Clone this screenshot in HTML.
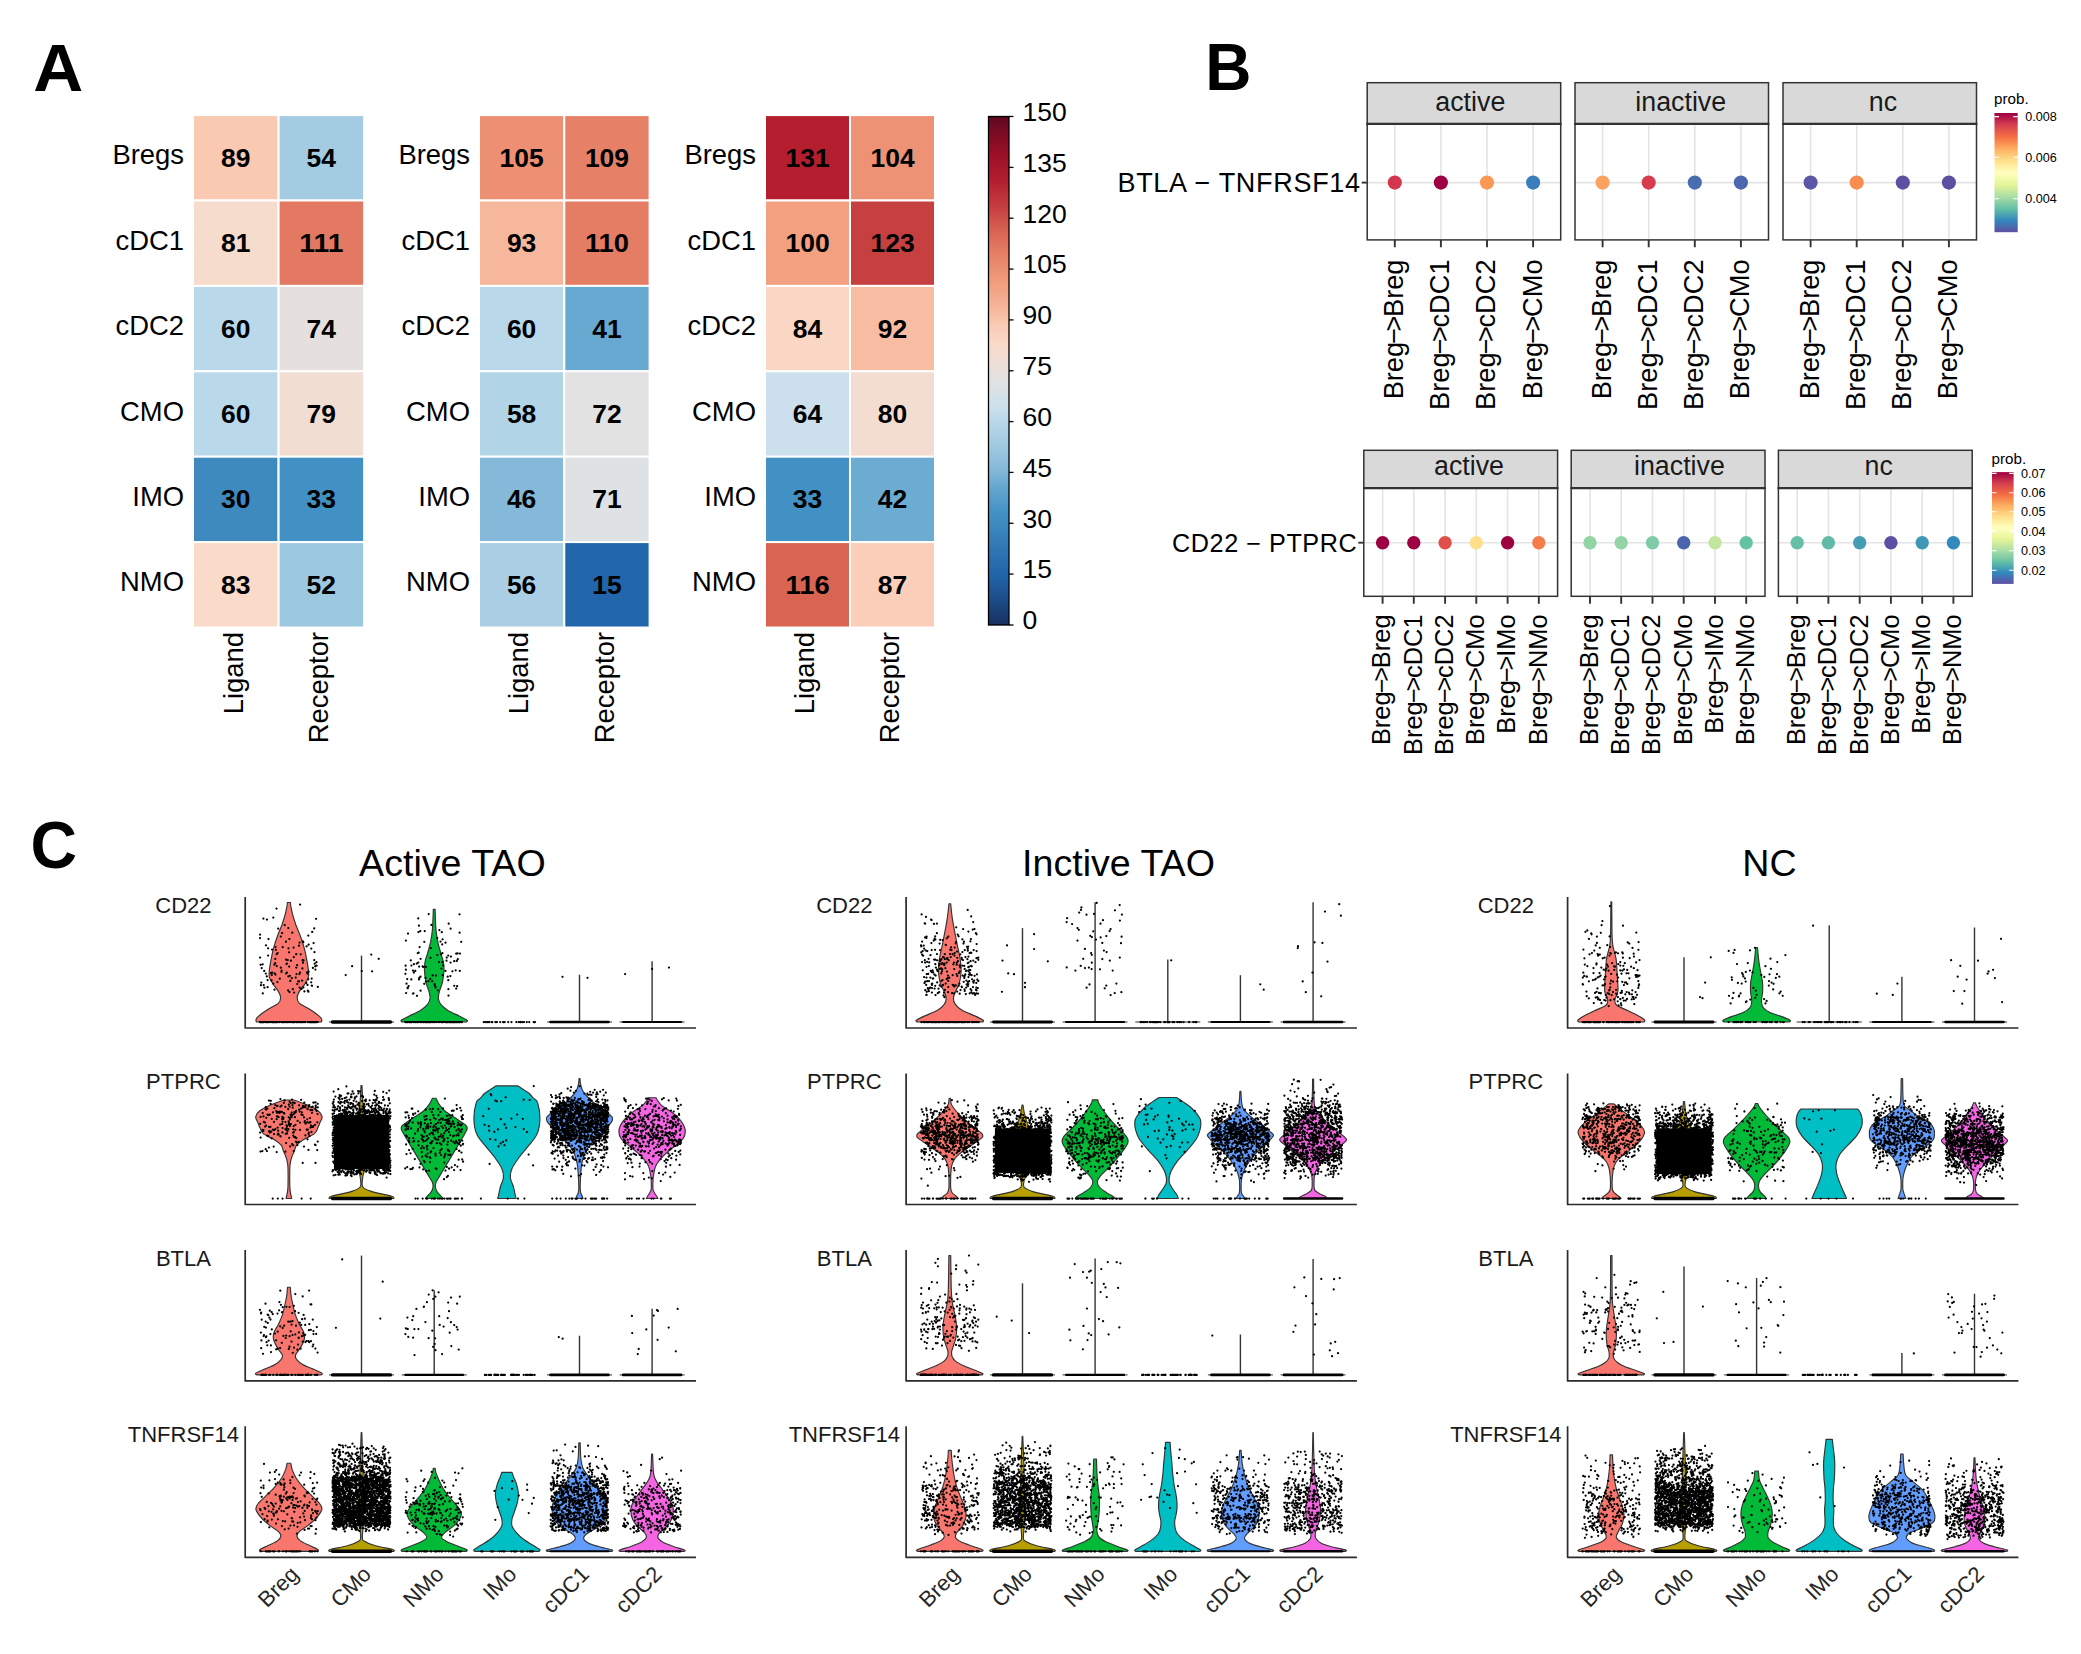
<!DOCTYPE html>
<html><head><meta charset="utf-8"><title>Figure</title>
<style>
html,body{margin:0;padding:0;background:#fff;}
body{width:2081px;height:1654px;overflow:hidden;}
svg{display:block;font-family:"Liberation Sans", sans-serif;}
</style></head><body>
<svg width="2081" height="1654" viewBox="0 0 2081 1654">
<rect width="2081" height="1654" fill="#fff"/>
<text x="33.3" y="90.8" font-size="67.5" font-weight="bold" fill="#000" textLength="50.0" lengthAdjust="spacingAndGlyphs">A</text>
<rect x="193.0" y="115.1" width="85.55" height="85.4" fill="#f9c9b1" stroke="#fff" stroke-width="2"/>
<text x="221.1" y="166.8" font-size="25.3" font-weight="bold" textLength="29.4" lengthAdjust="spacingAndGlyphs" fill="#000">89</text>
<rect x="278.6" y="115.1" width="85.55" height="85.4" fill="#a3cce2" stroke="#fff" stroke-width="2"/>
<text x="306.6" y="166.8" font-size="25.3" font-weight="bold" textLength="29.4" lengthAdjust="spacingAndGlyphs" fill="#000">54</text>
<text x="184.0" y="164.4" font-size="27.4" text-anchor="end" fill="#000">Bregs</text>
<rect x="193.0" y="200.5" width="85.55" height="85.4" fill="#f6dccd" stroke="#fff" stroke-width="2"/>
<text x="221.1" y="252.2" font-size="25.3" font-weight="bold" textLength="29.4" lengthAdjust="spacingAndGlyphs" fill="#000">81</text>
<rect x="278.6" y="200.5" width="85.55" height="85.4" fill="#e37962" stroke="#fff" stroke-width="2"/>
<text x="299.3" y="252.2" font-size="25.3" font-weight="bold" textLength="44.1" lengthAdjust="spacingAndGlyphs" fill="#000">111</text>
<text x="184.0" y="249.8" font-size="27.4" text-anchor="end" fill="#000">cDC1</text>
<rect x="193.0" y="285.9" width="85.55" height="85.4" fill="#b9d8ea" stroke="#fff" stroke-width="2"/>
<text x="221.1" y="337.6" font-size="25.3" font-weight="bold" textLength="29.4" lengthAdjust="spacingAndGlyphs" fill="#000">60</text>
<rect x="278.6" y="285.9" width="85.55" height="85.4" fill="#e5e0dd" stroke="#fff" stroke-width="2"/>
<text x="306.6" y="337.6" font-size="25.3" font-weight="bold" textLength="29.4" lengthAdjust="spacingAndGlyphs" fill="#000">74</text>
<text x="184.0" y="335.2" font-size="27.4" text-anchor="end" fill="#000">cDC2</text>
<rect x="193.0" y="371.3" width="85.55" height="85.4" fill="#b9d8ea" stroke="#fff" stroke-width="2"/>
<text x="221.1" y="423.0" font-size="25.3" font-weight="bold" textLength="29.4" lengthAdjust="spacingAndGlyphs" fill="#000">60</text>
<rect x="278.6" y="371.3" width="85.55" height="85.4" fill="#f1ddd2" stroke="#fff" stroke-width="2"/>
<text x="306.6" y="423.0" font-size="25.3" font-weight="bold" textLength="29.4" lengthAdjust="spacingAndGlyphs" fill="#000">79</text>
<text x="184.0" y="420.6" font-size="27.4" text-anchor="end" fill="#000">CMO</text>
<rect x="193.0" y="456.7" width="85.55" height="85.4" fill="#3e8abf" stroke="#fff" stroke-width="2"/>
<text x="221.1" y="508.4" font-size="25.3" font-weight="bold" textLength="29.4" lengthAdjust="spacingAndGlyphs" fill="#000">30</text>
<rect x="278.6" y="456.7" width="85.55" height="85.4" fill="#4291c4" stroke="#fff" stroke-width="2"/>
<text x="306.6" y="508.4" font-size="25.3" font-weight="bold" textLength="29.4" lengthAdjust="spacingAndGlyphs" fill="#000">33</text>
<text x="184.0" y="506.0" font-size="27.4" text-anchor="end" fill="#000">IMO</text>
<rect x="193.0" y="542.1" width="85.55" height="85.4" fill="#fadac8" stroke="#fff" stroke-width="2"/>
<text x="221.1" y="593.8" font-size="25.3" font-weight="bold" textLength="29.4" lengthAdjust="spacingAndGlyphs" fill="#000">83</text>
<rect x="278.6" y="542.1" width="85.55" height="85.4" fill="#9cc8e0" stroke="#fff" stroke-width="2"/>
<text x="306.6" y="593.8" font-size="25.3" font-weight="bold" textLength="29.4" lengthAdjust="spacingAndGlyphs" fill="#000">52</text>
<text x="184.0" y="591.4" font-size="27.4" text-anchor="end" fill="#000">NMO</text>
<text transform="translate(242.6,632.0) rotate(-90)" font-size="27.4" text-anchor="end" fill="#000">Ligand</text>
<text transform="translate(328.1,632.0) rotate(-90)" font-size="27.4" text-anchor="end" fill="#000">Receptor</text>
<rect x="479.0" y="115.1" width="85.3" height="85.4" fill="#ec8f72" stroke="#fff" stroke-width="2"/>
<text x="499.6" y="166.8" font-size="25.3" font-weight="bold" textLength="44.1" lengthAdjust="spacingAndGlyphs" fill="#000">105</text>
<rect x="564.3" y="115.1" width="85.3" height="85.4" fill="#e68168" stroke="#fff" stroke-width="2"/>
<text x="584.9" y="166.8" font-size="25.3" font-weight="bold" textLength="44.1" lengthAdjust="spacingAndGlyphs" fill="#000">109</text>
<text x="470.0" y="164.4" font-size="27.4" text-anchor="end" fill="#000">Bregs</text>
<rect x="479.0" y="200.5" width="85.3" height="85.4" fill="#f6b79c" stroke="#fff" stroke-width="2"/>
<text x="506.9" y="252.2" font-size="25.3" font-weight="bold" textLength="29.4" lengthAdjust="spacingAndGlyphs" fill="#000">93</text>
<rect x="564.3" y="200.5" width="85.3" height="85.4" fill="#e57d65" stroke="#fff" stroke-width="2"/>
<text x="584.9" y="252.2" font-size="25.3" font-weight="bold" textLength="44.1" lengthAdjust="spacingAndGlyphs" fill="#000">110</text>
<text x="470.0" y="249.8" font-size="27.4" text-anchor="end" fill="#000">cDC1</text>
<rect x="479.0" y="285.9" width="85.3" height="85.4" fill="#b9d8ea" stroke="#fff" stroke-width="2"/>
<text x="506.9" y="337.6" font-size="25.3" font-weight="bold" textLength="29.4" lengthAdjust="spacingAndGlyphs" fill="#000">60</text>
<rect x="564.3" y="285.9" width="85.3" height="85.4" fill="#67a9d0" stroke="#fff" stroke-width="2"/>
<text x="592.2" y="337.6" font-size="25.3" font-weight="bold" textLength="29.4" lengthAdjust="spacingAndGlyphs" fill="#000">41</text>
<text x="470.0" y="335.2" font-size="27.4" text-anchor="end" fill="#000">cDC2</text>
<rect x="479.0" y="371.3" width="85.3" height="85.4" fill="#b2d4e7" stroke="#fff" stroke-width="2"/>
<text x="506.9" y="423.0" font-size="25.3" font-weight="bold" textLength="29.4" lengthAdjust="spacingAndGlyphs" fill="#000">58</text>
<rect x="564.3" y="371.3" width="85.3" height="85.4" fill="#e2e2e2" stroke="#fff" stroke-width="2"/>
<text x="592.2" y="423.0" font-size="25.3" font-weight="bold" textLength="29.4" lengthAdjust="spacingAndGlyphs" fill="#000">72</text>
<text x="470.0" y="420.6" font-size="27.4" text-anchor="end" fill="#000">CMO</text>
<rect x="479.0" y="456.7" width="85.3" height="85.4" fill="#85b9d9" stroke="#fff" stroke-width="2"/>
<text x="506.9" y="508.4" font-size="25.3" font-weight="bold" textLength="29.4" lengthAdjust="spacingAndGlyphs" fill="#000">46</text>
<rect x="564.3" y="456.7" width="85.3" height="85.4" fill="#dee2e5" stroke="#fff" stroke-width="2"/>
<text x="592.2" y="508.4" font-size="25.3" font-weight="bold" textLength="29.4" lengthAdjust="spacingAndGlyphs" fill="#000">71</text>
<text x="470.0" y="506.0" font-size="27.4" text-anchor="end" fill="#000">IMO</text>
<rect x="479.0" y="542.1" width="85.3" height="85.4" fill="#aacfe4" stroke="#fff" stroke-width="2"/>
<text x="506.9" y="593.8" font-size="25.3" font-weight="bold" textLength="29.4" lengthAdjust="spacingAndGlyphs" fill="#000">56</text>
<rect x="564.3" y="542.1" width="85.3" height="85.4" fill="#2165aa" stroke="#fff" stroke-width="2"/>
<text x="592.2" y="593.8" font-size="25.3" font-weight="bold" textLength="29.4" lengthAdjust="spacingAndGlyphs" fill="#000">15</text>
<text x="470.0" y="591.4" font-size="27.4" text-anchor="end" fill="#000">NMO</text>
<text transform="translate(528.4,632.0) rotate(-90)" font-size="27.4" text-anchor="end" fill="#000">Ligand</text>
<text transform="translate(613.7,632.0) rotate(-90)" font-size="27.4" text-anchor="end" fill="#000">Receptor</text>
<rect x="765.0" y="115.1" width="85.0" height="85.4" fill="#b41e2f" stroke="#fff" stroke-width="2"/>
<text x="785.5" y="166.8" font-size="25.3" font-weight="bold" textLength="44.1" lengthAdjust="spacingAndGlyphs" fill="#000">131</text>
<rect x="850.0" y="115.1" width="85.0" height="85.4" fill="#ed9275" stroke="#fff" stroke-width="2"/>
<text x="870.5" y="166.8" font-size="25.3" font-weight="bold" textLength="44.1" lengthAdjust="spacingAndGlyphs" fill="#000">104</text>
<text x="756.0" y="164.4" font-size="27.4" text-anchor="end" fill="#000">Bregs</text>
<rect x="765.0" y="200.5" width="85.0" height="85.4" fill="#f2a080" stroke="#fff" stroke-width="2"/>
<text x="785.5" y="252.2" font-size="25.3" font-weight="bold" textLength="44.1" lengthAdjust="spacingAndGlyphs" fill="#000">100</text>
<rect x="850.0" y="200.5" width="85.0" height="85.4" fill="#c64040" stroke="#fff" stroke-width="2"/>
<text x="870.5" y="252.2" font-size="25.3" font-weight="bold" textLength="44.1" lengthAdjust="spacingAndGlyphs" fill="#000">123</text>
<text x="756.0" y="249.8" font-size="27.4" text-anchor="end" fill="#000">cDC1</text>
<rect x="765.0" y="285.9" width="85.0" height="85.4" fill="#fad7c4" stroke="#fff" stroke-width="2"/>
<text x="792.8" y="337.6" font-size="25.3" font-weight="bold" textLength="29.4" lengthAdjust="spacingAndGlyphs" fill="#000">84</text>
<rect x="850.0" y="285.9" width="85.0" height="85.4" fill="#f7bca1" stroke="#fff" stroke-width="2"/>
<text x="877.8" y="337.6" font-size="25.3" font-weight="bold" textLength="29.4" lengthAdjust="spacingAndGlyphs" fill="#000">92</text>
<text x="756.0" y="335.2" font-size="27.4" text-anchor="end" fill="#000">cDC2</text>
<rect x="765.0" y="371.3" width="85.0" height="85.4" fill="#cbe0ec" stroke="#fff" stroke-width="2"/>
<text x="792.8" y="423.0" font-size="25.3" font-weight="bold" textLength="29.4" lengthAdjust="spacingAndGlyphs" fill="#000">64</text>
<rect x="850.0" y="371.3" width="85.0" height="85.4" fill="#f3dcd0" stroke="#fff" stroke-width="2"/>
<text x="877.8" y="423.0" font-size="25.3" font-weight="bold" textLength="29.4" lengthAdjust="spacingAndGlyphs" fill="#000">80</text>
<text x="756.0" y="420.6" font-size="27.4" text-anchor="end" fill="#000">CMO</text>
<rect x="765.0" y="456.7" width="85.0" height="85.4" fill="#4291c4" stroke="#fff" stroke-width="2"/>
<text x="792.8" y="508.4" font-size="25.3" font-weight="bold" textLength="29.4" lengthAdjust="spacingAndGlyphs" fill="#000">33</text>
<rect x="850.0" y="456.7" width="85.0" height="85.4" fill="#6dacd2" stroke="#fff" stroke-width="2"/>
<text x="877.8" y="508.4" font-size="25.3" font-weight="bold" textLength="29.4" lengthAdjust="spacingAndGlyphs" fill="#000">42</text>
<text x="756.0" y="506.0" font-size="27.4" text-anchor="end" fill="#000">IMO</text>
<rect x="765.0" y="542.1" width="85.0" height="85.4" fill="#d96452" stroke="#fff" stroke-width="2"/>
<text x="785.5" y="593.8" font-size="25.3" font-weight="bold" textLength="44.1" lengthAdjust="spacingAndGlyphs" fill="#000">116</text>
<rect x="850.0" y="542.1" width="85.0" height="85.4" fill="#faceb9" stroke="#fff" stroke-width="2"/>
<text x="877.8" y="593.8" font-size="25.3" font-weight="bold" textLength="29.4" lengthAdjust="spacingAndGlyphs" fill="#000">87</text>
<text x="756.0" y="591.4" font-size="27.4" text-anchor="end" fill="#000">NMO</text>
<text transform="translate(814.3,632.0) rotate(-90)" font-size="27.4" text-anchor="end" fill="#000">Ligand</text>
<text transform="translate(899.3,632.0) rotate(-90)" font-size="27.4" text-anchor="end" fill="#000">Receptor</text>
<defs><linearGradient id="gA" x1="0" y1="0" x2="0" y2="1"><stop offset="0.0000" stop-color="#600820"/><stop offset="0.0667" stop-color="#960e26"/><stop offset="0.1267" stop-color="#b41e2f"/><stop offset="0.1800" stop-color="#c64040"/><stop offset="0.2267" stop-color="#d96452"/><stop offset="0.2667" stop-color="#e57d65"/><stop offset="0.3000" stop-color="#ec8f72"/><stop offset="0.3333" stop-color="#f2a080"/><stop offset="0.3800" stop-color="#f6b79c"/><stop offset="0.4067" stop-color="#f9c9b1"/><stop offset="0.4200" stop-color="#faceb9"/><stop offset="0.4467" stop-color="#fadac8"/><stop offset="0.4733" stop-color="#f1ddd2"/><stop offset="0.5067" stop-color="#e5e0dd"/><stop offset="0.5200" stop-color="#e2e2e2"/><stop offset="0.5267" stop-color="#dee2e5"/><stop offset="0.5733" stop-color="#cbe0ec"/><stop offset="0.6000" stop-color="#b9d8ea"/><stop offset="0.6267" stop-color="#aacfe4"/><stop offset="0.6533" stop-color="#9cc8e0"/><stop offset="0.6933" stop-color="#85b9d9"/><stop offset="0.7267" stop-color="#67a9d0"/><stop offset="0.7800" stop-color="#4291c4"/><stop offset="0.8000" stop-color="#3e8abf"/><stop offset="0.9000" stop-color="#2165aa"/><stop offset="0.9467" stop-color="#1c4e8c"/><stop offset="1.0000" stop-color="#183062"/></linearGradient></defs>
<rect x="988.5" y="116.5" width="20.5" height="508.5" fill="url(#gA)" stroke="#000" stroke-width="1.3"/>
<path d="M1009.0 625.0h4.5" stroke="#000" stroke-width="1.3"/>
<text x="1022.5" y="629.3" font-size="26.5" fill="#000">0</text>
<path d="M1009.0 574.1h4.5" stroke="#000" stroke-width="1.3"/>
<text x="1022.5" y="578.4" font-size="26.5" fill="#000">15</text>
<path d="M1009.0 523.3h4.5" stroke="#000" stroke-width="1.3"/>
<text x="1022.5" y="527.6" font-size="26.5" fill="#000">30</text>
<path d="M1009.0 472.4h4.5" stroke="#000" stroke-width="1.3"/>
<text x="1022.5" y="476.8" font-size="26.5" fill="#000">45</text>
<path d="M1009.0 421.6h4.5" stroke="#000" stroke-width="1.3"/>
<text x="1022.5" y="425.9" font-size="26.5" fill="#000">60</text>
<path d="M1009.0 370.8h4.5" stroke="#000" stroke-width="1.3"/>
<text x="1022.5" y="375.1" font-size="26.5" fill="#000">75</text>
<path d="M1009.0 319.9h4.5" stroke="#000" stroke-width="1.3"/>
<text x="1022.5" y="324.2" font-size="26.5" fill="#000">90</text>
<path d="M1009.0 269.1h4.5" stroke="#000" stroke-width="1.3"/>
<text x="1022.5" y="273.4" font-size="26.5" fill="#000">105</text>
<path d="M1009.0 218.2h4.5" stroke="#000" stroke-width="1.3"/>
<text x="1022.5" y="222.5" font-size="26.5" fill="#000">120</text>
<path d="M1009.0 167.4h4.5" stroke="#000" stroke-width="1.3"/>
<text x="1022.5" y="171.7" font-size="26.5" fill="#000">135</text>
<path d="M1009.0 116.5h4.5" stroke="#000" stroke-width="1.3"/>
<text x="1022.5" y="120.8" font-size="26.5" fill="#000">150</text>
<text x="1205.2" y="89.6" font-size="67.5" font-weight="bold" fill="#000" textLength="46.2" lengthAdjust="spacingAndGlyphs">B</text>
<defs><linearGradient id="gS" x1="0" y1="0" x2="0" y2="1"><stop offset="0.0" stop-color="#9e0142"/><stop offset="0.1" stop-color="#d53e4f"/><stop offset="0.2" stop-color="#f46d43"/><stop offset="0.3" stop-color="#fdae61"/><stop offset="0.4" stop-color="#fee08b"/><stop offset="0.5" stop-color="#ffffbf"/><stop offset="0.6" stop-color="#e6f598"/><stop offset="0.7" stop-color="#abdda4"/><stop offset="0.8" stop-color="#66c2a5"/><stop offset="0.9" stop-color="#3288bd"/><stop offset="1.0" stop-color="#5e4fa2"/></linearGradient></defs>
<text x="1360.8" y="191.8" font-size="27.0" letter-spacing="0.7" text-anchor="end" fill="#000">BTLA − TNFRSF14</text>
<path d="M1361.7 182.6h5.5" stroke="#333" stroke-width="1.9"/>
<rect x="1367.2" y="123.8" width="193.5" height="116.1" fill="#fff"/>
<path d="M1367.2 182.6h193.5M1394.8 123.8V239.9M1440.9 123.8V239.9M1487.0 123.8V239.9M1533.1 123.8V239.9" stroke="#e4e4e4" stroke-width="1.6" fill="none"/>
<circle cx="1394.8" cy="182.6" r="7.1" fill="#d4364e"/>
<circle cx="1440.9" cy="182.6" r="7.1" fill="#9e0142"/>
<circle cx="1487.0" cy="182.6" r="7.1" fill="#fa9856"/>
<circle cx="1533.1" cy="182.6" r="7.1" fill="#3a7fb9"/>
<rect x="1367.2" y="123.8" width="193.5" height="116.1" fill="none" stroke="#333" stroke-width="1.5"/>
<rect x="1367.2" y="82.7" width="193.5" height="41.1" fill="#d9d9d9" stroke="#333" stroke-width="1.5"/>
<path d="M1366.45 123.8h195.00" stroke="#333" stroke-width="2.3"/>
<text x="1435.3" y="110.5" font-size="26.8" fill="#1a1a1a">active</text>
<path d="M1394.8 239.9v7.4M1440.9 239.9v7.4M1487.0 239.9v7.4M1533.1 239.9v7.4" stroke="#333" stroke-width="1.9"/>
<text transform="translate(1403.3,259.5) rotate(-90)" font-size="27.2" text-anchor="end" fill="#000">Breg<tspan dx="-1.90">−</tspan><tspan dx="-3.54">&gt;</tspan><tspan dx="-1.36">Breg</tspan></text>
<text transform="translate(1449.4,259.5) rotate(-90)" font-size="27.2" text-anchor="end" fill="#000">Breg<tspan dx="-1.90">−</tspan><tspan dx="-3.54">&gt;</tspan><tspan dx="-1.36">cDC1</tspan></text>
<text transform="translate(1495.4,259.5) rotate(-90)" font-size="27.2" text-anchor="end" fill="#000">Breg<tspan dx="-1.90">−</tspan><tspan dx="-3.54">&gt;</tspan><tspan dx="-1.36">cDC2</tspan></text>
<text transform="translate(1541.5,259.5) rotate(-90)" font-size="27.2" text-anchor="end" fill="#000">Breg<tspan dx="-1.90">−</tspan><tspan dx="-3.54">&gt;</tspan><tspan dx="-1.36">CMo</tspan></text>
<rect x="1575.0" y="123.8" width="193.5" height="116.1" fill="#fff"/>
<path d="M1575.0 182.6h193.5M1602.6 123.8V239.9M1648.7 123.8V239.9M1694.8 123.8V239.9M1740.9 123.8V239.9" stroke="#e4e4e4" stroke-width="1.6" fill="none"/>
<circle cx="1602.6" cy="182.6" r="7.1" fill="#fba35e"/>
<circle cx="1648.7" cy="182.6" r="7.1" fill="#d63c4e"/>
<circle cx="1694.8" cy="182.6" r="7.1" fill="#4a6cb0"/>
<circle cx="1740.9" cy="182.6" r="7.1" fill="#4c67ad"/>
<rect x="1575.0" y="123.8" width="193.5" height="116.1" fill="none" stroke="#333" stroke-width="1.5"/>
<rect x="1575.0" y="82.7" width="193.5" height="41.1" fill="#d9d9d9" stroke="#333" stroke-width="1.5"/>
<path d="M1574.25 123.8h195.00" stroke="#333" stroke-width="2.3"/>
<text x="1635.3" y="110.5" font-size="26.8" fill="#1a1a1a">inactive</text>
<path d="M1602.6 239.9v7.4M1648.7 239.9v7.4M1694.8 239.9v7.4M1740.9 239.9v7.4" stroke="#333" stroke-width="1.9"/>
<text transform="translate(1611.1,259.5) rotate(-90)" font-size="27.2" text-anchor="end" fill="#000">Breg<tspan dx="-1.90">−</tspan><tspan dx="-3.54">&gt;</tspan><tspan dx="-1.36">Breg</tspan></text>
<text transform="translate(1657.2,259.5) rotate(-90)" font-size="27.2" text-anchor="end" fill="#000">Breg<tspan dx="-1.90">−</tspan><tspan dx="-3.54">&gt;</tspan><tspan dx="-1.36">cDC1</tspan></text>
<text transform="translate(1703.2,259.5) rotate(-90)" font-size="27.2" text-anchor="end" fill="#000">Breg<tspan dx="-1.90">−</tspan><tspan dx="-3.54">&gt;</tspan><tspan dx="-1.36">cDC2</tspan></text>
<text transform="translate(1749.3,259.5) rotate(-90)" font-size="27.2" text-anchor="end" fill="#000">Breg<tspan dx="-1.90">−</tspan><tspan dx="-3.54">&gt;</tspan><tspan dx="-1.36">CMo</tspan></text>
<rect x="1783.0" y="123.8" width="193.5" height="116.1" fill="#fff"/>
<path d="M1783.0 182.6h193.5M1810.6 123.8V239.9M1856.7 123.8V239.9M1902.8 123.8V239.9M1948.9 123.8V239.9" stroke="#e4e4e4" stroke-width="1.6" fill="none"/>
<circle cx="1810.6" cy="182.6" r="7.1" fill="#5c56a6"/>
<circle cx="1856.7" cy="182.6" r="7.1" fill="#f88c51"/>
<circle cx="1902.8" cy="182.6" r="7.1" fill="#5e4fa2"/>
<circle cx="1948.9" cy="182.6" r="7.1" fill="#5e4fa2"/>
<rect x="1783.0" y="123.8" width="193.5" height="116.1" fill="none" stroke="#333" stroke-width="1.5"/>
<rect x="1783.0" y="82.7" width="193.5" height="41.1" fill="#d9d9d9" stroke="#333" stroke-width="1.5"/>
<path d="M1782.25 123.8h195.00" stroke="#333" stroke-width="2.3"/>
<text x="1868.8" y="110.5" font-size="26.8" fill="#1a1a1a">nc</text>
<path d="M1810.6 239.9v7.4M1856.7 239.9v7.4M1902.8 239.9v7.4M1948.9 239.9v7.4" stroke="#333" stroke-width="1.9"/>
<text transform="translate(1819.1,259.5) rotate(-90)" font-size="27.2" text-anchor="end" fill="#000">Breg<tspan dx="-1.90">−</tspan><tspan dx="-3.54">&gt;</tspan><tspan dx="-1.36">Breg</tspan></text>
<text transform="translate(1865.2,259.5) rotate(-90)" font-size="27.2" text-anchor="end" fill="#000">Breg<tspan dx="-1.90">−</tspan><tspan dx="-3.54">&gt;</tspan><tspan dx="-1.36">cDC1</tspan></text>
<text transform="translate(1911.2,259.5) rotate(-90)" font-size="27.2" text-anchor="end" fill="#000">Breg<tspan dx="-1.90">−</tspan><tspan dx="-3.54">&gt;</tspan><tspan dx="-1.36">cDC2</tspan></text>
<text transform="translate(1957.3,259.5) rotate(-90)" font-size="27.2" text-anchor="end" fill="#000">Breg<tspan dx="-1.90">−</tspan><tspan dx="-3.54">&gt;</tspan><tspan dx="-1.36">CMo</tspan></text>
<text x="1994.0" y="104.0" font-size="15.2" fill="#000">prob.</text>
<rect x="1994.5" y="113.0" width="23.2" height="119.2" fill="url(#gS)"/>
<path d="M1994.5 116.6h4.5M2017.7 116.6h-4.5" stroke="#fff" stroke-width="1.1"/>
<text x="2025.2" y="121.0" font-size="12.6" fill="#000">0.008</text>
<path d="M1994.5 157.2h4.5M2017.7 157.2h-4.5" stroke="#fff" stroke-width="1.1"/>
<text x="2025.2" y="161.6" font-size="12.6" fill="#000">0.006</text>
<path d="M1994.5 198.8h4.5M2017.7 198.8h-4.5" stroke="#fff" stroke-width="1.1"/>
<text x="2025.2" y="203.2" font-size="12.6" fill="#000">0.004</text>
<text x="1357.2" y="551.9" font-size="25.2" letter-spacing="0.55" text-anchor="end" fill="#000">CD22 − PTPRC</text>
<path d="M1358.3 542.7h5.5" stroke="#333" stroke-width="1.9"/>
<rect x="1363.8" y="488.1" width="193.8" height="108.2" fill="#fff"/>
<path d="M1363.8 542.7h193.8M1382.6 488.1V596.3M1413.8 488.1V596.3M1445.1 488.1V596.3M1476.3 488.1V596.3M1507.6 488.1V596.3M1538.8 488.1V596.3" stroke="#e4e4e4" stroke-width="1.6" fill="none"/>
<circle cx="1382.6" cy="542.7" r="6.7" fill="#9e0142"/>
<circle cx="1413.8" cy="542.7" r="6.7" fill="#9e0142"/>
<circle cx="1445.1" cy="542.7" r="6.7" fill="#e0504b"/>
<circle cx="1476.3" cy="542.7" r="6.7" fill="#fddf8b"/>
<circle cx="1507.6" cy="542.7" r="6.7" fill="#9e0142"/>
<circle cx="1538.8" cy="542.7" r="6.7" fill="#f57d49"/>
<rect x="1363.8" y="488.1" width="193.8" height="108.2" fill="none" stroke="#333" stroke-width="1.5"/>
<rect x="1363.8" y="450.3" width="193.8" height="37.8" fill="#d9d9d9" stroke="#333" stroke-width="1.5"/>
<path d="M1363.05 488.1h195.30" stroke="#333" stroke-width="2.3"/>
<text x="1434.0" y="475.3" font-size="26.8" fill="#1a1a1a">active</text>
<path d="M1382.6 596.3v7.4M1413.8 596.3v7.4M1445.1 596.3v7.4M1476.3 596.3v7.4M1507.6 596.3v7.4M1538.8 596.3v7.4" stroke="#333" stroke-width="1.9"/>
<text transform="translate(1390.3,614.5) rotate(-90)" font-size="25.4" text-anchor="end" fill="#000">Breg<tspan dx="-1.78">−</tspan><tspan dx="-3.30">&gt;</tspan><tspan dx="-1.27">Breg</tspan></text>
<text transform="translate(1421.6,614.5) rotate(-90)" font-size="25.4" text-anchor="end" fill="#000">Breg<tspan dx="-1.78">−</tspan><tspan dx="-3.30">&gt;</tspan><tspan dx="-1.27">cDC1</tspan></text>
<text transform="translate(1452.9,614.5) rotate(-90)" font-size="25.4" text-anchor="end" fill="#000">Breg<tspan dx="-1.78">−</tspan><tspan dx="-3.30">&gt;</tspan><tspan dx="-1.27">cDC2</tspan></text>
<text transform="translate(1484.1,614.5) rotate(-90)" font-size="25.4" text-anchor="end" fill="#000">Breg<tspan dx="-1.78">−</tspan><tspan dx="-3.30">&gt;</tspan><tspan dx="-1.27">CMo</tspan></text>
<text transform="translate(1515.4,614.5) rotate(-90)" font-size="25.4" text-anchor="end" fill="#000">Breg<tspan dx="-1.78">−</tspan><tspan dx="-3.30">&gt;</tspan><tspan dx="-1.27">IMo</tspan></text>
<text transform="translate(1546.6,614.5) rotate(-90)" font-size="25.4" text-anchor="end" fill="#000">Breg<tspan dx="-1.78">−</tspan><tspan dx="-3.30">&gt;</tspan><tspan dx="-1.27">NMo</tspan></text>
<rect x="1571.2" y="488.1" width="193.8" height="108.2" fill="#fff"/>
<path d="M1571.2 542.7h193.8M1590.0 488.1V596.3M1621.2 488.1V596.3M1652.5 488.1V596.3M1683.7 488.1V596.3M1715.0 488.1V596.3M1746.2 488.1V596.3" stroke="#e4e4e4" stroke-width="1.6" fill="none"/>
<circle cx="1590.0" cy="542.7" r="6.7" fill="#93d4a4"/>
<circle cx="1621.2" cy="542.7" r="6.7" fill="#93d4a4"/>
<circle cx="1652.5" cy="542.7" r="6.7" fill="#7fcba5"/>
<circle cx="1683.7" cy="542.7" r="6.7" fill="#4a65ad"/>
<circle cx="1715.0" cy="542.7" r="6.7" fill="#c2e69f"/>
<circle cx="1746.2" cy="542.7" r="6.7" fill="#66c2a5"/>
<rect x="1571.2" y="488.1" width="193.8" height="108.2" fill="none" stroke="#333" stroke-width="1.5"/>
<rect x="1571.2" y="450.3" width="193.8" height="37.8" fill="#d9d9d9" stroke="#333" stroke-width="1.5"/>
<path d="M1570.45 488.1h195.30" stroke="#333" stroke-width="2.3"/>
<text x="1634.0" y="475.3" font-size="26.8" fill="#1a1a1a">inactive</text>
<path d="M1590.0 596.3v7.4M1621.2 596.3v7.4M1652.5 596.3v7.4M1683.7 596.3v7.4M1715.0 596.3v7.4M1746.2 596.3v7.4" stroke="#333" stroke-width="1.9"/>
<text transform="translate(1597.7,614.5) rotate(-90)" font-size="25.4" text-anchor="end" fill="#000">Breg<tspan dx="-1.78">−</tspan><tspan dx="-3.30">&gt;</tspan><tspan dx="-1.27">Breg</tspan></text>
<text transform="translate(1629.0,614.5) rotate(-90)" font-size="25.4" text-anchor="end" fill="#000">Breg<tspan dx="-1.78">−</tspan><tspan dx="-3.30">&gt;</tspan><tspan dx="-1.27">cDC1</tspan></text>
<text transform="translate(1660.3,614.5) rotate(-90)" font-size="25.4" text-anchor="end" fill="#000">Breg<tspan dx="-1.78">−</tspan><tspan dx="-3.30">&gt;</tspan><tspan dx="-1.27">cDC2</tspan></text>
<text transform="translate(1691.5,614.5) rotate(-90)" font-size="25.4" text-anchor="end" fill="#000">Breg<tspan dx="-1.78">−</tspan><tspan dx="-3.30">&gt;</tspan><tspan dx="-1.27">CMo</tspan></text>
<text transform="translate(1722.8,614.5) rotate(-90)" font-size="25.4" text-anchor="end" fill="#000">Breg<tspan dx="-1.78">−</tspan><tspan dx="-3.30">&gt;</tspan><tspan dx="-1.27">IMo</tspan></text>
<text transform="translate(1754.0,614.5) rotate(-90)" font-size="25.4" text-anchor="end" fill="#000">Breg<tspan dx="-1.78">−</tspan><tspan dx="-3.30">&gt;</tspan><tspan dx="-1.27">NMo</tspan></text>
<rect x="1778.4" y="488.1" width="193.8" height="108.2" fill="#fff"/>
<path d="M1778.4 542.7h193.8M1797.2 488.1V596.3M1828.4 488.1V596.3M1859.7 488.1V596.3M1890.9 488.1V596.3M1922.2 488.1V596.3M1953.4 488.1V596.3" stroke="#e4e4e4" stroke-width="1.6" fill="none"/>
<circle cx="1797.2" cy="542.7" r="6.7" fill="#66bfa6"/>
<circle cx="1828.4" cy="542.7" r="6.7" fill="#62bba8"/>
<circle cx="1859.7" cy="542.7" r="6.7" fill="#449db3"/>
<circle cx="1890.9" cy="542.7" r="6.7" fill="#5e4fa2"/>
<circle cx="1922.2" cy="542.7" r="6.7" fill="#3f96b7"/>
<circle cx="1953.4" cy="542.7" r="6.7" fill="#3389bc"/>
<rect x="1778.4" y="488.1" width="193.8" height="108.2" fill="none" stroke="#333" stroke-width="1.5"/>
<rect x="1778.4" y="450.3" width="193.8" height="37.8" fill="#d9d9d9" stroke="#333" stroke-width="1.5"/>
<path d="M1777.65 488.1h195.30" stroke="#333" stroke-width="2.3"/>
<text x="1864.5" y="475.3" font-size="26.8" fill="#1a1a1a">nc</text>
<path d="M1797.2 596.3v7.4M1828.4 596.3v7.4M1859.7 596.3v7.4M1890.9 596.3v7.4M1922.2 596.3v7.4M1953.4 596.3v7.4" stroke="#333" stroke-width="1.9"/>
<text transform="translate(1804.9,614.5) rotate(-90)" font-size="25.4" text-anchor="end" fill="#000">Breg<tspan dx="-1.78">−</tspan><tspan dx="-3.30">&gt;</tspan><tspan dx="-1.27">Breg</tspan></text>
<text transform="translate(1836.2,614.5) rotate(-90)" font-size="25.4" text-anchor="end" fill="#000">Breg<tspan dx="-1.78">−</tspan><tspan dx="-3.30">&gt;</tspan><tspan dx="-1.27">cDC1</tspan></text>
<text transform="translate(1867.5,614.5) rotate(-90)" font-size="25.4" text-anchor="end" fill="#000">Breg<tspan dx="-1.78">−</tspan><tspan dx="-3.30">&gt;</tspan><tspan dx="-1.27">cDC2</tspan></text>
<text transform="translate(1898.7,614.5) rotate(-90)" font-size="25.4" text-anchor="end" fill="#000">Breg<tspan dx="-1.78">−</tspan><tspan dx="-3.30">&gt;</tspan><tspan dx="-1.27">CMo</tspan></text>
<text transform="translate(1930.0,614.5) rotate(-90)" font-size="25.4" text-anchor="end" fill="#000">Breg<tspan dx="-1.78">−</tspan><tspan dx="-3.30">&gt;</tspan><tspan dx="-1.27">IMo</tspan></text>
<text transform="translate(1961.2,614.5) rotate(-90)" font-size="25.4" text-anchor="end" fill="#000">Breg<tspan dx="-1.78">−</tspan><tspan dx="-3.30">&gt;</tspan><tspan dx="-1.27">NMo</tspan></text>
<text x="1991.5" y="463.5" font-size="15.2" fill="#000">prob.</text>
<rect x="1992.0" y="472.1" width="21.6" height="111.8" fill="url(#gS)"/>
<path d="M1992.0 473.4h4.5M2013.6 473.4h-4.5" stroke="#fff" stroke-width="1.1"/>
<text x="2021.1" y="477.8" font-size="12.6" fill="#000">0.07</text>
<path d="M1992.0 492.8h4.5M2013.6 492.8h-4.5" stroke="#fff" stroke-width="1.1"/>
<text x="2021.1" y="497.2" font-size="12.6" fill="#000">0.06</text>
<path d="M1992.0 511.8h4.5M2013.6 511.8h-4.5" stroke="#fff" stroke-width="1.1"/>
<text x="2021.1" y="516.2" font-size="12.6" fill="#000">0.05</text>
<path d="M1992.0 531.1h4.5M2013.6 531.1h-4.5" stroke="#fff" stroke-width="1.1"/>
<text x="2021.1" y="535.5" font-size="12.6" fill="#000">0.04</text>
<path d="M1992.0 550.8h4.5M2013.6 550.8h-4.5" stroke="#fff" stroke-width="1.1"/>
<text x="2021.1" y="555.2" font-size="12.6" fill="#000">0.03</text>
<path d="M1992.0 570.3h4.5M2013.6 570.3h-4.5" stroke="#fff" stroke-width="1.1"/>
<text x="2021.1" y="574.7" font-size="12.6" fill="#000">0.02</text>
<text x="30.6" y="868" font-size="67.5" font-weight="bold" fill="#000" textLength="46.5" lengthAdjust="spacingAndGlyphs">C</text>
<text x="452.4" y="876.3" font-size="37.6" text-anchor="middle" fill="#000">Active TAO</text>
<text x="1118.5" y="876.3" font-size="37.6" text-anchor="middle" fill="#000">Inctive TAO</text>
<text x="1769.5" y="876.3" font-size="37.6" text-anchor="middle" fill="#000">NC</text>
<text x="183.4" y="912.9" font-size="22" text-anchor="middle" fill="#1a1a1a">CD22</text>
<g transform="translate(288.9,1022.0)"><path d="M32.3 -0.0C32.4 -0.3 33.2 -1.0 33.0 -1.8C32.8 -2.7 33.0 -3.4 31.1 -5.1C29.3 -6.8 25.4 -9.7 21.9 -12.0C18.5 -14.3 12.6 -16.8 10.4 -18.9C8.1 -21.0 8.3 -22.8 8.3 -24.7C8.3 -26.6 9.2 -28.3 10.4 -30.4C11.6 -32.6 14.0 -35.1 15.5 -37.4C17.0 -39.7 18.7 -42.0 19.4 -44.3C20.1 -46.6 19.9 -48.1 19.6 -51.2C19.3 -54.3 18.5 -58.9 17.8 -62.7C17.0 -66.6 16.3 -70.4 15.2 -74.3C14.2 -78.1 12.9 -82.0 11.5 -85.8C10.1 -89.7 8.3 -93.6 6.9 -97.3C5.6 -101.1 4.3 -105.2 3.5 -108.4C2.6 -111.6 2.2 -114.6 1.8 -116.5C1.5 -118.3 1.7 -119.0 1.6 -119.5L-1.6 -119.5C-1.7 -119.0 -1.5 -118.3 -1.8 -116.5C-2.2 -114.6 -2.6 -111.6 -3.5 -108.4C-4.3 -105.2 -5.6 -101.1 -6.9 -97.3C-8.3 -93.6 -10.1 -89.7 -11.5 -85.8C-12.9 -82.0 -14.2 -78.1 -15.2 -74.3C-16.3 -70.4 -17.0 -66.6 -17.8 -62.7C-18.5 -58.9 -19.3 -54.3 -19.6 -51.2C-19.9 -48.1 -20.1 -46.6 -19.4 -44.3C-18.7 -42.0 -17.0 -39.7 -15.5 -37.4C-14.0 -35.1 -11.6 -32.6 -10.4 -30.4C-9.2 -28.3 -8.3 -26.6 -8.3 -24.7C-8.3 -22.8 -8.1 -21.0 -10.4 -18.9C-12.6 -16.8 -18.5 -14.3 -21.9 -12.0C-25.4 -9.7 -29.3 -6.8 -31.1 -5.1C-33.0 -3.4 -32.8 -2.7 -33.0 -1.8C-33.2 -1.0 -32.4 -0.3 -32.3 -0.0Z" fill="#F8766D" stroke="#333" stroke-width="1.15" stroke-linejoin="round"/><path transform="scale(.1)" d="m112-1175h0m-236 40h0m-32 90h0m-99 10h0m35 10h0m492-7h0m-314 63h0m36 29h0m259 4h0m-360 3h0m340 32h0m-301 12h0m102-4h0m-322 19h0m482 9h0m-275 11h0m-208 14h0m85 10h0m209 1h0m134 22h0m-168 4h0m135 8h0m38-3h0m103 9h0m-476 22h0m426-6h0m-97 10h0m77 7h0m-311 7h0m72 1h0m-146 11h0m204 0h0m51-7h0m177 10h0m-392 10h0m38 2h0m132 25h0m254-1h0m-369 8h0m-9 12h0m195 0h0m45 1h0m-326 12h0m257 15h0m-337 6h0m152 13h0m107 6h0m17 5h0m149 2h0m10 1h0m106-3h0m-233 7h0m256 15h0m-412 10h0m277-5h0m-403 16h0m238-3h0m4-5h0m278 2h0m-541 11h0m138-1h0m228 3h0m-204 10h0m384 3h0m14-6h0m-274 8h0m71 10h0m-346 5h0m191-3h0m216 7h0m105-5h0m25 16h0m-512 14h0m174-4h0m-1 14h0m255 4h0m16-7h0m-377 14h0m12-3h0m25 6h0m114 1h0m9-7h0m131-2h0m-342 10h0m97 10h0m210-4h0m29 0h0m81-4h0m-357 14h0m-50 13h0m216 0h0m15-6h0m58 17h0m-39 7h0m-120 5h0m285 6h0m34-7h0m-441 15h0m39 3h0m188 5h0m78 4h0m10 1h0m31-8h0m-248 14h0m338 3h0m-499 3h0m449 3h0m-330 7h0m241 5h0m-364 11h0m28-2h0m438-1h0m42 7h0m3 2h0m-444 14h0m320 3h0m38-1h0m144-5h0m-534 8h0m284 15h0m85-4h0m3 0h0m-271 9h0m136 7h0m163 10h0m34-7h0m-183 14h0m189-4h0m-456 17h0m313-9h0m-342 295h0m6 0h0m7 0h0m0 0h0m6 0h0m4 0h0m5 0h0m8 0h0m5 0h0m12 0h0m0 0h0m10 0h0m2 0h0m8 0h0m1 0h0m0 0h0m7 0h0m9 0h0m4 0h0m3 0h0m15 0h0m9 0h0m4 0h0m3 0h0m2 0h0m5 0h0m1 0h0m3 0h0m4 0h0m1 0h0m0 0h0m2 0h0m3 0h0m1 0h0m1 0h0m6 0h0m4 0h0m5 0h0m7 0h0m1 0h0m1 0h0m1 0h0m2 0h0m18 0h0m2 0h0m1 0h0m20 0h0m6 0h0m2 0h0m2 0h0m3 0h0m7 0h0m1 0h0m4 0h0m15 0h0m2 0h0m4 0h0m2 0h0m7 0h0m0 0h0m2 0h0m12 0h0m1 0h0m3 0h0m11 0h0m1 0h0m0 0h0m16 0h0m3 0h0m7 0h0m8 0h0m3 0h0m8 0h0m16 0h0m4 0h0m5 0h0m0 0h0m1 0h0m5 0h0m11 0h0m5 0h0m9 0h0m4 0h0m3 0h0m7 0h0m10 0h0m6 0h0m9 0h0m10 0h0m25 0h0m13 0h0m4 0h0m4 0h0m6 0h0m7 0h0m2 0h0m5 0h0m5 0h0m1 0h0m8 0h0m4 0h0m0 0h0m8 0h0m7 0h0m3 0h0m1 0h0m4 0h0m3 0h0m2 0h0m12 0h0" stroke="#000" stroke-width="22.5" stroke-linecap="round" fill="none"/></g>
<g transform="translate(361.5,1022.0)"><path d="M0 0V-66.4" stroke="#333" stroke-width="1.4"/><path d="M-32.5 0H32.5" stroke="#333" stroke-width="1"/><path d="M-29.0 0H29.0" stroke="#000" stroke-width="3.36" stroke-linecap="round"/><path transform="scale(.1)" d="m97-675h0m75 43h0m-266 74h0m97 49h0m103 2h0m-264 38h0" stroke="#000" stroke-width="22.5" stroke-linecap="round" fill="none"/></g>
<g transform="translate(434.2,1022.0)"><path d="M32.3 -0.0C32.4 -0.3 33.9 -0.9 32.8 -1.8C31.6 -2.8 28.5 -4.2 25.4 -5.8C22.2 -7.4 16.9 -9.6 13.8 -11.5C10.8 -13.5 8.5 -15.4 6.9 -17.3C5.3 -19.2 4.5 -21.0 4.2 -23.1C3.8 -25.2 4.4 -27.3 5.1 -30.0C5.7 -32.7 7.3 -35.8 8.1 -39.2C8.8 -42.7 9.5 -47.3 9.7 -50.7C9.9 -54.2 9.8 -56.9 9.2 -60.0C8.7 -63.1 7.4 -65.7 6.5 -69.2C5.5 -72.7 4.2 -76.9 3.5 -80.7C2.7 -84.6 2.2 -88.4 1.8 -92.3C1.5 -96.1 1.3 -100.4 1.2 -103.8C1.0 -107.2 1.0 -111.1 0.9 -112.6L-0.9 -112.6C-1.0 -111.1 -1.0 -107.2 -1.2 -103.8C-1.3 -100.4 -1.5 -96.1 -1.8 -92.3C-2.2 -88.4 -2.7 -84.6 -3.5 -80.7C-4.2 -76.9 -5.5 -72.7 -6.5 -69.2C-7.4 -65.7 -8.7 -63.1 -9.2 -60.0C-9.8 -56.9 -9.9 -54.2 -9.7 -50.7C-9.5 -47.3 -8.8 -42.7 -8.1 -39.2C-7.3 -35.8 -5.7 -32.7 -5.1 -30.0C-4.4 -27.3 -3.8 -25.2 -4.2 -23.1C-4.5 -21.0 -5.3 -19.2 -6.9 -17.3C-8.5 -15.4 -10.8 -13.5 -13.8 -11.5C-16.9 -9.6 -22.2 -7.4 -25.4 -5.8C-28.5 -4.2 -31.6 -2.8 -32.8 -1.8C-33.9 -0.9 -32.4 -0.3 -32.3 -0.0Z" fill="#00BA38" stroke="#333" stroke-width="1.15" stroke-linejoin="round"/><path transform="scale(.1)" d="m-55-1079h0m308 2h0m-413 41h0m305 53h0m-173 12h0m-125 8h0m317 30h0m-112 14h0m-191 10h0m44-1h0m-63 10h0m234 2h0m178 5h0m-516 9h0m292 45h0m54 12h0m-367 12h0m184 13h0m162-2h0m207 2h0m-157 9h0m-33 17h0m-226 26h0m113 11h0m-122 44h0m-9 5h0m246 2h0m152 2h0m-167 10h0m153-7h0m38-2h0m-227 15h0m109 6h0m27 9h0m-204 13h0m162-2h0m-261 12h0m372 4h0m-470 12h0m357 3h0m77 5h0m26-3h0m-178 12h0m34 1h0m82 3h0m-338 10h0m15-9h0m-44 16h0m-25 13h0m317-1h0m-375 3h0m170 6h0m-35 3h0m40 3h0m27 0h0m156 16h0m-355 12h0m498 6h0m-427 2h0m23 4h0m301 0h0m70 4h0m74-4h0m-459 16h0m-85 13h0m273 16h0m99-2h0m-66 4h0m144 5h0m-299 6h0m272 0h0m-284 12h0m62 0h0m-183 12h0m41 3h0m77 0h0m113-5h0m180 13h0m-198 10h0m37 0h0m-63 4h0m-194 21h0m177 1h0m104 4h0m-260 20h0m263-4h0m193 0h0m29 4h0m-216 12h0m-280 5h0m3 3h0m406 10h0m78-6h0m-184 17h0m-172 4h0m-145 24h0m74 2h0m-6 2h0m41 23h0m315-2h0m-432 264h0m2 0h0m9 0h0m3 0h0m1 0h0m1 0h0m1 0h0m2 0h0m4 0h0m14 0h0m0 0h0m7 0h0m2 0h0m3 0h0m3 0h0m4 0h0m1 0h0m4 0h0m0 0h0m2 0h0m1 0h0m17 0h0m2 0h0m15 0h0m8 0h0m10 0h0m2 0h0m0 0h0m1 0h0m3 0h0m2 0h0m1 0h0m9 0h0m14 0h0m2 0h0m2 0h0m11 0h0m1 0h0m2 0h0m11 0h0m7 0h0m1 0h0m3 0h0m11 0h0m1 0h0m0 0h0m1 0h0m4 0h0m5 0h0m2 0h0m7 0h0m9 0h0m4 0h0m6 0h0m7 0h0m7 0h0m1 0h0m13 0h0m5 0h0m13 0h0m0 0h0m2 0h0m2 0h0m2 0h0m1 0h0m16 0h0m4 0h0m19 0h0m11 0h0m17 0h0m2 0h0m3 0h0m2 0h0m2 0h0m0 0h0m1 0h0m6 0h0m11 0h0m16 0h0m2 0h0m0 0h0m1 0h0m1 0h0m3 0h0m6 0h0m5 0h0m7 0h0m10 0h0m1 0h0m1 0h0m3 0h0m6 0h0m8 0h0m1 0h0m5 0h0m9 0h0m3 0h0m1 0h0m0 0h0m4 0h0m3 0h0m5 0h0m5 0h0m2 0h0m3 0h0m3 0h0m3 0h0m10 0h0m2 0h0m1 0h0m1 0h0m6 0h0m5 0h0m2 0h0m9 0h0m8 0h0m1 0h0m11 0h0m8 0h0m1 0h0" stroke="#000" stroke-width="22.5" stroke-linecap="round" fill="none"/></g>
<g transform="translate(506.9,1022.0)"><path transform="scale(.1)" d="m-231 0h0m0 0h0m14 0h0m17 0h0m0 0h0m0 0h0m3 0h0m5 0h0m12 0h0m1 0h0m3 0h0m24 0h0m6 0h0m31 0h0m14 0h0m1 0h0m33 0h0m29 0h0m3 0h0m13 0h0m35 0h0m33 0h0m48 0h0m24 0h0m15 0h0m2 0h0m5 0h0m19 0h0m12 0h0m28 0h0m0 0h0m24 0h0m45 0h0m8 0h0m5 0h0" stroke="#000" stroke-width="22.5" stroke-linecap="round" fill="none"/></g>
<g transform="translate(579.5,1022.0)"><path d="M0 0V-47.3" stroke="#333" stroke-width="1.4"/><path d="M-32.5 0H32.5" stroke="#333" stroke-width="1"/><path d="M-29.0 0H29.0" stroke="#000" stroke-width="2.56" stroke-linecap="round"/><path transform="scale(.1)" d="m-170-452h0m250 10h0" stroke="#000" stroke-width="22.5" stroke-linecap="round" fill="none"/></g>
<g transform="translate(652.1,1022.0)"><path d="M0 0V-60.7" stroke="#333" stroke-width="1.4"/><path d="M-32.5 0H32.5" stroke="#333" stroke-width="1"/><path d="M-29.0 0H29.0" stroke="#000" stroke-width="2.08" stroke-linecap="round"/><path transform="scale(.1)" d="m169-544h0m-169 13h0m-270 51h0" stroke="#000" stroke-width="22.5" stroke-linecap="round" fill="none"/></g>
<path d="M245.2 897.1V1028.0H696.0" stroke="#2b2b2b" stroke-width="1.7" stroke-linejoin="round" fill="none"/>
<text x="183.4" y="1089.3" font-size="22" text-anchor="middle" fill="#1a1a1a">PTPRC</text>
<g transform="translate(288.9,1198.5)"><path d="M2.8 -0.0C2.5 -1.2 1.7 -4.8 1.4 -6.9C1.1 -9.0 1.0 -8.8 0.9 -12.7C0.8 -16.5 0.8 -26.1 0.9 -30.0C1.0 -33.8 1.2 -33.8 1.5 -35.8C1.8 -37.7 2.2 -39.6 2.9 -41.5C3.5 -43.4 4.7 -45.4 5.4 -47.3C6.2 -49.2 6.0 -51.1 7.5 -53.1C9.0 -55.0 11.4 -56.9 14.4 -58.8C17.4 -60.7 23.0 -62.7 25.4 -64.6C27.8 -66.5 27.9 -68.4 28.8 -70.4C29.8 -72.3 30.4 -74.2 31.1 -76.1C31.9 -78.0 33.6 -80.0 33.2 -81.9C32.9 -83.8 31.5 -85.7 29.1 -87.7C26.6 -89.6 22.5 -91.6 18.5 -93.4C14.5 -95.2 7.3 -97.7 5.1 -98.5L-5.1 -98.5C-7.3 -97.7 -14.5 -95.2 -18.5 -93.4C-22.5 -91.6 -26.6 -89.6 -29.1 -87.7C-31.5 -85.7 -32.9 -83.8 -33.2 -81.9C-33.6 -80.0 -31.9 -78.0 -31.1 -76.1C-30.4 -74.2 -29.8 -72.3 -28.8 -70.4C-27.9 -68.4 -27.8 -66.5 -25.4 -64.6C-23.0 -62.7 -17.4 -60.7 -14.4 -58.8C-11.4 -56.9 -9.0 -55.0 -7.5 -53.1C-6.0 -51.1 -6.2 -49.2 -5.4 -47.3C-4.7 -45.4 -3.5 -43.4 -2.9 -41.5C-2.2 -39.6 -1.8 -37.7 -1.5 -35.8C-1.2 -33.8 -1.0 -33.8 -0.9 -30.0C-0.8 -26.1 -0.8 -16.5 -0.9 -12.7C-1.0 -8.8 -1.1 -9.0 -1.4 -6.9C-1.7 -4.8 -2.5 -1.2 -2.8 -0.0Z" fill="#F8766D" stroke="#333" stroke-width="1.15" stroke-linejoin="round"/><path transform="scale(.1)" d="m-85-994h0m116 5h0m91 2h0m-321 8h0m18 2h0m138-4h0m50 12h0m-58 13h0m92-2h0m6-2h0m107 2h0m90-1h0m6-1h0m17-2h0m-450 15h0m201-7h0m41 0h0m229 7h0m-289 7h0m37 5h0m-172 1h0m22 7h0m41-3h0m175-2h0m39 6h0m26-4h0m36-4h0m66 5h0m-389 4h0m35 5h0m50 4h0m42-2h0m150 3h0m41-3h0m40 0h0m-470 4h0m270 6h0m99 0h0m28-5h0m62 1h0m41-1h0m21 1h0m-505 13h0m71-4h0m266 4h0m65 2h0m-419 4h0m6 3h0m219-4h0m110 4h0m85-3h0m79 0h0m-194 16h0m143-6h0m19 0h0m43 7h0m-402 3h0m34 3h0m5 4h0m16-1h0m177-3h0m-266 9h0m40 4h0m5-6h0m11-2h0m8 9h0m9-6h0m114 2h0m27-3h0m12 3h0m62-2h0m102 5h0m-493 2h0m210 2h0m4 0h0m2 3h0m96 3h0m-264 8h0m23-1h0m208 1h0m108-1h0m161-4h0m-490 11h0m226 7h0m11-7h0m105-1h0m-421 18h0m29-5h0m134 0h0m10 3h0m44 1h0m-160 10h0m123-7h0m49 8h0m52-6h0m29-3h0m33 2h0m91 2h0m59 6h0m-382 9h0m104 0h0m11 0h0m67-5h0m-133 8h0m133 2h0m173-1h0m-96 16h0m-338 10h0m102 0h0m85-4h0m29 5h0m32-7h0m162-2h0m-398 15h0m238 2h0m112-2h0m47-4h0m25 1h0m20 4h0m12-6h0m69 2h0m-571 15h0m220 1h0m234-2h0m-255 8h0m88 2h0m15-6h0m5 1h0m46 6h0m195 0h0m-489 8h0m204-3h0m31-1h0m213 1h0m-459 13h0m41 3h0m14-1h0m166-7h0m28 0h0m38 1h0m181 6h0m12 1h0m3-8h0m-357 14h0m329 0h0m-279 5h0m40 2h0m-241 17h0m10 1h0m93-4h0m26-6h0m100 3h0m6 2h0m24-3h0m48 1h0m22 5h0m45 1h0m68-2h0m11-1h0m-447 14h0m109-9h0m42 6h0m-92 6h0m7 1h0m16 2h0m162-5h0m239 8h0m-513 6h0m97 1h0m126-2h0m107 3h0m8-7h0m149 6h0m-305 11h0m74 1h0m13-4h0m216 6h0m-346 1h0m37 4h0m10 0h0m-116 11h0m262 0h0m121-3h0m-371 9h0m121 2h0m2 0h0m133 4h0m14 2h0m142-9h0m-489 15h0m286 2h0m59-4h0m-235 9h0m248-2h0m111 12h0m-116 23h0m28 3h0m190-4h0m-209 11h0m-107 5h0m60 10h0m228 6h0m7 3h0m-224 3h0m42-2h0m-237 14h0m165-1h0m138 1h0m-351 10h0m-32 17h0m428 7h0m87 1h0m-503 10h0m-64 6h0m19-5h0m230 6h0m83-6h0m-170 9h0m260 109h0m128 0h0m-428 356h0m51 0h0m47 0h0m191 0h0m91 0h0" stroke="#000" stroke-width="22.5" stroke-linecap="round" fill="none"/></g>
<g transform="translate(361.5,1198.5)"><path d="M32.3 -0.0C31.9 -0.4 33.6 -1.2 30.0 -2.3C26.3 -3.5 15.1 -5.4 10.4 -6.9C5.6 -8.5 2.9 -9.2 1.4 -11.5C-0.2 -13.8 0.9 -18.1 1.2 -20.8C1.4 -23.5 2.0 -24.2 2.8 -27.7C3.5 -31.1 5.1 -36.1 5.8 -41.5C6.5 -46.9 6.9 -54.2 6.9 -60.0C6.9 -65.7 6.5 -71.5 5.8 -76.1C5.1 -80.7 3.5 -84.2 2.8 -87.7C2.0 -91.1 1.8 -92.7 1.4 -96.9C1.0 -101.1 0.6 -110.3 0.5 -113.0L-0.5 -113.0C-0.6 -110.3 -1.0 -101.1 -1.4 -96.9C-1.8 -92.7 -2.0 -91.1 -2.8 -87.7C-3.5 -84.2 -5.1 -80.7 -5.8 -76.1C-6.5 -71.5 -6.9 -65.7 -6.9 -60.0C-6.9 -54.2 -6.5 -46.9 -5.8 -41.5C-5.1 -36.1 -3.5 -31.1 -2.8 -27.7C-2.0 -24.2 -1.4 -23.5 -1.2 -20.8C-0.9 -18.1 0.2 -13.8 -1.4 -11.5C-2.9 -9.2 -5.6 -8.5 -10.4 -6.9C-15.1 -5.4 -26.3 -3.5 -30.0 -2.3C-33.6 -1.2 -31.9 -0.4 -32.3 -0.0Z" fill="#B79F00" stroke="#333" stroke-width="1.15" stroke-linejoin="round"/><rect x="-27.6" y="-83.5" width="55.2" height="54.0" fill="#000"/><path d="M-29.0 0H29.0" stroke="#000" stroke-width="3.36" stroke-linecap="round"/><path transform="scale(.1)" d="m-151-1121h0m-81 28h0m365 17h0m144-3h0m-556 10h0m189-2h0m56-3h0m18 3h0m233 4h0m34 12h0m-391 5h0m9-2h0m52 3h0m48-2h0m-71 10h0m230 3h0m-347 3h0m14 8h0m214 1h0m140-1h0m-410 8h0m45-2h0m6-2h0m0 4h0m104 2h0m56-4h0m50-4h0m15 7h0m-244 12h0m78-6h0m46 0h0m6-1h0m33 2h0m82-3h0m141 7h0m59-7h0m-409 18h0m25-7h0m101 5h0m339-6h0m1 8h0m-549 6h0m58-2h0m0 2h0m97 1h0m165-1h0m101 0h0m72 4h0m9-3h0m49 4h0m-439 8h0m19-5h0m67 5h0m83 2h0m27-5h0m50-2h0m39-2h0m3-1h0m9 5h0m18-3h0m-432 16h0m50 2h0m57 0h0m30-1h0m92-4h0m95-2h0m132 5h0m-456 4h0m51 0h0m2 2h0m22-3h0m8 1h0m65 5h0m104 1h0m167-4h0m34 4h0m5 0h0m-465 8h0m75 0h0m44-5h0m58 1h0m4 5h0m7-7h0m75 1h0m50 7h0m44 0h0m44-7h0m86 1h0m84 1h0m-394 8h0m27 0h0m44 5h0m5-1h0m60 0h0m26-2h0m101 1h0m7 2h0m-438 14h0m3-7h0m84 5h0m59-4h0m50-4h0m23 9h0m39 0h0m94-4h0m33 1h0m31 0h0m8-1h0m89-1h0m31 3h0m0-1h0m-499 7h0m111 5h0m32 0h0m14-5h0m87 1h0m13 1h0m7 3h0m3-2h0m141-4h0m-456 11h0m17 0h0m50 0h0m49 0h0m16 5h0m13-5h0m22 6h0m12-2h0m3 3h0m39-3h0m86-1h0m64-6h0m7 6h0m85-5h0m2 3h0m3-2h0m-428 13h0m28 2h0m109-3h0m61 3h0m26-3h0m27 5h0m9-4h0m8 4h0m79 0h0m19-1h0m15-8h0m30 6h0m30-6h0m28 6h0m27 2h0m-519 8h0m20-1h0m57 5h0m18-4h0m28-5h0m60 4h0m34 3h0m49-3h0m143 2h0m109-2h0m29-1h0m-570 8h0m66 4h0m6 1h0m27-3h0m31 3h0m75-1h0m66-3h0m1-1h0m5 3h0m45-5h0m19 5h0m16-3h0m34 8h0m22-4h0m6 0h0m51-5h0m20-1h0m8 0h0m10 0h0m60 9h0m-551 2h0m46 0h0m51 4h0m0 4h0m19 1h0m5-1h0m24-3h0m115-5h0m31 0h0m15 7h0m0-3h0m7-1h0m6 1h0m0 1h0m5 1h0m12-2h0m4-4h0m12 4h0m32 3h0m19-3h0m22-4h0m12 6h0m56 2h0m21-8h0m-407 14h0m18 2h0m5 1h0m4 2h0m21-8h0m38 4h0m39-3h0m8 1h0m16 2h0m25-5h0m38 8h0m50-6h0m36 6h0m20-7h0m8-1h0m3 0h0m78 8h0m26-9h0m1 8h0m20-2h0m-579 13h0m14-6h0m69 4h0m2 1h0m15-2h0m37 1h0m12-2h0m41-1h0m5-2h0m3 7h0m2-5h0m3 4h0m0 0h0m30-1h0m19-1h0m68-2h0m24-2h0m24-2h0m1 7h0m96-5h0m43 1h0m26-1h0m36 2h0m-505 7h0m6 7h0m28-1h0m25-7h0m10 0h0m11 2h0m29 4h0m26 3h0m1-2h0m52-2h0m4 1h0m12 1h0m12 1h0m29-3h0m8 5h0m52-8h0m20 8h0m14-3h0m23-5h0m1 4h0m24 1h0m20-2h0m8 1h0m54 3h0m2-6h0m8 7h0m1-2h0m2-6h0m-504 11h0m14 2h0m21 0h0m41 2h0m21-2h0m32-2h0m36 3h0m1-1h0m69 0h0m7 4h0m1-3h0m11-3h0m14 2h0m20-1h0m44-2h0m3-2h0m58 9h0m49-4h0m63 2h0m-545 7h0m44-3h0m103 2h0m107 3h0m15 2h0m37-1h0m19-6h0m4 9h0m14-9h0m29 1h0m14-1h0m75 3h0m14-2h0m5 0h0m14 7h0m15-4h0m4-1h0m8-3h0m28 3h0m14 4h0m12-6h0m-578 13h0m48-3h0m7 3h0m6 0h0m4 3h0m11-7h0m19 3h0m51 2h0m2 2h0m51-1h0m18-5h0m13 6h0m21 0h0m21 1h0m74-3h0m68-4h0m39-1h0m15-1h0m10 1h0m7 0h0m30 6h0m18-1h0m28-2h0m5 5h0m-507 3h0m42 2h0m10 2h0m18 3h0m6-2h0m13 3h0m5-6h0m11 4h0m30 1h0m1 0h0m29-1h0m80 1h0m41-7h0m7 3h0m17-3h0m21 6h0m91 1h0m3-2h0m22 0h0m42 0h0m26-2h0m-569 5h0m45 8h0m17-4h0m11 2h0m16-3h0m10-2h0m23 4h0m1 2h0m15 1h0m6-4h0m28 1h0m98-2h0m10 6h0m16-5h0m7 5h0m43-4h0m53-1h0m57-2h0m11 7h0m6 0h0m59-7h0m21-1h0m-491 17h0m60-1h0m11-3h0m10-1h0m41 3h0m68 0h0m51 3h0m10-5h0m16 0h0m55 3h0m24-5h0m55 1h0m51-2h0m40 7h0m-549 2h0m24 7h0m22-7h0m16 4h0m54-3h0m24 7h0m51 0h0m0 0h0m32-3h0m67 0h0m9 4h0m18 1h0m13-8h0m48 7h0m17-5h0m18 3h0m89 3h0m-511 4h0m43 2h0m55-3h0m44 6h0m55 0h0m61-3h0m7-1h0m0 5h0m55-6h0m101-4h0m29 6h0m9 1h0m10-4h0m7 0h0m14 0h0m27-1h0m13 2h0m5 0h0m-528 9h0m16 4h0m14-5h0m0 2h0m5 1h0m12-4h0m18 0h0m76 5h0m0 4h0m3-2h0m3-6h0m19 0h0m3-1h0m8 9h0m5-2h0m34-7h0m15 8h0m67-4h0m19 2h0m5-2h0m83-3h0m62 6h0m13 0h0m22-5h0m-508 14h0m17 3h0m158-5h0m24 3h0m0-1h0m13 2h0m14-7h0m9 1h0m36 4h0m76 3h0m109-9h0m41 6h0m2-1h0m1 1h0m19-5h0m11 2h0m-512 7h0m4 4h0m25 1h0m34-1h0m98 4h0m6 0h0m14-1h0m105-5h0m20 3h0m2-5h0m3 2h0m6 0h0m9-1h0m9 1h0m73-1h0m49 6h0m14 1h0m70-9h0m10 9h0m-511 9h0m2-5h0m24 5h0m28-4h0m15 4h0m27-4h0m22 2h0m9-1h0m5-5h0m39 7h0m20-2h0m108 3h0m16-1h0m56 2h0m0-9h0m15 8h0m12-4h0m1 5h0m8 1h0m50-3h0m53-2h0m-559 11h0m8-2h0m70-1h0m165-2h0m33 0h0m11 8h0m7-5h0m5 5h0m56 0h0m116-6h0m4-3h0m24 10h0m18-6h0m38 1h0m8-5h0m-531 16h0m147-1h0m29 4h0m1-2h0m13 1h0m14-2h0m37-1h0m128-5h0m49 7h0m26-6h0m22 3h0m3 2h0m3-6h0m28 9h0m-534 10h0m16-4h0m75 3h0m37-4h0m22-2h0m65 2h0m91 2h0m1-5h0m4 3h0m4 0h0m13-1h0m10 2h0m6 4h0m64-4h0m97 3h0m24-8h0m2 7h0m14-4h0m1 0h0m23 3h0m-567 10h0m12-1h0m3-4h0m6 5h0m6 4h0m2-9h0m59 5h0m22 1h0m23-5h0m34 5h0m15 0h0m19-2h0m10-1h0m21 6h0m51-5h0m11 0h0m24 1h0m65 3h0m11-3h0m10-5h0m17-1h0m8 9h0m51 0h0m42-8h0m9 2h0m14 2h0m-537 7h0m8 7h0m106-5h0m93 0h0m6 0h0m14 1h0m58-1h0m6-2h0m21 8h0m66-6h0m59-3h0m3 2h0m42-1h0m70 4h0m-568 7h0m7 4h0m68 1h0m78-4h0m49-4h0m8 4h0m34 3h0m11-6h0m35 3h0m15 3h0m8-4h0m16 3h0m33 3h0m54 1h0m77-7h0m1 0h0m35 3h0m-531 5h0m13 1h0m15 3h0m11 3h0m54-7h0m25-1h0m44 8h0m10-5h0m45-1h0m10 4h0m45 1h0m7-5h0m59 5h0m115-3h0m18-3h0m12 4h0m14-2h0m0 3h0m5 3h0m35-4h0m12 4h0m-550 11h0m53-8h0m29 7h0m57-5h0m119-2h0m4 4h0m23-5h0m109 2h0m9-1h0m5 5h0m15 3h0m4-7h0m7-2h0m101 0h0m37 3h0m-556 7h0m43 1h0m10 5h0m1 2h0m5 0h0m0-7h0m2 4h0m26 1h0m99-3h0m46 6h0m4-10h0m43 4h0m49-1h0m43 3h0m14-2h0m17 0h0m5-3h0m11 0h0m47 0h0m19 5h0m41 2h0m-446 5h0m33 5h0m78-1h0m24-7h0m6 10h0m6 0h0m12-1h0m10 0h0m19-9h0m119 0h0m11 1h0m22 4h0m28 2h0m44 1h0m20-7h0m13 0h0m11 4h0m-546 12h0m5 3h0m33-1h0m6-3h0m2 2h0m12-5h0m4-2h0m17 2h0m44 0h0m24 5h0m4-5h0m6 0h0m37 7h0m22-2h0m39-1h0m29-7h0m4 2h0m12 3h0m6-3h0m14 3h0m28 1h0m16-3h0m10 0h0m17 1h0m11-4h0m60 4h0m1 4h0m76-5h0m24 3h0m5-3h0m-548 15h0m29-2h0m45 3h0m5 0h0m2-1h0m46-1h0m80-4h0m7-1h0m10 1h0m49 1h0m11 1h0m133-1h0m12 4h0m2-6h0m2 3h0m1-2h0m24-1h0m61 5h0m-542 8h0m37 1h0m5 0h0m11-4h0m5 3h0m15-1h0m6 3h0m56 2h0m21-6h0m138 4h0m12-2h0m19 3h0m36-7h0m3 8h0m133 0h0m27-7h0m7 7h0m1 0h0m2 1h0m-529 9h0m6-4h0m80 3h0m9-1h0m20 2h0m36-6h0m25 1h0m3-2h0m1 8h0m25-9h0m14 6h0m10-6h0m8 1h0m76 1h0m30 0h0m86 5h0m30 1h0m15-7h0m17-1h0m2 3h0m44 0h0m26 1h0m3 4h0m3 0h0m-557 9h0m99-7h0m76 2h0m28 2h0m20 4h0m1-3h0m10 0h0m90 2h0m18 0h0m20-5h0m38 5h0m11-1h0m30-6h0m37 5h0m73-1h0m-551 15h0m1-7h0m23-1h0m28 7h0m52-9h0m40 5h0m9-3h0m2 0h0m100 4h0m9 2h0m25 1h0m52-6h0m30 6h0m6-1h0m9-2h0m46-2h0m82 2h0m2-2h0m-530 10h0m9 4h0m1 1h0m24 1h0m0-5h0m8 2h0m39 1h0m9 2h0m12-9h0m59 0h0m30 1h0m1 0h0m5-2h0m6 7h0m45 0h0m1 0h0m32-3h0m12 1h0m13 2h0m13 2h0m7-6h0m34 0h0m22-2h0m36 4h0m20-3h0m14 6h0m56-1h0m3 0h0m16-5h0m30 8h0m-540 5h0m39 5h0m0-10h0m6 6h0m3-4h0m61 7h0m29-2h0m31-2h0m25 3h0m4 1h0m0-1h0m4-3h0m13 1h0m2 2h0m36-1h0m0 1h0m22-1h0m7-1h0m3-5h0m12 0h0m27 5h0m7 2h0m16-1h0m18-2h0m31-1h0m22 2h0m4 0h0m3-1h0m4 2h0m9-5h0m11 5h0m37-1h0m26-6h0m-534 18h0m17-3h0m3-4h0m12 2h0m7 1h0m17 5h0m17-3h0m41-3h0m3 1h0m99 1h0m87 2h0m61-3h0m21-3h0m51 6h0m1 2h0m11-5h0m4-3h0m9 8h0m21-9h0m4 9h0m30 1h0m17-5h0m36 0h0m-484 9h0m19 2h0m2 2h0m8-2h0m22-2h0m46 5h0m5-6h0m6 2h0m27 1h0m20-2h0m25 4h0m0 0h0m10-1h0m33-1h0m57-4h0m54 7h0m47-6h0m48 5h0m40-8h0m14 6h0m-506 11h0m6-3h0m0-3h0m38-1h0m10 5h0m12 3h0m19-3h0m3-3h0m48 8h0m41-7h0m6-2h0m3 9h0m63-2h0m23-5h0m6 2h0m4 2h0m9 1h0m3-6h0m10 8h0m14-6h0m1-2h0m14 5h0m14 1h0m6-8h0m3 3h0m5-1h0m12 6h0m77-2h0m5 0h0m14-6h0m17 3h0m23-2h0m1 0h0m-565 12h0m7 1h0m16-1h0m23-2h0m28 1h0m8 3h0m18 1h0m11-2h0m2-1h0m23-2h0m9 7h0m11-3h0m17 3h0m22 2h0m44-8h0m25 0h0m63 1h0m17-2h0m141 4h0m-475 7h0m29 2h0m29-3h0m72 5h0m72-1h0m23-2h0m31 0h0m3 2h0m27-3h0m19-2h0m17 4h0m69-2h0m16-1h0m43 3h0m87-4h0m-538 11h0m61 6h0m30-3h0m19 0h0m33 3h0m37-6h0m54 1h0m28 6h0m21-5h0m35 4h0m27-4h0m9 3h0m29-2h0m2-2h0m18 5h0m12-2h0m22 3h0m47-3h0m67 4h0m1-9h0m-559 11h0m35 4h0m156-1h0m37 5h0m93-9h0m59 5h0m12 2h0m38-3h0m25-1h0m52 5h0m-515 11h0m1-4h0m37 4h0m59-3h0m96 4h0m30-1h0m22-8h0m24 6h0m20 0h0m92-4h0m29-3h0m24 3h0m13-1h0m24 5h0m13 0h0m39-2h0m20-3h0m4 3h0m10-2h0m2 5h0m-538 10h0m1 1h0m4-3h0m7 0h0m84-3h0m4-2h0m13 0h0m25 3h0m9-1h0m127-3h0m29 7h0m86-6h0m28 0h0m9 7h0m1-6h0m23-2h0m39 0h0m4 9h0m8-1h0m25-4h0m20 3h0m-528 6h0m18 1h0m4 5h0m41-8h0m22 7h0m22 2h0m7-9h0m5 8h0m97-4h0m15-3h0m11-2h0m30 6h0m14 2h0m73 1h0m14-4h0m32-2h0m15 5h0m46 2h0m20-6h0m37 6h0m8-9h0m2 4h0m-574 13h0m29-1h0m26-6h0m34 3h0m4 5h0m2-5h0m13 3h0m14-2h0m11-3h0m2-1h0m31 6h0m47-1h0m23-3h0m5 3h0m66-5h0m0 8h0m6-5h0m6 5h0m5-1h0m19-5h0m22 2h0m43 3h0m38-5h0m51 0h0m6 3h0m33-5h0m-492 16h0m17-2h0m12 4h0m8-5h0m2-2h0m8 0h0m60 6h0m2 1h0m9-4h0m14 3h0m34-6h0m51 2h0m11-1h0m4-1h0m25 1h0m6 5h0m35-6h0m30 5h0m15-2h0m19 2h0m57 2h0m22-5h0m11 0h0m64 3h0m6-2h0m-560 6h0m18 2h0m34 4h0m0 3h0m11-3h0m6 0h0m38 1h0m32-8h0m32 10h0m26-10h0m19 8h0m50 0h0m12-3h0m29-2h0m149 7h0m1-6h0m13 1h0m1 0h0m0 2h0m3 0h0m9-3h0m3 4h0m31-3h0m11 3h0m30-6h0m5 7h0m2 0h0m-462 6h0m20 1h0m74 0h0m11-3h0m25 3h0m19 1h0m1-3h0m80 0h0m10-3h0m21 7h0m9-5h0m38 1h0m58 4h0m36-4h0m-465 15h0m16-1h0m4-7h0m28 2h0m40-2h0m6 1h0m75 6h0m52-3h0m11 0h0m47 1h0m1-6h0m16 5h0m1 5h0m22-6h0m4-4h0m113 1h0m45 5h0m26 2h0m2 0h0m16-7h0m-537 10h0m18 5h0m1 2h0m15-8h0m51 1h0m1 3h0m4-2h0m24-1h0m1 2h0m49 2h0m7 3h0m23-2h0m23-4h0m10 6h0m12-7h0m61 2h0m19 5h0m7-5h0m66 0h0m6-1h0m22 7h0m116-7h0m9 4h0m-572 11h0m14 1h0m41 2h0m16-7h0m34 7h0m59-8h0m9-1h0m1 8h0m10-4h0m36 4h0m13-3h0m15-4h0m77 7h0m3-1h0m2-5h0m21 2h0m8 1h0m81-2h0m7-2h0m41 3h0m6-4h0m15 2h0m41 6h0m8-5h0m-551 9h0m1 6h0m120-1h0m31-3h0m23-4h0m16 0h0m2 4h0m9-3h0m43 1h0m119 2h0m2 3h0m20 1h0m24-6h0m23 6h0m7-3h0m45-6h0m38 5h0m11 5h0m29-2h0m-491 10h0m5-2h0m17-6h0m23 7h0m6-3h0m35 0h0m24 2h0m2-6h0m1 6h0m30 3h0m18-5h0m22 2h0m125-1h0m31-2h0m37 5h0m32-3h0m1 0h0m2 2h0m23-1h0m1 0h0m13 3h0m36 1h0m-533 0h0m15 4h0m13-3h0m21 0h0m39 2h0m18-2h0m34 0h0m8 1h0m12 6h0m43 2h0m10-2h0m36 0h0m67-2h0m10 3h0m10-6h0m3 5h0m2-3h0m17 1h0m40-3h0m19 1h0m66-1h0m-482 8h0m26 1h0m1 6h0m97 0h0m15-5h0m11 0h0m28 6h0m66-7h0m116 3h0m24 0h0m5-1h0m43 4h0m36-3h0m16 2h0m57-1h0m-538 5h0m52 1h0m55 2h0m10 4h0m4 1h0m99-5h0m35 6h0m1-5h0m25-4h0m4 3h0m29-2h0m31-2h0m19 3h0m7 2h0m50 3h0m47-1h0m26 3h0m21-2h0m3-2h0m-516 6h0m17 8h0m5-9h0m10 7h0m47-1h0m15 0h0m2 2h0m1-3h0m46-5h0m25 0h0m5 5h0m47-3h0m9 1h0m17 1h0m35 4h0m23 0h0m2-6h0m58-1h0m49 2h0m78-2h0m7 3h0m4 5h0m32-5h0m-539 6h0m8 4h0m13 5h0m13-6h0m39 0h0m34 0h0m7 2h0m23-4h0m95-1h0m14 0h0m6 2h0m36-1h0m11 6h0m9-6h0m11 2h0m30-1h0m13 6h0m16-9h0m8 6h0m8-4h0m25 2h0m7 4h0m11-7h0m26 5h0m13-3h0m8 4h0m-518 13h0m21-8h0m32 5h0m8 0h0m2-3h0m3-4h0m2 3h0m58 1h0m22 1h0m11 1h0m19-4h0m6 2h0m11-1h0m61-3h0m23 2h0m5 1h0m9 1h0m2 3h0m74 3h0m8-9h0m20 7h0m46-6h0m61 7h0m13-6h0m27 7h0m11-4h0m9-4h0m-561 11h0m27-2h0m34 1h0m2 5h0m30-3h0m114-2h0m28 6h0m14 0h0m18-1h0m7-7h0m33 4h0m25 1h0m6 0h0m25-5h0m15 1h0m1 5h0m19-4h0m11 1h0m26 1h0m22 6h0m76-10h0m16 0h0m8 8h0m7-3h0m6 4h0m-577 4h0m51 5h0m34-2h0m74-1h0m20 2h0m9 0h0m49-1h0m99-2h0m1 3h0m33-6h0m51 8h0m33-2h0m68-7h0m-468 12h0m35-1h0m25 0h0m33 2h0m11 4h0m28-1h0m23-4h0m38 1h0m20 4h0m2-4h0m8 4h0m92-2h0m10 5h0m52-4h0m45-2h0m39 4h0m25-6h0m-472 10h0m61 2h0m54-2h0m3 0h0m15 1h0m43 1h0m0-1h0m1 4h0m178-2h0m58-3h0m17 2h0m12 3h0m15-4h0m32 1h0m-527 14h0m28-1h0m15-1h0m75-6h0m70 4h0m19-2h0m49-1h0m142-1h0m13 6h0m138-5h0m-568 12h0m118 2h0m16-2h0m39 0h0m262-2h0m-255 11h0m350 13h0" stroke="#000" stroke-width="22.5" stroke-linecap="round" fill="none"/></g>
<g transform="translate(434.2,1198.5)"><path d="M8.8 -0.0C8.5 -0.4 7.9 -1.2 6.9 -2.3C5.9 -3.5 3.7 -5.4 2.8 -6.9C1.8 -8.5 1.3 -10.0 1.2 -11.5C1.0 -13.1 1.1 -14.2 1.8 -16.1C2.6 -18.1 4.0 -20.0 5.8 -23.1C7.6 -26.1 10.4 -30.8 12.7 -34.6C15.0 -38.4 17.3 -42.3 19.6 -46.1C21.9 -50.0 24.5 -54.2 26.5 -57.7C28.6 -61.1 30.8 -64.8 31.8 -66.9C32.9 -69.0 33.1 -69.2 33.0 -70.4C32.9 -71.5 33.2 -72.1 31.1 -73.8C29.1 -75.5 24.2 -78.4 20.8 -80.7C17.3 -83.0 13.1 -85.4 10.4 -87.7C7.7 -90.0 6.0 -92.5 4.6 -94.6C3.2 -96.7 2.3 -99.4 1.8 -100.3L-1.8 -100.3C-2.3 -99.4 -3.2 -96.7 -4.6 -94.6C-6.0 -92.5 -7.7 -90.0 -10.4 -87.7C-13.1 -85.4 -17.3 -83.0 -20.8 -80.7C-24.2 -78.4 -29.1 -75.5 -31.1 -73.8C-33.2 -72.1 -32.9 -71.5 -33.0 -70.4C-33.1 -69.2 -32.9 -69.0 -31.8 -66.9C-30.8 -64.8 -28.6 -61.1 -26.5 -57.7C-24.5 -54.2 -21.9 -50.0 -19.6 -46.1C-17.3 -42.3 -15.0 -38.4 -12.7 -34.6C-10.4 -30.8 -7.6 -26.1 -5.8 -23.1C-4.0 -20.0 -2.6 -18.1 -1.8 -16.1C-1.1 -14.2 -1.0 -13.1 -1.2 -11.5C-1.3 -10.0 -1.8 -8.5 -2.8 -6.9C-3.7 -5.4 -5.9 -3.5 -6.9 -2.3C-7.9 -1.2 -8.5 -0.4 -8.8 -0.0Z" fill="#00BA38" stroke="#333" stroke-width="1.15" stroke-linejoin="round"/><path transform="scale(.1)" d="m107-1000h0m117 66h0m36 27h0m-485 9h0m7-1h0m178 4h0m27-1h0m100-5h0m140 5h0m-311 8h0m124-5h0m136 16h0m8-1h0m12-2h0m74 1h0m-430 7h0m136 6h0m85 0h0m-348 5h0m18-1h0m57 16h0m23-6h0m-20 15h0m495 2h0m-542 5h0m178 4h0m69-8h0m51 1h0m85 6h0m25-4h0m29-2h0m-280 15h0m371 0h0m-557 7h0m32 4h0m250 0h0m168-1h0m112-1h0m-499 4h0m236 10h0m55-3h0m18-1h0m201 4h0m-380 8h0m16-6h0m36 6h0m91 2h0m32-3h0m44 1h0m17-7h0m134 0h0m-522 18h0m3-6h0m350-3h0m25 7h0m-5 8h0m22-3h0m36 3h0m1 0h0m-443 15h0m40-4h0m53 0h0m29-3h0m100 7h0m71-3h0m26 2h0m175-2h0m-396 9h0m24 1h0m39-4h0m110 6h0m107-8h0m20 6h0m2-4h0m15 3h0m16 2h0m22 1h0m-486 11h0m14-7h0m141 7h0m71-9h0m80 1h0m125 0h0m103 1h0m15 3h0m14-3h0m-563 15h0m217-7h0m70 6h0m106-2h0m66 4h0m63-6h0m26-3h0m11 4h0m-546 9h0m17 3h0m195-4h0m25 5h0m112-4h0m90 2h0m-302 8h0m59-2h0m14 5h0m56-5h0m26 2h0m102 6h0m84-7h0m-482 13h0m18 4h0m31-5h0m69 6h0m78-4h0m23-6h0m83 7h0m23-2h0m42-5h0m60 8h0m96 0h0m-530 11h0m176-9h0m102 5h0m138 5h0m148-7h0m-443 17h0m66-2h0m90-1h0m19 0h0m22-6h0m82 8h0m109-5h0m31 4h0m1-5h0m-107 17h0m120-2h0m-362 5h0m66 5h0m14 2h0m50-8h0m-227 15h0m145 3h0m146-8h0m141 1h0m-287 11h0m37 1h0m79-2h0m-350 12h0m154-3h0m52 7h0m164-1h0m71-7h0m36 6h0m26-3h0m20-1h0m-516 14h0m156 3h0m12-3h0m150 1h0m17-4h0m128-2h0m-185 14h0m77-2h0m-332 8h0m41-1h0m151 1h0m60-1h0m98 8h0m35-8h0m-260 10h0m54 4h0m87-1h0m18 0h0m7 3h0m-294 10h0m53 2h0m88-7h0m26 6h0m180-3h0m7-4h0m68 4h0m81-5h0m30 7h0m-489 9h0m51-3h0m51 3h0m81 1h0m8-7h0m109 5h0m46 3h0m55 1h0m26-7h0m4 5h0m34 3h0m-505 2h0m210 10h0m11 1h0m54-1h0m29 0h0m151 1h0m27-1h0m56 7h0m-570 5h0m352 1h0m61 0h0m119-5h0m36 4h0m-444 9h0m88 5h0m335-1h0m-385 6h0m45 6h0m-141 19h0m84-4h0m27-2h0m97-1h0m83 7h0m-327 12h0m182-6h0m206 3h0m87-6h0m-162 13h0m75 0h0m111 4h0m3 1h0m-283 7h0m1-3h0m182-2h0m-275 10h0m87 2h0m93 5h0m217-3h0m-510 8h0m171 3h0m79 1h0m98 2h0m-388 2h0m346 9h0m72-2h0m21-2h0m-248 10h0m101-1h0m145-5h0m-280 17h0m48 1h0m177-7h0m-150 10h0m6 8h0m137-5h0m-292 16h0m438 7h0m36-3h0m-383 14h0m392 9h0m-385 4h0m54 0h0m143 4h0m-237 14h0m343 12h0m-477 19h0m396-1h0m106-3h0m-445 13h0m66-5h0m322-1h0m-465 11h0m305-1h0m7 6h0m125-3h0m3 0h0m-388 5h0m16 0h0m112 3h0m29 15h0m3 1h0m27-3h0m164-1h0m86-6h0m64 1h0m-126 58h0m-11 11h0m-28 22h0m-285 193h0m23 0h0m48 0h0m37 0h0m3 0h0m7 0h0m44 0h0m19 0h0m2 0h0m4 0h0m8 0h0m29 0h0m19 0h0m18 0h0m9 0h0m20 0h0m25 0h0m11 0h0m18 0h0m7 0h0m42 0h0m13 0h0m18 0h0m39 0h0m3 0h0" stroke="#000" stroke-width="22.5" stroke-linecap="round" fill="none"/></g>
<g transform="translate(506.9,1198.5)"><path d="M9.2 -0.0C9.0 -1.0 8.3 -3.7 7.8 -5.8C7.3 -7.9 7.0 -10.2 6.2 -12.7C5.5 -15.2 3.7 -17.9 3.5 -20.8C3.3 -23.6 3.6 -26.5 5.1 -30.0C6.6 -33.4 9.7 -37.7 12.5 -41.5C15.3 -45.4 19.0 -49.2 21.9 -53.1C24.9 -56.9 28.4 -60.2 30.2 -64.6C32.1 -69.0 32.9 -74.4 33.0 -79.6C33.1 -84.8 31.8 -92.3 30.7 -95.7C29.6 -99.2 27.9 -98.8 26.5 -100.3C25.1 -101.9 24.0 -103.5 22.4 -105.0C20.7 -106.4 18.5 -107.6 16.6 -108.9C14.7 -110.1 12.0 -112.0 11.1 -112.6L-11.1 -112.6C-12.0 -112.0 -14.7 -110.1 -16.6 -108.9C-18.5 -107.6 -20.7 -106.4 -22.4 -105.0C-24.0 -103.5 -25.1 -101.9 -26.5 -100.3C-27.9 -98.8 -29.6 -99.2 -30.7 -95.7C-31.8 -92.3 -33.1 -84.8 -33.0 -79.6C-32.9 -74.4 -32.1 -69.0 -30.2 -64.6C-28.4 -60.2 -24.9 -56.9 -21.9 -53.1C-19.0 -49.2 -15.3 -45.4 -12.5 -41.5C-9.7 -37.7 -6.6 -33.4 -5.1 -30.0C-3.6 -26.5 -3.3 -23.6 -3.5 -20.8C-3.7 -17.9 -5.5 -15.2 -6.2 -12.7C-7.0 -10.2 -7.3 -7.9 -7.8 -5.8C-8.3 -3.7 -9.0 -1.0 -9.2 -0.0Z" fill="#00BFC4" stroke="#333" stroke-width="1.15" stroke-linejoin="round"/><path transform="scale(.1)" d="m269-1125h0m-431 82h0m6 11h0m143 20h0m181 24h0m-283 10h0m343-7h0m-328 13h0m43-1h0m-124 76h0m284 58h0m-340 16h0m282 24h0m114 2h0m-220 3h0m-162 57h0m200-4h0m-158 18h0m266 8h0m-93 9h0m-82 15h0m259-3h0m-346 16h0m52 11h0m325 2h0m-368 71h0m54 7h0m107 6h0m-32 14h0m-23 16h0m37 18h0m-59 11h0m301 83h0m-390 93h0m435 15h0m-522 331h0m268 0h0m103 0h0m64 0h0" stroke="#000" stroke-width="22.5" stroke-linecap="round" fill="none"/></g>
<g transform="translate(579.5,1198.5)"><path d="M3.5 -0.0C3.3 -0.4 3.2 -1.3 2.8 -2.3C2.4 -3.3 1.5 -4.2 1.2 -5.8C0.8 -7.3 0.7 -8.7 0.7 -11.5C0.7 -14.4 0.9 -19.2 1.2 -23.1C1.4 -26.9 1.5 -30.8 2.3 -34.6C3.1 -38.4 3.8 -42.3 5.8 -46.1C7.7 -50.0 10.6 -53.8 13.8 -57.7C17.1 -61.5 22.4 -66.1 25.4 -69.2C28.4 -72.3 30.6 -74.4 31.8 -76.1C33.1 -77.9 33.1 -78.4 33.0 -79.6C32.9 -80.7 33.6 -80.9 31.1 -83.0C28.7 -85.2 22.3 -89.2 18.5 -92.3C14.6 -95.3 10.7 -98.8 8.1 -101.5C5.5 -104.2 4.0 -106.1 2.8 -108.4C1.6 -110.7 1.3 -113.4 0.9 -115.3C0.5 -117.3 0.5 -119.2 0.5 -120.0L-0.5 -120.0C-0.5 -119.2 -0.5 -117.3 -0.9 -115.3C-1.3 -113.4 -1.6 -110.7 -2.8 -108.4C-4.0 -106.1 -5.5 -104.2 -8.1 -101.5C-10.7 -98.8 -14.6 -95.3 -18.5 -92.3C-22.3 -89.2 -28.7 -85.2 -31.1 -83.0C-33.6 -80.9 -32.9 -80.7 -33.0 -79.6C-33.1 -78.4 -33.1 -77.9 -31.8 -76.1C-30.6 -74.4 -28.4 -72.3 -25.4 -69.2C-22.4 -66.1 -17.1 -61.5 -13.8 -57.7C-10.6 -53.8 -7.7 -50.0 -5.8 -46.1C-3.8 -42.3 -3.1 -38.4 -2.3 -34.6C-1.5 -30.8 -1.4 -26.9 -1.2 -23.1C-0.9 -19.2 -0.7 -14.4 -0.7 -11.5C-0.7 -8.7 -0.8 -7.3 -1.2 -5.8C-1.5 -4.2 -2.4 -3.3 -2.8 -2.3C-3.2 -1.3 -3.3 -0.4 -3.5 -0.0Z" fill="#619CFF" stroke="#333" stroke-width="1.15" stroke-linejoin="round"/><path transform="scale(.1)" d="m2-1123h0m-86 9h0m-34 16h0m270 11h0m84 0h0m-327 9h0m55 1h0m143 10h0m100-1h0m-264 8h0m193 0h0m38-2h0m89 4h0m-445 4h0m231 4h0m29 2h0m-363 13h0m86-6h0m285 4h0m19-3h0m15 4h0m47-5h0m14-2h0m-418 13h0m480-2h0m-445 15h0m369 1h0m-442 2h0m51 2h0m65 5h0m2 2h0m26-7h0m16 4h0m68 1h0m-190 2h0m42 2h0m76 2h0m15 0h0m114 2h0m91 1h0m-181 10h0m30 3h0m37-5h0m4-3h0m13 1h0m87 6h0m12-3h0m79-3h0m47 3h0m27 3h0m-420 8h0m2 1h0m42-7h0m47 1h0m191 5h0m3-4h0m159 0h0m-564 12h0m86-1h0m84 1h0m2-3h0m20 6h0m4 1h0m22-7h0m43 1h0m48-3h0m6 7h0m136-4h0m9-3h0m84 5h0m-456 5h0m12 9h0m15-1h0m1-3h0m13-5h0m1 1h0m4 7h0m111-3h0m11-1h0m11 3h0m12 1h0m47 2h0m1-8h0m61 4h0m86-5h0m47 9h0m-500 9h0m4-3h0m27 1h0m34 0h0m18-4h0m8-1h0m9 2h0m7-3h0m24 3h0m45-1h0m23-3h0m18 7h0m59 0h0m16-7h0m6 7h0m59 0h0m13 0h0m23 1h0m112-1h0m8 0h0m-465 9h0m49-4h0m0 6h0m12-1h0m5 1h0m7 2h0m7-7h0m3-2h0m8 8h0m18-3h0m2 4h0m13-4h0m14-5h0m6 8h0m28-3h0m55 4h0m22-6h0m8-3h0m14 9h0m12-5h0m13 3h0m16-6h0m47 4h0m12-2h0m3-2h0m17 4h0m8 1h0m69-5h0m5 6h0m18 0h0m-507 5h0m25-2h0m13 3h0m17 3h0m35 1h0m32 1h0m21-4h0m12-3h0m35-2h0m19 0h0m70 3h0m18 0h0m42 4h0m25-4h0m17 1h0m10-4h0m10 1h0m9 8h0m9-5h0m26 1h0m33 4h0m10-9h0m5 9h0m-489 5h0m7-3h0m4 4h0m16-2h0m45 3h0m20 2h0m17-5h0m14-2h0m41 5h0m26 4h0m1-9h0m25 3h0m11 6h0m5-4h0m12 0h0m2 2h0m11 0h0m52-2h0m4 3h0m8-6h0m8 7h0m22-5h0m0-2h0m5 5h0m4-7h0m34 5h0m3 2h0m14-3h0m5-4h0m10 0h0m9-1h0m8 3h0m35 2h0m15 5h0m18-4h0m-556 13h0m31-1h0m35-7h0m18 7h0m11 0h0m31-6h0m56-2h0m18 7h0m5-6h0m46 0h0m14 8h0m7 0h0m90-4h0m15-5h0m4 8h0m11 2h0m18-7h0m0 4h0m7-6h0m10 2h0m0 2h0m0 3h0m49 1h0m11-2h0m14-5h0m3 2h0m19-2h0m3 5h0m-530 5h0m13 5h0m9 0h0m26 2h0m19-8h0m20 7h0m12-6h0m1 5h0m1 0h0m12 2h0m34-4h0m36-2h0m7 2h0m9-5h0m28 5h0m26 2h0m4-2h0m8-1h0m1 4h0m20-6h0m60 4h0m26-4h0m26 1h0m21 0h0m3-2h0m44 5h0m15 0h0m7-4h0m11 6h0m34-6h0m7 1h0m14 0h0m8 5h0m3-8h0m-558 15h0m9 3h0m5 1h0m6-4h0m9-4h0m28 4h0m29-1h0m10-2h0m7 6h0m15-8h0m15 4h0m5 3h0m14 2h0m1-9h0m25 3h0m4 7h0m5-6h0m54 1h0m57-3h0m14 8h0m0-1h0m41-3h0m27 0h0m41-2h0m11-2h0m7 7h0m0-4h0m7 2h0m11-5h0m4-1h0m20 6h0m5-2h0m18 1h0m17 2h0m35-1h0m-533 9h0m10 0h0m51-1h0m7-1h0m25 0h0m13 2h0m5 1h0m69-5h0m28-2h0m6 3h0m1 7h0m5-7h0m16 4h0m5-6h0m22-1h0m8 9h0m29-3h0m0-3h0m8 0h0m12-2h0m58 7h0m30-3h0m4 5h0m30-8h0m47 2h0m11 3h0m8 1h0m5 1h0m4 0h0m5-2h0m-563 11h0m0 1h0m12 0h0m4-2h0m9-4h0m1-2h0m29 7h0m7 0h0m16-6h0m14 1h0m4 1h0m13-1h0m5 3h0m16-2h0m4 3h0m3 2h0m7-7h0m36 1h0m11 5h0m102-5h0m7 6h0m36-1h0m12-6h0m43 5h0m58-1h0m1 3h0m54-1h0m9-2h0m39-3h0m2 5h0m6 1h0m-550 6h0m21 2h0m2 3h0m2-9h0m6 4h0m14-1h0m6-2h0m34 3h0m2 2h0m30 2h0m17-3h0m2 1h0m3-4h0m10-2h0m40 3h0m4 0h0m3 4h0m34-6h0m16-1h0m3 8h0m5-2h0m4-1h0m6-4h0m2 2h0m9 1h0m3 1h0m3 3h0m47-6h0m14 6h0m29-8h0m14 5h0m23-6h0m2 4h0m25 3h0m28-4h0m3-1h0m0-2h0m16 8h0m25-2h0m11-5h0m31 4h0m14 0h0m-546 10h0m11-2h0m32 1h0m21 3h0m4-2h0m21 3h0m6-5h0m1 5h0m2-8h0m10 8h0m41-2h0m16 2h0m6 0h0m1-2h0m4-1h0m1 2h0m11-1h0m48-3h0m12 1h0m5-2h0m124 1h0m7 3h0m95-3h0m1 6h0m9-3h0m18-4h0m11-2h0m10 6h0m12-3h0m2 1h0m4 3h0m-563 6h0m39 0h0m82 3h0m1 1h0m2 0h0m44 0h0m1 2h0m21-7h0m27 3h0m4-3h0m8 3h0m8-3h0m37 3h0m16-4h0m31 5h0m45-5h0m6 5h0m6 3h0m7-6h0m3 2h0m11 2h0m5-2h0m3 0h0m6 5h0m2-6h0m1 6h0m12-3h0m11 1h0m4-3h0m8 5h0m3-10h0m8 3h0m1-2h0m0-1h0m4 6h0m1-6h0m7 7h0m18 2h0m11-2h0m9-2h0m14 2h0m19 1h0m2-2h0m6 1h0m1-5h0m-554 17h0m6-4h0m5 3h0m1-8h0m5 9h0m13-7h0m41-1h0m3 3h0m2 1h0m4-1h0m6 2h0m3 2h0m23-2h0m0-5h0m5 9h0m0-6h0m3 5h0m49-5h0m2 3h0m13-5h0m2 1h0m17 4h0m21-4h0m0-1h0m48 2h0m1-4h0m12 9h0m6 0h0m22-5h0m11 4h0m6-3h0m11-3h0m1-1h0m35 4h0m52 4h0m14-3h0m5 1h0m9-5h0m53 5h0m3-2h0m26-4h0m2 7h0m-543 12h0m15-3h0m3 2h0m4-3h0m25 2h0m22-8h0m41 6h0m18-5h0m20 2h0m13 0h0m9 5h0m21-4h0m6-1h0m26 1h0m1 5h0m6-1h0m37 2h0m43-8h0m4 0h0m9 2h0m14 2h0m30 0h0m9-3h0m30 6h0m4-2h0m39 2h0m8-1h0m0-6h0m6 4h0m2 1h0m12-5h0m4 0h0m31 6h0m15 1h0m21-6h0m18 1h0m-535 13h0m7-6h0m82 8h0m33-8h0m37 1h0m35 1h0m1-3h0m24 7h0m24-1h0m25-6h0m3 7h0m7 2h0m39-5h0m6-3h0m23 8h0m9-6h0m39-1h0m40-1h0m20 2h0m20 3h0m21-4h0m-533 17h0m0-6h0m21 3h0m20 0h0m6 3h0m19 1h0m29-9h0m3 1h0m13 0h0m21-1h0m15 7h0m13-1h0m4 2h0m5-9h0m20 6h0m4-3h0m18 7h0m6-3h0m1-5h0m3 1h0m6 2h0m4-3h0m24 2h0m4 0h0m2-1h0m44 3h0m12 3h0m1 1h0m1-9h0m31 7h0m32-3h0m13-4h0m13 7h0m31-1h0m23 0h0m29-5h0m23 7h0m10-2h0m23-4h0m12-1h0m-555 10h0m29 0h0m11 7h0m30-6h0m39 4h0m37 1h0m9 1h0m31 1h0m8-8h0m6 8h0m48-3h0m9 2h0m36-4h0m34-1h0m24-2h0m17 5h0m44 3h0m23-3h0m5 1h0m18-1h0m32-3h0m1 2h0m10-5h0m13 6h0m40 2h0m2-1h0m-549 3h0m2 0h0m3 0h0m0 3h0m1 0h0m39 2h0m19-6h0m10 2h0m8 8h0m4-7h0m10 5h0m53 1h0m10-9h0m18 8h0m19 1h0m40-4h0m11-1h0m45-2h0m2 6h0m1-2h0m2-1h0m15-5h0m23 3h0m24 3h0m34 3h0m64-5h0m1 6h0m10-6h0m31 1h0m29-2h0m2-2h0m1 8h0m10-2h0m-552 12h0m14-1h0m9-4h0m15 4h0m14-4h0m46-3h0m50 8h0m77-8h0m30 4h0m5-4h0m39 1h0m13 4h0m5 0h0m4-3h0m7 5h0m46-4h0m21 4h0m4-6h0m10 2h0m12-4h0m36 7h0m2 3h0m1-2h0m14-2h0m25 0h0m1 2h0m26-5h0m10-1h0m24 3h0m5 1h0m-510 10h0m36 2h0m22-4h0m54 0h0m18 1h0m1 0h0m3 3h0m9-3h0m4 4h0m8-3h0m29-3h0m30 3h0m13 2h0m1-6h0m8 6h0m78 0h0m1-4h0m11 5h0m18-7h0m42-1h0m14 0h0m12 8h0m30 0h0m42-2h0m-530 9h0m4 2h0m17-3h0m4-3h0m4 5h0m1 1h0m1-4h0m1-4h0m2 10h0m22-10h0m26 3h0m7 1h0m24-2h0m8 1h0m17 7h0m8-2h0m44-6h0m45 0h0m4 4h0m5 2h0m4 2h0m8-9h0m1 8h0m1-4h0m9-1h0m8-3h0m69 5h0m1 2h0m40 1h0m14-4h0m8-5h0m17 2h0m2 5h0m19 0h0m-452 6h0m59 6h0m32 0h0m32-8h0m3 3h0m30 0h0m4 2h0m7-4h0m100 3h0m13-3h0m12 4h0m3 2h0m3-5h0m11 3h0m14 2h0m4-4h0m4 3h0m6 0h0m23-1h0m12 3h0m21 0h0m9 0h0m10-6h0m4 5h0m31-6h0m14 7h0m7-6h0m12 4h0m4-2h0m27-2h0m0-1h0m9-1h0m31 7h0m1-5h0m-535 15h0m16-6h0m21 1h0m53-2h0m9 7h0m3-3h0m6-5h0m9 8h0m22-7h0m9 4h0m14 5h0m2-3h0m14 2h0m23-8h0m1 2h0m2 2h0m60-2h0m32 3h0m3-3h0m31 4h0m23 1h0m9-3h0m7 2h0m10 3h0m0-9h0m2 6h0m1 3h0m10-3h0m43 1h0m2-8h0m6 5h0m33-2h0m3 7h0m2-2h0m45 0h0m28-4h0m2-3h0m-574 17h0m63-5h0m11 5h0m33-6h0m2 7h0m13-7h0m46 5h0m12-2h0m5-4h0m21 0h0m4 7h0m12-8h0m10 4h0m2 0h0m31-4h0m2 4h0m97-4h0m14 2h0m32 2h0m4 4h0m29 1h0m52-2h0m3-4h0m4 0h0m2 4h0m24-2h0m6 1h0m11-5h0m-544 13h0m19 0h0m0 4h0m10 0h0m18-5h0m19 6h0m12 1h0m75-10h0m1 7h0m12-7h0m0 5h0m12 4h0m3-5h0m21 3h0m36-3h0m7-3h0m25 5h0m1 2h0m17-4h0m14 3h0m24-6h0m38 9h0m6-8h0m1 5h0m20 0h0m28-5h0m8 5h0m38-2h0m24-4h0m6 2h0m10 0h0m1 5h0m40-6h0m6 1h0m5-1h0m1 6h0m11-8h0m-539 14h0m32 4h0m45-2h0m9-2h0m29 3h0m15-4h0m10 4h0m14-6h0m2 2h0m32 2h0m59 2h0m1-3h0m4-4h0m2 9h0m11-2h0m23-6h0m3 7h0m4 2h0m14-3h0m28-2h0m1 1h0m22-2h0m37-3h0m14 6h0m1 1h0m3-4h0m9-3h0m50 0h0m0 4h0m2-5h0m27 6h0m1-5h0m-514 9h0m8 8h0m10-5h0m9 7h0m5-6h0m15-2h0m7-1h0m26 7h0m10 0h0m19-4h0m5-3h0m83 1h0m4 2h0m22-4h0m42 7h0m102 1h0m10-6h0m0 0h0m38 3h0m40 3h0m12 0h0m9-3h0m4 5h0m7-4h0m9-6h0m5 3h0m5 5h0m17 1h0m16-4h0m11-2h0m-566 13h0m77 2h0m4-8h0m10 6h0m7-3h0m25 3h0m7 2h0m7-2h0m17-3h0m7-2h0m4 5h0m0 4h0m6-4h0m0 1h0m8 1h0m15-6h0m3 1h0m1 5h0m4-6h0m6 6h0m7-3h0m9 1h0m25 1h0m3 1h0m52-7h0m37-1h0m20 5h0m4 5h0m17-4h0m4-4h0m9 6h0m6-7h0m48 5h0m1-3h0m16-3h0m26 4h0m2 1h0m8 3h0m0-5h0m13 5h0m22-1h0m-543 9h0m18-5h0m28 4h0m73-1h0m8 3h0m4 0h0m28 1h0m15-7h0m4 5h0m41-3h0m8 2h0m31 2h0m21-6h0m2-1h0m0 8h0m29 0h0m2 2h0m18-7h0m11-1h0m12 7h0m8-4h0m4 0h0m13 0h0m12 2h0m8-7h0m50 8h0m3-7h0m11 3h0m70-1h0m17 2h0m7 4h0m13 1h0m5-5h0m-546 6h0m30 5h0m16-4h0m48 2h0m10 4h0m13 1h0m0-1h0m5 1h0m16-8h0m8 5h0m1 1h0m21 3h0m18-10h0m8 2h0m5 2h0m5 6h0m20-10h0m4 6h0m35-5h0m8 5h0m35 3h0m29-4h0m50 3h0m9-6h0m15-2h0m2 5h0m12-1h0m16-1h0m47 0h0m11 1h0m7 1h0m9 5h0m8-7h0m9 1h0m-557 14h0m10-7h0m9 6h0m30-6h0m21 7h0m0-1h0m19 0h0m11-4h0m35-2h0m2 8h0m3-6h0m0 0h0m30 2h0m0 3h0m7-4h0m3 3h0m0-3h0m77 5h0m27-5h0m155 5h0m38-8h0m3 5h0m36-3h0m30-3h0m19 3h0m-554 9h0m6 7h0m3-6h0m22 3h0m7-6h0m95 2h0m12 6h0m4-6h0m0-2h0m13 5h0m1 2h0m4-3h0m0-3h0m18-1h0m5 6h0m4-1h0m10 0h0m28 0h0m1 3h0m7-4h0m48-2h0m73 4h0m70-1h0m3-4h0m8 4h0m40 2h0m3 0h0m18-2h0m39-3h0m5-1h0m-557 16h0m7-2h0m9-3h0m14 4h0m54-1h0m0-1h0m4 2h0m11-1h0m2-1h0m20 1h0m7 3h0m4-4h0m5-2h0m25-1h0m20 8h0m4-6h0m1 1h0m17 2h0m20-4h0m14 4h0m5 0h0m15-5h0m0 3h0m24 4h0m4-8h0m13 9h0m2-5h0m7 1h0m14 5h0m11-2h0m2-6h0m8 6h0m29-7h0m31 0h0m55 8h0m6-8h0m9 0h0m11 5h0m9 2h0m45-3h0m-532 8h0m25 2h0m12 2h0m2-7h0m62 6h0m31-3h0m33 7h0m19-4h0m7-6h0m25 1h0m6 6h0m0 1h0m14-6h0m0 0h0m5 0h0m8 2h0m38 6h0m0-9h0m5 5h0m1-3h0m41 6h0m8-7h0m20 1h0m26-1h0m22 3h0m54 2h0m5-6h0m8 4h0m18-2h0m22 3h0m0 0h0m9 2h0m13-2h0m1 1h0m17-2h0m-564 6h0m9-1h0m10 7h0m16 3h0m23-10h0m33 7h0m4-3h0m30 3h0m12 3h0m11-10h0m20 4h0m16 5h0m8-6h0m11-1h0m48 5h0m29-2h0m12 3h0m23 1h0m42-8h0m8 4h0m2-4h0m30 2h0m29 1h0m11-2h0m18 7h0m4-4h0m6 3h0m10 0h0m55-5h0m9 5h0m2 1h0m21-5h0m2 0h0m1-3h0m-565 12h0m1 1h0m13-2h0m25 2h0m3 0h0m42 4h0m16 0h0m9-2h0m7-3h0m3 0h0m9 6h0m31-9h0m1 3h0m1 3h0m2 3h0m36-6h0m10 2h0m27 4h0m41 0h0m5-6h0m26-2h0m0 3h0m29 3h0m54 0h0m7-6h0m73-1h0m12 2h0m13 1h0m32 4h0m-523 4h0m13 7h0m8-5h0m12 1h0m29 2h0m27 2h0m11-3h0m42-3h0m14 5h0m10-7h0m4 4h0m3-2h0m21 4h0m21-5h0m4 3h0m5-3h0m50 0h0m4 5h0m5-5h0m47 1h0m17 4h0m4-2h0m4 1h0m43 2h0m3-1h0m7-2h0m10-3h0m3 7h0m10-1h0m1-2h0m88-1h0m10 3h0m5-7h0m-539 18h0m72 1h0m24-8h0m21 4h0m22-1h0m55 5h0m1-1h0m0-7h0m8 3h0m58 3h0m15-3h0m5 5h0m19 0h0m46-6h0m1 4h0m29-1h0m28-6h0m6 6h0m38 3h0m9-2h0m21 0h0m4-5h0m26 3h0m39-2h0m-514 14h0m0 1h0m37-6h0m369 6h0m12-5h0m28-1h0m1 5h0m72 2h0m-555 5h0m108 4h0m44-3h0m20 4h0m88-8h0m25 0h0m19 6h0m26-7h0m94 3h0m113 4h0m18-7h0m3 1h0m-497 17h0m5-6h0m26 0h0m21 6h0m66-4h0m4 4h0m65-3h0m90-3h0m14 7h0m25-2h0m59-3h0m16 4h0m-434 11h0m311-6h0m8 6h0m28-7h0m26 2h0m13 0h0m15-1h0m79-3h0m-470 16h0m68-4h0m23 1h0m23 3h0m26-2h0m16 5h0m26-2h0m238-5h0m8 6h0m55-7h0m-437 18h0m205-8h0m81 0h0m25 7h0m102-8h0m46 5h0m25 3h0m-489 5h0m14 0h0m65-3h0m1 5h0m7 0h0m139-3h0m46 4h0m214 3h0m9-4h0m-336 15h0m6-2h0m3-5h0m59 6h0m43-1h0m66 1h0m19-1h0m21-1h0m83-6h0m-357 18h0m42-6h0m47 3h0m52-4h0m55 4h0m85 1h0m29 1h0m8 1h0m47 0h0m18-3h0m11-5h0m-518 12h0m16 4h0m94-6h0m35 6h0m158 0h0m4 0h0m102-7h0m52 2h0m-490 12h0m21 2h0m55-4h0m32-2h0m0 6h0m35-1h0m74-5h0m53 1h0m61 6h0m38 1h0m-288 3h0m20 0h0m0 4h0m78-4h0m12 8h0m19-6h0m67 5h0m24 2h0m2-2h0m154-5h0m-469 7h0m12 7h0m85-1h0m261-2h0m39 3h0m153-6h0m-255 14h0m13-5h0m0 7h0m23 2h0m197-4h0m-463 10h0m53 0h0m146 4h0m58-4h0m-156 15h0m45-5h0m82-3h0m220 8h0m-301 8h0m199-1h0m84 0h0m13 3h0m21-6h0m-498 12h0m89-6h0m98 4h0m106 5h0m10-7h0m30 6h0m11-7h0m-233 17h0m86-5h0m7 4h0m8 2h0m40 0h0m121 1h0m11 0h0m22-9h0m-360 26h0m99-3h0m105 3h0m69-7h0m166 1h0m-359 13h0m201-1h0m-212 15h0m7 12h0m298-6h0m46 6h0m-332 4h0m140-1h0m24 3h0m-322 9h0m46 2h0m3 1h0m52-1h0m333 2h0m78-3h0m46 7h0m-326 13h0m-229 8h0m13-2h0m80 7h0m318-1h0m-383 5h0m66-1h0m390-1h0m-13 17h0m-364 20h0m179 3h0m150 8h0m-172 6h0m-79 8h0m-188 222h0m43 0h0m0 0h0m3 0h0m38 0h0m52 0h0m36 0h0m24 0h0m2 0h0m5 0h0m29 0h0m16 0h0m47 0h0m38 0h0m54 0h0m8 0h0m11 0h0m20 0h0m13 0h0m59 0h0m10 0h0m1 0h0m7 0h0m5 0h0m29 0h0" stroke="#000" stroke-width="22.5" stroke-linecap="round" fill="none"/></g>
<g transform="translate(652.1,1198.5)"><path d="M5.8 -0.0C5.5 -0.5 4.7 -1.8 4.2 -2.8C3.6 -3.7 2.8 -4.7 2.3 -5.8C1.8 -6.8 1.2 -7.1 0.9 -9.2C0.7 -11.3 0.8 -16.0 0.9 -18.5C1.0 -21.0 1.2 -21.9 1.6 -24.2C2.0 -26.5 2.4 -29.8 3.5 -32.3C4.5 -34.8 6.2 -36.9 8.1 -39.2C10.0 -41.5 12.4 -43.8 15.0 -46.1C17.6 -48.4 20.8 -50.7 23.5 -53.1C26.2 -55.4 29.5 -57.7 31.1 -60.0C32.8 -62.3 33.1 -64.8 33.2 -66.9C33.3 -69.0 32.8 -70.5 31.8 -72.7C30.8 -74.8 29.1 -77.5 27.2 -79.6C25.4 -81.7 23.8 -83.0 20.8 -85.4C17.8 -87.7 11.8 -91.3 9.2 -93.4C6.7 -95.5 6.4 -96.8 5.5 -98.0C4.7 -99.3 4.2 -100.3 3.9 -100.8L-3.9 -100.8C-4.2 -100.3 -4.7 -99.3 -5.5 -98.0C-6.4 -96.8 -6.7 -95.5 -9.2 -93.4C-11.8 -91.3 -17.8 -87.7 -20.8 -85.4C-23.8 -83.0 -25.4 -81.7 -27.2 -79.6C-29.1 -77.5 -30.8 -74.8 -31.8 -72.7C-32.8 -70.5 -33.3 -69.0 -33.2 -66.9C-33.1 -64.8 -32.8 -62.3 -31.1 -60.0C-29.5 -57.7 -26.2 -55.4 -23.5 -53.1C-20.8 -50.7 -17.6 -48.4 -15.0 -46.1C-12.4 -43.8 -10.0 -41.5 -8.1 -39.2C-6.2 -36.9 -4.5 -34.8 -3.5 -32.3C-2.4 -29.8 -2.0 -26.5 -1.6 -24.2C-1.2 -21.9 -1.0 -21.0 -0.9 -18.5C-0.8 -16.0 -0.7 -11.3 -0.9 -9.2C-1.2 -7.1 -1.8 -6.8 -2.3 -5.8C-2.8 -4.7 -3.6 -3.7 -4.2 -2.8C-4.7 -1.8 -5.5 -0.5 -5.8 -0.0Z" fill="#F564E3" stroke="#333" stroke-width="1.15" stroke-linejoin="round"/><path transform="scale(.1)" d="m-280-1002h0m220 3h0m16 0h0m161-5h0m124 4h0m-507 14h0m241-4h0m124-2h0m-374 8h0m7 6h0m264 2h0m170-5h0m83 2h0m-512 8h0m221 4h0m-8 21h0m4-7h0m-113 13h0m145-3h0m301 6h0m-502 3h0m115 2h0m135-1h0m228 7h0m-498 3h0m252 3h0m13-1h0m-271 17h0m49 0h0m67 8h0m192-7h0m55 6h0m18-5h0m118 5h0m-402 4h0m77-1h0m72 7h0m107-2h0m-75 14h0m69-5h0m83 0h0m-458 11h0m147-5h0m124 8h0m214-4h0m-430 8h0m-11 16h0m91-7h0m114 7h0m157-7h0m132 7h0m-459 2h0m62 4h0m99 1h0m66-3h0m30 3h0m203 3h0m-532 10h0m87-8h0m104 6h0m25 0h0m78 2h0m11-7h0m16 5h0m96 0h0m73-3h0m-468 15h0m123 1h0m66-1h0m66-5h0m33-3h0m18 8h0m33-4h0m118-2h0m13 6h0m13 1h0m2-8h0m2 6h0m-469 11h0m54-7h0m51 3h0m29 1h0m45-3h0m117 7h0m126-7h0m-412 17h0m27-8h0m92 3h0m210-2h0m90 3h0m-464 6h0m4 0h0m34 2h0m17 1h0m117-3h0m49 0h0m61 6h0m37 1h0m92-5h0m68-4h0m39 7h0m-394 6h0m26 1h0m1-2h0m111 4h0m68-3h0m110 7h0m79-5h0m-537 11h0m109 1h0m35-5h0m37 1h0m21 6h0m191-6h0m74 1h0m-401 15h0m25-5h0m112 0h0m63-2h0m163 2h0m22 2h0m8 3h0m23-2h0m29-6h0m-475 9h0m7 9h0m1-5h0m30 1h0m137 2h0m70-1h0m203 2h0m48 1h0m8-1h0m-527 3h0m6 0h0m20 0h0m40 7h0m16-2h0m24 3h0m50-8h0m41 3h0m85 2h0m38 3h0m153-7h0m7 6h0m9-1h0m28 1h0m6-3h0m-511 11h0m39-6h0m3 9h0m2-6h0m16 0h0m47-2h0m25 5h0m33 4h0m39 0h0m113-9h0m71 0h0m97 5h0m-511 8h0m10 4h0m1 0h0m25 0h0m89 1h0m9-5h0m46 1h0m19 2h0m41 3h0m6-8h0m38 2h0m3 6h0m40-1h0m10-4h0m18 0h0m15 3h0m110 0h0m1-6h0m3 4h0m80-2h0m-536 16h0m200-6h0m54 1h0m9-1h0m31 4h0m99 1h0m28-8h0m2 7h0m64-7h0m-416 12h0m123 1h0m149-2h0m38 7h0m63-6h0m91 5h0m-554 11h0m35-1h0m165-1h0m1-3h0m50-1h0m16 5h0m39-5h0m3 4h0m-271 7h0m45-1h0m15 2h0m5-3h0m17 7h0m4-8h0m51 6h0m93 1h0m48-5h0m7 3h0m180 2h0m40-4h0m2-1h0m-390 8h0m98 1h0m101 3h0m19-3h0m-390 8h0m39 2h0m11 4h0m33 2h0m94-1h0m131 1h0m38-2h0m0 0h0m42-2h0m30 0h0m27 6h0m17-9h0m64 1h0m-483 14h0m32-4h0m21 7h0m128-5h0m23-2h0m35 1h0m148-2h0m30 8h0m24-9h0m19 3h0m-477 14h0m6-1h0m11-4h0m70 3h0m18 1h0m115 0h0m11 2h0m39-8h0m28 8h0m17 1h0m43 1h0m35-2h0m2 1h0m96-6h0m47 6h0m-562 1h0m20 3h0m141 4h0m17-4h0m115 0h0m112 1h0m25 1h0m2 2h0m40 0h0m19-4h0m-498 15h0m4-1h0m7-5h0m18 2h0m93 2h0m23 2h0m14-1h0m56-6h0m4 6h0m50 2h0m2-7h0m43 1h0m11 7h0m11-4h0m1-3h0m112 3h0m-423 7h0m158 0h0m23 5h0m75-6h0m25 4h0m66-2h0m136-3h0m-438 18h0m114-4h0m2 3h0m2-6h0m33-1h0m75 4h0m32 2h0m19-3h0m7-4h0m9 3h0m9 7h0m21-8h0m63 2h0m3-3h0m-454 13h0m38 4h0m84-3h0m5 1h0m136 2h0m25-3h0m192 0h0m33 1h0m43-3h0m4 2h0m2 0h0m-551 13h0m99-8h0m27 5h0m134-3h0m86 1h0m39 4h0m52-3h0m16-3h0m20 1h0m0 6h0m12-2h0m12-4h0m20 5h0m24-6h0m17 0h0m-443 12h0m68 3h0m45 1h0m14 0h0m96-2h0m137 1h0m41-3h0m10 5h0m31-3h0m-569 5h0m18 9h0m27-3h0m103 0h0m50-4h0m100 5h0m91-2h0m70 0h0m81-4h0m11 2h0m22 5h0m-558 5h0m149 2h0m87 1h0m124-3h0m45 1h0m28 5h0m38-5h0m15 3h0m43-4h0m-450 17h0m194-9h0m51 6h0m37-7h0m13 2h0m47 3h0m63-2h0m4-1h0m39 0h0m21 0h0m-548 12h0m63 2h0m2 3h0m4 1h0m37-5h0m43 2h0m1 1h0m20 1h0m183-7h0m71 3h0m100-2h0m-464 17h0m82-6h0m1 4h0m19 0h0m44-6h0m6 2h0m23 0h0m74 6h0m28-1h0m154-9h0m13 1h0m-472 19h0m-52 6h0m104-5h0m204 5h0m168-1h0m-396 7h0m67 3h0m3 3h0m272-1h0m41 2h0m-413 10h0m137-5h0m81 4h0m252 1h0m52-3h0m-397 11h0m36-4h0m0 3h0m8-3h0m131 6h0m37 0h0m168 0h0m-217 6h0m33-3h0m-351 9h0m0 3h0m84 1h0m149-3h0m72 0h0m55 5h0m72-3h0m39 4h0m-421 7h0m10 1h0m36-6h0m50 9h0m405-6h0m-442 8h0m54 5h0m121 2h0m53-6h0m109 2h0m66 3h0m-486 6h0m252 0h0m83 0h0m73 3h0m-265 12h0m-159 8h0m2-5h0m25 7h0m6-3h0m121-3h0m297 0h0m-405 15h0m182 3h0m116-8h0m55 2h0m100 3h0m-84 4h0m-32 10h0m-368 19h0m38-3h0m140-5h0m45 0h0m162 6h0m-264 7h0m123 2h0m275 12h0m-93 2h0m-308 14h0m264 2h0m-335 5h0m199 39h0m-273 19h0m183 0h0m157 0h0m63-4h0m94-1h0m-116 20h0m-330 16h0m24 5h0m378 3h0m-215 6h0m30 8h0m-268 10h0m191-2h0m166 20h0m-334 174h0m21 0h0m23 0h0m52 0h0m21 0h0m45 0h0m80 0h0m20 0h0m73 0h0m6 0h0m85 0h0m10 0h0" stroke="#000" stroke-width="22.5" stroke-linecap="round" fill="none"/></g>
<path d="M245.2 1073.5V1204.5H696.0" stroke="#2b2b2b" stroke-width="1.7" stroke-linejoin="round" fill="none"/>
<text x="183.4" y="1265.7" font-size="22" text-anchor="middle" fill="#1a1a1a">BTLA</text>
<g transform="translate(288.9,1374.9)"><path d="M32.3 -0.0C32.4 -0.3 34.3 -0.9 33.0 -1.8C31.6 -2.8 27.4 -4.3 24.2 -5.8C21.0 -7.2 16.5 -8.8 13.8 -10.4C11.1 -11.9 9.3 -13.5 8.1 -15.0C6.8 -16.5 6.1 -17.9 6.5 -19.6C6.8 -21.3 9.1 -23.3 10.4 -25.4C11.7 -27.5 13.4 -30.2 14.3 -32.3C15.2 -34.4 15.7 -36.1 15.7 -38.1C15.7 -40.0 15.2 -41.7 14.3 -43.8C13.4 -45.9 11.7 -48.1 10.4 -50.7C9.1 -53.4 7.5 -56.9 6.5 -60.0C5.4 -63.1 4.8 -66.1 4.2 -69.2C3.5 -72.3 2.8 -75.4 2.3 -78.4C1.8 -81.5 1.5 -86.1 1.4 -87.7L-1.4 -87.7C-1.5 -86.1 -1.8 -81.5 -2.3 -78.4C-2.8 -75.4 -3.5 -72.3 -4.2 -69.2C-4.8 -66.1 -5.4 -63.1 -6.5 -60.0C-7.5 -56.9 -9.1 -53.4 -10.4 -50.7C-11.7 -48.1 -13.4 -45.9 -14.3 -43.8C-15.2 -41.7 -15.7 -40.0 -15.7 -38.1C-15.7 -36.1 -15.2 -34.4 -14.3 -32.3C-13.4 -30.2 -11.7 -27.5 -10.4 -25.4C-9.1 -23.3 -6.8 -21.3 -6.5 -19.6C-6.1 -17.9 -6.8 -16.5 -8.1 -15.0C-9.3 -13.5 -11.1 -11.9 -13.8 -10.4C-16.5 -8.8 -21.0 -7.2 -24.2 -5.8C-27.4 -4.3 -31.6 -2.8 -33.0 -1.8C-34.3 -0.9 -32.4 -0.3 -32.3 -0.0Z" fill="#F8766D" stroke="#333" stroke-width="1.15" stroke-linejoin="round"/><path transform="scale(.1)" d="m-86-842h0m288-2h0m-138 35h0m74 24h0m-233 56h0m-139 17h0m450 6h0m8 1h0m-304 4h0m129 11h0m-111 13h0m37-4h0m32 3h0m-297 27h0m192 5h0m-93 4h0m253 5h0m-234 10h0m103 0h0m-210 12h0m1-7h0m311 3h0m64-2h0m-258 12h0m47-4h0m-99 9h0m7 7h0m353-3h0m-342 28h0m327 15h0m27-5h0m-431 10h0m88-2h0m423 1h0m-203 14h0m-268 7h0m226 0h0m21 0h0m-226 12h0m320-2h0m95 13h0m-177 5h0m96 4h0m40 0h0m-250 14h0m40-6h0m118 0h0m-318 11h0m526 3h0m-509 5h0m167 3h0m-108 15h0m371 8h0m20-4h0m25 13h0m-357 6h0m130-3h0m82 10h0m-380 1h0m422 8h0m-327 7h0m46-4h0m203 8h0m182-3h0m27-2h0m-522 11h0m285 1h0m127-3h0m-415 12h0m27 3h0m170-4h0m28-4h0m34 7h0m122 0h0m18-7h0m-377 17h0m198 8h0m129-5h0m1 5h0m-373 24h0m147-1h0m-75 2h0m379 5h0m19 1h0m26-1h0m-444 12h0m249-7h0m112 1h0m27 5h0m38 1h0m-274 6h0m-145 25h0m36 1h0m271-9h0m153 0h0m-238 22h0m232-3h0m-515 18h0m189-2h0m139-3h0m-178 16h0m15-6h0m111 2h0m119-4h0m147 1h0m-180 11h0m-264 23h0m217 8h0m249-3h0m-546 13h0m-16 211h0m3 0h0m6 0h0m8 0h0m6 0h0m13 0h0m3 0h0m3 0h0m4 0h0m32 0h0m8 0h0m33 0h0m0 0h0m32 0h0m2 0h0m5 0h0m1 0h0m27 0h0m3 0h0m3 0h0m5 0h0m14 0h0m14 0h0m2 0h0m1 0h0m17 0h0m1 0h0m18 0h0m4 0h0m32 0h0m9 0h0m31 0h0m25 0h0m7 0h0m6 0h0m10 0h0m16 0h0m10 0h0m30 0h0m6 0h0m7 0h0m2 0h0m8 0h0m4 0h0m2 0h0m22 0h0m41 0h0m18 0h0m2 0h0m3 0h0" stroke="#000" stroke-width="22.5" stroke-linecap="round" fill="none"/></g>
<g transform="translate(361.5,1374.9)"><path d="M0 0V-119.3" stroke="#333" stroke-width="1.4"/><path d="M-32.5 0H32.5" stroke="#333" stroke-width="1"/><path d="M-29.0 0H29.0" stroke="#000" stroke-width="3.36" stroke-linecap="round"/><path transform="scale(.1)" d="m-193-1155h0m405 223h0m-24 369h0m-444 92h0" stroke="#000" stroke-width="22.5" stroke-linecap="round" fill="none"/></g>
<g transform="translate(434.2,1374.9)"><path d="M0 0V-84.7" stroke="#333" stroke-width="1.4"/><path d="M-32.5 0H32.5" stroke="#333" stroke-width="1"/><path d="M-29.0 0H29.0" stroke="#000" stroke-width="2.08" stroke-linecap="round"/><path transform="scale(.1)" d="m-16-846h0m60 20h0m-99 22h0m67 22h0m244 0h0m-88 9h0m-177 13h0m-64 33h0m213 4h0m89 11h0m-333 32h0m1-4h0m-75 24h0m326 23h0m-358 50h0m260 0h0m-318 13h0m403 6h0m-354 19h0m131 21h0m255 1h0m-112 27h0m145 2h0m-106 15h0m131 5h0m-509 12h0m17 5h0m3 3h0m66 0h0m40-1h0m392 6h0m-253 11h0m174 20h0m-443 13h0m29 29h0m48 8h0m155 5h0m65 1h0m-4 56h0m166 21h0m-182 8h0m24 34h0m232-6h0m-166 45h0m-276 10h0" stroke="#000" stroke-width="22.5" stroke-linecap="round" fill="none"/></g>
<g transform="translate(506.9,1374.9)"><path transform="scale(.1)" d="m-220 0h0m16 0h0m24 0h0m0 0h0m13 0h0m9 0h0m32 0h0m2 0h0m10 0h0m3 0h0m6 0h0m9 0h0m10 0h0m27 0h0m8 0h0m2 0h0m16 0h0m12 0h0m62 0h0m5 0h0m1 0h0m7 0h0m5 0h0m4 0h0m4 0h0m10 0h0m19 0h0m8 0h0m17 0h0m0 0h0m47 0h0m22 0h0m2 0h0m12 0h0m19 0h0m7 0h0m7 0h0m3 0h0m16 0h0m21 0h0" stroke="#000" stroke-width="22.5" stroke-linecap="round" fill="none"/></g>
<g transform="translate(579.5,1374.9)"><path d="M0 0V-39.2" stroke="#333" stroke-width="1.4"/><path d="M-32.5 0H32.5" stroke="#333" stroke-width="1"/><path d="M-29.0 0H29.0" stroke="#000" stroke-width="2.56" stroke-linecap="round"/><path transform="scale(.1)" d="m-207-378h0m38 16h0" stroke="#000" stroke-width="22.5" stroke-linecap="round" fill="none"/></g>
<g transform="translate(652.1,1374.9)"><path d="M0 0V-66.2" stroke="#333" stroke-width="1.4"/><path d="M-32.5 0H32.5" stroke="#333" stroke-width="1"/><path d="M-29.0 0H29.0" stroke="#000" stroke-width="2.56" stroke-linecap="round"/><path transform="scale(.1)" d="m256-660h0m-208 11h0m11 9h0m-261 50h0m218-3h0m150 120h0m-224 18h0m-141 36h0m254 68h0m-189 91h0m371 24h0m-380 28h0" stroke="#000" stroke-width="22.5" stroke-linecap="round" fill="none"/></g>
<path d="M245.2 1249.9V1380.9H696.0" stroke="#2b2b2b" stroke-width="1.7" stroke-linejoin="round" fill="none"/>
<text x="183.4" y="1442.1" font-size="22" text-anchor="middle" fill="#1a1a1a">TNFRSF14</text>
<g transform="translate(288.9,1551.3)"><path d="M28.8 -0.0C28.8 -0.3 30.2 -0.9 28.8 -1.8C27.5 -2.8 23.6 -4.3 20.8 -5.8C17.9 -7.2 13.6 -8.8 11.5 -10.4C9.4 -11.9 8.3 -13.5 8.1 -15.0C7.9 -16.5 8.7 -17.9 10.4 -19.6C12.1 -21.3 15.8 -23.3 18.5 -25.4C21.1 -27.5 24.3 -30.0 26.5 -32.3C28.8 -34.6 30.8 -37.5 31.8 -39.2C32.9 -40.9 33.1 -41.3 33.0 -42.7C32.9 -44.0 32.8 -45.2 31.1 -47.3C29.5 -49.4 26.0 -52.5 23.1 -55.4C20.2 -58.2 16.5 -61.5 13.8 -64.6C11.1 -67.7 8.7 -70.9 6.9 -73.8C5.2 -76.7 4.1 -79.5 3.2 -81.9C2.4 -84.3 2.1 -87.1 1.8 -88.1L-1.8 -88.1C-2.1 -87.1 -2.4 -84.3 -3.2 -81.9C-4.1 -79.5 -5.2 -76.7 -6.9 -73.8C-8.7 -70.9 -11.1 -67.7 -13.8 -64.6C-16.5 -61.5 -20.2 -58.2 -23.1 -55.4C-26.0 -52.5 -29.5 -49.4 -31.1 -47.3C-32.8 -45.2 -32.9 -44.0 -33.0 -42.7C-33.1 -41.3 -32.9 -40.9 -31.8 -39.2C-30.8 -37.5 -28.8 -34.6 -26.5 -32.3C-24.3 -30.0 -21.1 -27.5 -18.5 -25.4C-15.8 -23.3 -12.1 -21.3 -10.4 -19.6C-8.7 -17.9 -7.9 -16.5 -8.1 -15.0C-8.3 -13.5 -9.4 -11.9 -11.5 -10.4C-13.6 -8.8 -17.9 -7.2 -20.8 -5.8C-23.6 -4.3 -27.5 -2.8 -28.8 -1.8C-30.2 -0.9 -28.8 -0.3 -28.8 -0.0Z" fill="#F8766D" stroke="#333" stroke-width="1.15" stroke-linejoin="round"/><path transform="scale(.1)" d="m-249-874h0m122 62h0m-63 25h0m49-7h0m263 7h0m95-4h0m-314 23h0m351-6h0m-147 14h0m-72 17h0m179 10h0m-353 10h0m86 4h0m-228 12h0m86-3h0m208 0h0m-124 22h0m393 2h0m-368 4h0m43 3h0m58-3h0m224 0h0m-371 8h0m49 5h0m9 3h0m227 0h0m-407 10h0m205-7h0m-228 26h0m232-3h0m91 4h0m209 1h0m-508 2h0m493 6h0m-291 11h0m112-9h0m173 26h0m-256 7h0m208 0h0m7 4h0m-477 7h0m81 2h0m173 1h0m77-5h0m132 0h0m73 6h0m-384 11h0m49 10h0m238-2h0m-427 13h0m178-5h0m14-3h0m29 7h0m60-1h0m25-3h0m125 0h0m-173 10h0m7-1h0m32-1h0m17 4h0m-130 9h0m62 0h0m33 0h0m64 3h0m9-4h0m204 4h0m-48 4h0m39 5h0m-359 8h0m8-6h0m14 3h0m48-1h0m50 1h0m-109 13h0m190-1h0m-338 6h0m147 8h0m5-5h0m159-2h0m117 4h0m57-4h0m-442 9h0m46 6h0m157-3h0m-193 6h0m324 7h0m119 1h0m-434 7h0m204-1h0m11-1h0m19 5h0m74 0h0m33-2h0m-387 8h0m55 3h0m64-2h0m88 4h0m88 0h0m15-7h0m95-1h0m-211 18h0m53-1h0m-285 3h0m145 8h0m70-5h0m90-1h0m73-2h0m49-1h0m-473 13h0m53-2h0m79 4h0m388 1h0m-514 8h0m514-1h0m31 7h0m-463 5h0m82-3h0m45-2h0m24 5h0m104 5h0m104-9h0m109 4h0m2 5h0m20-7h0m-463 7h0m43 6h0m7 2h0m-32 11h0m5 1h0m295-4h0m97-4h0m41 7h0m-546 5h0m248 2h0m-134 13h0m373-4h0m-441 8h0m371 4h0m70-6h0m-111 14h0m163 4h0m-248 3h0m6 3h0m187-1h0m-463 9h0m72 5h0m61-3h0m340-2h0m-443 15h0m374-4h0m105 0h0m-480 12h0m153-3h0m24 3h0m70 0h0m10 3h0m-323 3h0m368 8h0m26-4h0m-243 12h0m144 20h0m36-3h0m-121 8h0m156 7h0m130-7h0m12-1h0m-424 13h0m193 12h0m194 0h0m11 0h0m-244 8h0m314-1h0m-115 7h0m-77 36h0m187 2h0m-548 176h0m51 0h0m14 0h0m12 0h0m3 0h0m8 0h0m10 0h0m24 0h0m15 0h0m43 0h0m2 0h0m1 0h0m39 0h0m23 0h0m6 0h0m10 0h0m22 0h0m20 0h0m1 0h0m7 0h0m13 0h0m6 0h0m10 0h0m15 0h0m3 0h0m14 0h0m2 0h0m18 0h0m3 0h0m92 0h0m2 0h0m5 0h0m5 0h0m4 0h0m9 0h0m0 0h0m6 0h0m23 0h0m2 0h0m24 0h0" stroke="#000" stroke-width="22.5" stroke-linecap="round" fill="none"/></g>
<g transform="translate(361.5,1551.3)"><path d="M32.3 -0.0C32.1 -0.3 34.3 -0.9 31.1 -1.8C28.0 -2.8 18.1 -4.3 13.4 -5.8C8.6 -7.2 4.6 -9.0 2.5 -10.4C0.5 -11.7 1.1 -11.7 0.9 -13.8C0.7 -16.0 1.2 -17.7 1.4 -23.1C1.6 -28.5 2.0 -38.4 2.1 -46.1C2.2 -53.8 2.0 -61.5 1.8 -69.2C1.7 -76.9 1.4 -84.0 1.2 -92.3C0.9 -100.5 0.5 -114.4 0.3 -118.8L-0.3 -118.8C-0.5 -114.4 -0.9 -100.5 -1.2 -92.3C-1.4 -84.0 -1.7 -76.9 -1.8 -69.2C-2.0 -61.5 -2.2 -53.8 -2.1 -46.1C-2.0 -38.4 -1.6 -28.5 -1.4 -23.1C-1.2 -17.7 -0.7 -16.0 -0.9 -13.8C-1.1 -11.7 -0.5 -11.7 -2.5 -10.4C-4.6 -9.0 -8.6 -7.2 -13.4 -5.8C-18.1 -4.3 -28.0 -2.8 -31.1 -1.8C-34.3 -0.9 -32.1 -0.3 -32.3 -0.0Z" fill="#B79F00" stroke="#333" stroke-width="1.15" stroke-linejoin="round"/><path d="M-29.0 0H29.0" stroke="#000" stroke-width="3.36" stroke-linecap="round"/><path transform="scale(.1)" d="m-90-1076h0m-135 11h0m15 5h0m22 3h0m29-1h0m89 10h0m173-4h0m118 5h0m-405 7h0m47 0h0m22-1h0m131 1h0m39 5h0m-98 9h0m29-4h0m11-4h0m125 4h0m92-2h0m-503 13h0m45-1h0m289-3h0m25-2h0m170 4h0m-495 11h0m35-5h0m362 1h0m87 8h0m-488 2h0m347 7h0m8-2h0m116 2h0m-474 7h0m38-4h0m10 3h0m30-3h0m50 8h0m101-4h0m302 4h0m-558 2h0m12 6h0m59-2h0m60 2h0m7-7h0m56 6h0m47-6h0m57 4h0m1 4h0m-134 5h0m33-1h0m31 2h0m148 5h0m33-8h0m95 4h0m17 0h0m-450 9h0m4-1h0m97 2h0m71 2h0m93-3h0m128-3h0m-446 10h0m6 1h0m40-1h0m0 8h0m92-5h0m29 1h0m79 2h0m55-4h0m38 4h0m62 1h0m6-3h0m10-2h0m6-1h0m78-1h0m-460 18h0m0-8h0m3 0h0m193 8h0m96 0h0m0 1h0m98-3h0m11 3h0m26-2h0m32-7h0m58 6h0m-399 12h0m13-6h0m53 6h0m14-1h0m129-2h0m6 3h0m117-1h0m14-2h0m44-2h0m-490 9h0m18 3h0m27 1h0m4 0h0m2 0h0m73-3h0m75-3h0m87 0h0m36 7h0m121-5h0m-516 12h0m8 0h0m131-2h0m70-1h0m33 2h0m110 6h0m49-7h0m46-2h0m29-1h0m83 7h0m-536 9h0m79 0h0m60 0h0m110 1h0m23-4h0m112 6h0m22-5h0m3 4h0m16 2h0m23-5h0m18-4h0m-480 17h0m210-5h0m41 7h0m30-2h0m15-7h0m19 1h0m6-1h0m2 4h0m100-4h0m24-1h0m9 6h0m12-6h0m2 3h0m85 4h0m-562 5h0m45 7h0m6-1h0m1-7h0m53 4h0m24 3h0m151-5h0m12 0h0m174 2h0m28-4h0m34 2h0m-463 12h0m40 0h0m1-3h0m17 5h0m60-6h0m132 2h0m21 5h0m149-3h0m4 1h0m-481 12h0m54 0h0m0-1h0m24 2h0m44-9h0m33 9h0m51-1h0m2-3h0m43 2h0m78-6h0m193 2h0m-528 14h0m67 2h0m4-3h0m29-3h0m3-2h0m15 6h0m33 2h0m79 0h0m12-1h0m41-5h0m43 5h0m50 1h0m27-9h0m25 4h0m80 1h0m20-2h0m-499 14h0m7 1h0m59-5h0m74-2h0m2 1h0m116-1h0m56 7h0m20-8h0m7 3h0m21 7h0m8-7h0m55 0h0m53 5h0m35-8h0m5 9h0m18 1h0m-522 5h0m125 2h0m38-6h0m6 6h0m25-6h0m42 8h0m6-7h0m111 0h0m20 7h0m8-4h0m25 2h0m16 0h0m-467 12h0m41-5h0m78 4h0m30-3h0m28 2h0m7 0h0m3-3h0m14 1h0m77 2h0m137-5h0m28-2h0m78 5h0m-468 13h0m96-2h0m3 0h0m100 1h0m40-3h0m12 6h0m59-8h0m33 0h0m70 6h0m101-4h0m-447 11h0m28-2h0m8-2h0m64 3h0m17-3h0m46 2h0m17 0h0m52 2h0m16-3h0m18-2h0m97 6h0m2-2h0m4 6h0m22-4h0m13-2h0m41 1h0m-553 7h0m86 1h0m3 0h0m50 2h0m51 4h0m14-8h0m91 7h0m25-4h0m2 5h0m39-2h0m18-5h0m19 4h0m111 2h0m17 2h0m-501 1h0m17 3h0m46-3h0m17 3h0m12-2h0m12 1h0m11 6h0m7-5h0m37 5h0m170-3h0m77-2h0m1 1h0m12-3h0m38 3h0m14 0h0m9-5h0m29 1h0m23-1h0m-541 20h0m4-10h0m51 5h0m33 1h0m6 0h0m7 1h0m24-4h0m74 0h0m36 6h0m65-3h0m54 1h0m25 0h0m12-5h0m12 3h0m49 3h0m45-5h0m37 3h0m3-4h0m-556 18h0m12 0h0m22-7h0m37 2h0m5 2h0m43 1h0m107 0h0m1-7h0m34 5h0m5 1h0m45-5h0m4 1h0m7 3h0m34 2h0m1-2h0m9 2h0m3 2h0m12-6h0m7 4h0m3-2h0m5-2h0m11 1h0m78 1h0m35 3h0m14-8h0m-540 17h0m9-6h0m65 7h0m3 0h0m5-2h0m54 2h0m48-2h0m15 1h0m8 1h0m21-1h0m3-3h0m18 2h0m6-6h0m61 2h0m18-1h0m2 0h0m30-2h0m45 4h0m11 2h0m8 3h0m37-3h0m5 4h0m-447 4h0m14 2h0m23-1h0m10 2h0m22-5h0m39 1h0m1-1h0m19 2h0m26 3h0m10-6h0m13 5h0m2 2h0m14 0h0m38-3h0m6 2h0m10-6h0m12-1h0m29 4h0m18 4h0m58 0h0m5-6h0m23-1h0m14 8h0m4-8h0m13 0h0m31 4h0m20 2h0m61-4h0m-567 8h0m15 2h0m2 0h0m28 3h0m1-6h0m7 5h0m16-3h0m1 2h0m0-2h0m10-1h0m9 4h0m17 2h0m2-2h0m18 5h0m1-6h0m28 3h0m0-1h0m26-6h0m4 1h0m7 6h0m13 3h0m24-2h0m6-6h0m13 7h0m3 1h0m7-7h0m2 4h0m11-6h0m20 1h0m10 3h0m7-3h0m34 3h0m22 5h0m10-1h0m2-7h0m7 7h0m7-1h0m7-5h0m9 0h0m22-2h0m15 2h0m12 0h0m10 0h0m6 5h0m12-4h0m6 0h0m5 5h0m11-6h0m52 6h0m-540 10h0m32 0h0m1-6h0m35 1h0m4 3h0m5-6h0m3 5h0m1-5h0m3 6h0m2-3h0m3 0h0m10-1h0m2 1h0m14 3h0m6-2h0m8 3h0m5 0h0m22-3h0m0 0h0m3-1h0m22 4h0m9 0h0m19-4h0m2-2h0m1 2h0m1 0h0m48-4h0m11 0h0m13 6h0m1-5h0m21 5h0m2 0h0m5-5h0m1 7h0m6-2h0m10-5h0m5 0h0m3 8h0m13-3h0m2-1h0m1 5h0m29-9h0m30 8h0m21-6h0m12 3h0m5 3h0m0-4h0m49 5h0m14-3h0m21 2h0m1-5h0m1 1h0m12 2h0m-569 7h0m16 0h0m5 5h0m1-5h0m7 0h0m4 1h0m17 1h0m6 1h0m4 0h0m11 0h0m0-1h0m8 3h0m5-4h0m45 3h0m18-1h0m10-3h0m1-2h0m5 7h0m6-5h0m2 0h0m11-3h0m24 5h0m5-3h0m21 2h0m3 0h0m4-4h0m7 8h0m15-3h0m11-5h0m25 3h0m5 2h0m20 1h0m36-6h0m7 8h0m2-8h0m6 5h0m3-5h0m19 3h0m1 2h0m53 0h0m2 1h0m4-6h0m32 5h0m10-1h0m19-3h0m8 2h0m28 1h0m6 1h0m-540 7h0m3 6h0m21 1h0m8-1h0m44 0h0m2-7h0m6-2h0m28 6h0m0-3h0m19 7h0m9-7h0m38-2h0m105 5h0m2-2h0m2 2h0m1-3h0m5 4h0m15-3h0m7 6h0m14-4h0m9 2h0m7-8h0m12 9h0m17-1h0m18-6h0m0 4h0m7-4h0m6 3h0m10 5h0m4-6h0m12 6h0m1-3h0m1-4h0m10 1h0m10 4h0m26-3h0m8-5h0m20 7h0m7-5h0m10 6h0m0-3h0m1-1h0m24-1h0m9 4h0m-578 5h0m2 0h0m5 0h0m6 3h0m1 0h0m2-2h0m2 4h0m21 1h0m8-5h0m16-3h0m3 5h0m38-3h0m14-1h0m14 8h0m0 0h0m0 0h0m6-8h0m8 3h0m2-3h0m2 0h0m8 4h0m11 1h0m12 3h0m41-8h0m1 0h0m3 5h0m9-3h0m1-3h0m41 3h0m20-1h0m0 7h0m3-2h0m2 2h0m3-3h0m5-3h0m5 0h0m1 7h0m3-5h0m7-3h0m11-1h0m2-1h0m10 2h0m4 4h0m1-4h0m9 7h0m37-7h0m22-2h0m4 5h0m6-5h0m17 3h0m1 5h0m47-3h0m10-1h0m2 0h0m8-1h0m45-3h0m7 2h0m-567 16h0m10 0h0m8-7h0m9-1h0m12 1h0m1 3h0m11 2h0m14-2h0m39-2h0m6 0h0m8 5h0m4 1h0m12-1h0m9 1h0m12 2h0m8-7h0m1-2h0m5 6h0m4-6h0m19 4h0m5 4h0m58 0h0m9-8h0m0 7h0m2-7h0m13 1h0m7 2h0m1 2h0m2-3h0m5-3h0m7 3h0m6-1h0m8 2h0m4-4h0m1 9h0m21 0h0m5-5h0m5 3h0m41 0h0m24-6h0m7 2h0m6 4h0m14 1h0m2-5h0m26 5h0m1-6h0m28 5h0m2 2h0m1-6h0m8-1h0m23 0h0m3-1h0m2 5h0m7-2h0m1 3h0m5 1h0m6-7h0m-558 10h0m4 1h0m15 0h0m8 8h0m10-4h0m19-4h0m10 0h0m34 3h0m4-3h0m6 7h0m0-5h0m3 6h0m2-4h0m12-5h0m0 4h0m3 4h0m3-4h0m16-5h0m2 1h0m18 0h0m4 3h0m29-2h0m3 7h0m4-1h0m24 0h0m2-7h0m3 9h0m0-4h0m30 0h0m4 1h0m1-5h0m1 5h0m5 2h0m0 0h0m2 1h0m43-5h0m2-3h0m8-1h0m15-1h0m3 9h0m5 0h0m20-2h0m6-6h0m6 6h0m4 2h0m8 1h0m1-8h0m13 2h0m24 2h0m34-5h0m0 5h0m13 3h0m20-5h0m0-1h0m7 1h0m0 3h0m6 2h0m1-5h0m3 4h0m16-4h0m38 6h0m-558 5h0m11-5h0m6 3h0m28-3h0m4 2h0m38 6h0m11-1h0m10 3h0m0-8h0m7 2h0m2 1h0m1 0h0m8 2h0m3-6h0m7 1h0m18 5h0m6 2h0m6-7h0m43-1h0m0 8h0m4-2h0m9-3h0m4-3h0m15 5h0m7-2h0m19 4h0m5-8h0m6 2h0m1 1h0m29 1h0m10 0h0m14 0h0m9-2h0m53 6h0m35-4h0m4 3h0m10-6h0m11 9h0m22-5h0m23-2h0m6 6h0m3-2h0m3 2h0m3-2h0m13 1h0m0-2h0m1-4h0m8 7h0m4-4h0m-560 10h0m4 4h0m8-6h0m6 1h0m10 6h0m6-1h0m5 1h0m24-1h0m17-2h0m37-7h0m42 7h0m11-6h0m2 2h0m3-1h0m2 0h0m15 4h0m3-3h0m3 1h0m24 2h0m16-2h0m3-4h0m36 6h0m7 1h0m6 2h0m7-3h0m5 2h0m17 0h0m8 1h0m5-7h0m12 8h0m26 0h0m21-10h0m9 7h0m14-6h0m12 4h0m1 0h0m21-4h0m27 4h0m5 1h0m4-6h0m26 5h0m7 0h0m3 0h0m7 2h0m1-7h0m8 3h0m23 1h0m20 2h0m-579 11h0m2-4h0m16 0h0m14 4h0m2 3h0m24-9h0m37-1h0m11 6h0m2-5h0m22 4h0m4 3h0m35 2h0m11-6h0m26 6h0m33 0h0m32-2h0m10-2h0m14-4h0m7 7h0m16 0h0m15-5h0m4 3h0m7-2h0m7-2h0m21 5h0m32-4h0m3 3h0m2 2h0m2 1h0m1-9h0m26 1h0m7 6h0m3-2h0m1 1h0m23 0h0m21-1h0m12 1h0m5-6h0m5 6h0m12 0h0m39 1h0m-559 9h0m13-5h0m2 3h0m11 2h0m9 0h0m14-5h0m4 7h0m4 0h0m2 0h0m15 1h0m7-2h0m16-6h0m28 2h0m4 4h0m3-3h0m2-2h0m1 6h0m7-5h0m0 1h0m34-5h0m35 3h0m3-2h0m14 8h0m36-7h0m0 5h0m40 3h0m17-1h0m17 0h0m2 1h0m1-7h0m15 1h0m12 4h0m2-6h0m7 3h0m2 3h0m15-1h0m30-1h0m1-1h0m5-2h0m8 5h0m18-7h0m5 6h0m34-7h0m18 8h0m3 1h0m5-8h0m17 7h0m-539 6h0m6-1h0m8 6h0m0-7h0m10 5h0m4-5h0m27 1h0m8 0h0m6-1h0m30-2h0m27 3h0m15 0h0m26 5h0m85 0h0m1 2h0m1 0h0m12-5h0m4-1h0m4 3h0m0-6h0m7 9h0m12-3h0m3-2h0m3 2h0m44-6h0m5 8h0m1-3h0m2-1h0m8 3h0m3-5h0m78 5h0m20-4h0m8-3h0m2 2h0m22 5h0m13-8h0m39 5h0m6 2h0m-551 12h0m2-5h0m6 1h0m1-5h0m4 4h0m13-1h0m6 4h0m5 0h0m2-3h0m13 0h0m2 4h0m2 1h0m19-4h0m8 4h0m9-7h0m4 5h0m2-4h0m11 4h0m35-4h0m28 3h0m3 1h0m13 2h0m43-7h0m18 0h0m5 7h0m2-7h0m7 8h0m4-9h0m17 1h0m7 5h0m5-4h0m5-1h0m14 5h0m2-4h0m24 6h0m44-9h0m2 3h0m1 0h0m1 2h0m23 2h0m23 1h0m9-4h0m0-4h0m22 6h0m20-3h0m2 1h0m12 2h0m10 0h0m24-2h0m11 4h0m4-1h0m8-6h0m4-1h0m-567 13h0m12 7h0m6-1h0m5 0h0m13-8h0m7 7h0m26-6h0m19 4h0m0-3h0m10 7h0m11-1h0m8-2h0m29-6h0m15 5h0m7 2h0m5-3h0m60 3h0m11-6h0m5 7h0m27-9h0m8 1h0m16 0h0m13-1h0m1 10h0m3-4h0m16 2h0m8 0h0m17-2h0m3-1h0m25-1h0m23-3h0m2 8h0m12 1h0m0-7h0m20 6h0m15-6h0m10 7h0m14-4h0m22 0h0m0-1h0m25 3h0m7 1h0m16-4h0m3 3h0m4-5h0m10 4h0m-549 9h0m17-5h0m2 3h0m8 1h0m10-4h0m50 6h0m3-3h0m5 5h0m0-5h0m14 0h0m3-4h0m43 2h0m15-1h0m19 7h0m26-3h0m20 4h0m34-8h0m9-1h0m13 7h0m4 3h0m0-6h0m4 3h0m4-7h0m4 1h0m20 6h0m18-1h0m8 0h0m43-4h0m51 1h0m8-3h0m10 10h0m10-8h0m2 4h0m5-4h0m62 5h0m2-1h0m8-3h0m3 1h0m1-4h0m-556 13h0m7 5h0m21-3h0m6 5h0m16-9h0m28 9h0m31-6h0m27 5h0m4 1h0m2-7h0m12 6h0m16 0h0m5-1h0m10-7h0m2 7h0m13-1h0m14-4h0m47 2h0m19-4h0m20 4h0m21-2h0m32 4h0m19-7h0m14 6h0m13-4h0m21 5h0m0 1h0m24-7h0m29 6h0m5 0h0m6-5h0m49 5h0m2-7h0m3 5h0m17 3h0m-563 6h0m2 3h0m6-6h0m13 3h0m9 1h0m18-3h0m17 7h0m4 1h0m1-4h0m24 3h0m4-1h0m8-4h0m2 2h0m38 1h0m10 1h0m5-3h0m18-4h0m21 4h0m11 4h0m4-3h0m7-5h0m12 1h0m7 7h0m5-2h0m24 0h0m1 2h0m3-5h0m15-2h0m17 8h0m1-5h0m16 2h0m6 2h0m7-7h0m23 3h0m82-2h0m6 2h0m3-2h0m0 2h0m10 2h0m6-2h0m32-1h0m8 1h0m43 4h0m-549 5h0m39 4h0m8-3h0m7-2h0m3 2h0m49 5h0m1-9h0m29 6h0m4-7h0m24 5h0m2-3h0m5 6h0m2-8h0m26 1h0m11 5h0m4 2h0m2-6h0m1-2h0m3 2h0m37 5h0m5-7h0m1 2h0m12 4h0m7-5h0m77 8h0m20-8h0m3 4h0m2 2h0m25-6h0m1 8h0m42-1h0m33-4h0m1-3h0m4 5h0m2-6h0m46 5h0m8-5h0m-543 13h0m14-1h0m3 1h0m0 2h0m25-5h0m1 5h0m22 4h0m3-4h0m30 5h0m7-1h0m12-5h0m79 2h0m2-4h0m19-2h0m20 6h0m1-4h0m8 4h0m4 0h0m1 1h0m27-3h0m6-3h0m15 7h0m12-5h0m8 4h0m23-3h0m22 3h0m4 1h0m12-6h0m7 5h0m26-4h0m4 2h0m12 3h0m5-4h0m9 1h0m36 1h0m4-1h0m29-2h0m12 1h0m3-1h0m4 3h0m17 1h0m6 1h0m0-6h0m8 7h0m-576 3h0m7 1h0m7-1h0m18 2h0m27 4h0m9-6h0m2 4h0m4-5h0m8 2h0m13 4h0m1-2h0m8-2h0m3 0h0m15 7h0m28-9h0m8-1h0m2 2h0m13-2h0m26 0h0m3 9h0m10-4h0m32 2h0m1-4h0m4 1h0m5-1h0m3 2h0m2-4h0m5 4h0m34 3h0m15-1h0m11-7h0m13 9h0m1-8h0m11 3h0m3-2h0m3 4h0m22-2h0m16 4h0m1-5h0m35-2h0m9 9h0m0-10h0m11 0h0m0 7h0m29-3h0m10 0h0m11 4h0m16-1h0m21-6h0m3 6h0m11 0h0m3-7h0m4 10h0m7-2h0m8-4h0m-536 11h0m2 1h0m28-2h0m8 1h0m4 2h0m31-7h0m7 8h0m11-5h0m0 4h0m0-4h0m16-1h0m10 2h0m5-2h0m1 5h0m10-1h0m1-4h0m6 6h0m8 2h0m0-3h0m30-2h0m2-2h0m26 7h0m0-7h0m7-3h0m40 0h0m4 9h0m2-3h0m19-3h0m2 3h0m0-4h0m15-2h0m12 1h0m46 3h0m17 1h0m5 2h0m4-3h0m34-3h0m31 7h0m1 0h0m10-7h0m8 2h0m7 4h0m2-2h0m7-2h0m21-3h0m4 7h0m3-7h0m8 6h0m16-1h0m5-4h0m5 6h0m-563 11h0m8 0h0m8-4h0m3-3h0m14 0h0m0 0h0m37 6h0m3-4h0m5 5h0m1-1h0m5 2h0m9 0h0m7-1h0m20-2h0m5 2h0m1-2h0m15 2h0m5-4h0m6 0h0m1 5h0m32-7h0m2 4h0m2 3h0m7 1h0m3-4h0m3 3h0m4-6h0m18-3h0m4 3h0m30 6h0m16-8h0m1 2h0m3-1h0m13 4h0m22 3h0m21-4h0m3-1h0m27 3h0m21 0h0m12-6h0m3 2h0m11 1h0m98 0h0m22 2h0m-544 14h0m9 0h0m2-10h0m10 1h0m29-1h0m17 5h0m10 4h0m7 1h0m13-4h0m4-4h0m1-1h0m72-1h0m4 9h0m0-9h0m2 5h0m14 2h0m16 3h0m5-4h0m4 0h0m42-3h0m4 1h0m1 2h0m22 2h0m29-4h0m7-1h0m4 6h0m38-3h0m16-6h0m34 5h0m6 3h0m14-1h0m5-2h0m59 2h0m13 2h0m12-6h0m6 1h0m0-1h0m17 7h0m-524 1h0m21-1h0m8 6h0m9-3h0m6 5h0m12 2h0m4-3h0m3 1h0m10 1h0m0-4h0m1 0h0m3-1h0m5-1h0m28 1h0m5 5h0m3-2h0m26 0h0m21-7h0m38 8h0m7 1h0m6 1h0m18-7h0m6-3h0m24 9h0m2-8h0m2 5h0m5 2h0m7-3h0m6 5h0m21-9h0m9 5h0m5-2h0m47-2h0m16 0h0m18-1h0m0 0h0m15 5h0m36 4h0m3-8h0m0 8h0m4-4h0m1-4h0m1 7h0m13-5h0m5-3h0m5 7h0m7-5h0m13-1h0m36 0h0m3 4h0m4-1h0m-557 14h0m15-9h0m3 8h0m24-8h0m12 7h0m3 2h0m3-5h0m2-2h0m0 0h0m23 5h0m28 1h0m22 0h0m9-1h0m6-7h0m1 3h0m29 6h0m44-4h0m2 4h0m33-8h0m10 6h0m8-3h0m26-1h0m13-2h0m35 0h0m12 2h0m3-1h0m30 4h0m1 0h0m4-4h0m5 6h0m6-5h0m6 2h0m21-5h0m18 9h0m11-8h0m15 6h0m5-3h0m4-2h0m2-1h0m5 4h0m13-1h0m2 2h0m7-4h0m2 5h0m-535 12h0m5-3h0m4-1h0m23-3h0m39-2h0m7 3h0m7 2h0m8 1h0m7-2h0m5 2h0m15-4h0m45 2h0m2 1h0m5 2h0m1-1h0m0 3h0m34-9h0m27 0h0m10 1h0m12 0h0m27 7h0m2-6h0m4 6h0m12-5h0m2 5h0m17-5h0m1 3h0m47 3h0m0-6h0m5-1h0m1 4h0m10-6h0m13 3h0m16 1h0m3 6h0m9-9h0m30 3h0m4 3h0m41-2h0m4 1h0m14-2h0m9 0h0m5 4h0m10-4h0m14-1h0m-548 17h0m39-5h0m34 2h0m3-1h0m8-3h0m2 6h0m4-6h0m12 5h0m1-2h0m1-4h0m0 0h0m2 5h0m24-7h0m3 5h0m1 2h0m19-5h0m8 7h0m29-1h0m4 1h0m51-1h0m12 2h0m37-2h0m18 1h0m30-5h0m13 2h0m1 3h0m1-5h0m11-1h0m11 1h0m1-3h0m5 3h0m0-1h0m5 3h0m19-2h0m21 6h0m39-7h0m7 5h0m34-8h0m24 1h0m-541 14h0m24-3h0m11 6h0m6-2h0m0-4h0m43 5h0m7 0h0m16-4h0m11 5h0m3-3h0m10-3h0m3 5h0m20-3h0m1 1h0m5-2h0m10 2h0m31-1h0m4 1h0m22 1h0m11-3h0m3 2h0m16-4h0m11 0h0m6 1h0m20 3h0m5-4h0m18 9h0m7 0h0m6-1h0m2-8h0m9 5h0m21 1h0m16 2h0m1-5h0m9-3h0m14 7h0m6-6h0m32 5h0m11-4h0m21 1h0m0 4h0m12-2h0m6-3h0m7 6h0m7-7h0m3 7h0m45-4h0m7-4h0m-547 13h0m0 5h0m5-2h0m41-1h0m5-1h0m31-1h0m12-2h0m2 2h0m32 0h0m3-1h0m5 3h0m8-5h0m10 1h0m0 6h0m6-2h0m25-3h0m3-2h0m18 6h0m1-2h0m30-2h0m1 1h0m21 3h0m10 2h0m6-3h0m10 2h0m4-2h0m11-2h0m14 2h0m1-4h0m25-1h0m22 0h0m3 4h0m5-1h0m1 6h0m40-6h0m47 2h0m4-1h0m7-4h0m0 3h0m1 6h0m8-3h0m5-3h0m19-1h0m4 5h0m20-1h0m5 1h0m4 1h0m11-9h0m10 5h0m-559 10h0m7-4h0m4 8h0m5-4h0m2-2h0m30-1h0m15 4h0m4-1h0m2-4h0m13-1h0m1 3h0m4-2h0m4 8h0m20-1h0m5-3h0m36 1h0m31-1h0m9-2h0m6 0h0m2 1h0m9 5h0m24-8h0m11 6h0m43-4h0m9 3h0m14-3h0m21 6h0m9-6h0m5 0h0m2 5h0m0-7h0m2 5h0m20 2h0m9-4h0m14 1h0m4 3h0m37-2h0m10 4h0m18-1h0m9 1h0m14 0h0m3-6h0m12 5h0m11-2h0m5 2h0m9-1h0m1-1h0m6-7h0m8 0h0m2 3h0m21 5h0m-558 10h0m2-8h0m5 4h0m7 6h0m18-2h0m14-2h0m5 3h0m10-6h0m1 5h0m4-5h0m4 2h0m72 5h0m9-6h0m13-1h0m10 0h0m4 2h0m24 0h0m9-2h0m8 1h0m5-4h0m9 9h0m22-3h0m28 2h0m18-3h0m29-1h0m0 2h0m45-6h0m19 3h0m18 6h0m10-5h0m22 0h0m6-3h0m42 1h0m8-1h0m5 7h0m18-4h0m28-1h0m-543 10h0m8 1h0m1-1h0m18 4h0m8-3h0m25 3h0m12-5h0m8 1h0m0 0h0m6 0h0m9 6h0m9-7h0m6 3h0m4-3h0m24 1h0m14 1h0m30 1h0m30-3h0m28-2h0m8 8h0m2-8h0m4 1h0m9 8h0m4-7h0m4 5h0m1-5h0m27 4h0m8 4h0m4-7h0m1-2h0m25 1h0m6-1h0m21 0h0m0 8h0m41-2h0m15 3h0m8-6h0m11 3h0m3 3h0m1 0h0m5-10h0m1 5h0m12-3h0m26 7h0m9-8h0m29 5h0m3-5h0m8 4h0m3 4h0m0-5h0m5-2h0m1 0h0m-573 11h0m4-3h0m9 3h0m6 7h0m18-4h0m34 1h0m1 0h0m7 2h0m6-9h0m2 1h0m14 2h0m10 2h0m2 0h0m17 1h0m19 0h0m2-3h0m19 3h0m6-5h0m25 8h0m14-1h0m21-3h0m22-5h0m24 3h0m1-3h0m28 7h0m9-1h0m4 1h0m7 1h0m12 0h0m35-1h0m4 1h0m13-7h0m3 3h0m1 1h0m52 5h0m0-4h0m3-5h0m11 3h0m16-1h0m6-2h0m3-1h0m8 6h0m0-4h0m11 0h0m29 5h0m16 0h0m3 1h0m5-4h0m3 3h0m12 0h0m-567 6h0m35 2h0m5-4h0m35 3h0m5 5h0m0-3h0m5-1h0m1-3h0m13 4h0m12-5h0m4 0h0m6 3h0m21-1h0m27-2h0m5 8h0m6-2h0m5-7h0m2 8h0m9 0h0m10-4h0m8-1h0m27 0h0m10 4h0m5-5h0m17 2h0m57-3h0m8 1h0m26 7h0m14-6h0m11 6h0m5-3h0m8-6h0m6 6h0m18 0h0m4-2h0m39 0h0m12-1h0m5 5h0m13-1h0m42 2h0m6-4h0m2-4h0m1 6h0m-561 11h0m6-8h0m27 5h0m13 5h0m2-3h0m1-5h0m2 6h0m18-8h0m3 9h0m6 0h0m6-6h0m0-1h0m2 1h0m14-1h0m23 0h0m14 0h0m16 5h0m4-3h0m12 2h0m12-4h0m10 0h0m18 8h0m2-5h0m30 4h0m1-7h0m20 1h0m18-1h0m15 8h0m2-8h0m4 6h0m4-3h0m2-2h0m3 5h0m8-1h0m5-4h0m3 3h0m2-6h0m22 7h0m0-3h0m26 1h0m20-2h0m10 3h0m3-2h0m44 3h0m1-7h0m10 8h0m1-4h0m17 1h0m13-1h0m1-3h0m1 7h0m16-6h0m14 6h0m7 2h0m2-6h0m3 2h0m3-3h0m26 0h0m-561 10h0m1 7h0m1-9h0m14 3h0m3 2h0m74 3h0m21-4h0m13 0h0m8 2h0m12-5h0m15 4h0m7 2h0m24 2h0m21-7h0m11 6h0m3-8h0m24 1h0m24 4h0m10-3h0m30 1h0m26 6h0m18-4h0m13-4h0m9 7h0m0-3h0m54 0h0m0 3h0m7-4h0m33 1h0m9 0h0m19 3h0m31 0h0m4-5h0m5-1h0m17-2h0m9 0h0m-561 11h0m7 8h0m25-1h0m15 1h0m15-5h0m7-4h0m6 4h0m22-2h0m11 0h0m1 2h0m21 0h0m20 4h0m6-4h0m4-3h0m4 0h0m9 3h0m26 5h0m14 0h0m12-4h0m5 4h0m20-1h0m2-3h0m7-3h0m20 5h0m0-7h0m1 8h0m47-1h0m33 1h0m3 1h0m4-3h0m2-2h0m14 0h0m16 2h0m2 2h0m5-5h0m21 6h0m9-1h0m6-7h0m10 4h0m2 4h0m5-7h0m9 4h0m5-2h0m36 4h0m1 1h0m10 0h0m7-8h0m3 1h0m7 1h0m-536 15h0m9-1h0m8 0h0m19-4h0m17-2h0m5 6h0m9-4h0m0 4h0m5-3h0m2-2h0m15-1h0m36 0h0m7 0h0m5 5h0m2 1h0m12-6h0m21 3h0m9 5h0m1-3h0m4 3h0m1-4h0m25 1h0m0-6h0m35 2h0m2-2h0m2 2h0m2 0h0m15 5h0m2-7h0m9 4h0m9-4h0m47 0h0m14 6h0m1-1h0m7 0h0m10 1h0m0 1h0m21-5h0m5-2h0m7 4h0m12 3h0m6-2h0m1-2h0m3 1h0m52-1h0m23 1h0m1 2h0m10 2h0m12-9h0m35 9h0m-559 6h0m3-4h0m8-1h0m9 9h0m16-2h0m16-5h0m10 8h0m2-6h0m28-2h0m13 6h0m15 1h0m3-1h0m3 1h0m5-5h0m31 3h0m7-2h0m6 2h0m19-1h0m4-5h0m9 2h0m4 1h0m21 1h0m20-4h0m2 1h0m1 0h0m20 6h0m17-1h0m19-1h0m7 1h0m35-2h0m2-5h0m4 1h0m8 3h0m4 6h0m2-4h0m6-2h0m6-3h0m20 1h0m5 8h0m2-6h0m9 4h0m25-2h0m12-5h0m10 2h0m0 7h0m20-5h0m6 1h0m1 1h0m0-5h0m20 3h0m4 4h0m12-8h0m7 0h0m-546 10h0m38 5h0m1-6h0m12 1h0m2 9h0m9-3h0m26 1h0m6 2h0m28-2h0m30-6h0m2 5h0m5 2h0m23 1h0m26-8h0m6-1h0m1 5h0m1-3h0m6 3h0m30 0h0m19 2h0m4-8h0m14 5h0m2-2h0m2 2h0m9-5h0m4 8h0m28-4h0m17 4h0m14-3h0m8-4h0m6 6h0m53-2h0m0-5h0m5 1h0m3 5h0m8-1h0m7 1h0m2-3h0m10 6h0m34 1h0m9-8h0m13 7h0m14-3h0m7 3h0m4-2h0m14-1h0m11-3h0m-544 8h0m16 4h0m27 5h0m24-8h0m26 3h0m3 1h0m27 0h0m14-6h0m11 1h0m16 4h0m21 3h0m18-7h0m10 9h0m3-8h0m19-2h0m7 9h0m5-1h0m36-7h0m7 5h0m2-6h0m20 6h0m11-3h0m15 4h0m10-4h0m9 0h0m29 2h0m40 5h0m10-3h0m3 0h0m15-2h0m11 0h0m17 0h0m12 2h0m0-1h0m4-3h0m12 2h0m19-1h0m-550 6h0m26 4h0m17 2h0m8-4h0m5 1h0m0 3h0m12-3h0m0 2h0m0-2h0m22-2h0m41 0h0m27 2h0m14 1h0m9-1h0m12 5h0m9-8h0m53 5h0m41-3h0m1 4h0m2 1h0m8 0h0m46-2h0m1 2h0m20-1h0m9-5h0m7 7h0m3-2h0m15 1h0m12-4h0m6 2h0m4 4h0m28-1h0m19 2h0m11-4h0m7 2h0m2-5h0m5-3h0m19 8h0m21-2h0m11-3h0m7 2h0m-560 8h0m6 2h0m8-4h0m13 3h0m9 3h0m1-2h0m6-4h0m1 5h0m2-3h0m4-3h0m0 7h0m24-5h0m6 5h0m0-3h0m4 0h0m25 0h0m5 6h0m4-1h0m18-6h0m9-1h0m7-1h0m8-1h0m22 9h0m5-4h0m17 1h0m30 1h0m7-4h0m4 6h0m7-4h0m15 4h0m11-6h0m22 3h0m6 2h0m18 0h0m1-7h0m43 4h0m0 3h0m25-6h0m1 7h0m5 0h0m29-9h0m15 0h0m28 5h0m14-3h0m10 7h0m21-5h0m27 5h0m-518 2h0m17 6h0m3-2h0m19-1h0m3 4h0m21-5h0m16 7h0m9-3h0m1-5h0m6 5h0m5 3h0m0-3h0m5-6h0m16 8h0m20-7h0m5 1h0m2 5h0m7-5h0m0-1h0m0 7h0m1-6h0m11 7h0m16-1h0m8-3h0m3 0h0m23-4h0m16 5h0m3 3h0m41-1h0m9 0h0m5-2h0m4 0h0m7-2h0m9 2h0m1-7h0m29 9h0m1 0h0m19-9h0m4 7h0m3-2h0m9 3h0m10-7h0m0 7h0m32-3h0m4-1h0m1 2h0m13-4h0m9 4h0m5-5h0m8 8h0m3-3h0m7 1h0m32-4h0m5 3h0m8 0h0m0 2h0m4-2h0m1 3h0m17-5h0m-570 15h0m11-4h0m8 5h0m5-4h0m6-6h0m7 3h0m16 7h0m5-5h0m8-3h0m5 7h0m18-3h0m0 3h0m1-9h0m42 2h0m1 6h0m43-4h0m76-2h0m1 6h0m2 0h0m22-5h0m3 6h0m5-5h0m6 0h0m1 1h0m1-1h0m18-4h0m3 1h0m16-1h0m1 8h0m15-7h0m86 0h0m2 1h0m33 6h0m23 1h0m2-7h0m7 2h0m22 5h0m34-5h0m3 1h0m15 3h0m-574 10h0m22-7h0m9 9h0m36 0h0m4-9h0m19 8h0m15-3h0m10-4h0m19 2h0m50 0h0m1-1h0m11 1h0m15-1h0m7-2h0m3 0h0m3 3h0m3-4h0m25 8h0m9-3h0m16 2h0m4 1h0m16-1h0m2-4h0m7 6h0m15-7h0m6-2h0m36 1h0m3 0h0m13 2h0m3 2h0m0 1h0m11-1h0m16 4h0m14-8h0m2-1h0m18 9h0m15-2h0m9-1h0m36 3h0m8 1h0m4-4h0m14 2h0m7 1h0m11-4h0m11 0h0m9 3h0m5-1h0m-573 4h0m12 2h0m7 4h0m10 3h0m9-7h0m2-1h0m18 7h0m39 0h0m2 1h0m2-3h0m7 3h0m11-8h0m24 7h0m2 0h0m1-4h0m21-5h0m8 3h0m32 5h0m11-7h0m18 2h0m1-3h0m28 4h0m7-2h0m5 5h0m9 1h0m28-8h0m26 5h0m12-3h0m4 5h0m7-5h0m1 7h0m21-1h0m49-1h0m4 2h0m3-4h0m5 1h0m11-3h0m20 3h0m10-1h0m14-4h0m14 6h0m15 0h0m13 0h0m0-5h0m3 4h0m3 4h0m9-3h0m1 0h0m9-6h0m2 5h0m3-5h0m-559 16h0m24 3h0m3-1h0m5-8h0m6 9h0m12-10h0m7 4h0m0 0h0m5 0h0m4 0h0m31-4h0m31 1h0m38 7h0m34-2h0m8-1h0m3 3h0m2-7h0m6 6h0m14-5h0m2 3h0m11 1h0m40 0h0m3-1h0m2-4h0m22 9h0m2-2h0m3-6h0m6 6h0m21-1h0m2-4h0m13 1h0m37-4h0m7 3h0m20 0h0m3 3h0m17-2h0m26-2h0m6-1h0m6 4h0m16 0h0m1-2h0m36 6h0m2-7h0m3 0h0m1 1h0m8 7h0m2-8h0m-553 15h0m39 2h0m1-2h0m12 1h0m8-1h0m27-1h0m12-5h0m30 2h0m25-1h0m7 3h0m5-1h0m2-3h0m14 5h0m19-5h0m8 0h0m2 0h0m10 5h0m0-5h0m44 2h0m93 6h0m15-7h0m34-2h0m2 2h0m6 0h0m11 6h0m4-6h0m4-2h0m38 3h0m11 0h0m30 6h0m3-8h0m19 1h0m-525 12h0m32-4h0m55 4h0m25 3h0m1-5h0m55 1h0m19-3h0m14 6h0m133-2h0m131-1h0m80 0h0m-569 14h0m34 2h0m86-1h0m106 1h0m1 0h0m16-8h0m30 0h0m10 1h0m24 2h0m23 4h0m76-6h0m14 0h0m62-1h0m40 4h0m-504 6h0m19 7h0m1-1h0m73-3h0m83 0h0m57 3h0m91 1h0m107-3h0m25 4h0m81-4h0m1 2h0m-321 4h0m132 8h0m58-5h0m40 1h0m-342 11h0m145-5h0m65 3h0" stroke="#000" stroke-width="22.5" stroke-linecap="round" fill="none"/></g>
<g transform="translate(434.2,1551.3)"><path d="M32.3 -0.0C32.3 -0.3 34.0 -0.9 32.3 -1.8C30.6 -2.8 25.4 -4.3 21.9 -5.8C18.5 -7.2 14.0 -9.0 11.5 -10.4C9.1 -11.7 7.6 -12.5 7.4 -13.8C7.2 -15.2 8.3 -16.5 10.4 -18.5C12.4 -20.4 17.1 -23.1 19.6 -25.4C22.1 -27.7 24.1 -30.2 25.4 -32.3C26.6 -34.4 27.4 -36.1 27.2 -38.1C27.0 -40.0 26.1 -41.3 24.2 -43.8C22.4 -46.3 18.6 -50.0 16.1 -53.1C13.6 -56.1 11.1 -59.2 9.2 -62.3C7.3 -65.4 5.8 -68.8 4.6 -71.5C3.4 -74.2 2.5 -76.5 1.8 -78.4C1.2 -80.4 1.1 -82.3 0.9 -83.0L-0.9 -83.0C-1.1 -82.3 -1.2 -80.4 -1.8 -78.4C-2.5 -76.5 -3.4 -74.2 -4.6 -71.5C-5.8 -68.8 -7.3 -65.4 -9.2 -62.3C-11.1 -59.2 -13.6 -56.1 -16.1 -53.1C-18.6 -50.0 -22.4 -46.3 -24.2 -43.8C-26.1 -41.3 -27.0 -40.0 -27.2 -38.1C-27.4 -36.1 -26.6 -34.4 -25.4 -32.3C-24.1 -30.2 -22.1 -27.7 -19.6 -25.4C-17.1 -23.1 -12.4 -20.4 -10.4 -18.5C-8.3 -16.5 -7.2 -15.2 -7.4 -13.8C-7.6 -12.5 -9.1 -11.7 -11.5 -10.4C-14.0 -9.0 -18.5 -7.2 -21.9 -5.8C-25.4 -4.3 -30.6 -2.8 -32.3 -1.8C-34.0 -0.9 -32.3 -0.3 -32.3 -0.0Z" fill="#00BA38" stroke="#333" stroke-width="1.15" stroke-linejoin="round"/><path transform="scale(.1)" d="m282-830h0m-412 24h0m105 12h0m233 7h0m35 7h0m-235 46h0m-285 12h0m180 2h0m179 13h0m136-6h0m-486 13h0m161-3h0m47 17h0m160-2h0m91 32h0m-327 3h0m-51 14h0m245-4h0m53 0h0m-223 19h0m111 18h0m5-5h0m-198 9h0m80 7h0m6-1h0m-168 6h0m301 4h0m26-7h0m84 8h0m-109 4h0m132-3h0m-215 16h0m45-5h0m13 1h0m259 3h0m-197 7h0m1 0h0m57 5h0m-205 2h0m95 6h0m-295 6h0m235 1h0m91 7h0m3-9h0m43 8h0m84-6h0m-378 11h0m205 6h0m80-6h0m173 6h0m7-8h0m-333 12h0m141 0h0m198 5h0m-546 3h0m143 5h0m2 3h0m153-1h0m-194 3h0m128 8h0m155-4h0m47 0h0m2-3h0m116 4h0m-546 12h0m65-2h0m22 9h0m10-1h0m10 0h0m106 4h0m15-3h0m26 4h0m27-3h0m211 1h0m22-3h0m-473 11h0m38-4h0m48 7h0m4-5h0m37-4h0m107 2h0m88 0h0m193 0h0m-423 13h0m114 4h0m80-8h0m-298 18h0m141-2h0m21-3h0m60 5h0m310 1h0m-55 5h0m-263 7h0m31 5h0m7-4h0m1 7h0m-161 8h0m59-5h0m35 6h0m16-4h0m88-1h0m87 5h0m32-9h0m64 10h0m19-6h0m-424 6h0m25 5h0m207 0h0m161-4h0m-498 9h0m159 7h0m107 0h0m131-2h0m3-2h0m-402 15h0m49-1h0m48 1h0m171-1h0m9-7h0m271 2h0m-535 12h0m165 3h0m4-2h0m7 4h0m34-2h0m11 2h0m20-8h0m29 6h0m25 0h0m0-2h0m36-5h0m8 3h0m96 4h0m80-4h0m-286 10h0m-184 10h0m45 2h0m161-5h0m102 6h0m71 4h0m77 2h0m-418 15h0m402 0h0m72-2h0m-447 13h0m87 0h0m46-5h0m100-1h0m47 6h0m71 1h0m22-8h0m-426 19h0m38-5h0m193 5h0m212-9h0m-448 12h0m59 6h0m259-9h0m34 10h0m34-10h0m85 2h0m-442 13h0m110 0h0m24 0h0m72 3h0m22-4h0m29 6h0m8-6h0m-262 8h0m389-1h0m-339 14h0m65-1h0m3 0h0m332 3h0m18 0h0m-527 4h0m142-1h0m332 5h0m47 3h0m-173 10h0m23 0h0m116 1h0m-457 1h0m10 7h0m118-1h0m37-2h0m44-2h0m145 6h0m-320 5h0m194-2h0m122 5h0m-320 7h0m111 6h0m32 1h0m278-1h0m-250 11h0m12-5h0m5-2h0m221 3h0m-16 12h0m-198 5h0m38 1h0m114 4h0m-426 10h0m87-3h0m205 17h0m29 0h0m18 10h0m85 1h0m32 14h0m-465 148h0m51 0h0m5 0h0m10 0h0m47 0h0m0 0h0m12 0h0m21 0h0m2 0h0m23 0h0m6 0h0m2 0h0m8 0h0m5 0h0m11 0h0m37 0h0m8 0h0m32 0h0m14 0h0m8 0h0m21 0h0m2 0h0m19 0h0m14 0h0m29 0h0m30 0h0m5 0h0m25 0h0m2 0h0m0 0h0m7 0h0m0 0h0m5 0h0m4 0h0m16 0h0m8 0h0m15 0h0m22 0h0m2 0h0m14 0h0" stroke="#000" stroke-width="22.5" stroke-linecap="round" fill="none"/></g>
<g transform="translate(506.9,1551.3)"><path d="M32.3 -0.0C32.4 -0.3 33.7 -0.9 32.8 -1.8C31.8 -2.8 29.1 -4.2 26.5 -5.8C24.0 -7.4 20.1 -9.4 17.3 -11.5C14.5 -13.6 11.7 -16.1 9.7 -18.5C7.7 -20.8 5.8 -23.1 5.1 -25.4C4.3 -27.7 4.7 -30.0 5.1 -32.3C5.5 -34.6 6.5 -36.5 7.4 -39.2C8.3 -41.9 9.7 -45.4 10.4 -48.4C11.1 -51.5 11.6 -54.6 11.5 -57.7C11.4 -60.7 10.5 -64.2 9.7 -66.9C8.9 -69.6 7.7 -71.8 6.9 -73.8C6.2 -75.8 5.4 -78.0 5.1 -78.9L-5.1 -78.9C-5.4 -78.0 -6.2 -75.8 -6.9 -73.8C-7.7 -71.8 -8.9 -69.6 -9.7 -66.9C-10.5 -64.2 -11.4 -60.7 -11.5 -57.7C-11.6 -54.6 -11.1 -51.5 -10.4 -48.4C-9.7 -45.4 -8.3 -41.9 -7.4 -39.2C-6.5 -36.5 -5.5 -34.6 -5.1 -32.3C-4.7 -30.0 -4.3 -27.7 -5.1 -25.4C-5.8 -23.1 -7.7 -20.8 -9.7 -18.5C-11.7 -16.1 -14.5 -13.6 -17.3 -11.5C-20.1 -9.4 -24.0 -7.4 -26.5 -5.8C-29.1 -4.2 -31.8 -2.8 -32.8 -1.8C-33.7 -0.9 -32.4 -0.3 -32.3 -0.0Z" fill="#00BFC4" stroke="#333" stroke-width="1.15" stroke-linejoin="round"/><path transform="scale(.1)" d="m54-701h0m148 33h0m-252 37h0m101 6h0m152 11h0m-327 10h0m243 46h0m150 24h0m-251 16h0m138 3h0m95 39h0m-343 33h0m310 61h0m-334 67h0m-141 315h0m13 0h0m85 0h0m8 0h0m2 0h0m12 0h0m63 0h0m22 0h0m18 0h0m11 0h0m68 0h0m22 0h0m13 0h0m16 0h0m43 0h0m10 0h0m14 0h0m40 0h0m23 0h0m5 0h0m5 0h0m10 0h0m6 0h0m6 0h0m4 0h0" stroke="#000" stroke-width="22.5" stroke-linecap="round" fill="none"/></g>
<g transform="translate(579.5,1551.3)"><path d="M32.3 -0.0C32.3 -0.2 34.4 -0.6 32.3 -1.4C30.2 -2.2 23.5 -3.5 19.6 -4.6C15.8 -5.7 11.8 -6.7 9.2 -8.1C6.7 -9.4 4.5 -11.1 4.2 -12.7C3.8 -14.2 4.9 -15.6 6.9 -17.3C8.9 -19.0 13.3 -21.0 16.1 -23.1C19.0 -25.2 22.4 -27.3 24.2 -30.0C26.1 -32.7 26.8 -36.1 27.2 -39.2C27.6 -42.3 27.4 -45.4 26.5 -48.4C25.6 -51.5 23.8 -54.6 21.9 -57.7C20.0 -60.7 17.3 -63.8 15.0 -66.9C12.7 -70.0 10.0 -73.4 8.1 -76.1C6.2 -78.8 4.6 -80.4 3.5 -83.0C2.3 -85.7 1.8 -88.0 1.4 -92.3C0.9 -96.5 0.8 -105.7 0.7 -108.4L-0.7 -108.4C-0.8 -105.7 -0.9 -96.5 -1.4 -92.3C-1.8 -88.0 -2.3 -85.7 -3.5 -83.0C-4.6 -80.4 -6.2 -78.8 -8.1 -76.1C-10.0 -73.4 -12.7 -70.0 -15.0 -66.9C-17.3 -63.8 -20.0 -60.7 -21.9 -57.7C-23.8 -54.6 -25.6 -51.5 -26.5 -48.4C-27.4 -45.4 -27.6 -42.3 -27.2 -39.2C-26.8 -36.1 -26.1 -32.7 -24.2 -30.0C-22.4 -27.3 -19.0 -25.2 -16.1 -23.1C-13.3 -21.0 -8.9 -19.0 -6.9 -17.3C-4.9 -15.6 -3.8 -14.2 -4.2 -12.7C-4.5 -11.1 -6.7 -9.4 -9.2 -8.1C-11.8 -6.7 -15.8 -5.7 -19.6 -4.6C-23.5 -3.5 -30.2 -2.2 -32.3 -1.4C-34.4 -0.6 -32.3 -0.2 -32.3 -0.0Z" fill="#619CFF" stroke="#333" stroke-width="1.15" stroke-linejoin="round"/><path d="M-29.0 0H29.0" stroke="#000" stroke-width="2.08" stroke-linecap="round"/><path transform="scale(.1)" d="m-144-1067h0m230 11h0m101 5h0m-227 7h0m-218 36h0m30-2h0m161 10h0m-123 40h0m244 11h0m39-4h0m72 11h0m-346 22h0m407-4h0m-491 17h0m55-2h0m52-1h0m-103 20h0m-8 9h0m29 6h0m11-4h0m30 2h0m305-1h0m-316 11h0m310-4h0m-313 11h0m55-2h0m121 4h0m291 2h0m-395 7h0m53 1h0m192-1h0m70 2h0m-176 7h0m264-1h0m-477 10h0m97-1h0m27 6h0m97-8h0m73 0h0m110 2h0m-372 12h0m286 3h0m170-7h0m-491 16h0m116-1h0m234-5h0m-235 17h0m220-8h0m-136 15h0m51 1h0m60-4h0m34 6h0m-377 5h0m85-2h0m57 3h0m36 0h0m18-3h0m82-1h0m20 10h0m179 0h0m-274 1h0m103 4h0m70 3h0m119 1h0m-463 4h0m20 5h0m97 0h0m147-3h0m-267 10h0m6 3h0m51 0h0m117-5h0m64-1h0m84 2h0m51 5h0m94-7h0m13-1h0m-528 13h0m153 3h0m46-6h0m15 0h0m19 8h0m58 1h0m70-5h0m0 0h0m32-4h0m131 6h0m-515 11h0m34-5h0m231 6h0m102-9h0m71 8h0m8-2h0m33-3h0m38 4h0m-295 10h0m111-5h0m36 7h0m157-2h0m12-3h0m-537 14h0m95-2h0m16-4h0m279 6h0m2-3h0m24 4h0m16-5h0m5 3h0m20-1h0m-421 9h0m115 4h0m79-6h0m154-3h0m24 6h0m18-1h0m43 4h0m13-2h0m9-5h0m1 7h0m-501 8h0m14-4h0m69-1h0m28 6h0m123-7h0m37 7h0m45-5h0m13 1h0m41-2h0m2-1h0m42 3h0m68 4h0m3 0h0m19-7h0m32 4h0m13 1h0m5-3h0m-572 13h0m31-3h0m33 5h0m51 1h0m37-3h0m3-1h0m60 5h0m10-1h0m11-2h0m27-1h0m4-4h0m89 7h0m37 0h0m4-4h0m16 5h0m80-6h0m78-2h0m-565 17h0m24 0h0m245 0h0m31 0h0m46-7h0m73 7h0m30-6h0m8 0h0m81 6h0m16-3h0m1 0h0m-521 5h0m17 4h0m6 2h0m12 1h0m13 0h0m13-1h0m16 1h0m36-5h0m25 3h0m173 2h0m8-8h0m59 8h0m12-1h0m25-4h0m68 2h0m19-1h0m12 2h0m21-2h0m-547 14h0m22-6h0m37 4h0m3 4h0m6-1h0m45-4h0m16-4h0m48 8h0m71-1h0m27-6h0m30-1h0m38 0h0m2 7h0m9-1h0m59 1h0m7-6h0m7 1h0m17 3h0m-345 9h0m41 0h0m21-1h0m7 1h0m38 3h0m13-4h0m6 1h0m1-1h0m7 6h0m6-3h0m82-1h0m12-6h0m7 2h0m22-1h0m55 1h0m23 8h0m35-3h0m50-1h0m10 4h0m-563 10h0m27-9h0m68 2h0m49-3h0m17 4h0m10-2h0m30 0h0m60 2h0m99-2h0m129 6h0m25 0h0m2-2h0m12-5h0m39 1h0m-544 12h0m59-1h0m14 1h0m5 5h0m4-1h0m2-1h0m38-3h0m2 3h0m54 0h0m26-1h0m6 2h0m1-8h0m47 2h0m12 2h0m14 0h0m40-2h0m13-1h0m32-1h0m82 5h0m44 1h0m13-4h0m1 0h0m-526 14h0m100-6h0m57 3h0m32-2h0m56 9h0m56-5h0m42 1h0m3-4h0m33 4h0m17 2h0m-344 8h0m50-2h0m19-1h0m40-2h0m43 2h0m10 2h0m22-3h0m6 7h0m15-3h0m3 3h0m5-5h0m104-2h0m104 2h0m12 1h0m8-1h0m31 5h0m-490 10h0m17-6h0m23 0h0m26-3h0m4 1h0m9 0h0m3 4h0m31-3h0m21 0h0m44 7h0m15-4h0m24-5h0m10 5h0m51 0h0m148 5h0m23-1h0m32-2h0m6 0h0m7-7h0m34 3h0m6-2h0m-540 10h0m9 8h0m13-7h0m9 0h0m20 4h0m24-4h0m19 8h0m4-2h0m3-2h0m36 3h0m102-2h0m66-5h0m16 7h0m4-4h0m3-4h0m15 1h0m31 6h0m24-5h0m6 5h0m46-1h0m28 2h0m5-8h0m11 8h0m44-2h0m-532 12h0m75-9h0m12 2h0m137 4h0m16 1h0m42-6h0m13 7h0m62-4h0m5 2h0m31-3h0m29 0h0m23-1h0m18 1h0m3-1h0m24 7h0m15-9h0m3 9h0m-494 2h0m52 4h0m75 2h0m16 3h0m38-9h0m57 5h0m17-6h0m18 7h0m42-1h0m9 4h0m12-5h0m8 5h0m14-9h0m52 1h0m42 5h0m8-3h0m21-2h0m16 6h0m-542 7h0m10 4h0m75-3h0m1-4h0m27-2h0m83 9h0m79-8h0m22 8h0m67 0h0m0-4h0m9-3h0m13 7h0m9-8h0m88 6h0m31-4h0m18-2h0m-527 11h0m18 5h0m5 3h0m64-8h0m43 6h0m20-6h0m29 2h0m81-4h0m74 2h0m13 0h0m6 1h0m66 3h0m93-1h0m7-1h0m23 2h0m-447 6h0m24 3h0m10 1h0m30-6h0m7 2h0m5-1h0m1 5h0m48 0h0m14-1h0m92-3h0m42 6h0m32-7h0m28 4h0m64 2h0m9 1h0m15-1h0m6-4h0m15 5h0m20-5h0m-568 8h0m6 8h0m54-3h0m35 4h0m12-2h0m8 0h0m32-4h0m43 3h0m16-3h0m2 5h0m8-1h0m58-1h0m39-2h0m39 3h0m19 0h0m7-8h0m5 10h0m3-7h0m20-3h0m35 2h0m55 0h0m4 4h0m65-3h0m-535 12h0m29 4h0m11-6h0m1 6h0m4-6h0m2 5h0m37-1h0m9 1h0m27-2h0m2 1h0m29 0h0m37-6h0m46 4h0m16 1h0m2 2h0m18-4h0m132 1h0m10-4h0m48 8h0m58-1h0m17-2h0m-554 5h0m44 0h0m86 6h0m40 2h0m11-8h0m18 4h0m26-4h0m8-1h0m29 4h0m1 3h0m12-2h0m1 2h0m17-2h0m12 0h0m6-1h0m13-2h0m39 6h0m12-2h0m104-4h0m61 8h0m15-4h0m-523 10h0m28-5h0m51 4h0m9 2h0m17-5h0m41 7h0m2-3h0m42-2h0m23 3h0m28-2h0m34 4h0m64-4h0m4 0h0m3 4h0m51-2h0m85-2h0m42 1h0m-533 9h0m12 0h0m66 4h0m6 0h0m100 0h0m0-5h0m40-1h0m4 2h0m14-4h0m95 0h0m37 2h0m22 1h0m24-1h0m4 0h0m65-1h0m32 5h0m-521 4h0m34 6h0m37 0h0m5-2h0m68 1h0m33 1h0m14-3h0m24-3h0m33 2h0m17 0h0m14 3h0m11 4h0m89-7h0m79 5h0m4-3h0m41-3h0m3 0h0m-487 14h0m22-1h0m14 0h0m94 1h0m40 0h0m75-4h0m22 4h0m15-4h0m39 0h0m3 5h0m8-1h0m61 1h0m8 1h0m74 2h0m10-1h0m0 1h0m4-9h0m13 5h0m-406 5h0m2 6h0m87 2h0m1-3h0m44-2h0m22 0h0m79 5h0m8 1h0m17 0h0m106-4h0m5 3h0m-518 5h0m1 0h0m11 0h0m2-2h0m22 6h0m3-8h0m14 2h0m4 5h0m11 0h0m13-5h0m58 5h0m34-7h0m6 5h0m67 4h0m14 0h0m73-3h0m58-2h0m2 1h0m61 2h0m91-6h0m8 3h0m1 0h0m-522 15h0m38-7h0m55 6h0m11 1h0m58-9h0m29 2h0m46 7h0m27-1h0m18 0h0m36-4h0m6-2h0m35 1h0m54 6h0m-438 2h0m76 1h0m37-2h0m2 1h0m19 0h0m108 6h0m0-7h0m13 5h0m24-1h0m94-3h0m129 7h0m5-6h0m-494 9h0m33 3h0m1 1h0m12-2h0m11-3h0m26 7h0m53 1h0m8-7h0m5 0h0m2 6h0m14 0h0m81-7h0m17 7h0m106-1h0m14-6h0m7 6h0m7-6h0m35 6h0m2 3h0m18-6h0m45 1h0m5 3h0m27 1h0m17-8h0m-459 20h0m239-8h0m19 7h0m45-2h0m1 0h0m36-3h0m68 2h0m21-6h0m1 1h0m15 1h0m-497 15h0m58 0h0m9 0h0m54 2h0m7-7h0m8 2h0m3-1h0m0 7h0m27 0h0m18-4h0m20 3h0m5-5h0m27 6h0m52-8h0m14 2h0m13 4h0m100-3h0m7-1h0m41 2h0m12-5h0m21 3h0m-520 9h0m2 6h0m1-8h0m15 2h0m155 5h0m3 0h0m1 1h0m6-4h0m47 1h0m13-6h0m1 2h0m44 6h0m32-6h0m85 1h0m22 0h0m18-3h0m61 8h0m8-3h0m-548 11h0m13 2h0m4-3h0m12 4h0m19-6h0m45 3h0m3-2h0m48 3h0m5-5h0m18 1h0m16 2h0m3 0h0m45-2h0m1-3h0m82 8h0m0-8h0m37 2h0m4 4h0m4-2h0m35 2h0m14-2h0m104 3h0m16 0h0m5-3h0m17 1h0m7-3h0m9 7h0m3-5h0m-571 12h0m56-5h0m6 2h0m6 3h0m11-5h0m1 7h0m5-8h0m9 1h0m12 9h0m15-4h0m39 3h0m8 0h0m3 0h0m62 0h0m53-7h0m50 4h0m11-1h0m32 0h0m10 5h0m84-10h0m28 9h0m35 0h0m4-2h0m16-5h0m-545 9h0m4 1h0m26 3h0m89 2h0m71-2h0m48 0h0m6-2h0m56 6h0m9-2h0m57-7h0m49 2h0m88 3h0m7 2h0m-503 4h0m37 9h0m12-6h0m10 3h0m32 0h0m19-7h0m37 0h0m5 6h0m75-3h0m47 6h0m21 0h0m14-3h0m8 0h0m34-4h0m33 0h0m32 3h0m30 0h0m21-3h0m72 5h0m14-6h0m-551 13h0m52-3h0m38 7h0m9-2h0m22 2h0m17-1h0m1-4h0m18 0h0m47 2h0m8 0h0m40 3h0m13 2h0m51-5h0m95 0h0m1-2h0m87 2h0m11 5h0m11-8h0m14 7h0m14-8h0m-528 12h0m31 0h0m16 5h0m96-3h0m15-1h0m6 1h0m33 1h0m2-6h0m21 9h0m1-8h0m17 8h0m72 0h0m20-8h0m5 9h0m7-3h0m14-1h0m40 4h0m-439 0h0m32 8h0m38-5h0m27 0h0m7-1h0m6-1h0m63 8h0m27 0h0m13-8h0m20 3h0m24-2h0m53 0h0m41-1h0m40 2h0m20-2h0m19 7h0m62-8h0m11 9h0m55 0h0m-539 4h0m44 4h0m18 2h0m12-2h0m21-4h0m26 5h0m51-6h0m13-1h0m34 9h0m74-3h0m77-4h0m10 5h0m43-2h0m21-4h0m14 8h0m44 0h0m-480 10h0m57-2h0m38-5h0m54-1h0m101-1h0m3 4h0m56-4h0m1 1h0m17 2h0m5 6h0m21-1h0m4-6h0m58-1h0m32 5h0m20-1h0m11 1h0m22 1h0m35-6h0m-571 14h0m23 2h0m160-7h0m119 8h0m61-9h0m81 0h0m27 1h0m11-1h0m15 3h0m27 2h0m12 1h0m31-2h0m0 3h0m-547 8h0m8 1h0m13-5h0m55 5h0m41-1h0m42 4h0m55-8h0m7 8h0m47-6h0m7 2h0m9 4h0m41-2h0m1-4h0m34-1h0m8 4h0m38 1h0m12-2h0m13 4h0m30-4h0m24 2h0m5 0h0m15-6h0m3 1h0m10 5h0m-523 11h0m10-4h0m48 6h0m73-4h0m30-4h0m56 5h0m77 1h0m11 0h0m14 0h0m63-6h0m29 3h0m23 0h0m2 4h0m1-7h0m16 7h0m-474 6h0m7 4h0m9-6h0m3 0h0m73 4h0m5-5h0m29 2h0m29 0h0m24 1h0m7 5h0m20-1h0m32-5h0m33 3h0m102 0h0m4 1h0m16-2h0m31 0h0m1 3h0m73-1h0m62 1h0m-505 7h0m23-4h0m48-1h0m55 4h0m6-3h0m14 3h0m10 0h0m21 5h0m33-2h0m56-2h0m71-3h0m28 5h0m9 1h0m14-3h0m91 4h0m-515 5h0m101-4h0m7 8h0m19 1h0m85-3h0m23 0h0m19-6h0m5 1h0m16 3h0m51-4h0m13 5h0m35 1h0m50-3h0m26 2h0m51 1h0m4-3h0m9-3h0m2 0h0m4 1h0m18 5h0m19-4h0m-560 16h0m5-2h0m103-4h0m80 6h0m52-4h0m51 3h0m4-2h0m4-3h0m62-3h0m11 4h0m8 2h0m78-4h0m26 7h0m32-1h0m5-7h0m28 3h0m-534 11h0m22 2h0m29 1h0m4-6h0m25 1h0m13 0h0m17 0h0m108 4h0m6-3h0m9 3h0m124-2h0m89 1h0m31 3h0m14-8h0m13 7h0m38-8h0m-528 11h0m182 2h0m144-1h0m34-1h0m66 3h0m37-1h0m44-2h0m-372 12h0m84 0h0m73 3h0" stroke="#000" stroke-width="22.5" stroke-linecap="round" fill="none"/></g>
<g transform="translate(652.1,1551.3)"><path d="M32.3 -0.0C32.3 -0.2 34.0 -0.6 32.3 -1.4C30.6 -2.2 25.6 -3.3 21.9 -4.6C18.3 -5.9 13.1 -7.7 10.4 -9.2C7.7 -10.8 6.3 -12.3 5.8 -13.8C5.3 -15.4 5.8 -16.5 7.4 -18.5C8.9 -20.4 13.0 -23.1 15.0 -25.4C17.0 -27.7 18.6 -30.0 19.6 -32.3C20.6 -34.6 21.1 -36.9 21.2 -39.2C21.3 -41.5 21.3 -43.4 20.3 -46.1C19.3 -48.8 17.0 -52.3 15.0 -55.4C13.0 -58.4 10.0 -61.9 8.1 -64.6C6.2 -67.3 4.6 -69.2 3.5 -71.5C2.3 -73.8 1.9 -74.1 1.4 -78.4C0.9 -82.7 0.6 -94.2 0.5 -97.3L-0.5 -97.3C-0.6 -94.2 -0.9 -82.7 -1.4 -78.4C-1.9 -74.1 -2.3 -73.8 -3.5 -71.5C-4.6 -69.2 -6.2 -67.3 -8.1 -64.6C-10.0 -61.9 -13.0 -58.4 -15.0 -55.4C-17.0 -52.3 -19.3 -48.8 -20.3 -46.1C-21.3 -43.4 -21.3 -41.5 -21.2 -39.2C-21.1 -36.9 -20.6 -34.6 -19.6 -32.3C-18.6 -30.0 -17.0 -27.7 -15.0 -25.4C-13.0 -23.1 -8.9 -20.4 -7.4 -18.5C-5.8 -16.5 -5.3 -15.4 -5.8 -13.8C-6.3 -12.3 -7.7 -10.8 -10.4 -9.2C-13.1 -7.7 -18.3 -5.9 -21.9 -4.6C-25.6 -3.3 -30.6 -2.2 -32.3 -1.4C-34.0 -0.6 -32.3 -0.2 -32.3 -0.0Z" fill="#F564E3" stroke="#333" stroke-width="1.15" stroke-linejoin="round"/><path transform="scale(.1)" d="m100-936h0m-24 15h0m-186 57h0m100 56h0m300 2h0m-576 4h0m36 13h0m2 2h0m392 15h0m-386 27h0m20-6h0m394 35h0m31-4h0m-446 40h0m166-4h0m153 1h0m2-2h0m52 7h0m60 3h0m70-9h0m-82 11h0m-327 13h0m210-3h0m58 6h0m-395 12h0m40-8h0m131 8h0m84-7h0m184 4h0m-115 6h0m167 4h0m-497 9h0m295 2h0m236 2h0m32-8h0m0 6h0m-409 9h0m95-2h0m28 3h0m255 2h0m-528 0h0m76 4h0m199 2h0m36-3h0m119 0h0m29-2h0m2 2h0m36 1h0m10 1h0m26 2h0m-264 12h0m133-6h0m67 3h0m-189 12h0m43-3h0m8-2h0m59 7h0m127-5h0m-516 6h0m115 2h0m2-1h0m58-2h0m0 4h0m11 1h0m105-1h0m42-3h0m19 1h0m180 6h0m30-7h0m-521 11h0m38 3h0m8 4h0m61-4h0m37 4h0m27-3h0m207 4h0m10-8h0m74 4h0m40-2h0m4-4h0m-316 11h0m143 8h0m106-2h0m-375 12h0m145-7h0m99 3h0m128 4h0m-375 7h0m67-5h0m45 3h0m10-1h0m64-1h0m106 1h0m73-1h0m49 5h0m-322 6h0m30 1h0m131-3h0m74 1h0m33 1h0m56 6h0m20-1h0m-452 10h0m58-3h0m91 3h0m63-7h0m186 2h0m60 5h0m-533 8h0m54-3h0m145 7h0m63-5h0m172-2h0m24 2h0m93-2h0m-537 9h0m61 2h0m87-1h0m-129 8h0m65 4h0m12-1h0m32-3h0m53-1h0m14 3h0m197 6h0m70-1h0m45-5h0m-499 12h0m82-4h0m38 6h0m60-4h0m32 7h0m316-8h0m-559 17h0m119-4h0m109-4h0m83 2h0m12-3h0m37 1h0m102 0h0m48 3h0m-467 13h0m188-4h0m212 0h0m34 3h0m-429 8h0m68-4h0m42 6h0m9-5h0m204 9h0m14-2h0m49-6h0m29 0h0m35-1h0m-319 14h0m11 3h0m44-6h0m91-1h0m6 7h0m112 0h0m18-5h0m-217 17h0m13-5h0m34-2h0m50 0h0m46 5h0m136-2h0m20-2h0m-391 8h0m74-1h0m213 3h0m105-1h0m-485 16h0m21-9h0m21 7h0m36-5h0m39 0h0m95 2h0m137 5h0m42-4h0m62-1h0m-399 11h0m34-4h0m34 6h0m123-3h0m51-2h0m145 6h0m58-2h0m3 2h0m-432 11h0m5-8h0m183 8h0m15-6h0m99 1h0m16 2h0m8-1h0m62-1h0m42-1h0m-519 15h0m56 1h0m175-7h0m59 7h0m1-3h0m72 2h0m64-3h0m-284 8h0m92 3h0m185 0h0m20 1h0m82 0h0m-181 10h0m-270 12h0m82-7h0m221 7h0m90-7h0m23 6h0m-424 7h0m81 5h0m2-6h0m304-2h0m48 3h0m-540 12h0m171-2h0m48 4h0m26-2h0m228-6h0m21 4h0m25-3h0m-386 13h0m4 0h0m21-4h0m167 1h0m66 2h0m51 2h0m52-6h0m18 3h0m-504 8h0m96 6h0m130-5h0m10 2h0m117 4h0m26-3h0m38-2h0m78-2h0m-286 16h0m42-1h0m65-1h0m-296 13h0m311-6h0m9-1h0m4 1h0m6 7h0m58-7h0m20 0h0m78 3h0m-518 11h0m41 3h0m103-8h0m35 3h0m107 1h0m133-3h0m106 2h0m-290 13h0m27 0h0m207-7h0m15 1h0m57 2h0m16 7h0m-551 2h0m137 2h0m27 0h0m3 4h0m132 1h0m64 1h0m42-6h0m25 2h0m81-6h0m16 2h0m16 4h0m-557 5h0m13 1h0m0 4h0m18-6h0m77 5h0m27-4h0m48 9h0m99-5h0m55-4h0m32 1h0m74 5h0m98 3h0m30-4h0m-551 6h0m78 6h0m54-1h0m53 2h0m50-2h0m19-1h0m73-3h0m-237 12h0m139 2h0m94 1h0m42-2h0m4-3h0m34 7h0m1-2h0m-351 2h0m74 5h0m173 1h0m17 0h0m78 3h0m52-9h0m42 7h0m42 2h0m16-8h0m-365 17h0m153 1h0m41-8h0m70 1h0m28 0h0m-364 10h0m8 5h0m17-6h0m351 3h0m6-4h0m-405 16h0m171 0h0m98-1h0m30-2h0m36-2h0m-414 194h0m20 0h0m3 0h0m10 0h0m5 0h0m21 0h0m4 0h0m10 0h0m6 0h0m26 0h0m13 0h0m11 0h0m2 0h0m1 0h0m8 0h0m6 0h0m13 0h0m21 0h0m9 0h0m4 0h0m8 0h0m16 0h0m8 0h0m8 0h0m5 0h0m3 0h0m3 0h0m2 0h0m22 0h0m1 0h0m1 0h0m40 0h0m5 0h0m9 0h0m19 0h0m2 0h0m0 0h0m9 0h0m7 0h0m2 0h0m6 0h0m6 0h0m3 0h0m23 0h0m11 0h0m13 0h0m17 0h0m20 0h0m3 0h0m5 0h0m22 0h0m2 0h0m4 0h0m19 0h0m2 0h0m11 0h0m3 0h0m6 0h0m1 0h0m5 0h0" stroke="#000" stroke-width="22.5" stroke-linecap="round" fill="none"/></g>
<path d="M245.2 1426.3000000000002V1557.3H696.0" stroke="#2b2b2b" stroke-width="1.7" stroke-linejoin="round" fill="none"/>
<text transform="translate(299.9,1575.6) rotate(-45)" font-size="22" text-anchor="end" fill="#262626">Breg</text>
<text transform="translate(372.5,1575.6) rotate(-45)" font-size="22" text-anchor="end" fill="#262626">CMo</text>
<text transform="translate(445.2,1575.6) rotate(-45)" font-size="22" text-anchor="end" fill="#262626">NMo</text>
<text transform="translate(517.9,1575.6) rotate(-45)" font-size="22" text-anchor="end" fill="#262626">IMo</text>
<text transform="translate(590.5,1575.6) rotate(-45)" font-size="22" text-anchor="end" fill="#262626">cDC1</text>
<text transform="translate(663.1,1575.6) rotate(-45)" font-size="22" text-anchor="end" fill="#262626">cDC2</text>
<text x="844.3" y="912.9" font-size="22" text-anchor="middle" fill="#1a1a1a">CD22</text>
<g transform="translate(949.8,1022.0)"><path d="M32.8 -0.0C32.9 -0.3 34.6 -0.8 33.4 -1.8C32.1 -2.8 28.9 -4.3 25.3 -6.0C21.8 -7.6 15.2 -9.9 11.9 -11.9C8.6 -13.9 6.8 -15.9 5.4 -17.9C4.0 -19.9 3.6 -21.9 3.6 -23.8C3.6 -25.8 4.4 -27.3 5.4 -29.8C6.4 -32.3 8.5 -35.3 9.5 -38.7C10.5 -42.2 11.2 -46.7 11.3 -50.7C11.5 -54.6 11.1 -58.1 10.4 -62.6C9.8 -67.0 8.4 -72.5 7.4 -77.5C6.5 -82.4 5.3 -87.9 4.5 -92.4C3.6 -96.8 3.0 -100.0 2.4 -104.3C1.8 -108.6 1.1 -116.0 0.9 -118.3L-0.9 -118.3C-1.1 -116.0 -1.8 -108.6 -2.4 -104.3C-3.0 -100.0 -3.6 -96.8 -4.5 -92.4C-5.3 -87.9 -6.5 -82.4 -7.4 -77.5C-8.4 -72.5 -9.8 -67.0 -10.4 -62.6C-11.1 -58.1 -11.5 -54.6 -11.3 -50.7C-11.2 -46.7 -10.5 -42.2 -9.5 -38.7C-8.5 -35.3 -6.4 -32.3 -5.4 -29.8C-4.4 -27.3 -3.6 -25.8 -3.6 -23.8C-3.6 -21.9 -4.0 -19.9 -5.4 -17.9C-6.8 -15.9 -8.6 -13.9 -11.9 -11.9C-15.2 -9.9 -21.8 -7.6 -25.3 -6.0C-28.9 -4.3 -32.1 -2.8 -33.4 -1.8C-34.6 -0.8 -32.9 -0.3 -32.8 -0.0Z" fill="#F8766D" stroke="#333" stroke-width="1.15" stroke-linejoin="round"/><path transform="scale(.1)" d="m179-1121h0m-461 45h0m496 20h0m-452 5h0m51 28h0m5 4h0m416 20h0m-485 13h0m5 2h0m87 3h0m30-3h0m193 37h0m69 17h0m114 0h0m-18 6h0m-43 19h0m-315 17h0m390 0h0m-182 13h0m189-2h0m-500 22h0m86-2h0m234 0h0m-335 11h0m232-7h0m-219 14h0m204 2h0m-122 4h0m8 8h0m270-2h0m85-2h0m-308 7h0m25 2h0m-89 6h0m367 7h0m-483 3h0m340 6h0m78-5h0m-325 14h0m243 2h0m-161 2h0m239 1h0m131 4h0m-556 13h0m247-5h0m2 2h0m-246 14h0m24-8h0m445 9h0m-171 8h0m158-5h0m-122 8h0m-306 10h0m437 1h0m-422 17h0m61-4h0m34-2h0m50 4h0m102-5h0m12 4h0m133 0h0m89 0h0m-510 9h0m46 0h0m405-3h0m88 3h0m-554 13h0m358-7h0m54 4h0m-77 11h0m149-1h0m13-4h0m4 3h0m-492 16h0m149-4h0m78 1h0m52-1h0m26 1h0m77 2h0m-298 8h0m-74 5h0m314-2h0m-114 17h0m7 1h0m69-2h0m147-1h0m30-5h0m-213 17h0m4-2h0m98-2h0m43 0h0m148 4h0m19-5h0m-497 11h0m129 3h0m34 0h0m23-1h0m149 4h0m53-2h0m-426 10h0m93-7h0m11 2h0m19 6h0m27 1h0m10-4h0m78 0h0m1 3h0m143-3h0m153-2h0m-382 14h0m178 0h0m127 0h0m27-6h0m-513 14h0m51-2h0m21 6h0m463-2h0m-504 4h0m172 4h0m44-4h0m73 0h0m28 1h0m109 3h0m9-4h0m-333 16h0m41-5h0m20 3h0m24 1h0m6-5h0m89 7h0m-95 4h0m7 3h0m122-3h0m33 6h0m-311 7h0m101-4h0m206 0h0m29 1h0m18 1h0m50 7h0m19-7h0m6 5h0m-453 5h0m94 7h0m243-1h0m81-2h0m-272 12h0m43-2h0m-54 6h0m23 5h0m119-3h0m105-1h0m-419 14h0m98 0h0m44-6h0m323 2h0m10 2h0m-396 7h0m69 3h0m44 2h0m50 2h0m127-1h0m62-3h0m7-6h0m20 8h0m-370 7h0m14 0h0m2 5h0m81 9h0m177-5h0m108 1h0m-431 11h0m15-2h0m62 6h0m222-4h0m87 3h0m37 1h0m79-2h0m-242 9h0m175-5h0m14 5h0m-359 4h0m123 0h0m93 3h0m53-3h0m22 0h0m98 2h0m-505 13h0m24 4h0m379-7h0m41 2h0m-381 7h0m28 6h0m146-1h0m15-5h0m150 4h0m-315 6h0m138 4h0m255 2h0m-296 7h0m348-5h0m-501 17h0m18-1h0m125-2h0m68 0h0m181-3h0m28 6h0m40 3h0m10-9h0m41 3h0m-532 8h0m121 7h0m265-6h0m43 3h0m-435 9h0m212 5h0m279-8h0m27 2h0m-445 12h0m4-4h0m272 0h0m73 7h0m7-2h0m10-2h0m-422 9h0m58 0h0m77 5h0m34-5h0m96-1h0m11 6h0m20-1h0m119 1h0m-325 4h0m186 3h0m4 3h0m45-6h0m30 7h0m63-5h0m-265 7h0m68 3h0m135 2h0m112-1h0m-452 10h0m20-1h0m5-5h0m17 5h0m342-5h0m101 1h0m15 5h0m-432 5h0m39 1h0m260 6h0m60-2h0m-452 11h0m30-6h0m166 3h0m156 1h0m109 3h0m45-5h0m7 5h0m-477 9h0m358-3h0m-379 9h0m51 7h0m73-4h0m89 1h0m91-7h0m141 8h0m-335 9h0m62-5h0m81 5h0m21 2h0m155-1h0m43-1h0m23 2h0m-166 3h0m61 4h0m67-5h0m55 0h0m-517 13h0m3 0h0m89 2h0m80 3h0m316-5h0m-306 23h0m-232 248h0m3 0h0m20 0h0m7 0h0m2 0h0m1 0h0m3 0h0m1 0h0m10 0h0m2 0h0m12 0h0m7 0h0m2 0h0m1 0h0m14 0h0m13 0h0m2 0h0m3 0h0m6 0h0m4 0h0m11 0h0m5 0h0m7 0h0m0 0h0m8 0h0m1 0h0m3 0h0m5 0h0m12 0h0m0 0h0m2 0h0m3 0h0m2 0h0m1 0h0m5 0h0m4 0h0m3 0h0m1 0h0m2 0h0m9 0h0m0 0h0m13 0h0m2 0h0m7 0h0m0 0h0m16 0h0m1 0h0m2 0h0m1 0h0m3 0h0m11 0h0m4 0h0m10 0h0m8 0h0m4 0h0m7 0h0m3 0h0m14 0h0m1 0h0m9 0h0m3 0h0m10 0h0m2 0h0m1 0h0m4 0h0m3 0h0m4 0h0m6 0h0m3 0h0m9 0h0m6 0h0m1 0h0m0 0h0m5 0h0m13 0h0m14 0h0m1 0h0m4 0h0m6 0h0m1 0h0m3 0h0m1 0h0m1 0h0m2 0h0m5 0h0m2 0h0m8 0h0m1 0h0m12 0h0m17 0h0m4 0h0m1 0h0m11 0h0m3 0h0m2 0h0m23 0h0m3 0h0m4 0h0m1 0h0m1 0h0m10 0h0m6 0h0m0 0h0m0 0h0m1 0h0m9 0h0m11 0h0m9 0h0m13 0h0m2 0h0" stroke="#000" stroke-width="22.5" stroke-linecap="round" fill="none"/></g>
<g transform="translate(1022.5,1022.0)"><path d="M0 0V-93.9" stroke="#333" stroke-width="1.4"/><path d="M-32.5 0H32.5" stroke="#333" stroke-width="1"/><path d="M-29.0 0H29.0" stroke="#000" stroke-width="2.88" stroke-linecap="round"/><path transform="scale(.1)" d="m116-878h0m-271 112h0m271 36h0m-316 115h0m453 8h0m-396 121h0m58 8h0m110 86h0m0 44h0m-231 46h0" stroke="#000" stroke-width="22.5" stroke-linecap="round" fill="none"/></g>
<g transform="translate(1095.1,1022.0)"><path d="M0 0V-119.8" stroke="#333" stroke-width="1.4"/><path d="M-32.5 0H32.5" stroke="#333" stroke-width="1"/><path d="M-29.0 0H29.0" stroke="#000" stroke-width="2.08" stroke-linecap="round"/><path transform="scale(.1)" d="m16-1191h0m230 22h0m-383 23h0m-4 25h0m340 4h0m-358 22h0m148 14h0m-75 8h0m354-2h0m-548 37h0m359 20h0m169 3h0m-533 15h0m55 21h0m284-4h0m-230 43h0m331 10h0m-318 8h0m144 15h0m164-3h0m-194 48h0m161 2h0m-144 11h0m87 3h0m210-7h0m-441 38h0m185-9h0m63 33h0m187 3h0m-361 57h0m190 17h0m27 15h0m-155 10h0m7 17h0m280 28h0m-366 12h0m191 2h0m75 16h0m-180 21h0m-111 32h0m-140 15h0m222 1h0m-39 5h0m66 10h0m83 3h0m128 12h0m-373 1h0m141 138h0m269-8h0m-101 20h0m-197 21h0m181 6h0m167 39h0m-67 8h0m-41 21h0" stroke="#000" stroke-width="22.5" stroke-linecap="round" fill="none"/></g>
<g transform="translate(1167.8,1022.0)"><path d="M0 0V-62.6" stroke="#333" stroke-width="1.4"/><path d="M-32.5 0H32.5" stroke="#333" stroke-width="1"/><path transform="scale(.1)" d="m34-617h0m-307 617h0m1 0h0m10 0h0m3 0h0m13 0h0m9 0h0m0 0h0m11 0h0m19 0h0m28 0h0m5 0h0m19 0h0m13 0h0m7 0h0m4 0h0m2 0h0m2 0h0m7 0h0m5 0h0m4 0h0m7 0h0m13 0h0m16 0h0m39 0h0m4 0h0m4 0h0m2 0h0m21 0h0m4 0h0m4 0h0m7 0h0m8 0h0m29 0h0m6 0h0m12 0h0m29 0h0m1 0h0m2 0h0m18 0h0m2 0h0m2 0h0m16 0h0m24 0h0m52 0h0m2 0h0m42 0h0m1 0h0m21 0h0m1 0h0m8 0h0" stroke="#000" stroke-width="22.5" stroke-linecap="round" fill="none"/></g>
<g transform="translate(1240.4,1022.0)"><path d="M0 0V-46.8" stroke="#333" stroke-width="1.4"/><path d="M-32.5 0H32.5" stroke="#333" stroke-width="1"/><path d="M-29.0 0H29.0" stroke="#000" stroke-width="2.08" stroke-linecap="round"/><path transform="scale(.1)" d="m199-377h0m34 54h0" stroke="#000" stroke-width="22.5" stroke-linecap="round" fill="none"/></g>
<g transform="translate(1313.1,1022.0)"><path d="M0 0V-119.8" stroke="#333" stroke-width="1.4"/><path d="M-32.5 0H32.5" stroke="#333" stroke-width="1"/><path d="M-29.0 0H29.0" stroke="#000" stroke-width="2.56" stroke-linecap="round"/><path transform="scale(.1)" d="m261-1178h0m-142 73h0m159 42h0m-263 266h0m78 6h0m-244 33h0m-2 19h0m297 135h0m-151 109h0m-97 89h0m31 108h0m154 41h0" stroke="#000" stroke-width="22.5" stroke-linecap="round" fill="none"/></g>
<path d="M906.1 897.1V1028.0H1356.9" stroke="#2b2b2b" stroke-width="1.7" stroke-linejoin="round" fill="none"/>
<text x="844.3" y="1089.3" font-size="22" text-anchor="middle" fill="#1a1a1a">PTPRC</text>
<g transform="translate(949.8,1198.5)"><path d="M8.8 -0.0C8.5 -0.3 8.0 -0.9 6.9 -1.8C5.8 -2.8 3.3 -4.3 2.3 -5.8C1.3 -7.2 1.2 -7.5 0.9 -10.4C0.7 -13.3 0.8 -19.4 0.9 -23.1C1.1 -26.7 1.2 -29.6 1.8 -32.3C2.5 -35.0 3.0 -36.9 4.6 -39.2C6.2 -41.5 8.5 -43.6 11.5 -46.1C14.6 -48.6 19.7 -51.8 23.1 -54.2C26.5 -56.6 30.2 -59.0 31.8 -60.4C33.5 -61.9 33.1 -61.9 33.0 -62.7C32.9 -63.6 33.2 -63.9 31.1 -65.7C29.1 -67.6 24.2 -70.9 20.8 -73.8C17.3 -76.7 13.1 -80.4 10.4 -83.0C7.6 -85.7 5.7 -88.0 4.2 -90.0C2.7 -91.9 2.0 -92.8 1.4 -94.6C0.8 -96.3 0.8 -99.4 0.7 -100.3L-0.7 -100.3C-0.8 -99.4 -0.8 -96.3 -1.4 -94.6C-2.0 -92.8 -2.7 -91.9 -4.2 -90.0C-5.7 -88.0 -7.6 -85.7 -10.4 -83.0C-13.1 -80.4 -17.3 -76.7 -20.8 -73.8C-24.2 -70.9 -29.1 -67.6 -31.1 -65.7C-33.2 -63.9 -32.9 -63.6 -33.0 -62.7C-33.1 -61.9 -33.5 -61.9 -31.8 -60.4C-30.2 -59.0 -26.5 -56.6 -23.1 -54.2C-19.7 -51.8 -14.6 -48.6 -11.5 -46.1C-8.5 -43.6 -6.2 -41.5 -4.6 -39.2C-3.0 -36.9 -2.5 -35.0 -1.8 -32.3C-1.2 -29.6 -1.1 -26.7 -0.9 -23.1C-0.8 -19.4 -0.7 -13.3 -0.9 -10.4C-1.2 -7.5 -1.3 -7.2 -2.3 -5.8C-3.3 -4.3 -5.8 -2.8 -6.9 -1.8C-8.0 -0.9 -8.5 -0.3 -8.8 -0.0Z" fill="#F8766D" stroke="#333" stroke-width="1.15" stroke-linejoin="round"/><path transform="scale(.1)" d="m21-984h0m123 3h0m-67 13h0m-190 8h0m62 8h0m329 11h0m-95 9h0m79 12h0m-308 11h0m23-4h0m-213 12h0m504-3h0m-549 13h0m90 4h0m2-2h0m102 1h0m82-3h0m-227 9h0m173-1h0m24 8h0m301-4h0m16 4h0m-554 9h0m118-5h0m4-2h0m21 1h0m71-1h0m241 8h0m-373 7h0m88 1h0m33-6h0m12 2h0m-112 8h0m6 8h0m191-3h0m58 2h0m38-7h0m-382 15h0m30 0h0m63 1h0m62-2h0m268-1h0m-331 5h0m257 9h0m121 1h0m-437 7h0m47 1h0m148-7h0m134 9h0m36-9h0m2 4h0m71 3h0m4-4h0m26-2h0m30 2h0m-449 14h0m109 0h0m111-7h0m58 0h0m32 7h0m32-3h0m30 1h0m27 4h0m10-1h0m15-4h0m-371 15h0m24-2h0m27-2h0m74-1h0m97 3h0m24-6h0m9 4h0m18-6h0m108 6h0m-480 8h0m78 0h0m52 6h0m6-5h0m36 1h0m125 3h0m71 1h0m72-4h0m3 2h0m56-7h0m10 9h0m-560 9h0m39-5h0m178 2h0m3-2h0m7 3h0m130-6h0m45 3h0m147-4h0m11 4h0m-465 9h0m4 6h0m21-6h0m173-2h0m8 0h0m9 4h0m121-3h0m30 4h0m32-5h0m21 4h0m29 4h0m-500 10h0m58-5h0m32-1h0m14-1h0m103 6h0m171-7h0m-377 19h0m25-9h0m2 4h0m67 3h0m32-4h0m6-2h0m50-1h0m53 2h0m47 0h0m4 5h0m81-3h0m9-3h0m39 5h0m79-1h0m11 2h0m-556 3h0m47 2h0m5 7h0m6-7h0m47 0h0m43 1h0m26 3h0m129-1h0m31 3h0m36 0h0m19-9h0m13 3h0m9 0h0m23 5h0m100 0h0m8-2h0m-545 6h0m68 4h0m25 3h0m3 1h0m54-5h0m4 4h0m3-9h0m71 2h0m25 5h0m33 2h0m33-1h0m70 2h0m33-7h0m4-2h0m19 6h0m37-2h0m3-1h0m10 0h0m3 4h0m5 0h0m55-5h0m-564 13h0m16-4h0m28-1h0m101 2h0m17 0h0m3-1h0m19 3h0m5 4h0m1-5h0m19 3h0m69-7h0m65 7h0m25 1h0m37-7h0m38 1h0m8 4h0m45 2h0m21 1h0m28-3h0m-532 13h0m11-1h0m4-3h0m18 3h0m69-3h0m1-4h0m53 6h0m160-6h0m10 8h0m25-6h0m34-2h0m15 6h0m1-4h0m64 0h0m-452 7h0m28 10h0m10-9h0m15 3h0m1-1h0m39-1h0m37-1h0m0 1h0m18 8h0m8 0h0m73-9h0m42 2h0m34-1h0m63 8h0m22-7h0m22 3h0m13 3h0m76-8h0m6 8h0m21-8h0m-510 16h0m2-1h0m22 0h0m5-3h0m103 7h0m80-9h0m1 4h0m32 2h0m3 0h0m15-5h0m11-1h0m39 5h0m36-4h0m92 3h0m76-4h0m-496 10h0m12 3h0m28-1h0m22 1h0m12 5h0m25-9h0m98 9h0m8 0h0m13-3h0m104-1h0m22 5h0m72-6h0m73 5h0m10 0h0m-539 2h0m20 6h0m17 0h0m41 2h0m22-7h0m10 6h0m7 0h0m32-5h0m1 5h0m41 1h0m105-1h0m59-1h0m29 3h0m11-3h0m32 3h0m42-2h0m29 0h0m-522 5h0m6 6h0m12-3h0m8-5h0m8 0h0m54 4h0m32-4h0m2 7h0m26-1h0m18 3h0m2-7h0m2-1h0m20 1h0m46 3h0m5-2h0m23 2h0m26-4h0m19 2h0m70-4h0m3 1h0m4 2h0m2 2h0m36-1h0m115 4h0m8 2h0m-542 2h0m4-2h0m12 7h0m10-6h0m11 7h0m21-4h0m15 2h0m53-4h0m86 5h0m26 1h0m49-2h0m34-3h0m2-3h0m62 3h0m19 6h0m8-2h0m1-4h0m26-2h0m45 8h0m30 1h0m-469 10h0m12-1h0m65-7h0m21 8h0m3-10h0m0 3h0m27-1h0m34 1h0m24 2h0m90-4h0m16 1h0m1 6h0m54-5h0m11 3h0m11-4h0m5 2h0m7 6h0m49-7h0m15 6h0m71-6h0m-454 13h0m72-4h0m9 6h0m1-4h0m2-2h0m35-1h0m25 5h0m22-4h0m6 0h0m34 0h0m21-1h0m1 1h0m33 0h0m23 5h0m25 1h0m30 1h0m12-8h0m27 6h0m7-5h0m11 6h0m9 2h0m0-2h0m45-7h0m0 4h0m-486 6h0m70 8h0m5-3h0m4 1h0m7-5h0m2 0h0m39 2h0m42-2h0m19 4h0m45-5h0m8 7h0m8 2h0m27-6h0m2 2h0m8 1h0m63 2h0m8-5h0m42-3h0m39 6h0m2-1h0m16-2h0m13 1h0m-508 9h0m19 5h0m2 0h0m6-2h0m3-2h0m67-2h0m16 4h0m1-5h0m28-1h0m84 3h0m8 2h0m18-3h0m101 1h0m10 4h0m23-2h0m4 0h0m3-3h0m28 5h0m84-1h0m19-2h0m7-1h0m-551 7h0m7 6h0m57 1h0m3-4h0m5-1h0m13-2h0m30 0h0m102 4h0m63 0h0m9-3h0m10 0h0m17 7h0m16-4h0m48 0h0m27-2h0m73 0h0m49 3h0m3-1h0m5 0h0m1-3h0m-467 17h0m6 0h0m17-4h0m26-2h0m16 0h0m2 1h0m15-2h0m0 0h0m25-1h0m32 0h0m3 1h0m33-1h0m38 3h0m38 0h0m140 4h0m33 2h0m6-6h0m49 1h0m-482 5h0m6 2h0m10-2h0m27 6h0m19-3h0m6 7h0m0-7h0m1-2h0m5 4h0m75-2h0m31-2h0m26 2h0m29 6h0m23-1h0m22-3h0m23-2h0m14 0h0m43 6h0m15-8h0m36 0h0m10 8h0m5-3h0m21 0h0m9-6h0m14 2h0m5 8h0m-396 9h0m84-7h0m56 4h0m85-2h0m14 4h0m50-2h0m49 3h0m10-3h0m26 4h0m24-4h0m-512 12h0m11-1h0m100 0h0m34 1h0m50 0h0m8-5h0m34 6h0m6-7h0m10 5h0m10 1h0m21-6h0m30 6h0m39-5h0m96 6h0m12-2h0m12 3h0m46-8h0m-486 10h0m48-2h0m9 2h0m11 2h0m1-2h0m38 2h0m109 2h0m15-2h0m16-3h0m9 2h0m50 4h0m15-5h0m5 7h0m29-9h0m21 6h0m70-6h0m43 1h0m-498 11h0m77 1h0m8 3h0m18 2h0m1-6h0m141 0h0m74 0h0m12 2h0m0 5h0m36-6h0m129 5h0m5-5h0m-458 17h0m64-5h0m38-4h0m37-1h0m14 10h0m131-6h0m31-3h0m43 5h0m2-3h0m13 6h0m-417 2h0m64 3h0m42 1h0m20 3h0m26-3h0m44-4h0m55-1h0m7 10h0m19-9h0m106 9h0m17-5h0m10-2h0m-364 13h0m2 0h0m7 3h0m72-3h0m1-2h0m38 6h0m42-7h0m37 2h0m77-3h0m10 1h0m31 6h0m1-2h0m4-5h0m7 0h0m8 8h0m61-5h0m21-5h0m-506 19h0m56-6h0m18-1h0m24 1h0m12-2h0m68-1h0m20 5h0m30-3h0m120-2h0m45 0h0m13 8h0m-390 4h0m249-2h0m9 5h0m116 1h0m148-2h0m-564 7h0m4 6h0m82-3h0m64 4h0m90-2h0m17 1h0m70-6h0m32 6h0m19-4h0m5-2h0m66 5h0m34-1h0m43-2h0m-528 12h0m24 4h0m1-4h0m134-3h0m88 4h0m35-5h0m81 5h0m13-5h0m43 4h0m41 2h0m39 2h0m21-1h0m-488 11h0m13-7h0m142 4h0m4 1h0m84-7h0m77 10h0m80-1h0m18-7h0m103 0h0m-529 10h0m82 0h0m201-1h0m-274 14h0m112 2h0m180 0h0m143-2h0m59-4h0m-446 10h0m161 6h0m160-4h0m48 5h0m105-1h0m-332 7h0m26-2h0m-245 17h0m112-9h0m135 0h0m3 1h0m162 3h0m22 0h0m46 0h0m23 9h0m-476 13h0m45 2h0m56-7h0m81 0h0m93 1h0m7 1h0m137-1h0m90 9h0m-399 9h0m374 7h0m-260 35h0m-69 14h0m-99 20h0m238-6h0m-268 12h0m118 1h0m156 10h0m-231 24h0m178 30h0m-36 5h0m148 7h0m-29 9h0m-361 7h0m64 72h0m-59 128h0m24 0h0m28 0h0m2 0h0m2 0h0m10 0h0m10 0h0m34 0h0m2 0h0m35 0h0m16 0h0m13 0h0m11 0h0m3 0h0m20 0h0m31 0h0m3 0h0m1 0h0m43 0h0m8 0h0m18 0h0m3 0h0m12 0h0m24 0h0m40 0h0m3 0h0m0 0h0m5 0h0m1 0h0m16 0h0m15 0h0m13 0h0m3 0h0m32 0h0m2 0h0m17 0h0m6 0h0m5 0h0m22 0h0m1 0h0" stroke="#000" stroke-width="22.5" stroke-linecap="round" fill="none"/></g>
<g transform="translate(1022.5,1198.5)"><path d="M32.3 -0.0C31.9 -0.4 33.6 -1.2 30.0 -2.3C26.3 -3.5 15.1 -5.4 10.4 -6.9C5.7 -8.5 3.0 -9.6 1.6 -11.5C0.2 -13.5 1.3 -16.1 1.8 -18.5C2.4 -20.8 3.9 -22.3 5.1 -25.4C6.2 -28.5 8.0 -32.3 8.8 -36.9C9.5 -41.5 9.8 -48.1 9.7 -53.1C9.5 -58.1 8.7 -63.1 7.8 -66.9C7.0 -70.7 5.6 -73.0 4.6 -76.1C3.6 -79.2 2.5 -82.5 1.8 -85.4C1.2 -88.2 0.7 -92.1 0.5 -93.4L-0.5 -93.4C-0.7 -92.1 -1.2 -88.2 -1.8 -85.4C-2.5 -82.5 -3.6 -79.2 -4.6 -76.1C-5.6 -73.0 -7.0 -70.7 -7.8 -66.9C-8.7 -63.1 -9.5 -58.1 -9.7 -53.1C-9.8 -48.1 -9.5 -41.5 -8.8 -36.9C-8.0 -32.3 -6.2 -28.5 -5.1 -25.4C-3.9 -22.3 -2.4 -20.8 -1.8 -18.5C-1.3 -16.1 -0.2 -13.5 -1.6 -11.5C-3.0 -9.6 -5.7 -8.5 -10.4 -6.9C-15.1 -5.4 -26.3 -3.5 -30.0 -2.3C-33.6 -1.2 -31.9 -0.4 -32.3 -0.0Z" fill="#B79F00" stroke="#333" stroke-width="1.15" stroke-linejoin="round"/><rect x="-27.6" y="-70.1" width="55.2" height="44.5" fill="#000"/><path d="M-29.0 0H29.0" stroke="#000" stroke-width="3.36" stroke-linecap="round"/><path transform="scale(.1)" d="m-236-908h0m31 2h0m395-3h0m-431 7h0m32 4h0m445 1h0m37-3h0m-411 13h0m288-4h0m-438 10h0m94 4h0m106-6h0m58 0h0m-116 16h0m45 1h0m182-4h0m53-2h0m96 5h0m17-6h0m7 8h0m-328 4h0m324 2h0m-534 12h0m95-2h0m21 0h0m17 2h0m2-7h0m13 2h0m3-1h0m51 1h0m-126 11h0m86 4h0m107-5h0m22 7h0m72-9h0m159 2h0m-500 12h0m205 3h0m38-5h0m233 0h0m36 3h0m39-1h0m-561 10h0m226-3h0m10 6h0m126-5h0m172 3h0m-541 10h0m29 1h0m231 0h0m47-5h0m16 5h0m121 0h0m6-2h0m18 0h0m44-5h0m32 6h0m1-2h0m-423 16h0m96-7h0m4 7h0m63-9h0m51-1h0m28 2h0m10 6h0m139-5h0m2 3h0m41-6h0m6 4h0m-480 12h0m43-4h0m18 5h0m266 0h0m60 0h0m63-4h0m35 7h0m-526 3h0m10 4h0m1-5h0m24 8h0m201-2h0m3-6h0m17 6h0m52-6h0m4 6h0m3-6h0m160 2h0m22-4h0m3 2h0m4 4h0m12-5h0m3 4h0m-535 12h0m121 0h0m10-1h0m27-1h0m123 3h0m78-1h0m83-4h0m63 5h0m-485 10h0m11-6h0m127 2h0m43 1h0m121-1h0m2 5h0m3-7h0m37-1h0m27 7h0m32-1h0m31-7h0m25 9h0m20 1h0m44-6h0m-492 15h0m10-8h0m61 6h0m18-2h0m9-2h0m25 3h0m20-2h0m4 3h0m43-1h0m145 2h0m1 1h0m24-7h0m32-2h0m14 8h0m18-2h0m22-2h0m6-2h0m-505 13h0m49 1h0m13-6h0m45 8h0m68-6h0m8 6h0m14-1h0m9-6h0m5 0h0m24 3h0m32 0h0m5-4h0m71 1h0m56 6h0m68-3h0m59 3h0m-549 8h0m25 3h0m60-3h0m6-2h0m2 4h0m2-5h0m120-2h0m89 2h0m56 7h0m44-1h0m20-5h0m1-1h0m33 0h0m38 3h0m27 4h0m6-6h0m5 0h0m-538 9h0m20 1h0m11 6h0m17-6h0m11 6h0m4-3h0m23-1h0m7 4h0m14-2h0m101 0h0m18-3h0m48 3h0m8 2h0m1-2h0m55 0h0m4 2h0m11 1h0m0-1h0m20 1h0m4-5h0m63 4h0m8-7h0m5 6h0m36-7h0m11 6h0m57-6h0m6 7h0m-510 4h0m49 3h0m61 5h0m15-7h0m17 2h0m2 3h0m2-6h0m35 3h0m8 2h0m12-6h0m38 7h0m18-1h0m36-2h0m19 4h0m94-6h0m14 0h0m7 0h0m27 0h0m23 5h0m7-7h0m9 1h0m-526 12h0m26 3h0m2 0h0m9-5h0m2 5h0m1 2h0m5-8h0m60 7h0m46-1h0m10-5h0m22 7h0m72-1h0m83-8h0m54 3h0m30 2h0m9-4h0m34 6h0m66-7h0m4 6h0m-527 5h0m14 6h0m11-1h0m46-2h0m4 4h0m38 2h0m1-6h0m40 2h0m99 3h0m14 1h0m12-9h0m22 1h0m20 0h0m59-1h0m4 7h0m3-7h0m2 2h0m16 1h0m26-2h0m3 1h0m50 5h0m51-6h0m-508 17h0m20-9h0m43 7h0m32 2h0m19-5h0m2-4h0m22 8h0m14 1h0m47 1h0m29-2h0m22 1h0m61-2h0m10 3h0m2-9h0m0 7h0m31 1h0m2-6h0m20 3h0m71-2h0m11 6h0m17-3h0m14-1h0m-499 9h0m27 2h0m20 3h0m18-5h0m3-1h0m32-1h0m24 1h0m34-2h0m10 0h0m44 3h0m23 5h0m0-7h0m1 3h0m46 0h0m36 4h0m1-9h0m30 7h0m13-2h0m18 1h0m4-5h0m7 6h0m29-5h0m10 4h0m48 3h0m6-7h0m6 5h0m17-4h0m4-3h0m7 1h0m-541 9h0m4 7h0m36-5h0m18-1h0m21 2h0m9 0h0m5 4h0m29-7h0m30 9h0m14-1h0m1-4h0m18 3h0m24-3h0m45 0h0m2 3h0m15-4h0m4 5h0m14-2h0m25-2h0m17-4h0m18 1h0m8-1h0m32 1h0m2 5h0m0-3h0m26-3h0m15 9h0m13-9h0m51 5h0m8 3h0m19-6h0m1-1h0m12 6h0m2-4h0m7 5h0m-540 6h0m9 5h0m1-6h0m13 3h0m14-4h0m55 0h0m1 6h0m26-3h0m48 0h0m19-1h0m115-1h0m17 3h0m11-4h0m1 1h0m24 4h0m1-7h0m8 2h0m7 0h0m1 5h0m3-8h0m56 9h0m93-1h0m-513 11h0m17-4h0m30 0h0m9 0h0m1-5h0m11 1h0m5 3h0m4-3h0m5 7h0m26-6h0m81 3h0m131-2h0m1-2h0m23 9h0m4-8h0m7 7h0m10-2h0m3-4h0m0 2h0m12-5h0m20 9h0m23-1h0m6-1h0m-442 9h0m12-5h0m20 4h0m21-4h0m14 3h0m17-3h0m10 0h0m30 0h0m50 5h0m8-3h0m17 1h0m22 5h0m8-2h0m16 2h0m63 0h0m5-6h0m28 4h0m89-5h0m1 6h0m8-2h0m17-5h0m36 5h0m-511 9h0m8-3h0m46 6h0m1-2h0m19-2h0m19 4h0m0-2h0m50-3h0m2 4h0m33-7h0m20 6h0m40-5h0m23 6h0m1-3h0m24-4h0m5 8h0m28-7h0m16 6h0m75-5h0m48 2h0m15 1h0m41-5h0m30 7h0m8-6h0m2 7h0m11-3h0m-573 9h0m26-2h0m29 1h0m19 1h0m56 1h0m5 2h0m142-6h0m0 5h0m14 1h0m18-4h0m3-2h0m6 3h0m23 5h0m9-6h0m21 1h0m27 1h0m14 0h0m38 5h0m2-6h0m7 2h0m23-1h0m7 4h0m43-9h0m-524 14h0m51-1h0m19 1h0m42-2h0m1 1h0m86 6h0m14 0h0m31-5h0m61-2h0m12 6h0m1-4h0m8-3h0m15 6h0m20 2h0m74-6h0m56 1h0m19 3h0m1-7h0m11 9h0m-512 7h0m30 3h0m10-2h0m22-4h0m35 3h0m9-2h0m65 4h0m3-7h0m4 3h0m27 5h0m6-2h0m38 1h0m17-2h0m31-3h0m100 5h0m23-6h0m36 4h0m19 0h0m9-5h0m9-1h0m28 1h0m20 2h0m2 1h0m4 3h0m-542 7h0m31-2h0m41 3h0m13-1h0m10-4h0m31 1h0m7 8h0m39-4h0m4 2h0m3-6h0m5 4h0m30 2h0m6-2h0m66-1h0m21 3h0m7-3h0m23 1h0m34 0h0m9 4h0m34 0h0m36-2h0m2-6h0m46 5h0m27-6h0m9 1h0m-560 18h0m6 0h0m29-2h0m21-1h0m2-4h0m5 5h0m11-2h0m19-2h0m5 5h0m0 0h0m70-2h0m6 4h0m48-6h0m9-4h0m25 5h0m98 0h0m89 4h0m28 0h0m88-7h0m19 2h0m-567 9h0m2 1h0m4 1h0m21-2h0m20 0h0m51 3h0m61-1h0m12 0h0m16-4h0m2 3h0m9 0h0m37 4h0m1-4h0m13-3h0m0 3h0m7 1h0m33-4h0m4 0h0m3 1h0m2 1h0m21 1h0m14 4h0m18-8h0m29 4h0m6 2h0m12-2h0m4-2h0m23-1h0m9 8h0m12-3h0m2-4h0m22 5h0m3-1h0m40 0h0m33-5h0m3 4h0m-560 15h0m2-2h0m37-8h0m20 1h0m34 0h0m23 5h0m15-1h0m28 4h0m34-3h0m37-6h0m26 4h0m6 3h0m54 3h0m35-6h0m6 0h0m84-2h0m41 6h0m37-7h0m15-1h0m10 1h0m21 9h0m3-7h0m0 0h0m-535 12h0m6-2h0m14-2h0m28 1h0m10 6h0m25-5h0m23 6h0m70-3h0m9-1h0m4-1h0m25 6h0m5-7h0m44 7h0m2-6h0m22 1h0m10-1h0m25 4h0m49-3h0m28 1h0m6-1h0m6-3h0m16 3h0m37-4h0m4-1h0m47 9h0m3-2h0m12-7h0m1 6h0m-561 10h0m42-5h0m22 6h0m46-4h0m11 6h0m46 0h0m21-3h0m12 0h0m1-2h0m15 5h0m13-1h0m19-3h0m20 4h0m5-8h0m14 5h0m8-5h0m7 6h0m28 1h0m3-7h0m3 4h0m7 0h0m8 4h0m14-3h0m36-5h0m7-1h0m5 6h0m37 0h0m24 1h0m46-4h0m46 5h0m-542 12h0m2-3h0m0-2h0m1 0h0m2 1h0m5-3h0m31 1h0m8 1h0m4 1h0m5 2h0m71-6h0m15-1h0m11 8h0m20-7h0m9 3h0m43 0h0m26-4h0m24 7h0m8 0h0m9-4h0m37 1h0m11 4h0m1-6h0m12 3h0m19 0h0m3-3h0m66 5h0m40-2h0m20 1h0m12 1h0m5-3h0m3 0h0m-527 7h0m8 2h0m59 4h0m57-5h0m4-1h0m5 2h0m21-1h0m49 5h0m19-6h0m4 6h0m28 2h0m5-7h0m8 0h0m16-3h0m2 2h0m29 4h0m7-5h0m11 2h0m8-2h0m10 2h0m13-1h0m12 2h0m31 0h0m16 1h0m34 3h0m30-7h0m-508 18h0m18-5h0m33-2h0m3 5h0m61-1h0m5 2h0m23-2h0m15-3h0m81-3h0m39 4h0m7-3h0m49 9h0m84-7h0m9 5h0m9-6h0m4 2h0m17 0h0m0 5h0m51-7h0m12 8h0m14-3h0m22-2h0m-543 8h0m19 0h0m2 1h0m21 2h0m44-1h0m1-1h0m42-3h0m17 2h0m6 4h0m10-6h0m13-1h0m12 5h0m42 4h0m26 1h0m4-10h0m19 3h0m31 7h0m20-5h0m5-4h0m4 6h0m19-2h0m4 3h0m4-4h0m61 0h0m3 2h0m1-3h0m11 6h0m13-9h0m63 6h0m29-3h0m-557 10h0m2-3h0m20 5h0m33-4h0m26 7h0m5 1h0m38-8h0m42 4h0m1-4h0m5 4h0m45-3h0m25 6h0m10-1h0m21-7h0m5 1h0m24 2h0m7 5h0m10-5h0m9 4h0m56-5h0m2 6h0m4-7h0m1 3h0m58 3h0m43 0h0m16-2h0m67 3h0m-575 10h0m30-6h0m19 6h0m2-8h0m15 10h0m15-2h0m63-3h0m14-4h0m32 2h0m77 0h0m15 7h0m9-2h0m1-2h0m44 1h0m3 1h0m30 0h0m40-6h0m27-1h0m3 4h0m32-4h0m11-1h0m6 9h0m56-8h0m13 7h0m7-1h0m-542 9h0m23-3h0m35 6h0m5-2h0m13 3h0m12-4h0m25 0h0m77 1h0m7-2h0m44-5h0m26 5h0m15 4h0m15-7h0m4 7h0m81-2h0m9-1h0m18 4h0m14-4h0m2-2h0m11 4h0m15-7h0m29 8h0m2-6h0m5 5h0m2-5h0m4 0h0m2 2h0m1-1h0m10 5h0m-497 2h0m27 9h0m7-6h0m13 3h0m10-5h0m17 7h0m23-3h0m7-2h0m3-3h0m1 7h0m20 1h0m26-8h0m16 3h0m120 4h0m9-2h0m1 0h0m12-3h0m9 0h0m20 2h0m15-3h0m4-1h0m3-1h0m5 1h0m2 4h0m25 1h0m13-6h0m79 7h0m1-4h0m21 3h0m-487 10h0m10-6h0m52 10h0m4-9h0m2 5h0m4 1h0m4-2h0m69-5h0m1 6h0m7-3h0m3-1h0m38 7h0m18-7h0m1 3h0m21-3h0m7-2h0m38 4h0m45 1h0m2 0h0m2 5h0m9-9h0m9 3h0m24 5h0m35-9h0m5 1h0m2 1h0m8 2h0m44 2h0m8-5h0m19 6h0m3-5h0m10 1h0m-541 11h0m25-1h0m5-2h0m70 7h0m32-4h0m16 0h0m42 2h0m13 3h0m16-8h0m53 3h0m5 5h0m2-9h0m3 0h0m31 6h0m17-3h0m5 0h0m51 1h0m60 2h0m4 2h0m29-6h0m80 1h0m-576 9h0m6 8h0m5-5h0m9 0h0m18 3h0m37-2h0m9-4h0m9 8h0m63-5h0m22 3h0m5-8h0m46 6h0m9-1h0m34 0h0m9-4h0m10 6h0m5-3h0m3 2h0m18-1h0m11 0h0m34-5h0m4 5h0m3-3h0m10 4h0m14-5h0m6 8h0m94-6h0m23 5h0m5-4h0m1 3h0m15-5h0m21 6h0m-540 11h0m4-1h0m21-4h0m91 1h0m52 1h0m12-2h0m0 3h0m10 0h0m16-6h0m14 1h0m46 8h0m2-6h0m31-4h0m24 7h0m8-7h0m22 7h0m21-1h0m18-3h0m1 6h0m25-2h0m19-6h0m28 5h0m71 1h0m1 2h0m16-7h0m-558 13h0m11-3h0m2 7h0m69-1h0m56-4h0m103 5h0m10-8h0m40 0h0m20 6h0m17-7h0m28 9h0m35-1h0m3 2h0m25 0h0m44-1h0m2 0h0m13-3h0m27 4h0m20-6h0m-534 8h0m5 2h0m7-3h0m20 1h0m7 4h0m62-4h0m15 1h0m39 0h0m30 2h0m18-5h0m21 1h0m50 6h0m1-4h0m19 5h0m0 0h0m8-6h0m44 0h0m48 1h0m16 1h0m38 0h0m12-2h0m18-1h0m10 8h0m47-7h0m36-2h0m-577 15h0m3 3h0m21-5h0m57-3h0m11 2h0m18-1h0m23 5h0m64-2h0m91 4h0m2-2h0m7 2h0m41 1h0m46-9h0m16 3h0m24 7h0m3-4h0m26-3h0m57 0h0m64 7h0m0-6h0m-502 12h0m8 0h0m6-2h0m6 4h0m54-5h0m2 7h0m48-5h0m12-3h0m13 3h0m3 3h0m75-7h0m86 5h0m10-3h0m27-2h0m31 5h0m76 1h0m47 3h0m-571 6h0m55 0h0m35-1h0m8-2h0m13 4h0m35-7h0m18 3h0m1 2h0m9-5h0m18 7h0m3-6h0m2 1h0m8 2h0m7 0h0m10 5h0m25-1h0m18-1h0m15-3h0m11-3h0m90 5h0m22-4h0m10 7h0m29-3h0m77 3h0m-501 8h0m58 1h0m41-8h0m28 8h0m29-3h0m1-4h0m0-1h0m9 3h0m9-1h0m14-1h0m0 1h0m12 2h0m21 0h0m12 2h0m30 1h0m6-7h0m0 10h0m2-8h0m16 2h0m12-3h0m31 9h0m24-10h0m48 5h0m17 2h0m6 2h0m52 1h0m4-5h0m26-4h0m3 7h0m23-1h0m14-4h0m7 0h0m-551 7h0m7 4h0m21 2h0m18-3h0m26 1h0m2 1h0m11 4h0m9 1h0m79-4h0m16 1h0m16-4h0m2-3h0m17 6h0m3-4h0m2 2h0m5-2h0m18 3h0m1 5h0m7-3h0m4-1h0m3-3h0m14 1h0m59 6h0m18-3h0m10 2h0m63-4h0m38-1h0m30 2h0m-512 11h0m1 2h0m5-7h0m27 4h0m20-3h0m64 1h0m42 0h0m16 4h0m18-4h0m8-2h0m3 3h0m14-2h0m6 5h0m20-8h0m51 7h0m11-5h0m21 5h0m25-7h0m45 0h0m11 1h0m4 3h0m6-2h0m5 2h0m2 4h0m5-2h0m105 1h0m1 0h0m18-6h0m-566 14h0m13-2h0m8-2h0m19 0h0m7 4h0m21-2h0m6 7h0m10-8h0m2 1h0m22-3h0m7 1h0m10 4h0m5-1h0m7 2h0m3 0h0m10 1h0m65-4h0m14-2h0m6 2h0m47 6h0m57-1h0m10 1h0m24-7h0m30 3h0m7 1h0m1-5h0m7 0h0m67 4h0m5 2h0m10-3h0m42 5h0m16-3h0m4-3h0m2 1h0m-544 13h0m28-5h0m37-2h0m7 2h0m57 1h0m43 5h0m8 1h0m9-2h0m8 2h0m18-7h0m3 4h0m70-6h0m50 7h0m19-7h0m0 0h0m10 9h0m6 1h0m4-6h0m4 0h0m4 0h0m14 2h0m6-5h0m5 8h0m31-5h0m6 6h0m12-5h0m6-4h0m43 1h0m11 3h0m21-2h0m12 4h0m-552 8h0m24 4h0m13-3h0m48-4h0m14 6h0m69 1h0m2-2h0m16-2h0m5 0h0m11-1h0m29 4h0m46-6h0m31 1h0m41 0h0m5 2h0m24 0h0m14 1h0m2-3h0m19 3h0m45 2h0m27-5h0m23 1h0m18 4h0m-528 6h0m8 2h0m16-3h0m39 6h0m8-8h0m12 4h0m5-5h0m34 10h0m1-3h0m72 1h0m7-4h0m4 2h0m1-5h0m74 3h0m2 3h0m18 1h0m18-4h0m9 4h0m28-8h0m1 2h0m2 4h0m4 0h0m31-5h0m31 6h0m40-6h0m33 6h0m1-4h0m17-2h0m24 6h0m2-3h0m11 0h0m-572 6h0m20 3h0m18 4h0m7 0h0m17-4h0m31 0h0m15-2h0m4 4h0m12-3h0m4 2h0m23 5h0m40-7h0m45 4h0m13-5h0m4 6h0m101-1h0m51 2h0m49-7h0m28 0h0m8 5h0m2-1h0m43 5h0m27-10h0m5 2h0m2 2h0m-560 16h0m31-4h0m42-6h0m14 0h0m49 1h0m2 3h0m21-1h0m44 4h0m14-1h0m46-2h0m1 4h0m10 1h0m49 0h0m94-3h0m21-5h0m11 2h0m13-2h0m6 8h0m41 1h0m37-2h0m16-3h0m2 3h0m0-3h0m-533 15h0m73-9h0m19 0h0m10 2h0m51 3h0m2-2h0m4 2h0m26-6h0m0 10h0m4-8h0m63 5h0m3-1h0m6-5h0m4 6h0m9-4h0m12 5h0m22-7h0m10 5h0m23 2h0m7 2h0m9-4h0m13 0h0m4 1h0m6 2h0m30-5h0m11 2h0m7 2h0m37-2h0m2 2h0m33 1h0m4-2h0m3-6h0m4 5h0m1-1h0m1 2h0m14-6h0m-569 13h0m0 2h0m19-3h0m4 7h0m2-3h0m8-5h0m7 5h0m8-3h0m58 1h0m7 1h0m63 0h0m64 1h0m14-6h0m16 2h0m31 1h0m19 2h0m28 2h0m60-2h0m6 4h0m24-8h0m1-1h0m15 9h0m2-3h0m15-6h0m3 2h0m9 1h0m18-3h0m16 0h0m54 8h0m0-4h0m-565 7h0m4 0h0m14 0h0m8 2h0m6 6h0m16-4h0m18 1h0m104-7h0m51 9h0m58-5h0m25-3h0m11 4h0m14-5h0m10 6h0m32-5h0m0 5h0m23-5h0m24 8h0m25 0h0m8-2h0m27 0h0m1-6h0m1 1h0m46 2h0m13 4h0m14-7h0m8 7h0m-560 12h0m29-1h0m9-7h0m19-2h0m25 0h0m40 8h0m17 1h0m30-7h0m16 6h0m15-1h0m73-2h0m22 3h0m19 0h0m5 0h0m3-1h0m57-2h0m16 3h0m2 0h0m2-2h0m2-2h0m7 0h0m11 3h0m57 2h0m1-4h0m10 4h0m74-8h0m-465 11h0m2-1h0m14 0h0m58 2h0m58-2h0m18 2h0m12 2h0m2 3h0m43-7h0m11 7h0m149 2h0m-458 5h0m151-3h0m25 1h0m0 0h0m102-2h0m136 2h0m48-1h0m-465 8h0m420 6h0m15 3h0m-202 5h0m35-2h0m19 6h0m104-1h0m91-6h0m62 3h0m8-3h0m-276 15h0m70 12h0m211-3h0" stroke="#000" stroke-width="22.5" stroke-linecap="round" fill="none"/></g>
<g transform="translate(1095.1,1198.5)"><path d="M19.6 -0.0C19.4 -0.3 19.8 -0.9 18.5 -1.8C17.1 -2.8 13.9 -4.2 11.5 -5.8C9.2 -7.4 5.7 -9.6 4.2 -11.5C2.6 -13.5 2.0 -15.4 2.3 -17.3C2.6 -19.2 3.7 -20.6 5.8 -23.1C7.9 -25.6 12.1 -29.2 15.0 -32.3C17.9 -35.4 20.6 -38.4 23.1 -41.5C25.6 -44.6 28.3 -48.3 30.0 -50.7C31.6 -53.2 32.8 -54.6 33.0 -56.5C33.2 -58.4 33.0 -59.8 31.1 -62.3C29.3 -64.8 24.8 -68.4 21.9 -71.5C19.0 -74.6 16.3 -77.7 13.8 -80.7C11.3 -83.8 8.7 -87.5 6.9 -90.0C5.2 -92.5 4.2 -94.3 3.5 -95.7C2.8 -97.2 2.9 -98.2 2.8 -98.7L-2.8 -98.7C-2.9 -98.2 -2.8 -97.2 -3.5 -95.7C-4.2 -94.3 -5.2 -92.5 -6.9 -90.0C-8.7 -87.5 -11.3 -83.8 -13.8 -80.7C-16.3 -77.7 -19.0 -74.6 -21.9 -71.5C-24.8 -68.4 -29.3 -64.8 -31.1 -62.3C-33.0 -59.8 -33.2 -58.4 -33.0 -56.5C-32.8 -54.6 -31.6 -53.2 -30.0 -50.7C-28.3 -48.3 -25.6 -44.6 -23.1 -41.5C-20.6 -38.4 -17.9 -35.4 -15.0 -32.3C-12.1 -29.2 -7.9 -25.6 -5.8 -23.1C-3.7 -20.6 -2.6 -19.2 -2.3 -17.3C-2.0 -15.4 -2.6 -13.5 -4.2 -11.5C-5.7 -9.6 -9.2 -7.4 -11.5 -5.8C-13.9 -4.2 -17.1 -2.8 -18.5 -1.8C-19.8 -0.9 -19.4 -0.3 -19.6 -0.0Z" fill="#00BA38" stroke="#333" stroke-width="1.15" stroke-linejoin="round"/><path transform="scale(.1)" d="m-271-963h0m454 18h0m-329 14h0m67 7h0m-63 30h0m-55 13h0m285-3h0m115 7h0m-292 6h0m53 5h0m-184 3h0m220 14h0m206-1h0m-461 12h0m42 2h0m93 2h0m140 6h0m-214 12h0m48-7h0m252-1h0m6 7h0m-289 5h0m63 5h0m-16 6h0m156 3h0m31-5h0m27 6h0m156-1h0m33-6h0m-551 17h0m98-4h0m187-3h0m18 6h0m123 1h0m-338 11h0m82 0h0m3-1h0m50 3h0m144 8h0m43 0h0m-239 9h0m0 0h0m166 2h0m27-6h0m-291 7h0m12 5h0m3-3h0m120-1h0m55 4h0m244-5h0m-288 11h0m63 2h0m125 3h0m115 5h0m1 2h0m-496 16h0m254-5h0m52-5h0m48 6h0m60-4h0m30 5h0m-434 6h0m102 5h0m164 1h0m64-6h0m3 0h0m32 6h0m4-1h0m-248 7h0m118-2h0m105-1h0m159 0h0m-540 12h0m117-3h0m159 5h0m23 3h0m4-1h0m142-1h0m59 0h0m19-6h0m-407 16h0m42 1h0m83-2h0m207-1h0m2-2h0m102-2h0m-433 15h0m365 3h0m69-6h0m-511 7h0m4 3h0m70 6h0m44-3h0m162 3h0m19-4h0m71-3h0m7 4h0m37-1h0m82 0h0m-450 6h0m18 2h0m0 4h0m38 3h0m28-1h0m104-2h0m195 1h0m2-5h0m-393 12h0m116 2h0m182-3h0m37-1h0m100 2h0m-509 10h0m15 4h0m0-2h0m110-2h0m151 4h0m189-1h0m-318 9h0m95-5h0m6 6h0m133-7h0m25 4h0m10 1h0m21 0h0m96 0h0m2-1h0m10-4h0m-521 9h0m25 4h0m22 1h0m116-1h0m186-2h0m64 0h0m20-1h0m22 0h0m6 1h0m28 1h0m39 3h0m-469 4h0m156 6h0m11 2h0m29 1h0m26-7h0m8 3h0m82 2h0m26-6h0m100 0h0m14 1h0m8 7h0m-559 7h0m50-4h0m57 2h0m66-3h0m42 1h0m42 7h0m35-7h0m11 8h0m3 0h0m66-5h0m63 2h0m4-5h0m73 0h0m25 2h0m11 3h0m-487 13h0m44-4h0m62 1h0m133-3h0m18 4h0m29-5h0m10 6h0m5-3h0m48-4h0m23 6h0m65-2h0m-480 9h0m141 3h0m74 1h0m4-7h0m16-2h0m93 5h0m10 4h0m16-5h0m55 4h0m44 1h0m89-2h0m-525 12h0m89 1h0m11-2h0m27-1h0m63-5h0m60 2h0m32 5h0m47-3h0m29 3h0m6 0h0m7 0h0m-391 5h0m14 5h0m28 1h0m8-4h0m9-3h0m9 0h0m25 1h0m22-4h0m105 4h0m74 1h0m34 0h0m42-4h0m22 0h0m20 3h0m81 0h0m-450 9h0m197 3h0m33-4h0m13 0h0m75 2h0m181 6h0m-516 9h0m91-2h0m224 0h0m107-2h0m104 3h0m-431 6h0m102-3h0m73 8h0m116-5h0m10 5h0m55 1h0m9-3h0m3-6h0m44 1h0m-528 10h0m9 5h0m26-6h0m47 1h0m52 7h0m117-2h0m79-3h0m-249 11h0m45-4h0m75-1h0m50 5h0m5 4h0m278-3h0m11-3h0m-562 12h0m54 4h0m169-9h0m104 5h0m49-5h0m-340 15h0m106 3h0m221-7h0m126 7h0m21-1h0m7-2h0m-521 8h0m13 0h0m80 7h0m262-9h0m77 6h0m2-6h0m98 6h0m-476 11h0m3 0h0m223-4h0m18 4h0m49 2h0m3-8h0m32 2h0m85-2h0m18 4h0m45 3h0m-514 6h0m30 2h0m137-5h0m26-1h0m109 3h0m64 1h0m64-5h0m13 5h0m-386 15h0m32-8h0m17-2h0m37 5h0m62 0h0m4-1h0m44 0h0m18 5h0m229-6h0m30 2h0m-464 11h0m152 1h0m260-4h0m-266 15h0m23-3h0m20 0h0m55-1h0m2-3h0m170 5h0m-430 5h0m127 9h0m26 0h0m4-9h0m9 6h0m171-4h0m40 5h0m25 1h0m-441 5h0m47-4h0m108 2h0m180 0h0m1 2h0m32 6h0m-309 2h0m70-2h0m52 1h0m11 4h0m167-2h0m65 5h0m-395 9h0m244-1h0m26-6h0m-203 18h0m5-7h0m101 2h0m88 5h0m146 0h0m42-4h0m-477 7h0m82 2h0m291 3h0m21-4h0m47 5h0m91-3h0m-537 8h0m41 3h0m135-3h0m297 5h0m-461 11h0m126-3h0m278-1h0m-321 10h0m125 11h0m40 3h0m48 1h0m29-5h0m-353 13h0m3 3h0m424 0h0m128-3h0m-495 13h0m260-10h0m87 8h0m14 2h0m74-6h0m14-4h0m-439 18h0m69-4h0m-91 12h0m490 3h0m-331 4h0m81-1h0m162-1h0m-288 27h0m19-2h0m307-2h0m-361 11h0m14 7h0m303 4h0m56 8h0m36 1h0m-426 12h0m21-3h0m6 3h0m-11 9h0m266 16h0m134 3h0m-524 180h0m4 0h0m14 0h0m30 0h0m36 0h0m10 0h0m1 0h0m7 0h0m3 0h0m0 0h0m9 0h0m18 0h0m8 0h0m14 0h0m0 0h0m13 0h0m1 0h0m1 0h0m8 0h0m13 0h0m6 0h0m15 0h0m20 0h0m1 0h0m6 0h0m10 0h0m13 0h0m2 0h0m65 0h0m20 0h0m15 0h0m14 0h0m10 0h0m2 0h0m33 0h0m22 0h0m1 0h0m9 0h0m0 0h0m1 0h0m30 0h0m9 0h0m24 0h0m14 0h0m12 0h0" stroke="#000" stroke-width="22.5" stroke-linecap="round" fill="none"/></g>
<g transform="translate(1167.8,1198.5)"><path d="M10.4 -0.0C10.2 -0.6 10.1 -1.9 9.2 -3.5C8.3 -5.0 6.3 -7.3 5.1 -9.2C3.8 -11.1 2.5 -13.1 1.8 -15.0C1.2 -16.9 1.1 -18.6 1.4 -20.8C1.7 -22.9 2.2 -25.0 3.5 -27.7C4.8 -30.4 6.5 -33.4 9.2 -36.9C11.9 -40.4 16.3 -44.6 19.6 -48.4C22.9 -52.3 26.7 -56.5 28.8 -60.0C30.9 -63.4 31.6 -66.7 32.3 -69.2C33.0 -71.7 33.1 -73.0 33.0 -75.0C32.9 -76.9 33.3 -78.2 31.8 -80.7C30.4 -83.2 27.0 -87.3 24.2 -90.0C21.4 -92.7 17.6 -95.0 15.0 -96.9C12.4 -98.7 9.8 -100.3 8.8 -101.0L-8.8 -101.0C-9.8 -100.3 -12.4 -98.7 -15.0 -96.9C-17.6 -95.0 -21.4 -92.7 -24.2 -90.0C-27.0 -87.3 -30.4 -83.2 -31.8 -80.7C-33.3 -78.2 -32.9 -76.9 -33.0 -75.0C-33.1 -73.0 -33.0 -71.7 -32.3 -69.2C-31.6 -66.7 -30.9 -63.4 -28.8 -60.0C-26.7 -56.5 -22.9 -52.3 -19.6 -48.4C-16.3 -44.6 -11.9 -40.4 -9.2 -36.9C-6.5 -33.4 -4.8 -30.4 -3.5 -27.7C-2.2 -25.0 -1.7 -22.9 -1.4 -20.8C-1.1 -18.6 -1.2 -16.9 -1.8 -15.0C-2.5 -13.1 -3.8 -11.1 -5.1 -9.2C-6.3 -7.3 -8.3 -5.0 -9.2 -3.5C-10.1 -1.9 -10.2 -0.6 -10.4 -0.0Z" fill="#00BFC4" stroke="#333" stroke-width="1.15" stroke-linejoin="round"/><path transform="scale(.1)" d="m-269-993h0m397 18h0m-113 18h0m-237 17h0m-60 15h0m119 27h0m-64 4h0m497 17h0m-557 12h0m67 28h0m16-3h0m103 6h0m109 5h0m-136 9h0m136 3h0m103 19h0m-327 12h0m75-5h0m180 14h0m143 7h0m-187 9h0m-196 14h0m345-1h0m-381 7h0m451 3h0m33-2h0m-88 9h0m-142 22h0m0-5h0m-2 28h0m163-6h0m80 2h0m-347 12h0m135 0h0m101-1h0m-278 5h0m123 33h0m76-3h0m-28 15h0m-238 13h0m253-4h0m-155 20h0m155 4h0m-100 4h0m-28 34h0m216-2h0m56-2h0m-170 36h0m-288 5h0m379 6h0m-131 1h0m178 48h0m-191 31h0m11 33h0m-167 129h0m-45 273h0m2 0h0m67 0h0m16 0h0m31 0h0m1 0h0m254 0h0m61 0h0" stroke="#000" stroke-width="22.5" stroke-linecap="round" fill="none"/></g>
<g transform="translate(1240.4,1198.5)"><path d="M4.2 -0.0C4.0 -0.3 4.0 -1.0 3.5 -1.8C3.0 -2.7 1.6 -3.5 1.2 -5.1C0.7 -6.7 0.7 -8.9 0.7 -11.5C0.7 -14.1 0.7 -17.7 1.4 -20.8C2.0 -23.8 3.1 -26.9 4.6 -30.0C6.1 -33.1 8.1 -36.1 10.4 -39.2C12.7 -42.3 15.6 -45.6 18.5 -48.4C21.3 -51.3 25.5 -54.4 27.7 -56.5C29.9 -58.6 30.9 -60.0 31.8 -61.1C32.7 -62.3 33.1 -62.7 33.0 -63.4C32.9 -64.2 33.2 -64.0 31.1 -65.7C29.1 -67.5 24.2 -71.1 20.8 -73.8C17.3 -76.5 13.3 -79.4 10.4 -81.9C7.5 -84.4 5.0 -86.7 3.5 -88.8C2.0 -90.9 1.9 -91.5 1.4 -94.6C0.9 -97.7 0.6 -105.2 0.5 -107.3L-0.5 -107.3C-0.6 -105.2 -0.9 -97.7 -1.4 -94.6C-1.9 -91.5 -2.0 -90.9 -3.5 -88.8C-5.0 -86.7 -7.5 -84.4 -10.4 -81.9C-13.3 -79.4 -17.3 -76.5 -20.8 -73.8C-24.2 -71.1 -29.1 -67.5 -31.1 -65.7C-33.2 -64.0 -32.9 -64.2 -33.0 -63.4C-33.1 -62.7 -32.7 -62.3 -31.8 -61.1C-30.9 -60.0 -29.9 -58.6 -27.7 -56.5C-25.5 -54.4 -21.3 -51.3 -18.5 -48.4C-15.6 -45.6 -12.7 -42.3 -10.4 -39.2C-8.1 -36.1 -6.1 -33.1 -4.6 -30.0C-3.1 -26.9 -2.0 -23.8 -1.4 -20.8C-0.7 -17.7 -0.7 -14.1 -0.7 -11.5C-0.7 -8.9 -0.7 -6.7 -1.2 -5.1C-1.6 -3.5 -3.0 -2.7 -3.5 -1.8C-4.0 -1.0 -4.0 -0.3 -4.2 -0.0Z" fill="#619CFF" stroke="#333" stroke-width="1.15" stroke-linejoin="round"/><path transform="scale(.1)" d="m-165-948h0m276 0h0m167 2h0m-497 1h0m83 5h0m-45 13h0m154-2h0m-71 14h0m7 0h0m85 3h0m-161 16h0m16 0h0m99-4h0m8-5h0m-52 19h0m141-2h0m221 0h0m-523 7h0m298-3h0m55 1h0m15 1h0m175 5h0m-490 11h0m1-4h0m7-3h0m15 1h0m36 4h0m336 1h0m-428 9h0m54-4h0m173 2h0m108 4h0m110-1h0m-482 3h0m101 3h0m96 0h0m183 5h0m4 1h0m22-9h0m114 8h0m18 1h0m9-3h0m-497 7h0m182-1h0m197 0h0m-434 12h0m166-1h0m115 3h0m240-6h0m-425 15h0m29-1h0m43-2h0m69-1h0m20 4h0m-211 11h0m30 2h0m38-9h0m60 9h0m170-9h0m138 7h0m66-4h0m-522 11h0m8-1h0m5 3h0m21 4h0m5-1h0m23-6h0m98 6h0m33 0h0m89-6h0m2 7h0m15-2h0m67-2h0m41 1h0m17-5h0m54 4h0m17-5h0m2-1h0m19 3h0m-541 11h0m39 0h0m49-3h0m3 3h0m76-1h0m4-2h0m102 8h0m82-9h0m33 0h0m32 9h0m36-5h0m63 1h0m-524 8h0m62 0h0m89 3h0m164 1h0m17-3h0m-317 15h0m67-8h0m4 5h0m8-4h0m33-2h0m19 4h0m2 2h0m70-1h0m67-2h0m102 7h0m15-7h0m11 6h0m0-8h0m136 0h0m-497 13h0m9 1h0m5-5h0m63 6h0m34 2h0m71-1h0m56-5h0m139 6h0m40 1h0m11-6h0m-460 16h0m7-2h0m28 1h0m112 1h0m17-5h0m33 3h0m27-1h0m33-4h0m9 2h0m78-2h0m46 1h0m8 0h0m14 1h0m17 3h0m12-5h0m15 6h0m7-7h0m6 8h0m63-2h0m5-3h0m-492 14h0m72-3h0m11-5h0m39 6h0m2 1h0m21 0h0m20-3h0m38 1h0m70-5h0m32 6h0m4 0h0m41-2h0m13-1h0m103 4h0m4 2h0m2-5h0m-525 11h0m129 3h0m4-5h0m37 6h0m25 1h0m5-8h0m5-2h0m17 3h0m62 0h0m10 3h0m2 4h0m18-8h0m25 3h0m32-2h0m65 3h0m55-2h0m-452 7h0m5 9h0m10-9h0m15 2h0m6 6h0m100-7h0m6 4h0m31 0h0m9 1h0m41 3h0m15-1h0m19-7h0m10 4h0m73 2h0m78-2h0m1 4h0m3-2h0m25-1h0m11 2h0m8-2h0m-474 6h0m7-1h0m76 2h0m35-4h0m2 7h0m21 1h0m3-5h0m20 6h0m43-1h0m43 0h0m31-4h0m13-2h0m5 2h0m34-3h0m13 5h0m54-1h0m2 1h0m10-5h0m11 8h0m25-2h0m1 2h0m15 1h0m6-8h0m-390 11h0m45-1h0m27 2h0m12-4h0m3 8h0m24-1h0m6-3h0m17-4h0m3 9h0m61-2h0m9 3h0m21 0h0m1-7h0m44-2h0m128 0h0m1 9h0m5-6h0m6 5h0m4-1h0m10-5h0m-536 15h0m1-3h0m22 2h0m13-5h0m30-2h0m3 4h0m52-1h0m1 4h0m20-5h0m26 4h0m31 2h0m5-1h0m16 0h0m7-6h0m13 0h0m22 3h0m60 2h0m8-2h0m51-2h0m13 0h0m5 0h0m28 6h0m12-5h0m29 6h0m15-5h0m3 5h0m1-4h0m26 3h0m16-2h0m0 1h0m24-2h0m-551 7h0m52 6h0m105-4h0m3-3h0m9 4h0m5-3h0m22 4h0m71 4h0m3-1h0m25-9h0m49 9h0m18 0h0m1-9h0m17 1h0m0 8h0m60-5h0m3 3h0m11 3h0m9-7h0m9 3h0m21-1h0m16 0h0m13-4h0m-479 16h0m11-4h0m0 5h0m44-8h0m57 5h0m1-1h0m6 0h0m19-2h0m50 1h0m13 0h0m27-2h0m10 1h0m1 0h0m2 8h0m6-7h0m13 5h0m54-7h0m34 8h0m24-9h0m19 9h0m12 0h0m5-3h0m6 3h0m-477 7h0m0 1h0m4 1h0m33-2h0m55-6h0m41 2h0m7 7h0m15 0h0m12 0h0m7-4h0m2-3h0m24 7h0m36-8h0m1 7h0m11 2h0m6-9h0m18 2h0m17-2h0m56 3h0m121 0h0m43 1h0m16-3h0m4 3h0m28 4h0m-474 4h0m7 5h0m66-7h0m9 2h0m22 3h0m2 0h0m14-2h0m0 4h0m15 0h0m30-8h0m28 6h0m18-6h0m34 8h0m17-4h0m2 5h0m38-9h0m3 9h0m7-3h0m16-3h0m10 3h0m25 1h0m68-1h0m2 4h0m6-6h0m22 1h0m15-1h0m8 1h0m-563 14h0m2-6h0m13-3h0m17 2h0m14 6h0m2-6h0m19 6h0m4-2h0m9-1h0m4 4h0m8 1h0m29-9h0m62 6h0m14 0h0m9-5h0m2 1h0m2 0h0m21 0h0m10 0h0m15-2h0m17 5h0m15 4h0m1-1h0m14-1h0m5 1h0m5-3h0m22 3h0m16-6h0m33 0h0m1 2h0m13 0h0m13-4h0m23 7h0m47-1h0m9-1h0m1-3h0m2 2h0m5 2h0m12 1h0m6-6h0m5 6h0m43-4h0m-557 7h0m3 2h0m5 4h0m15 1h0m32 0h0m30-7h0m5-1h0m8 3h0m47-1h0m33 0h0m44 0h0m7 7h0m43 1h0m18-7h0m5 4h0m7 2h0m2-9h0m15 3h0m8 7h0m18-3h0m132-3h0m10 4h0m49-5h0m7 6h0m-555 3h0m4 2h0m51 3h0m16 1h0m36-2h0m30-3h0m24 3h0m29-2h0m36 1h0m12 4h0m9 0h0m10-7h0m2 2h0m76 0h0m36 0h0m35-1h0m12 0h0m1 2h0m3 4h0m2-2h0m7 2h0m9-3h0m6-3h0m40 0h0m50 7h0m15-4h0m4-5h0m0 4h0m4-3h0m19-1h0m-529 19h0m27-8h0m10 7h0m3-2h0m63 1h0m56-6h0m38 5h0m39-4h0m8 3h0m6-5h0m1 9h0m23-4h0m5 0h0m2 0h0m1-2h0m34-3h0m6 2h0m1-2h0m17 1h0m16 4h0m34-4h0m5-1h0m0 2h0m18-1h0m5-1h0m12 2h0m86 4h0m3-6h0m-527 15h0m13 2h0m13-7h0m65 2h0m1 7h0m53-4h0m4 2h0m34-4h0m26-3h0m28 7h0m12-6h0m14 3h0m8 5h0m12 0h0m3-9h0m8 0h0m4 6h0m23-6h0m14 7h0m55 0h0m21 0h0m10 1h0m25 0h0m55-7h0m25 3h0m-558 7h0m13 4h0m18-2h0m32-1h0m3 6h0m1-4h0m17-1h0m23 1h0m3-2h0m15-2h0m24 2h0m20 3h0m21-5h0m7 1h0m62 4h0m100-2h0m45 2h0m7-6h0m57 8h0m4 1h0m28-4h0m47 4h0m19-1h0m-569 3h0m24 8h0m12-4h0m10-4h0m10 8h0m32-1h0m37-7h0m14 0h0m12 7h0m9-3h0m64 4h0m8 0h0m51-3h0m10 1h0m38-1h0m18 1h0m27 0h0m5-5h0m129 7h0m3-5h0m1-1h0m38-3h0m13 2h0m-477 9h0m139 2h0m12 3h0m29 2h0m11 0h0m10-6h0m16 1h0m11 1h0m70 2h0m27 0h0m27-4h0m60 2h0m66 0h0m-564 16h0m80-6h0m12 3h0m36 2h0m6-3h0m10-4h0m4 1h0m10 6h0m13-3h0m53-2h0m19-3h0m3 5h0m35-3h0m5 1h0m79 2h0m26-3h0m9-1h0m5 0h0m12 8h0m25-1h0m53-7h0m14 1h0m29 1h0m8-1h0m-547 9h0m51 8h0m42-2h0m107 1h0m8-8h0m32 0h0m10 3h0m15 3h0m15-5h0m8 0h0m60 6h0m0 0h0m44-2h0m26 1h0m45-1h0m19 1h0m34-1h0m-523 7h0m16-3h0m37 0h0m2 5h0m18-1h0m2 3h0m22-2h0m56-1h0m104 6h0m39-7h0m3 1h0m14-2h0m21 6h0m4-1h0m19-5h0m2 4h0m95-2h0m63 3h0m25-6h0m15 3h0m9-4h0m-552 17h0m3-4h0m10 6h0m26-6h0m58 5h0m4-5h0m20 6h0m0-6h0m23-3h0m8 7h0m78 3h0m13-2h0m104 1h0m46 0h0m42-3h0m7-4h0m8 1h0m14 7h0m85-7h0m-553 11h0m63-2h0m127 3h0m113 1h0m5-3h0m40-1h0m4 0h0m89 6h0m18 1h0m34-1h0m24-8h0m41 5h0m-405 7h0m3 3h0m75-1h0m42 5h0m116-9h0m70 7h0m27-7h0m29 6h0m-499 10h0m11-6h0m5 7h0m12-5h0m35 3h0m45-1h0m28 3h0m20 1h0m24-8h0m4 10h0m10-7h0m7 2h0m1-2h0m25 6h0m111 1h0m13-6h0m16 4h0m86-3h0m71 5h0m-535 7h0m10-3h0m9 2h0m17 2h0m23-6h0m47 3h0m6-3h0m11-1h0m3 8h0m28-2h0m23-4h0m74-2h0m24 4h0m28 0h0m1-5h0m2 9h0m28-8h0m98 9h0m73-9h0m41 8h0m-460 5h0m93 1h0m2 4h0m4-2h0m51 0h0m3-1h0m17-2h0m4 5h0m21 0h0m43-5h0m9-2h0m64 6h0m75-3h0m11 4h0m32-8h0m15 6h0m-420 7h0m72 3h0m4-3h0m35-1h0m21 6h0m80-4h0m87 5h0m23-3h0m78-5h0m13 0h0m-476 13h0m28 2h0m66 3h0m15-6h0m21-4h0m44 6h0m55-1h0m64-4h0m118 4h0m16 2h0m29-4h0m7 6h0m-451 9h0m17 2h0m34-6h0m113-4h0m61 9h0m38-8h0m156 6h0m62 2h0m-539 6h0m27-5h0m44 2h0m217 4h0m64 3h0m40-4h0m14 1h0m-356 12h0m96-4h0m53 2h0m53 2h0m14-3h0m28-2h0m132 5h0m94-2h0m-379 11h0m71-2h0m144 0h0m42 1h0m28-5h0m57 0h0m41 6h0m3-6h0m24 1h0m-510 14h0m140-3h0m44 5h0m22-6h0m12 3h0m35 2h0m43 3h0m26-5h0m61 3h0m6 2h0m72-7h0m-459 12h0m15-4h0m13 7h0m48-5h0m8 0h0m47 6h0m19-5h0m61 3h0m19-2h0m47 1h0m40 1h0m59 0h0m36 0h0m7-2h0m2 5h0m46-10h0m30 3h0m20-2h0m-320 14h0m10 3h0m6-1h0m132-4h0m21 5h0m5-4h0m63-4h0m34 9h0m17-6h0m27 3h0m-501 7h0m17 1h0m2-4h0m33 1h0m8 8h0m128-7h0m11 6h0m50-4h0m41 1h0m33-2h0m3 0h0m1 5h0m168-1h0m-503 12h0m55-3h0m24-5h0m143 1h0m40-1h0m33 7h0m91-5h0m-284 14h0m169 2h0m206-4h0m17-1h0m-538 9h0m1 1h0m175 2h0m33-2h0m122 2h0m159-3h0m42-1h0m-488 16h0m48 0h0m60 0h0m10 1h0m2-5h0m150 3h0m83 2h0m-283 7h0m10-3h0m83 4h0m107-6h0m51 8h0m182-7h0m-563 11h0m120 1h0m157 1h0m64 0h0m117 2h0m24-6h0m63 5h0m-412 15h0m8 0h0m157 4h0m139 4h0m59-7h0m-457 14h0m98 0h0m99 10h0m58 2h0m248 0h0m27-3h0m-230 8h0m38 5h0m170-6h0m-525 16h0m305-6h0m38-2h0m160 14h0m-327 12h0m98-2h0m172-1h0m52-3h0m-402 20h0m10 0h0m163 21h0m233 3h0m-131 23h0m-346 7h0m374 8h0m-402 163h0m20 0h0m17 0h0m62 0h0m52 0h0m8 0h0m1 0h0m5 0h0m7 0h0m3 0h0m0 0h0m37 0h0m2 0h0m49 0h0m43 0h0m11 0h0m9 0h0m6 0h0m23 0h0m56 0h0m42 0h0m4 0h0m68 0h0m5 0h0m10 0h0" stroke="#000" stroke-width="22.5" stroke-linecap="round" fill="none"/></g>
<g transform="translate(1313.1,1198.5)"><path d="M13.8 -0.0C13.6 -0.3 13.8 -1.1 12.7 -1.8C11.5 -2.6 8.7 -3.6 6.9 -4.6C5.1 -5.7 2.8 -6.5 1.8 -8.1C0.8 -9.6 1.0 -11.3 0.9 -13.8C0.8 -16.3 0.8 -20.4 1.4 -23.1C1.9 -25.8 2.7 -27.5 4.2 -30.0C5.7 -32.5 7.8 -35.4 10.4 -38.1C13.0 -40.8 16.7 -43.6 19.6 -46.1C22.5 -48.6 25.5 -51.1 27.7 -53.1C29.9 -55.0 32.3 -56.3 33.0 -57.7C33.7 -59.0 33.7 -59.2 31.8 -61.1C30.0 -63.1 25.3 -66.3 21.9 -69.2C18.5 -72.1 14.4 -75.7 11.5 -78.4C8.7 -81.1 6.2 -83.2 4.6 -85.4C3.0 -87.5 2.5 -88.8 1.8 -91.1C1.2 -93.4 1.2 -94.5 0.9 -99.2C0.7 -103.9 0.5 -116.1 0.5 -119.5L-0.5 -119.5C-0.5 -116.1 -0.7 -103.9 -0.9 -99.2C-1.2 -94.5 -1.2 -93.4 -1.8 -91.1C-2.5 -88.8 -3.0 -87.5 -4.6 -85.4C-6.2 -83.2 -8.7 -81.1 -11.5 -78.4C-14.4 -75.7 -18.5 -72.1 -21.9 -69.2C-25.3 -66.3 -30.0 -63.1 -31.8 -61.1C-33.7 -59.2 -33.7 -59.0 -33.0 -57.7C-32.3 -56.3 -29.9 -55.0 -27.7 -53.1C-25.5 -51.1 -22.5 -48.6 -19.6 -46.1C-16.7 -43.6 -13.0 -40.8 -10.4 -38.1C-7.8 -35.4 -5.7 -32.5 -4.2 -30.0C-2.7 -27.5 -1.9 -25.8 -1.4 -23.1C-0.8 -20.4 -0.8 -16.3 -0.9 -13.8C-1.0 -11.3 -0.8 -9.6 -1.8 -8.1C-2.8 -6.5 -5.1 -5.7 -6.9 -4.6C-8.7 -3.6 -11.5 -2.6 -12.7 -1.8C-13.8 -1.1 -13.6 -0.3 -13.8 -0.0Z" fill="#F564E3" stroke="#333" stroke-width="1.15" stroke-linejoin="round"/><path d="M-29.0 0H29.0" stroke="#000" stroke-width="2.40" stroke-linecap="round"/><path transform="scale(.1)" d="m-193-1188h0m268 1h0m-230 15h0m5-2h0m10 3h0m-70 28h0m413 3h0m-38 31h0m15-4h0m-328 12h0m281 8h0m-359 13h0m41 13h0m326-6h0m-130 15h0m134-5h0m105 13h0m-537 22h0m235 1h0m283 0h0m-394 6h0m381-4h0m-468 29h0m148-7h0m1 2h0m96 0h0m3 2h0m90 1h0m5-2h0m40 3h0m-230 2h0m18 9h0m-148 8h0m176 0h0m226 1h0m42-5h0m-232 9h0m98 4h0m21 2h0m22 1h0m119-7h0m-439 13h0m16 3h0m17 0h0m32-4h0m39 6h0m223-4h0m21-5h0m-219 14h0m15-4h0m2 5h0m15-3h0m125-1h0m29 3h0m79 4h0m35 0h0m6-6h0m-472 13h0m119-5h0m340 1h0m38 5h0m-375 12h0m195-5h0m60 1h0m20-1h0m89-3h0m-478 16h0m4-4h0m72-2h0m61 8h0m19-9h0m19 8h0m27-1h0m104-2h0m77 5h0m61-4h0m46-2h0m5 3h0m-545 4h0m32 5h0m19-4h0m129 4h0m17-4h0m68 2h0m27-4h0m40 5h0m6-2h0m188-1h0m-523 12h0m99 1h0m2 4h0m49-5h0m45 1h0m110-4h0m16 1h0m67 3h0m14 1h0m46 2h0m10-7h0m31 2h0m6-3h0m-480 19h0m83-8h0m30 2h0m32 6h0m24-5h0m33-3h0m22 3h0m41 1h0m77 1h0m38 1h0m50-1h0m71-2h0m8 2h0m-543 14h0m86-4h0m35-5h0m54 7h0m74-3h0m10-2h0m13 5h0m11-3h0m30-5h0m94 3h0m50 0h0m33 7h0m-475 0h0m2 7h0m36-2h0m19 0h0m71 1h0m29 2h0m22 0h0m23-2h0m81-1h0m19-4h0m16 8h0m36-1h0m27-4h0m10-3h0m52 6h0m55 0h0m39-5h0m13 4h0m-552 11h0m74-3h0m5-2h0m4 7h0m13 0h0m33-7h0m73 0h0m14 0h0m10 2h0m24 2h0m12 3h0m18 0h0m50-8h0m5 2h0m6 0h0m10 5h0m55 0h0m6-1h0m5 2h0m55-8h0m14 6h0m30-4h0m-414 11h0m99-1h0m19-1h0m1 4h0m14 1h0m9-5h0m35 7h0m14-5h0m19 4h0m87-3h0m2-4h0m5 6h0m3-5h0m3 7h0m30-1h0m39-7h0m17 3h0m16-2h0m39-1h0m2 1h0m-544 16h0m1-1h0m12-2h0m36 1h0m4 4h0m51-3h0m20-6h0m8 2h0m76 0h0m47 1h0m2 4h0m85-5h0m56-2h0m19 4h0m4-4h0m3 8h0m0-7h0m0 2h0m4 0h0m-409 14h0m80 0h0m15-1h0m7-1h0m47-4h0m17 2h0m28-4h0m117 1h0m9 5h0m50-4h0m27 5h0m70 1h0m-425 5h0m8 1h0m57 2h0m20-4h0m19 6h0m19 0h0m109-2h0m48 2h0m12-8h0m91 1h0m90 2h0m13 4h0m-539 8h0m26-3h0m33 4h0m86-3h0m4 6h0m21-6h0m10 5h0m9-3h0m43-1h0m25-1h0m18 5h0m45 1h0m29-4h0m50-1h0m12 2h0m33-5h0m27 8h0m19-7h0m50 2h0m4 4h0m-571 10h0m3-5h0m7-1h0m35 4h0m18 2h0m25-5h0m53 3h0m51-6h0m3 8h0m18-8h0m50 6h0m5 1h0m28-3h0m137 3h0m71 1h0m43 1h0m7-1h0m-557 7h0m1 5h0m86-3h0m28-3h0m11-4h0m40 5h0m47-5h0m26 6h0m47 2h0m25-6h0m54 3h0m2 5h0m17-3h0m45 0h0m39 1h0m11 1h0m41-5h0m24-2h0m14-1h0m19 5h0m-575 12h0m3-6h0m9 6h0m22 0h0m16-3h0m40-1h0m17 3h0m39 0h0m76 3h0m13-1h0m46-7h0m69 8h0m31-1h0m18-4h0m4 4h0m30-7h0m44 2h0m31-4h0m-466 19h0m6-5h0m53 2h0m40 3h0m48-3h0m41-2h0m22-1h0m15 7h0m114-3h0m2-1h0m16 0h0m63-2h0m48-2h0m14 8h0m26-6h0m-489 10h0m177 2h0m28-4h0m7 7h0m87-2h0m7 1h0m4-5h0m5-2h0m5 7h0m20-2h0m33-1h0m36 3h0m41-3h0m22 0h0m3 2h0m16-6h0m11 7h0m-564 9h0m50-4h0m40 7h0m24-4h0m13 2h0m35 1h0m16 0h0m10-3h0m3 4h0m15-9h0m15 1h0m13 5h0m3-5h0m35 8h0m9-4h0m35-4h0m28 0h0m1 1h0m0 6h0m29-7h0m25 2h0m2-3h0m2-1h0m31 9h0m6-7h0m39 7h0m3-7h0m91 6h0m-536 5h0m1 1h0m1-1h0m63 6h0m26-2h0m13-2h0m27 1h0m10 2h0m116-5h0m6 4h0m21 1h0m173-8h0m27 1h0m-504 14h0m0-2h0m39-3h0m3 6h0m36 1h0m15-1h0m7-5h0m0-1h0m5 1h0m7 1h0m122-1h0m27 0h0m24 7h0m63-2h0m4 2h0m1-7h0m2 1h0m11 8h0m45-4h0m15 3h0m88 0h0m25-1h0m-556 5h0m28 4h0m2 2h0m0-2h0m1 2h0m5-2h0m25-1h0m81 4h0m103-9h0m6 7h0m53-6h0m11-1h0m2 9h0m68-2h0m39-1h0m35-4h0m6 6h0m5-4h0m87-4h0m-552 18h0m22-7h0m13 7h0m5 0h0m31-5h0m26-2h0m26 5h0m3 3h0m37-5h0m1 3h0m8-1h0m4-7h0m24 8h0m94-2h0m33 0h0m38-1h0m51 3h0m20-7h0m6 3h0m9-3h0m30 5h0m7 2h0m50-7h0m23 4h0m-559 15h0m54-7h0m16 0h0m44-1h0m6 4h0m42 2h0m81 0h0m8 0h0m7-1h0m7 2h0m3-7h0m74 1h0m58 4h0m2 2h0m48-1h0m4-2h0m8-3h0m9 6h0m18-7h0m27 7h0m30-2h0m9-6h0m-546 14h0m21 4h0m12-7h0m11 6h0m14-2h0m84-3h0m1 5h0m2-6h0m70 4h0m64 4h0m10-4h0m7 3h0m48-8h0m39 4h0m10 0h0m46 1h0m29-3h0m5 5h0m20-4h0m-510 13h0m25 0h0m15-1h0m49 1h0m19-1h0m16 2h0m64-2h0m106 2h0m72 0h0m81 1h0m119-1h0m-564 10h0m50-8h0m96 9h0m35-1h0m22-2h0m111 0h0m26-4h0m14 4h0m48 2h0m29-4h0m119-4h0m-554 20h0m65-1h0m12-4h0m1-5h0m4 8h0m8 0h0m23 1h0m29 0h0m15 1h0m7-4h0m40-3h0m25 6h0m51 0h0m3-3h0m54-1h0m15 4h0m2-4h0m17-5h0m18 0h0m4 10h0m37-3h0m38-1h0m60 1h0m26 2h0m10-2h0m-534 8h0m41 2h0m6 0h0m16-7h0m172 6h0m1-3h0m1 3h0m10-5h0m47 6h0m7-5h0m19 3h0m-349 15h0m16-4h0m1 3h0m18-8h0m51 0h0m99-1h0m20 3h0m43 4h0m28 1h0m18-6h0m16 8h0m103-10h0m14 5h0m1 1h0m1 2h0m33-6h0m4 2h0m4 5h0m31-4h0m11 4h0m7-4h0m4 1h0m3-4h0m5 0h0m-517 10h0m6 0h0m4 0h0m19 1h0m26 3h0m15 1h0m94-3h0m106 2h0m6 0h0m62-5h0m42 3h0m76-3h0m2 8h0m3-4h0m47-3h0m16 1h0m-538 14h0m70-6h0m49 1h0m7 7h0m8-5h0m20-4h0m28 7h0m26-4h0m42-3h0m4 8h0m30-1h0m26-4h0m7-2h0m36 0h0m49 6h0m46 3h0m3-5h0m8-4h0m9-1h0m13 9h0m32 0h0m22-6h0m24 4h0m-441 10h0m89 0h0m71-3h0m8 1h0m46-4h0m15 0h0m6 7h0m43 1h0m111-6h0m-477 11h0m235 2h0m23 3h0m12-9h0m16 3h0m17-2h0m41 2h0m121 6h0m-489 3h0m77-1h0m13-1h0m18 3h0m21 4h0m5-7h0m36 1h0m35 5h0m9-5h0m20 8h0m46 0h0m15 1h0m14 0h0m18-3h0m64 2h0m113-1h0m-505 6h0m24-1h0m38-2h0m15 6h0m10-1h0m14-1h0m13-3h0m36 6h0m9-3h0m13-3h0m7-1h0m43 1h0m36-1h0m3 5h0m21 1h0m147-6h0m17 5h0m10 2h0m13 0h0m19-5h0m19-2h0m-514 11h0m11 6h0m122-4h0m117-1h0m70 1h0m2 6h0m14-5h0m37 0h0m52-1h0m7 1h0m70-5h0m49 9h0m-543 8h0m72 1h0m24-3h0m188-2h0m10-3h0m23 4h0m16-1h0m63 0h0m5 2h0m6-3h0m6 4h0m13 4h0m32-8h0m62 2h0m16-3h0m-507 11h0m26 4h0m29 2h0m9-2h0m30 4h0m5-6h0m43 2h0m22-2h0m53 2h0m75 2h0m42-4h0m47 4h0m72-3h0m45 0h0m15-5h0m0 9h0m-534 1h0m45 6h0m8 2h0m30-2h0m24-3h0m6 0h0m16-2h0m43 2h0m10 5h0m44-8h0m31 7h0m18-4h0m10 0h0m4 3h0m141 1h0m111 2h0m-528 4h0m3 6h0m0-9h0m22 7h0m67-6h0m2 1h0m55 8h0m3-1h0m105-7h0m10 7h0m139-1h0m8-6h0m13 3h0m46-3h0m25 6h0m52-6h0m-553 17h0m35-1h0m53-1h0m38-6h0m6 7h0m1-5h0m30 0h0m10 1h0m11 5h0m24-3h0m114-1h0m51 0h0m2-4h0m1 0h0m83 5h0m19-4h0m4 0h0m5-1h0m1 5h0m9 0h0m45 1h0m0-5h0m-549 17h0m2-7h0m25 0h0m19 3h0m68-1h0m36 0h0m21-1h0m11-2h0m2 6h0m5 0h0m46-5h0m30 7h0m39-1h0m12 1h0m33-4h0m2 0h0m14 0h0m13-5h0m86 1h0m18 0h0m49 8h0m-535 3h0m16 5h0m52-2h0m77-2h0m28 6h0m7-4h0m7-3h0m20 2h0m108 0h0m2-1h0m16 6h0m5-2h0m8-3h0m1 4h0m33-7h0m15 3h0m52-1h0m36 6h0m1 0h0m13 0h0m39-8h0m20 4h0m5 0h0m0 3h0m-566 2h0m9 2h0m23 0h0m41 2h0m2-2h0m12 0h0m12 6h0m79 1h0m67 1h0m44-1h0m37-6h0m18 3h0m22-3h0m1 3h0m27-1h0m22 1h0m7-5h0m52 4h0m51-4h0m-536 15h0m48 1h0m5-6h0m38 2h0m15-1h0m21-1h0m11 1h0m143-1h0m26 0h0m25 9h0m42-7h0m86 3h0m1-1h0m1 3h0m31-6h0m6-2h0m50 5h0m2 0h0m23 4h0m-565 5h0m20-1h0m94-1h0m94 1h0m0-1h0m12 0h0m59 1h0m27 5h0m71-3h0m12 2h0m23 0h0m60-1h0m97 3h0m-577 11h0m8-5h0m7 3h0m83-8h0m35 9h0m1-5h0m29 3h0m19 2h0m3-6h0m1 0h0m31-1h0m20 0h0m31 4h0m17 2h0m3-1h0m23 2h0m23-7h0m24 2h0m6 0h0m40-3h0m117 3h0m3 1h0m22 1h0m-475 10h0m13-2h0m32-2h0m21 8h0m35-9h0m4 9h0m16-6h0m1 4h0m19 2h0m26-8h0m83 0h0m20 1h0m14 0h0m9 6h0m10 0h0m58-1h0m56-4h0m10 5h0m14-1h0m38-3h0m21 1h0m-555 5h0m49-1h0m12 6h0m22-1h0m15-4h0m31 4h0m17 2h0m34-7h0m29 4h0m75-3h0m3 0h0m38 8h0m4-2h0m11-3h0m19-4h0m24 2h0m20 3h0m6 5h0m3-7h0m18 7h0m18-5h0m12 1h0m32 4h0m27-3h0m-512 4h0m10 3h0m105-2h0m10 5h0m29-3h0m48-4h0m71 1h0m17 6h0m43 1h0m6-7h0m26 6h0m1 0h0m7 2h0m42-5h0m3-1h0m44 4h0m29-6h0m6 6h0m53-6h0m-547 18h0m23-4h0m16 1h0m22-3h0m4-3h0m5 0h0m64 8h0m6-5h0m34 3h0m23 0h0m11 2h0m1-1h0m38-4h0m39 5h0m17 1h0m55-2h0m14 1h0m43-3h0m10-3h0m22 3h0m10-4h0m15 6h0m1-1h0m4-4h0m15 6h0m31-8h0m22 2h0m-524 17h0m15-7h0m0 1h0m24 3h0m1 2h0m33-3h0m35 5h0m27-6h0m45 6h0m62-1h0m17-3h0m4-4h0m3 7h0m23 0h0m8-1h0m25-1h0m39-1h0m19 3h0m19-3h0m12-5h0m57 5h0m7-3h0m30 5h0m22 1h0m-550 5h0m13 0h0m10 2h0m1-2h0m25 2h0m10 1h0m107 3h0m11 0h0m48-1h0m7-4h0m64 0h0m21 4h0m9-1h0m57-3h0m45 0h0m43-2h0m2 3h0m32-3h0m3-2h0m-525 14h0m25 1h0m3-6h0m13 7h0m4-5h0m30 1h0m15 6h0m2-2h0m13 2h0m61-6h0m27-2h0m18 0h0m10 7h0m71-4h0m5-3h0m10 3h0m82 5h0m11 1h0m33-5h0m35 4h0m75-9h0m4 6h0m-523 5h0m92 8h0m79-7h0m84 2h0m23-3h0m29 9h0m15-3h0m21 2h0m11-8h0m25-1h0m22 1h0m13 2h0m46-2h0m19 9h0m21-4h0m-444 5h0m49 5h0m2 1h0m7-3h0m9 1h0m48 0h0m29 1h0m39-3h0m80 6h0m36 0h0m45-8h0m65 6h0m2-1h0m68-2h0m-544 9h0m11 5h0m29-7h0m26 7h0m17-8h0m13 5h0m239 0h0m50 2h0m5 2h0m44-2h0m112 1h0m1-4h0m-503 14h0m41-5h0m81 0h0m31 1h0m137 2h0m26-6h0m60 2h0m14 4h0m113-3h0m-493 15h0m40-3h0m49 0h0m35 3h0m88 2h0m33-9h0m118 3h0m110-1h0m-531 14h0m23-6h0m50 6h0m19-7h0m114 9h0m7-7h0m127-1h0m94 3h0m28 5h0m12-4h0m29 4h0m-343 3h0m105 7h0m45-5h0m179-2h0m0 2h0m-262 15h0m284 1h0m-425 5h0m12-5h0m355 1h0m26 3h0m75 1h0m-495 15h0m116-5h0m69-4h0m82 0h0m89 8h0m7-7h0m-431 13h0m3 4h0m58 0h0m8-3h0m252-1h0m186 3h0m-370 5h0m20-2h0m33 5h0m69 1h0m75-2h0m27 3h0m94-2h0m26 0h0m4-5h0m-494 16h0m15 11h0m321 0h0m131 1h0m28-8h0m47 8h0m-258 6h0m28-4h0m132 4h0m49 2h0m-280 12h0m202-3h0m-252 7h0m325 7h0m-321 2h0m73 3h0m-236 6h0m156 4h0" stroke="#000" stroke-width="22.5" stroke-linecap="round" fill="none"/></g>
<path d="M906.1 1073.5V1204.5H1356.9" stroke="#2b2b2b" stroke-width="1.7" stroke-linejoin="round" fill="none"/>
<text x="844.3" y="1265.7" font-size="22" text-anchor="middle" fill="#1a1a1a">BTLA</text>
<g transform="translate(949.8,1374.9)"><path d="M32.3 -0.0C32.4 -0.2 33.9 -0.6 32.8 -1.4C31.6 -2.2 28.5 -3.3 25.4 -4.6C22.2 -5.9 17.1 -7.7 13.8 -9.2C10.6 -10.8 7.7 -12.3 5.8 -13.8C3.8 -15.4 3.0 -16.9 2.3 -18.5C1.7 -20.0 1.7 -21.5 1.8 -23.1C2.0 -24.6 2.5 -25.4 3.2 -27.7C3.9 -30.0 5.4 -33.8 6.0 -36.9C6.6 -40.0 6.9 -43.1 6.9 -46.1C6.9 -49.2 6.5 -52.3 6.0 -55.4C5.5 -58.4 4.8 -61.5 4.2 -64.6C3.5 -67.7 2.8 -70.0 2.3 -73.8C1.8 -77.7 1.6 -80.1 1.4 -87.7C1.2 -95.2 1.0 -114.0 0.9 -119.3L-0.9 -119.3C-1.0 -114.0 -1.2 -95.2 -1.4 -87.7C-1.6 -80.1 -1.8 -77.7 -2.3 -73.8C-2.8 -70.0 -3.5 -67.7 -4.2 -64.6C-4.8 -61.5 -5.5 -58.4 -6.0 -55.4C-6.5 -52.3 -6.9 -49.2 -6.9 -46.1C-6.9 -43.1 -6.6 -40.0 -6.0 -36.9C-5.4 -33.8 -3.9 -30.0 -3.2 -27.7C-2.5 -25.4 -2.0 -24.6 -1.8 -23.1C-1.7 -21.5 -1.7 -20.0 -2.3 -18.5C-3.0 -16.9 -3.8 -15.4 -5.8 -13.8C-7.7 -12.3 -10.6 -10.8 -13.8 -9.2C-17.1 -7.7 -22.2 -5.9 -25.4 -4.6C-28.5 -3.3 -31.6 -2.2 -32.8 -1.4C-33.9 -0.6 -32.4 -0.2 -32.3 -0.0Z" fill="#F8766D" stroke="#333" stroke-width="1.15" stroke-linejoin="round"/><path transform="scale(.1)" d="m192-1194h0m-311 34h0m-25 39h0m429 17h0m-404 18h0m183-9h0m-2 38h0m95 15h0m11 20h0m-154 10h0m221 73h0m-415 10h0m53 6h0m223 20h0m68 5h0m68-5h0m-60 22h0m-456 12h0m77 2h0m-1 7h0m380 14h0m-459 36h0m353 0h0m-113 7h0m-52 20h0m99 10h0m19 14h0m58 2h0m-264 11h0m72-3h0m155 13h0m-44 2h0m-264 11h0m145 2h0m88-1h0m-246 24h0m67-3h0m71-3h0m245 4h0m138 4h0m-470 5h0m98 15h0m22 1h0m121-5h0m61-5h0m72 1h0m-430 12h0m80 4h0m50 2h0m84-6h0m87-1h0m85 7h0m67 0h0m-435 3h0m137 8h0m171-9h0m155 0h0m-197 13h0m99 5h0m68-7h0m49-1h0m38 4h0m-303 15h0m-189 6h0m24-4h0m125 4h0m293 3h0m-473 9h0m32-5h0m218-2h0m45 13h0m71-1h0m72 5h0m-122 17h0m11-1h0m-203 13h0m20 0h0m129-1h0m42-2h0m-11 7h0m129 7h0m79-8h0m11 7h0m-388 9h0m51-6h0m-140 12h0m121 7h0m236-5h0m9 3h0m5-3h0m139-1h0m-436 14h0m26 1h0m7-7h0m342 8h0m3-7h0m-408 11h0m232-2h0m212 2h0m-518 16h0m116-6h0m374 4h0m-509 12h0m73-4h0m33-1h0m346-1h0m-414 10h0m168 2h0m12 1h0m203 1h0m57 1h0m51 2h0m-424 13h0m51-1h0m20-1h0m122 7h0m43-3h0m3 4h0m1-9h0m71 8h0m9-5h0m45 0h0m83-2h0m-400 10h0m352 0h0m-487 18h0m39-2h0m4 0h0m38-1h0m18-1h0m271 2h0m-402 5h0m32 2h0m157-2h0m161-1h0m-91 16h0m53 1h0m-307 5h0m45 0h0m16 6h0m360-7h0m-245 16h0m283-5h0m69-2h0m-354 15h0m7-5h0m58 3h0m200-3h0m-428 17h0m282-3h0m-2 7h0m151 5h0m-300 5h0m23 5h0m67-4h0m24 0h0m11-1h0m94 0h0m53 6h0m-352 9h0m164-7h0m92 1h0m140 2h0m54 3h0m-515 12h0m488 0h0m18-7h0m-288 12h0m151 6h0m11-8h0m-92 14h0m113 3h0m32-4h0m80 6h0m29 0h0m-507 5h0m22 11h0m90 2h0m16 0h0m100 0h0m298-8h0m-213 25h0m-140 7h0m170 0h0m12 3h0m13 23h0m147-3h0m-499 5h0m65 5h0m361 19h0m-481 241h0m1 0h0m0 0h0m7 0h0m2 0h0m2 0h0m6 0h0m3 0h0m4 0h0m4 0h0m1 0h0m3 0h0m0 0h0m2 0h0m3 0h0m7 0h0m2 0h0m1 0h0m10 0h0m1 0h0m3 0h0m12 0h0m9 0h0m0 0h0m3 0h0m0 0h0m6 0h0m5 0h0m0 0h0m7 0h0m4 0h0m1 0h0m8 0h0m5 0h0m0 0h0m19 0h0m9 0h0m0 0h0m1 0h0m2 0h0m23 0h0m11 0h0m8 0h0m14 0h0m5 0h0m1 0h0m9 0h0m2 0h0m1 0h0m7 0h0m3 0h0m2 0h0m6 0h0m0 0h0m5 0h0m4 0h0m23 0h0m14 0h0m0 0h0m9 0h0m0 0h0m2 0h0m0 0h0m24 0h0m8 0h0m1 0h0m16 0h0m2 0h0m6 0h0m1 0h0m2 0h0m2 0h0m10 0h0m14 0h0m4 0h0m4 0h0m2 0h0m13 0h0m2 0h0m3 0h0m5 0h0m23 0h0m16 0h0m4 0h0m1 0h0m6 0h0m11 0h0m3 0h0m5 0h0m9 0h0m5 0h0m3 0h0m0 0h0m8 0h0m1 0h0m3 0h0m5 0h0m4 0h0m3 0h0m4 0h0m1 0h0m4 0h0m1 0h0m6 0h0m7 0h0m0 0h0m0 0h0m1 0h0m1 0h0m20 0h0" stroke="#000" stroke-width="22.5" stroke-linecap="round" fill="none"/></g>
<g transform="translate(1022.5,1374.9)"><path d="M0 0V-91.6" stroke="#333" stroke-width="1.4"/><path d="M-32.5 0H32.5" stroke="#333" stroke-width="1"/><path d="M-29.0 0H29.0" stroke="#000" stroke-width="3.36" stroke-linecap="round"/><path transform="scale(.1)" d="m-258-582h0m150 39h0m174 124h0" stroke="#000" stroke-width="22.5" stroke-linecap="round" fill="none"/></g>
<g transform="translate(1095.1,1374.9)"><path d="M0 0V-116.5" stroke="#333" stroke-width="1.4"/><path d="M-32.5 0H32.5" stroke="#333" stroke-width="1"/><path d="M-29.0 0H29.0" stroke="#000" stroke-width="2.08" stroke-linecap="round"/><path transform="scale(.1)" d="m127-1128h0m89 1h0m37 11h0m-457 8h0m266 49h0m-105 15h0m-78 16h0m62-4h0m-192 60h0m169 0h0m49 51h0m120 11h0m17 35h0m126 5h0m-175 42h0m61 50h0m-197 114h0m119 106h0m42 21h0m-196 47h0m358 15h0m-499 23h0m193 37h0m199 10h0m-174 7h0m-208 52h0m171-2h0m-46 92h0" stroke="#000" stroke-width="22.5" stroke-linecap="round" fill="none"/></g>
<g transform="translate(1167.8,1374.9)"><path transform="scale(.1)" d="m-257 0h0m12 0h0m1 0h0m23 0h0m20 0h0m6 0h0m8 0h0m32 0h0m5 0h0m9 0h0m7 0h0m32 0h0m1 0h0m7 0h0m32 0h0m17 0h0m6 0h0m14 0h0m2 0h0m51 0h0m16 0h0m4 0h0m8 0h0m7 0h0m15 0h0m5 0h0m10 0h0m0 0h0m8 0h0m0 0h0m23 0h0m5 0h0m47 0h0m0 0h0m3 0h0m30 0h0m11 0h0m5 0h0m1 0h0m3 0h0m11 0h0m23 0h0m5 0h0m6 0h0m15 0h0" stroke="#000" stroke-width="22.5" stroke-linecap="round" fill="none"/></g>
<g transform="translate(1240.4,1374.9)"><path d="M0 0V-40.4" stroke="#333" stroke-width="1.4"/><path d="M-32.5 0H32.5" stroke="#333" stroke-width="1"/><path d="M-29.0 0H29.0" stroke="#000" stroke-width="2.56" stroke-linecap="round"/><path transform="scale(.1)" d="m-281-394h0" stroke="#000" stroke-width="22.5" stroke-linecap="round" fill="none"/></g>
<g transform="translate(1313.1,1374.9)"><path d="M0 0V-115.8" stroke="#333" stroke-width="1.4"/><path d="M-32.5 0H32.5" stroke="#333" stroke-width="1"/><path d="M-29.0 0H29.0" stroke="#000" stroke-width="2.88" stroke-linecap="round"/><path transform="scale(.1)" d="m-88-975h0m354 7h0m-184 8h0m128 3h0m-397 81h0m393 21h0m-277 67h0m64 72h0m39 109h0m-12 102h0m-196 12h0m-21 62h0m418 100h0m-45 16h0m-9 69h0m82 29h0m-241 14h0m182 16h0" stroke="#000" stroke-width="22.5" stroke-linecap="round" fill="none"/></g>
<path d="M906.1 1249.9V1380.9H1356.9" stroke="#2b2b2b" stroke-width="1.7" stroke-linejoin="round" fill="none"/>
<text x="844.3" y="1442.1" font-size="22" text-anchor="middle" fill="#1a1a1a">TNFRSF14</text>
<g transform="translate(949.8,1551.3)"><path d="M32.3 -0.0C32.4 -0.2 34.1 -0.6 32.8 -1.4C31.4 -2.2 27.8 -3.3 24.2 -4.6C20.7 -5.9 14.6 -7.7 11.5 -9.2C8.5 -10.8 6.5 -12.3 5.8 -13.8C5.0 -15.4 5.8 -16.5 6.9 -18.5C8.1 -20.4 11.2 -23.1 12.7 -25.4C14.1 -27.7 15.1 -30.0 15.7 -32.3C16.3 -34.6 16.4 -36.9 16.1 -39.2C15.9 -41.5 15.3 -43.4 14.3 -46.1C13.3 -48.8 11.6 -52.3 10.4 -55.4C9.2 -58.4 7.9 -61.5 6.9 -64.6C6.0 -67.7 5.3 -70.4 4.6 -73.8C3.9 -77.3 3.2 -81.9 2.8 -85.4C2.3 -88.8 2.1 -92.0 1.8 -94.6C1.6 -97.2 1.5 -100.0 1.4 -101.0L-1.4 -101.0C-1.5 -100.0 -1.6 -97.2 -1.8 -94.6C-2.1 -92.0 -2.3 -88.8 -2.8 -85.4C-3.2 -81.9 -3.9 -77.3 -4.6 -73.8C-5.3 -70.4 -6.0 -67.7 -6.9 -64.6C-7.9 -61.5 -9.2 -58.4 -10.4 -55.4C-11.6 -52.3 -13.3 -48.8 -14.3 -46.1C-15.3 -43.4 -15.9 -41.5 -16.1 -39.2C-16.4 -36.9 -16.3 -34.6 -15.7 -32.3C-15.1 -30.0 -14.1 -27.7 -12.7 -25.4C-11.2 -23.1 -8.1 -20.4 -6.9 -18.5C-5.8 -16.5 -5.0 -15.4 -5.8 -13.8C-6.5 -12.3 -8.5 -10.8 -11.5 -9.2C-14.6 -7.7 -20.7 -5.9 -24.2 -4.6C-27.8 -3.3 -31.4 -2.2 -32.8 -1.4C-34.1 -0.6 -32.4 -0.2 -32.3 -0.0Z" fill="#F8766D" stroke="#333" stroke-width="1.15" stroke-linejoin="round"/><path transform="scale(.1)" d="m92-1010h0m-4 12h0m155 31h0m-432 16h0m236 2h0m35 8h0m110 7h0m75 21h0m-166 9h0m3 5h0m-345 11h0m202 3h0m-203 4h0m108 1h0m-50 13h0m407-1h0m-484 24h0m246 4h0m-218 11h0m187 1h0m125 3h0m1-1h0m150-7h0m-320 15h0m314-7h0m-344 16h0m87 1h0m97-1h0m92-4h0m-186 13h0m-173 32h0m336-6h0m-230 15h0m26-3h0m17 7h0m190-10h0m7 4h0m41 16h0m8-4h0m80 20h0m-299 5h0m-126 18h0m227 1h0m-82 8h0m70 0h0m109 0h0m-430 5h0m470 7h0m-306 0h0m214 7h0m153-2h0m-418 10h0m406-3h0m-530 17h0m37-2h0m27-6h0m25 3h0m150 2h0m9-3h0m154-1h0m44 3h0m-437 7h0m21 0h0m52 1h0m7 3h0m183 0h0m43 2h0m8-3h0m95 0h0m-420 15h0m148-2h0m249-4h0m-391 9h0m38 0h0m7 1h0m58 3h0m124-1h0m79-5h0m216 8h0m-530 8h0m37-5h0m97 2h0m78 3h0m6 1h0m94-7h0m15 3h0m-321 16h0m303-4h0m24-1h0m20-1h0m24-2h0m62 1h0m-254 14h0m22 1h0m84-6h0m174 6h0m-423 3h0m200 9h0m173-3h0m134 9h0m14-4h0m-485 8h0m27 4h0m60 2h0m33 0h0m12-1h0m4 3h0m63-2h0m-231 9h0m39 5h0m61-2h0m11-3h0m165 3h0m180-1h0m58-7h0m-491 13h0m17-3h0m68 4h0m8 2h0m324-2h0m-381 8h0m6 0h0m60 8h0m38-8h0m1 4h0m6-1h0m82 1h0m36-2h0m12-2h0m69 3h0m95 4h0m33-1h0m-463 9h0m92-3h0m-150 11h0m44-2h0m144 6h0m23-3h0m78 3h0m102-2h0m-326 11h0m3-7h0m22 2h0m29-3h0m208 8h0m149-2h0m-361 7h0m7 3h0m146 4h0m24-3h0m114 2h0m87-7h0m18 2h0m2-3h0m10 8h0m-525 2h0m16 0h0m144 3h0m36-1h0m102-2h0m-277 9h0m111 2h0m144 1h0m36-2h0m18 7h0m203-6h0m-401 14h0m54 1h0m153-2h0m33-4h0m27 4h0m134-2h0m-541 11h0m21 5h0m100 1h0m105-3h0m106 0h0m148-5h0m20 6h0m7-8h0m-487 10h0m78 10h0m362-3h0m36-6h0m-453 11h0m61 5h0m234 2h0m51-8h0m43 4h0m-434 8h0m18 1h0m399 2h0m-409 12h0m7-4h0m30 6h0m8-4h0m48-4h0m57 7h0m64-7h0m19 4h0m174 2h0m-329 9h0m110 0h0m24-7h0m62 8h0m156-7h0m-415 13h0m62-1h0m14 1h0m35 5h0m287-7h0m-79 9h0m41 9h0m161-5h0m-527 6h0m15 0h0m28 2h0m56 1h0m25 4h0m212-1h0m28 3h0m-392 2h0m18 7h0m34-6h0m12 1h0m8-3h0m59 1h0m20 4h0m3 0h0m179 4h0m28-2h0m8-4h0m111 4h0m-472 11h0m0-5h0m40 6h0m28-6h0m29 6h0m33-2h0m56-4h0m27 5h0m227-1h0m76-4h0m38 0h0m3-2h0m-544 11h0m85-1h0m134 7h0m226-8h0m26 3h0m-386 8h0m13 6h0m19-1h0m116-3h0m13-4h0m202 9h0m76 1h0m-412 3h0m30-2h0m2 7h0m104-7h0m48 2h0m27 2h0m48-4h0m-398 14h0m49-1h0m15 6h0m249-8h0m74 7h0m101-2h0m56-4h0m-511 14h0m18 2h0m47-9h0m60 8h0m73 1h0m107-3h0m118-1h0m-201 15h0m206-3h0m12 2h0m17-6h0m11 2h0m-333 15h0m149-5h0m104 5h0m-257 9h0m133-7h0m29 1h0m149-3h0m90 4h0m-462 15h0m210-9h0m125 6h0m-368 8h0m64 1h0m108-4h0m17 8h0m26-2h0m28-7h0m63 1h0m-204 19h0m343-4h0m-517 10h0m53-2h0m32 4h0m20-6h0m35-2h0m367 6h0m23 3h0m-487 7h0m365-4h0m3 7h0m6-3h0m5 3h0m36-7h0m3 5h0m-303 11h0m19 2h0m204-2h0m148-1h0m37-7h0m-436 12h0m325 2h0m-290 14h0m46 11h0m123-5h0m66 14h0m-265 6h0m135 7h0m-275 164h0m22 0h0m4 0h0m7 0h0m4 0h0m5 0h0m3 0h0m54 0h0m8 0h0m6 0h0m27 0h0m0 0h0m22 0h0m8 0h0m40 0h0m0 0h0m1 0h0m6 0h0m15 0h0m17 0h0m24 0h0m45 0h0m9 0h0m2 0h0m13 0h0m4 0h0m13 0h0m7 0h0m15 0h0m9 0h0m20 0h0m11 0h0m4 0h0m18 0h0m1 0h0m30 0h0m1 0h0m15 0h0m4 0h0m12 0h0m2 0h0m3 0h0m13 0h0m1 0h0m29 0h0m3 0h0m4 0h0m2 0h0m7 0h0m7 0h0" stroke="#000" stroke-width="22.5" stroke-linecap="round" fill="none"/></g>
<g transform="translate(1022.5,1551.3)"><path d="M32.3 -0.0C32.1 -0.3 34.3 -0.9 31.1 -1.8C28.0 -2.8 18.1 -4.3 13.4 -5.8C8.6 -7.2 4.6 -9.0 2.5 -10.4C0.5 -11.7 1.1 -11.7 0.9 -13.8C0.7 -16.0 1.2 -17.7 1.4 -23.1C1.6 -28.5 2.0 -38.4 2.1 -46.1C2.2 -53.8 2.0 -61.5 1.8 -69.2C1.7 -76.9 1.4 -84.7 1.2 -92.3C0.9 -99.9 0.5 -111.1 0.3 -114.9L-0.3 -114.9C-0.5 -111.1 -0.9 -99.9 -1.2 -92.3C-1.4 -84.7 -1.7 -76.9 -1.8 -69.2C-2.0 -61.5 -2.2 -53.8 -2.1 -46.1C-2.0 -38.4 -1.6 -28.5 -1.4 -23.1C-1.2 -17.7 -0.7 -16.0 -0.9 -13.8C-1.1 -11.7 -0.5 -11.7 -2.5 -10.4C-4.6 -9.0 -8.6 -7.2 -13.4 -5.8C-18.1 -4.3 -28.0 -2.8 -31.1 -1.8C-34.3 -0.9 -32.1 -0.3 -32.3 -0.0Z" fill="#B79F00" stroke="#333" stroke-width="1.15" stroke-linejoin="round"/><path d="M-29.0 0H29.0" stroke="#000" stroke-width="3.36" stroke-linecap="round"/><path transform="scale(.1)" d="m-163-1086h0m288-7h0m-324 33h0m478 2h0m-407 3h0m184 1h0m223 1h0m-391 17h0m98 9h0m46-4h0m141-1h0m80 3h0m-184 5h0m-230 11h0m42 5h0m230-3h0m162 7h0m-491 19h0m434-9h0m16 6h0m29-2h0m6 3h0m6 1h0m-519 11h0m265-5h0m26 0h0m38-2h0m-357 17h0m449-5h0m98-2h0m-314 14h0m214-3h0m63 4h0m-362 9h0m100-3h0m1 6h0m9 0h0m-29 7h0m11-2h0m-145 8h0m102 2h0m49 2h0m24-5h0m30-2h0m7 5h0m20 3h0m-308 3h0m154-1h0m62 6h0m-203 13h0m144-4h0m23-3h0m96-1h0m-173 16h0m26 3h0m36 3h0m129 7h0m26-9h0m20 7h0m17 1h0m43-3h0m-365 13h0m49 0h0m298-8h0m4 1h0m16 7h0m75-8h0m-332 14h0m12-3h0m57 4h0m218-4h0m75 2h0m-452 10h0m147 6h0m79-5h0m-286 8h0m16 5h0m104 1h0m119-4h0m17-3h0m27 2h0m43 0h0m120 3h0m-405 8h0m7 1h0m23-1h0m39 5h0m251-6h0m98 5h0m33-6h0m48 6h0m-207 11h0m38 0h0m110 0h0m19-1h0m21-1h0m-490 8h0m16-5h0m3 6h0m44-3h0m28-1h0m1 6h0m97-1h0m132-4h0m56 3h0m13-6h0m6-1h0m20 4h0m40 1h0m-499 12h0m84-5h0m22 6h0m32 1h0m154-8h0m10 0h0m-250 15h0m89-4h0m46 6h0m55 0h0m182-3h0m77 4h0m-499 4h0m12 2h0m34-1h0m14-1h0m4-2h0m102 1h0m10 4h0m56-1h0m4 5h0m43-8h0m71 0h0m45 4h0m59-3h0m10 6h0m69-1h0m-543 7h0m19 3h0m15-7h0m9 3h0m20-3h0m28 3h0m104-3h0m135 6h0m29-5h0m6 7h0m16-4h0m17 1h0m65-3h0m-412 13h0m19 0h0m9-5h0m33 4h0m28-3h0m90-1h0m42 8h0m96-8h0m17 0h0m37 6h0m92 3h0m15-1h0m14 1h0m-473 7h0m17 0h0m131-3h0m346 2h0m-520 9h0m50 2h0m74 1h0m30-6h0m2 6h0m36-4h0m24 5h0m18-7h0m16 1h0m11 0h0m39 0h0m9-1h0m154-1h0m19 7h0m39 0h0m-547 7h0m125 1h0m46-5h0m63 0h0m75 7h0m14-8h0m14 7h0m48-4h0m90 1h0m6-2h0m-509 13h0m1 1h0m21-1h0m83-3h0m4-2h0m24 2h0m29 6h0m20 0h0m7 0h0m21 0h0m12-3h0m75-1h0m8 4h0m20-6h0m33 2h0m25 0h0m61 1h0m73-5h0m26 10h0m19-2h0m12-4h0m-467 14h0m90-5h0m36 5h0m37-5h0m9 3h0m14-2h0m0-2h0m41 4h0m55-4h0m13 2h0m37 3h0m6 3h0m-391 7h0m64-2h0m10 2h0m26-4h0m5-3h0m25 9h0m1-2h0m8-1h0m43 4h0m30-1h0m14-8h0m7 8h0m20-7h0m22 2h0m33 4h0m30 0h0m86 2h0m20-8h0m81 6h0m-570 8h0m2 2h0m2-4h0m1 5h0m15 0h0m28-2h0m33 1h0m50-2h0m98 0h0m16 4h0m25-4h0m2 1h0m12 1h0m65 1h0m39-3h0m4-4h0m34 0h0m31-1h0m5 7h0m17 1h0m15-8h0m9 6h0m-487 6h0m20 1h0m27 3h0m1-5h0m5 6h0m38-2h0m15-5h0m2-1h0m22 10h0m26-8h0m17 8h0m46-1h0m17-5h0m16 2h0m25 1h0m54 1h0m32 2h0m10-10h0m18 9h0m35-6h0m31 5h0m25 1h0m7-4h0m36 3h0m-523 6h0m26 5h0m4-4h0m5 4h0m8 1h0m8-5h0m13-1h0m12-2h0m56 0h0m30-1h0m16 3h0m13 6h0m6-8h0m57 5h0m36 3h0m14-6h0m5 5h0m49-8h0m5 0h0m14 1h0m15 6h0m7-3h0m49-3h0m4 5h0m9 2h0m14 1h0m21-5h0m-518 10h0m34 1h0m9-4h0m11 5h0m20-3h0m28 5h0m24-2h0m5-4h0m37 3h0m30 0h0m15-4h0m13-1h0m73 5h0m85-4h0m3 5h0m17 3h0m52-3h0m43-2h0m55-3h0m15 1h0m-566 16h0m1-7h0m28 2h0m85 0h0m21 4h0m19-3h0m19-1h0m16 6h0m1-5h0m120 4h0m3-4h0m22 2h0m2-3h0m25 2h0m33-3h0m39-1h0m11-1h0m39 2h0m13 5h0m15-4h0m22 2h0m28 0h0m-565 10h0m31-5h0m0 4h0m3-2h0m2 3h0m49 4h0m11-6h0m96 0h0m6-2h0m16 2h0m7 1h0m63-3h0m5 0h0m1 5h0m7-7h0m27 0h0m22 2h0m20-1h0m51 3h0m15-1h0m15 1h0m16 6h0m2-9h0m16 7h0m28 2h0m15-6h0m3-3h0m5 2h0m-507 10h0m25 7h0m26-5h0m36 2h0m72-3h0m45 1h0m0 4h0m28-1h0m0 1h0m28-6h0m9-3h0m12 6h0m17-5h0m22 6h0m88-5h0m2-2h0m35 1h0m8 4h0m16-2h0m6 0h0m18 4h0m22-5h0m24 2h0m7 4h0m-575 8h0m9-4h0m16 6h0m7-5h0m6 0h0m75 1h0m35-3h0m7 8h0m20 0h0m12 0h0m9-6h0m63 5h0m15-2h0m11-1h0m1 1h0m2-3h0m5 2h0m36-1h0m31-2h0m3 4h0m4 3h0m51-7h0m32-2h0m7 7h0m15-4h0m61 4h0m1-7h0m9 1h0m6 5h0m1-4h0m6-2h0m1 0h0m-531 10h0m2 8h0m15-6h0m13 8h0m32-3h0m3-1h0m11-4h0m8 8h0m3-1h0m1 1h0m24-7h0m105 7h0m19-9h0m21 5h0m57-5h0m24 6h0m34 2h0m18 1h0m8-8h0m38 0h0m38 3h0m3-2h0m5 1h0m16 0h0m19 0h0m0-2h0m21-1h0m5 9h0m-521 8h0m4 0h0m17-2h0m20 0h0m4 1h0m27-6h0m15 8h0m24-5h0m60-1h0m15 1h0m36 5h0m10-8h0m48 4h0m13 0h0m52 0h0m69-4h0m38 0h0m7 4h0m-492 12h0m37-3h0m17 3h0m12-5h0m54 3h0m34 3h0m13-4h0m1-1h0m2-2h0m24 7h0m44-7h0m16 4h0m20 3h0m8 0h0m22-5h0m62-2h0m38 2h0m87 4h0m9 1h0m17-5h0m6 3h0m28-1h0m-539 13h0m34 0h0m0-7h0m15 9h0m23-3h0m1 2h0m43 0h0m0-9h0m0 9h0m30-2h0m23 0h0m4-1h0m49 0h0m4-1h0m42 1h0m10-2h0m33 6h0m29-3h0m38 1h0m5 1h0m48-2h0m22-2h0m16 3h0m30-6h0m1 0h0m8 3h0m34 2h0m-502 12h0m90 0h0m13 1h0m29-7h0m12-2h0m7 7h0m27-7h0m21 2h0m2 0h0m8-1h0m21-2h0m6 8h0m9-3h0m13 5h0m29-4h0m14-4h0m6 5h0m2-1h0m36-4h0m6 8h0m7-8h0m20 4h0m12 3h0m90-6h0m22 2h0m-568 12h0m2-6h0m16 3h0m27 4h0m6-8h0m2 3h0m5 3h0m31 2h0m11-2h0m35 3h0m25-7h0m56 2h0m5 4h0m22-3h0m13 4h0m4-8h0m55 8h0m4-1h0m5 0h0m6 0h0m17 0h0m0-1h0m17 1h0m19-1h0m20-1h0m3 2h0m23 1h0m45-8h0m81 3h0m10-3h0m-443 19h0m10-10h0m31 6h0m22 2h0m66-1h0m14 1h0m57-1h0m7-5h0m3 5h0m13-4h0m19 2h0m15-3h0m42 0h0m3-1h0m10 3h0m0 4h0m2-1h0m75-2h0m6 0h0m20 1h0m9-1h0m6-2h0m7-2h0m2 2h0m12 2h0m1 0h0m-499 10h0m24-3h0m4 7h0m24-1h0m6-4h0m31-1h0m28 6h0m31-7h0m51-1h0m0 3h0m7-2h0m26 4h0m22-5h0m33 6h0m53-4h0m8-3h0m4 7h0m46-4h0m8 1h0m65 4h0m19-5h0m3 6h0m9 1h0m-534 2h0m36 7h0m9 0h0m6-6h0m3-1h0m11 2h0m57-2h0m4-1h0m7 5h0m31-3h0m3 0h0m9 4h0m50-1h0m7-4h0m18-1h0m26 4h0m33 2h0m2-2h0m68 2h0m52-2h0m23 5h0m65-8h0m1 4h0m-516 12h0m0-6h0m33-2h0m25 3h0m27 0h0m4 3h0m10 3h0m19-1h0m22 1h0m21-6h0m3 6h0m25 1h0m8-1h0m3-4h0m10-1h0m29-4h0m1 3h0m8 5h0m10-8h0m15 2h0m44-1h0m13 0h0m36 0h0m5 2h0m6-3h0m11 6h0m1-4h0m47 7h0m30-3h0m11-6h0m0 7h0m5-5h0m43 3h0m-533 13h0m36 0h0m18-5h0m58 5h0m0-4h0m40 6h0m2-8h0m50 8h0m7-5h0m5-2h0m22 0h0m11 1h0m20 3h0m58-4h0m2 0h0m3-2h0m3 1h0m80 4h0m22-5h0m13 5h0m6-2h0m4 2h0m12 0h0m20-2h0m42-3h0m-509 18h0m6-1h0m2-7h0m9 0h0m23 9h0m17-1h0m16-6h0m6-1h0m19 0h0m64-2h0m21 8h0m8-2h0m2 4h0m16-1h0m44-7h0m15-2h0m10 0h0m30 9h0m1-1h0m20 0h0m19-4h0m6 2h0m28-3h0m68 4h0m16-6h0m41 4h0m-566 7h0m2 3h0m9-2h0m33 5h0m16-1h0m17 2h0m27-3h0m80-4h0m18-1h0m4 0h0m58 8h0m32-3h0m22-2h0m17 4h0m6 1h0m17-2h0m19-3h0m0 6h0m31-4h0m10-3h0m21 4h0m52-2h0m49 0h0m20-3h0m-549 15h0m1-2h0m68 4h0m11-6h0m24 3h0m2 2h0m7-6h0m18 6h0m5 1h0m32-2h0m9 2h0m66-5h0m31-3h0m42 5h0m27 1h0m14-6h0m32 6h0m41 0h0m3-1h0m36 2h0m40-8h0m5 8h0m-532 10h0m56 1h0m18-3h0m32-5h0m107 4h0m16-3h0m42 8h0m29-8h0m3 5h0m28-5h0m59 1h0m15 6h0m2 0h0m6-1h0m2-7h0m18 3h0m5-3h0m10 1h0m11-2h0m25 6h0m48-5h0m25 7h0m16-3h0m0-4h0m-547 11h0m6 2h0m19 6h0m11-3h0m8-4h0m75 5h0m11-1h0m4-2h0m62-2h0m15 4h0m1-6h0m17 5h0m12-4h0m20 4h0m33-4h0m24 7h0m6-8h0m3 3h0m48 3h0m50 3h0m14-4h0m7-2h0m10-2h0m31-1h0m18 6h0m18-1h0m8-2h0m2-2h0m7 5h0m2-3h0m-564 14h0m26 2h0m45-2h0m30-1h0m11-5h0m17 4h0m8-3h0m9 1h0m19 4h0m38 0h0m14-1h0m4-3h0m29 3h0m14 2h0m22 0h0m26 0h0m33-6h0m14 0h0m24 1h0m49 0h0m2-2h0m36 6h0m-450 5h0m8-1h0m23 4h0m15 1h0m18-1h0m165 2h0m12 2h0m3-5h0m29 3h0m0 1h0m10-3h0m31-4h0m108 2h0m24-4h0m18 7h0m1-2h0m15-2h0m1 6h0m5-8h0m9 2h0m24 1h0m4-4h0m6 7h0m-537 5h0m27-1h0m1 8h0m15-5h0m5-4h0m20 3h0m2-2h0m12 6h0m20 0h0m85-6h0m46 2h0m5 4h0m1-5h0m22 0h0m12-2h0m28 7h0m36-5h0m2 7h0m18-6h0m26-2h0m2 0h0m53 8h0m42-5h0m13-2h0m12 7h0m-521 3h0m37-1h0m51 0h0m25 6h0m13-5h0m44 2h0m61-3h0m16 6h0m27-1h0m36 3h0m25-5h0m9 3h0m27-4h0m11 7h0m10-2h0m8-3h0m37 2h0m10-6h0m20 0h0m59 4h0m24-1h0m12 0h0m11 5h0m0-3h0m-559 14h0m70-3h0m96-3h0m11-2h0m3 2h0m2 4h0m27-4h0m4-2h0m20 6h0m15-1h0m18-7h0m36 9h0m2-9h0m31 10h0m103-1h0m53-3h0m0-2h0m70-1h0m-563 11h0m8-3h0m21-1h0m49 7h0m29 0h0m3 2h0m6-6h0m18 4h0m2-1h0m24 0h0m37 1h0m24 0h0m4-7h0m16 9h0m23-4h0m10 4h0m14 0h0m53 0h0m27-8h0m2 7h0m3-6h0m29 2h0m12 5h0m3-6h0m22 3h0m13 3h0m13-3h0m3 0h0m18 4h0m2-5h0m7 3h0m11-4h0m46-3h0m-525 19h0m29-10h0m42 9h0m43-3h0m74 1h0m10-3h0m34 2h0m25-1h0m6-1h0m12 6h0m8-1h0m9 1h0m19-8h0m10 5h0m37-3h0m23-3h0m20 2h0m10 6h0m2-3h0m21 1h0m33-7h0m16 6h0m8-4h0m-506 14h0m7-2h0m2-2h0m5-2h0m9 1h0m1-1h0m25 9h0m6-1h0m10-2h0m42 1h0m31 1h0m15-7h0m38 0h0m1 0h0m5 7h0m3 1h0m36-7h0m47-1h0m11 9h0m3-8h0m0 2h0m1 1h0m44 2h0m10-7h0m44 8h0m31 0h0m9 1h0m10-6h0m28 2h0m20 4h0m28 0h0m22-9h0m5 2h0m-570 11h0m27 5h0m36-1h0m48-3h0m23-3h0m10 0h0m7 5h0m32 1h0m16-6h0m7 8h0m17-9h0m22 6h0m14-3h0m2 2h0m60-1h0m31 4h0m29-5h0m51 7h0m38-9h0m47 1h0m41 7h0m-550 4h0m18 0h0m24 0h0m15-2h0m29 5h0m12-3h0m28 0h0m13 0h0m13-1h0m44 3h0m40 0h0m6 5h0m29-2h0m26 0h0m1-1h0m8-3h0m17 6h0m15-5h0m33 1h0m39-4h0m33 1h0m39-1h0m38-1h0m4 1h0m4 4h0m-531 14h0m3-9h0m9 3h0m40-1h0m3 3h0m23-3h0m24 4h0m6-1h0m2-2h0m2 4h0m2-2h0m18 0h0m11 2h0m42 1h0m6-2h0m26 3h0m28-4h0m27-5h0m8 8h0m3-5h0m17 6h0m14-6h0m12 2h0m5 2h0m3-1h0m17-6h0m35 6h0m1-3h0m4-2h0m11 4h0m52-5h0m6 6h0m5-7h0m17 6h0m3-4h0m43 4h0m16 3h0m-547 3h0m13 1h0m36 4h0m7-6h0m13 8h0m88-7h0m17 3h0m16 0h0m40 2h0m10-4h0m6 7h0m5-10h0m44 2h0m17 6h0m9-7h0m20 6h0m23-5h0m5 7h0m10-1h0m50-1h0m8-2h0m12-2h0m21-2h0m48 5h0m35-6h0m13 8h0m4-1h0m3-3h0m-537 11h0m12 0h0m25 2h0m85-3h0m3 4h0m8-5h0m38-2h0m10 4h0m18 1h0m9-1h0m37-4h0m30 3h0m28-2h0m10 7h0m11-3h0m4-5h0m17 3h0m3 3h0m12-5h0m4 6h0m7-5h0m2 4h0m36-1h0m21 2h0m6-1h0m31-2h0m4-2h0m1 3h0m9 4h0m35-3h0m15-1h0m-546 14h0m37-7h0m48 6h0m16-3h0m21-1h0m68 3h0m6-4h0m51-1h0m44 6h0m28 0h0m6-2h0m5 0h0m20-6h0m37 4h0m48 4h0m11-8h0m26 4h0m24 2h0m33 2h0m11-1h0m-513 3h0m44 8h0m12 0h0m14-6h0m11-1h0m76 2h0m7 1h0m15-4h0m16 6h0m1-5h0m8 1h0m15 4h0m4-3h0m11 6h0m28-1h0m16 0h0m34-3h0m19-3h0m20 5h0m42-1h0m24-3h0m69 0h0m19 4h0m-540 8h0m15 0h0m4 0h0m44 1h0m9 2h0m53-4h0m7 5h0m35-4h0m35 1h0m16 3h0m20-1h0m13 0h0m73-6h0m13 6h0m2-2h0m13-4h0m7 2h0m8-3h0m9 5h0m25-6h0m0 8h0m27-1h0m4-4h0m63 6h0m41-8h0m16 3h0m2-3h0m-444 11h0m7 5h0m26-6h0m9 4h0m2-1h0m44 3h0m10-5h0m5 7h0m13-8h0m39 3h0m1 1h0m25 1h0m45-4h0m30 0h0m27 2h0m3 2h0m22-6h0m33 7h0m53-7h0m4 2h0m4 2h0m7 3h0m9-3h0m6-3h0m16 5h0m-564 9h0m3-1h0m25 1h0m10-2h0m52 2h0m15 2h0m2-4h0m78 0h0m19 0h0m1 4h0m9-5h0m5 6h0m3 1h0m23-8h0m11 2h0m46-2h0m48-2h0m26 4h0m11 4h0m5-6h0m12 8h0m3-5h0m45-1h0m12 1h0m34-3h0m7 0h0m27-2h0m-530 10h0m8 0h0m20 1h0m21 5h0m18 2h0m2-4h0m36 3h0m5-1h0m2 3h0m7-7h0m30 7h0m11 0h0m2-3h0m31 0h0m43-1h0m18 1h0m20 1h0m77-7h0m76 6h0m79-2h0m4 3h0m0 0h0m1 0h0m9-4h0m32-3h0m3 4h0m5-1h0m3-1h0m-560 8h0m14 3h0m4 1h0m17 2h0m43 1h0m51-6h0m0 7h0m27 1h0m4-8h0m4 8h0m8-3h0m45-4h0m38 3h0m16 4h0m7-5h0m22-3h0m11 2h0m1 6h0m3-3h0m50 3h0m6-7h0m8 1h0m5 1h0m31-2h0m24-1h0m36 7h0m43 1h0m19-7h0m24 2h0m-565 11h0m1 2h0m39-3h0m19-3h0m69 4h0m21 3h0m4-7h0m66 1h0m8-1h0m7 1h0m20 6h0m119-4h0m29 0h0m8 5h0m5-6h0m12 2h0m20 0h0m10 1h0m7-2h0m32-1h0m15 6h0m-514 3h0m12 5h0m48 2h0m11 1h0m89-8h0m7-2h0m15 7h0m38 0h0m32-2h0m31 1h0m8 3h0m53-5h0m7-2h0m6 7h0m17-2h0m2 2h0m21-7h0m20 7h0m7-7h0m18 1h0m28-1h0m24 7h0m6-9h0m29 1h0m18 3h0m16 4h0m-529 3h0m158 1h0m77 3h0m13-4h0m27 4h0m22 0h0m49-2h0m24-3h0m3 4h0m5 3h0m26-6h0m56 1h0m30 3h0m38 1h0m-559 11h0m93-5h0m153 0h0m81 6h0m29-5h0m173-2h0m28 2h0m-480 16h0m50-2h0m80 2h0m15-4h0m6-3h0m5 4h0m117-6h0m213 9h0m-148 1h0m-253 16h0m154 3h0m251-6h0" stroke="#000" stroke-width="22.5" stroke-linecap="round" fill="none"/></g>
<g transform="translate(1095.1,1551.3)"><path d="M32.3 -0.0C32.3 -0.2 33.8 -0.6 32.3 -1.4C30.8 -2.2 26.5 -3.3 23.1 -4.6C19.6 -5.9 14.7 -7.7 11.5 -9.2C8.4 -10.8 5.8 -12.1 4.2 -13.8C2.5 -15.6 2.2 -17.7 1.8 -19.6C1.5 -21.5 2.0 -22.9 2.3 -25.4C2.6 -27.9 3.3 -31.1 3.7 -34.6C4.0 -38.1 4.3 -42.7 4.4 -46.1C4.5 -49.6 4.4 -52.3 4.2 -55.4C3.9 -58.4 3.3 -61.5 3.0 -64.6C2.7 -67.7 2.3 -70.4 2.1 -73.8C1.8 -77.3 1.7 -82.3 1.6 -85.4C1.5 -88.4 1.4 -91.1 1.4 -92.3L-1.4 -92.3C-1.4 -91.1 -1.5 -88.4 -1.6 -85.4C-1.7 -82.3 -1.8 -77.3 -2.1 -73.8C-2.3 -70.4 -2.7 -67.7 -3.0 -64.6C-3.3 -61.5 -3.9 -58.4 -4.2 -55.4C-4.4 -52.3 -4.5 -49.6 -4.4 -46.1C-4.3 -42.7 -4.0 -38.1 -3.7 -34.6C-3.3 -31.1 -2.6 -27.9 -2.3 -25.4C-2.0 -22.9 -1.5 -21.5 -1.8 -19.6C-2.2 -17.7 -2.5 -15.6 -4.2 -13.8C-5.8 -12.1 -8.4 -10.8 -11.5 -9.2C-14.7 -7.7 -19.6 -5.9 -23.1 -4.6C-26.5 -3.3 -30.8 -2.2 -32.3 -1.4C-33.8 -0.6 -32.3 -0.2 -32.3 -0.0Z" fill="#00BA38" stroke="#333" stroke-width="1.15" stroke-linejoin="round"/><path transform="scale(.1)" d="m162-940h0m14 1h0m18 20h0m-461 42h0m393-6h0m-180 12h0m339 1h0m-489 21h0m345-2h0m-3 9h0m-303 19h0m7 1h0m284 2h0m61 25h0m-137 6h0m195-5h0m-380 16h0m-123 8h0m-26 22h0m231-5h0m227 4h0m-186 12h0m273 8h0m-516 14h0m99-9h0m120 6h0m56 5h0m-175 21h0m105-1h0m189 16h0m-148 6h0m154 3h0m43-4h0m77-1h0m-157 12h0m-344 15h0m154 1h0m67-8h0m-167 14h0m7-3h0m255 12h0m107-3h0m-227 20h0m-230 69h0m16 5h0m59 0h0m151 0h0m82-1h0m19 3h0m-331 5h0m435 6h0m-336 7h0m3 7h0m46 4h0m350 22h0m29-4h0m-266 9h0m-208 16h0m130 1h0m241 19h0m124-6h0m-261 10h0m-286 18h0m278 1h0m-98 28h0m246 7h0m21-3h0m-53 18h0m-244 10h0m-119 13h0m87 2h0m1-6h0m103 6h0m61-3h0m-159 13h0m82-3h0m-9 5h0m304 6h0m-517 22h0m101-8h0m-6 15h0m223-3h0m-125 10h0m-150 17h0m408 14h0m21 0h0m77 3h0m-471 12h0m104-5h0m117 7h0m-284 4h0m446 9h0m-430 16h0m308-6h0m14 14h0m99 11h0m-351 8h0m160-2h0m-26 9h0m-96 16h0m-126 166h0m15 0h0m3 0h0m6 0h0m13 0h0m7 0h0m15 0h0m3 0h0m19 0h0m8 0h0m9 0h0m7 0h0m6 0h0m12 0h0m6 0h0m6 0h0m8 0h0m12 0h0m26 0h0m12 0h0m14 0h0m22 0h0m10 0h0m26 0h0m14 0h0m39 0h0m10 0h0m6 0h0m8 0h0m6 0h0m9 0h0m20 0h0m39 0h0m6 0h0m15 0h0m1 0h0m2 0h0m7 0h0m6 0h0m27 0h0m14 0h0m12 0h0m13 0h0m21 0h0m2 0h0" stroke="#000" stroke-width="22.5" stroke-linecap="round" fill="none"/></g>
<g transform="translate(1167.8,1551.3)"><path d="M32.3 -0.0C32.4 -0.2 33.6 -0.6 32.8 -1.4C31.9 -2.2 29.8 -3.1 27.2 -4.6C24.6 -6.1 20.2 -8.3 17.3 -10.4C14.4 -12.5 11.3 -15.2 9.7 -17.3C8.0 -19.4 7.8 -21.0 7.4 -23.1C6.9 -25.2 6.8 -27.7 6.9 -30.0C7.1 -32.3 7.9 -34.6 8.3 -36.9C8.7 -39.2 9.2 -41.1 9.2 -43.8C9.3 -46.5 9.3 -49.2 8.8 -53.1C8.3 -56.9 6.9 -62.7 6.2 -66.9C5.6 -71.1 5.2 -74.6 4.8 -78.4C4.5 -82.3 4.3 -86.1 3.9 -90.0C3.6 -93.8 3.0 -98.3 2.8 -101.5C2.5 -104.7 2.4 -107.7 2.3 -108.9L-2.3 -108.9C-2.4 -107.7 -2.5 -104.7 -2.8 -101.5C-3.0 -98.3 -3.6 -93.8 -3.9 -90.0C-4.3 -86.1 -4.5 -82.3 -4.8 -78.4C-5.2 -74.6 -5.6 -71.1 -6.2 -66.9C-6.9 -62.7 -8.3 -56.9 -8.8 -53.1C-9.3 -49.2 -9.3 -46.5 -9.2 -43.8C-9.2 -41.1 -8.7 -39.2 -8.3 -36.9C-7.9 -34.6 -7.1 -32.3 -6.9 -30.0C-6.8 -27.7 -6.9 -25.2 -7.4 -23.1C-7.8 -21.0 -8.0 -19.4 -9.7 -17.3C-11.3 -15.2 -14.4 -12.5 -17.3 -10.4C-20.2 -8.3 -24.6 -6.1 -27.2 -4.6C-29.8 -3.1 -31.9 -2.2 -32.8 -1.4C-33.6 -0.6 -32.4 -0.2 -32.3 -0.0Z" fill="#00BFC4" stroke="#333" stroke-width="1.15" stroke-linejoin="round"/><path transform="scale(.1)" d="m-27-1031h0m146 14h0m-272 34h0m264 49h0m59 13h0m91 27h0m-22 14h0m-489 10h0m422 73h0m-79 16h0m-325 19h0m71 89h0m444 3h0m-181 18h0m-134 42h0m25 42h0m23 7h0m-183 13h0m-16 5h0m78 5h0m-162 23h0m225 21h0m297 13h0m-234 48h0m268 48h0m-534 385h0m8 0h0m14 0h0m15 0h0m48 0h0m29 0h0m1 0h0m7 0h0m32 0h0m28 0h0m91 0h0m33 0h0m22 0h0m28 0h0m16 0h0m5 0h0m14 0h0m33 0h0m59 0h0m21 0h0" stroke="#000" stroke-width="22.5" stroke-linecap="round" fill="none"/></g>
<g transform="translate(1240.4,1551.3)"><path d="M32.3 -0.0C32.3 -0.2 34.4 -0.6 32.3 -1.4C30.2 -2.2 23.5 -3.5 19.6 -4.6C15.8 -5.7 11.8 -6.7 9.2 -8.1C6.7 -9.4 4.6 -11.1 4.2 -12.7C3.7 -14.2 5.0 -15.6 6.5 -17.3C7.9 -19.0 10.9 -21.0 12.7 -23.1C14.5 -25.2 16.3 -27.5 17.3 -30.0C18.3 -32.5 18.9 -35.4 18.9 -38.1C18.9 -40.8 18.3 -43.3 17.3 -46.1C16.3 -49.0 14.2 -52.3 12.7 -55.4C11.1 -58.4 9.5 -61.1 8.1 -64.6C6.7 -68.1 5.2 -72.3 4.2 -76.1C3.1 -80.0 2.4 -83.5 1.8 -87.7C1.3 -91.8 0.9 -98.8 0.7 -101.0L-0.7 -101.0C-0.9 -98.8 -1.3 -91.8 -1.8 -87.7C-2.4 -83.5 -3.1 -80.0 -4.2 -76.1C-5.2 -72.3 -6.7 -68.1 -8.1 -64.6C-9.5 -61.1 -11.1 -58.4 -12.7 -55.4C-14.2 -52.3 -16.3 -49.0 -17.3 -46.1C-18.3 -43.3 -18.9 -40.8 -18.9 -38.1C-18.9 -35.4 -18.3 -32.5 -17.3 -30.0C-16.3 -27.5 -14.5 -25.2 -12.7 -23.1C-10.9 -21.0 -7.9 -19.0 -6.5 -17.3C-5.0 -15.6 -3.7 -14.2 -4.2 -12.7C-4.6 -11.1 -6.7 -9.4 -9.2 -8.1C-11.8 -6.7 -15.8 -5.7 -19.6 -4.6C-23.5 -3.5 -30.2 -2.2 -32.3 -1.4C-34.4 -0.6 -32.3 -0.2 -32.3 -0.0Z" fill="#619CFF" stroke="#333" stroke-width="1.15" stroke-linejoin="round"/><path d="M-29.0 0H29.0" stroke="#000" stroke-width="2.08" stroke-linecap="round"/><path transform="scale(.1)" d="m-138-960h0m377 1h0m-275 19h0m8-1h0m55 0h0m58 15h0m-115 9h0m316 0h0m-486 24h0m379 8h0m71 13h0m-384 42h0m123 4h0m-115 6h0m-104 12h0m80 2h0m57 0h0m3-1h0m126-1h0m100 1h0m-402 27h0m419 12h0m92 0h0m-225 9h0m4-2h0m-309 15h0m85-4h0m154-3h0m103 6h0m1-8h0m-347 16h0m55-2h0m155 4h0m25-2h0m20 4h0m162-7h0m-384 25h0m277-5h0m-255 10h0m307 6h0m163-3h0m-471 5h0m154 4h0m34 0h0m230 4h0m-454 5h0m59 5h0m5-1h0m120-6h0m44 1h0m129 1h0m54 13h0m-359 9h0m1-4h0m284-2h0m178 3h0m-504 13h0m389 3h0m123-2h0m-523 6h0m53 5h0m39-5h0m145 3h0m52 0h0m64-1h0m12-4h0m76-1h0m12 8h0m80-6h0m-483 13h0m65-3h0m60 5h0m35 3h0m343-6h0m-568 11h0m23-4h0m5 7h0m41-7h0m87 9h0m21-1h0m136-1h0m41 0h0m37-2h0m-364 12h0m11-5h0m137-1h0m86 6h0m2-3h0m95 0h0m19-2h0m115 2h0m-487 14h0m48-1h0m1 0h0m59-5h0m113 3h0m6-1h0m23 3h0m40-1h0m4-1h0m26-5h0m183 6h0m51 0h0m-556 4h0m17 2h0m41 1h0m35 1h0m55-1h0m136-2h0m264 1h0m-502 9h0m32 1h0m74 3h0m233 0h0m53 1h0m16-6h0m6 3h0m31 6h0m36 0h0m-491 6h0m45-4h0m405-2h0m16 9h0m-359 1h0m46 3h0m55-1h0m34 6h0m219-6h0m-387 17h0m23-8h0m227 5h0m46 1h0m108-2h0m12-3h0m22 2h0m-524 8h0m33 7h0m110 1h0m106-10h0m4 4h0m10 5h0m79-5h0m58 6h0m17-8h0m11 5h0m32-5h0m28-2h0m-479 19h0m165-4h0m302-3h0m25 6h0m24-7h0m-428 11h0m1 1h0m22 6h0m60-5h0m16-2h0m16-1h0m40 1h0m16-2h0m192 1h0m69 2h0m-522 12h0m28 2h0m50-5h0m111 2h0m90-1h0m78 5h0m-365 6h0m167-2h0m17 7h0m63-4h0m85 2h0m18-4h0m5 2h0m82-1h0m18 0h0m27 1h0m15-3h0m19-1h0m-479 17h0m3-3h0m16 5h0m133-7h0m63-3h0m84 1h0m61 0h0m18 1h0m106 2h0m10-4h0m-457 17h0m41 3h0m12-8h0m10 6h0m170 1h0m44 0h0m39-3h0m100 1h0m-488 13h0m117-6h0m15 2h0m205-3h0m100-2h0m51 2h0m51 6h0m-489 3h0m399 2h0m-394 9h0m30 1h0m45-2h0m23 8h0m35-1h0m106-7h0m5 4h0m7-1h0m24 2h0m68-2h0m35 4h0m105-2h0m-380 11h0m170-1h0m53 3h0m21-9h0m44 5h0m-224 13h0m18-9h0m19 7h0m104-4h0m31-1h0m59 8h0m34-2h0m23 0h0m-477 12h0m40-5h0m198 3h0m18-1h0m20 1h0m70-7h0m21 0h0m61 8h0m2-2h0m2-1h0m14 0h0m-486 10h0m8 0h0m21 3h0m15 0h0m64-3h0m63 4h0m5-1h0m83-5h0m48 4h0m6-4h0m123-3h0m48 7h0m56-7h0m-436 10h0m3 3h0m6 1h0m297 3h0m12-2h0m122-5h0m-565 10h0m15 8h0m75 1h0m27-10h0m275 2h0m55 6h0m2 2h0m53-7h0m7 7h0m-442 4h0m15 4h0m38-5h0m-13 15h0m367-6h0m74 4h0m-390 8h0m78-3h0m100 2h0m32-1h0m11 0h0m46 2h0m101-4h0m1 3h0m-474 12h0m9 3h0m59-6h0m94-1h0m45 5h0m91 4h0m13-1h0m27-9h0m43 0h0m28 5h0m-420 7h0m6 0h0m48 2h0m71 1h0m68 4h0m42-9h0m59 8h0m101 1h0m2-2h0m3 0h0m-355 5h0m65 7h0m8-1h0m3-7h0m16 5h0m42-3h0m48 2h0m59-4h0m63 6h0m42 1h0m-424 6h0m3 5h0m13-8h0m27-1h0m3 7h0m37 1h0m23-2h0m23 0h0m42-1h0m57-1h0m13 2h0m30 3h0m13-8h0m54 5h0m0-5h0m21 4h0m18-2h0m5-1h0m24 4h0m1-5h0m5 3h0m0 2h0m81 0h0m-346 8h0m19 0h0m43-3h0m100 2h0m60-1h0m47 8h0m-379 10h0m231-8h0m134 4h0m14 1h0m34-4h0m26-2h0m5 4h0m68-2h0m8 6h0m8-6h0m-453 10h0m1 0h0m21 2h0m143 4h0m12-3h0m29 0h0m69 4h0m11-5h0m17-2h0m41-2h0m65 4h0m-471 14h0m14-7h0m30 1h0m47 3h0m41-1h0m169-5h0m70 6h0m28-6h0m66 9h0m4-3h0m-430 8h0m142 4h0m104-6h0m177-1h0m-518 11h0m37 8h0m100-1h0m90-2h0m2-5h0m12 5h0m94-4h0m133 5h0m2-7h0m-417 15h0m187-4h0m138 7h0m30-7h0m9 7h0m147-9h0m-503 14h0m10 3h0m-39 5h0m189 7h0m12-9h0m14 8h0m19 1h0m48-1h0m2-4h0m13 3h0m102-2h0m37-2h0m75 6h0m-480 8h0m39 2h0m91-7h0m36-2h0m93 8h0m48-1h0m47 0h0m-91 8h0m37 2h0m0 0h0m-280 5h0m284 5h0m101 2h0m55-7h0m-250 12h0m31-2h0m102 5h0m125 3h0m-456 2h0m172 1h0m303 2h0m-374 11h0m-29 6h0" stroke="#000" stroke-width="22.5" stroke-linecap="round" fill="none"/></g>
<g transform="translate(1313.1,1551.3)"><path d="M32.3 -0.0C32.3 -0.2 34.6 -0.6 32.3 -1.4C30.0 -2.2 22.5 -3.5 18.5 -4.6C14.4 -5.7 10.7 -6.7 8.1 -8.1C5.5 -9.4 3.7 -11.0 2.8 -12.7C1.8 -14.4 2.0 -16.3 2.3 -18.5C2.6 -20.6 3.8 -22.7 4.6 -25.4C5.4 -28.1 6.5 -31.5 6.9 -34.6C7.4 -37.7 7.6 -40.8 7.4 -43.8C7.2 -46.9 6.4 -50.0 5.8 -53.1C5.2 -56.1 4.3 -58.8 3.7 -62.3C3.0 -65.7 2.3 -69.6 1.8 -73.8C1.4 -78.0 1.2 -80.2 0.9 -87.7C0.7 -95.2 0.3 -113.6 0.2 -118.8L-0.2 -118.8C-0.3 -113.6 -0.7 -95.2 -0.9 -87.7C-1.2 -80.2 -1.4 -78.0 -1.8 -73.8C-2.3 -69.6 -3.0 -65.7 -3.7 -62.3C-4.3 -58.8 -5.2 -56.1 -5.8 -53.1C-6.4 -50.0 -7.2 -46.9 -7.4 -43.8C-7.6 -40.8 -7.4 -37.7 -6.9 -34.6C-6.5 -31.5 -5.4 -28.1 -4.6 -25.4C-3.8 -22.7 -2.6 -20.6 -2.3 -18.5C-2.0 -16.3 -1.8 -14.4 -2.8 -12.7C-3.7 -11.0 -5.5 -9.4 -8.1 -8.1C-10.7 -6.7 -14.4 -5.7 -18.5 -4.6C-22.5 -3.5 -30.0 -2.2 -32.3 -1.4C-34.6 -0.6 -32.3 -0.2 -32.3 -0.0Z" fill="#F564E3" stroke="#333" stroke-width="1.15" stroke-linejoin="round"/><path d="M-29.0 0H29.0" stroke="#000" stroke-width="2.40" stroke-linecap="round"/><path transform="scale(.1)" d="m-153-996h0m70-2h0m149 0h0m-190 6h0m-73 13h0m324 2h0m43-1h0m-84 8h0m167 0h0m-326 6h0m174 7h0m-261 10h0m306-2h0m142-3h0m-535 15h0m413-1h0m-239 15h0m161 1h0m170 7h0m-248 2h0m-206 12h0m439 4h0m-521 8h0m248-5h0m169 2h0m-132 16h0m27-4h0m-223 9h0m29 1h0m77 2h0m210 17h0m-153 16h0m91-7h0m103 7h0m28-5h0m-52 10h0m55 7h0m81 2h0m-411 19h0m-86 11h0m140-3h0m58 9h0m141-1h0m-266 8h0m64-5h0m81 13h0m15-3h0m-28 14h0m11-2h0m163 5h0m38-5h0m-217 15h0m48-5h0m143 2h0m-417 20h0m10-4h0m287 4h0m170-3h0m13 6h0m-441 5h0m30 2h0m72-2h0m78 1h0m5 4h0m11-1h0m261-4h0m-275 13h0m262-4h0m16 1h0m-505 15h0m70-8h0m75 0h0m93 2h0m70-1h0m29 7h0m193-4h0m3 4h0m-552 11h0m295-6h0m56 3h0m74-6h0m120 1h0m-545 15h0m23-2h0m54-3h0m132 4h0m59 4h0m18-1h0m22-4h0m125-1h0m87 4h0m-539 3h0m141 8h0m262-4h0m167-4h0m-538 9h0m72 5h0m38 3h0m34-2h0m24-2h0m125 5h0m31 0h0m95 0h0m103 0h0m-205 11h0m16-3h0m12-3h0m90-2h0m6 5h0m92 0h0m-557 11h0m27 2h0m38-2h0m39-6h0m21 3h0m8-1h0m78 2h0m22 1h0m322 0h0m-350 6h0m10-2h0m25 2h0m120 6h0m35-9h0m93 6h0m-435 13h0m45-3h0m19-2h0m5-2h0m11 5h0m87-2h0m9-5h0m142 8h0m50 1h0m7-2h0m9-5h0m54-2h0m18 7h0m40-1h0m-560 7h0m37 5h0m110-5h0m22 0h0m58 5h0m2-3h0m69-1h0m39 2h0m96 2h0m39-4h0m91 5h0m8-4h0m-444 15h0m20-7h0m99 4h0m16-2h0m33 1h0m14-4h0m144 2h0m22 1h0m7-4h0m33 0h0m52 7h0m-491 8h0m76-2h0m6-1h0m15 5h0m24-7h0m11 0h0m93 6h0m173-6h0m-325 19h0m66-7h0m216-1h0m53 6h0m18 1h0m-433 7h0m41 1h0m51-6h0m69 5h0m72-6h0m15 4h0m12 5h0m52-9h0m59 2h0m-418 8h0m6 7h0m4 0h0m12 2h0m174-8h0m35 9h0m32-1h0m0-4h0m6-1h0m0 1h0m45-1h0m5-3h0m59 3h0m-387 12h0m29 1h0m15 3h0m55 0h0m174-6h0m11-3h0m100 1h0m58 1h0m60 4h0m-393 12h0m22-5h0m16 4h0m31-8h0m6 1h0m35 1h0m119 0h0m15 5h0m104 1h0m105 0h0m-528 9h0m248-1h0m113-5h0m4-1h0m36 10h0m20-9h0m-327 15h0m5 3h0m15-7h0m78 3h0m14-2h0m27 1h0m21-3h0m27 8h0m2-7h0m220 1h0m21-1h0m-478 14h0m58-4h0m45 4h0m10 2h0m48-1h0m44-5h0m33-2h0m124 3h0m1 6h0m46-1h0m-385 2h0m88 6h0m4 1h0m8 2h0m103 0h0m113-3h0m21-2h0m90 5h0m1 1h0m-543 10h0m12-2h0m72-5h0m109 3h0m32 0h0m60-3h0m154 2h0m-406 7h0m21 0h0m23-1h0m21 7h0m20-7h0m15 3h0m24 4h0m13-2h0m3 0h0m208-2h0m16 2h0m52 0h0m7 2h0m-358 2h0m42 6h0m236 3h0m70-8h0m-422 10h0m3 8h0m52 0h0m30-2h0m10 2h0m9-4h0m39 5h0m52-3h0m71-6h0m68 2h0m19 5h0m30-5h0m51 6h0m-332 3h0m165 1h0m225 3h0m4 2h0m24-5h0m2 4h0m-548 3h0m44 10h0m50-2h0m36-1h0m15 0h0m57-4h0m129-1h0m108 5h0m77-2h0m-505 12h0m100-5h0m48-1h0m87 7h0m7-4h0m32 2h0m8 0h0m18 4h0m-288 10h0m1-4h0m4-5h0m355 0h0m5 7h0m1-4h0m100 1h0m36-3h0m-432 17h0m34-7h0m29 5h0m221 1h0m9-4h0m6 1h0m3 1h0m32 0h0m21-4h0m45 6h0m5 0h0m18-8h0m11 6h0m46-2h0m-556 14h0m16-1h0m1 3h0m14-1h0m113-4h0m56 5h0m26-2h0m6 2h0m137-1h0m77 1h0m70-6h0m13 2h0m-479 11h0m37-4h0m34 6h0m26-3h0m24-6h0m5 3h0m88 4h0m65 1h0m113-6h0m6 7h0m9-3h0m58 0h0m-421 10h0m76-4h0m11 4h0m47-2h0m86-3h0m14 9h0m24-5h0m43-2h0m4-1h0m74-2h0m35 10h0m3-3h0m35-4h0m-469 14h0m172 2h0m16 1h0m53-3h0m144-6h0m-391 11h0m21 5h0m86 1h0m66-5h0m52 6h0m13-4h0m103 0h0m73 5h0m4-2h0m-465 10h0m4-7h0m2 6h0m101-2h0m48-5h0m178 3h0m9-2h0m86 6h0m10-4h0m53 3h0m16 4h0m24-8h0m-567 11h0m23 2h0m57 3h0m39-1h0m214-1h0m52 1h0m16-4h0m15 6h0m40-6h0m-437 14h0m1-4h0m29 4h0m148-1h0m4 4h0m5-4h0m15 4h0m31-9h0m4 8h0m4 0h0m38-6h0m20 1h0m63 5h0m60-1h0m58-5h0m12 5h0m32-7h0m16 8h0m-471 3h0m106 2h0m70-3h0m23 2h0m38 2h0m-299 12h0m130-1h0m4-1h0m68 4h0m144-7h0m35 1h0m53 6h0m24-3h0m-408 9h0m169-2h0m56-2h0m21 5h0m25-2h0m160 1h0m-360 11h0m0 1h0m12-2h0m16-2h0m31 0h0m57 0h0m15 6h0m27-8h0m131 8h0m4-7h0m17 7h0m41-3h0m58-1h0m-553 15h0m30-3h0m68-1h0m97 3h0m330 0h0m10-5h0m-479 14h0m24-4h0m29 4h0m37-6h0m8 7h0m303-2h0m21-2h0m54-2h0m-367 14h0m63-3h0m14-2h0m28 3h0m12 2h0m98 2h0m44-2h0m23-3h0m97-3h0m4 5h0m12-3h0m10 4h0m-570 11h0m4 0h0m24-3h0m34-3h0m15-1h0m38 5h0m150 0h0m12 1h0m43-4h0m73-3h0m6 6h0m-393 4h0m44 4h0m50 4h0m103-1h0m51-2h0m18-2h0m113 0h0m94-1h0m77 4h0m-548 10h0m16 3h0m24-7h0m43 0h0m35 2h0m19 0h0m23-3h0m166 3h0m158 2h0m37 3h0m3-5h0m-532 13h0m21 1h0m58-7h0m79 8h0m4-1h0m156-1h0m24-3h0m44-3h0m100 4h0m-476 8h0m3 6h0m36-3h0m47-5h0m94 4h0m58 4h0m5-2h0m40 0h0m-194 7h0m135 2h0m222 3h0m33-4h0m55 5h0m-297 9h0m25-3h0m-52 11h0m348-7h0m-468 12h0" stroke="#000" stroke-width="22.5" stroke-linecap="round" fill="none"/></g>
<path d="M906.1 1426.3000000000002V1557.3H1356.9" stroke="#2b2b2b" stroke-width="1.7" stroke-linejoin="round" fill="none"/>
<text transform="translate(960.8,1575.6) rotate(-45)" font-size="22" text-anchor="end" fill="#262626">Breg</text>
<text transform="translate(1033.5,1575.6) rotate(-45)" font-size="22" text-anchor="end" fill="#262626">CMo</text>
<text transform="translate(1106.1,1575.6) rotate(-45)" font-size="22" text-anchor="end" fill="#262626">NMo</text>
<text transform="translate(1178.8,1575.6) rotate(-45)" font-size="22" text-anchor="end" fill="#262626">IMo</text>
<text transform="translate(1251.4,1575.6) rotate(-45)" font-size="22" text-anchor="end" fill="#262626">cDC1</text>
<text transform="translate(1324.1,1575.6) rotate(-45)" font-size="22" text-anchor="end" fill="#262626">cDC2</text>
<text x="1505.8" y="912.9" font-size="22" text-anchor="middle" fill="#1a1a1a">CD22</text>
<g transform="translate(1611.3,1022.0)"><path d="M32.8 -0.0C32.9 -0.3 34.0 -0.9 33.4 -1.8C32.8 -2.6 31.9 -3.5 29.2 -5.1C26.5 -6.6 21.3 -9.1 17.3 -11.0C13.3 -13.0 7.6 -14.8 5.4 -16.7C3.1 -18.6 3.4 -20.0 3.6 -22.3C3.8 -24.7 6.2 -26.8 6.6 -30.7C7.0 -34.6 6.3 -40.2 6.0 -45.6C5.7 -51.0 5.5 -57.7 4.8 -62.9C4.0 -68.0 2.2 -72.2 1.5 -76.6C0.8 -81.0 0.9 -82.1 0.7 -89.4C0.6 -96.6 0.5 -115.0 0.4 -120.1L-0.4 -120.1C-0.5 -115.0 -0.6 -96.6 -0.7 -89.4C-0.9 -82.1 -0.8 -81.0 -1.5 -76.6C-2.2 -72.2 -4.0 -68.0 -4.8 -62.9C-5.5 -57.7 -5.7 -51.0 -6.0 -45.6C-6.3 -40.2 -7.0 -34.6 -6.6 -30.7C-6.2 -26.8 -3.8 -24.7 -3.6 -22.3C-3.4 -20.0 -3.1 -18.6 -5.4 -16.7C-7.6 -14.8 -13.3 -13.0 -17.3 -11.0C-21.3 -9.1 -26.5 -6.6 -29.2 -5.1C-31.9 -3.5 -32.8 -2.6 -33.4 -1.8C-34.0 -0.9 -32.9 -0.3 -32.8 -0.0Z" fill="#F8766D" stroke="#333" stroke-width="1.15" stroke-linejoin="round"/><path transform="scale(.1)" d="m-14-1159h0m-75 149h0m-8 42h0m214 5h0m-357 47h0m-19 14h0m58 16h0m96-6h0m355-2h0m-447 17h0m180 21h0m-127 2h0m-80 23h0m388 35h0m109-3h0m-417 8h0m324 7h0m-336 18h0m116-2h0m28 19h0m-103 7h0m327 1h0m-491 17h0m550 2h0m-441 8h0m216 18h0m64-1h0m-304 8h0m184 0h0m7 4h0m40-7h0m30 5h0m48 1h0m-333 9h0m81-3h0m361-3h0m-355 11h0m16-2h0m97 9h0m-114 2h0m359 8h0m-496 18h0m183 0h0m19-6h0m183 0h0m68 4h0m98 20h0m-192 19h0m158 4h0m-396 10h0m156-3h0m127 1h0m-284 12h0m219-4h0m-335 5h0m223 2h0m-197 15h0m267 2h0m62-8h0m30 2h0m-153 7h0m71 2h0m160 0h0m-376 14h0m78-5h0m325 6h0m-302 13h0m27-10h0m177 8h0m-185 11h0m88-5h0m60 5h0m69-5h0m103 3h0m-289 5h0m139-1h0m-392 21h0m102 3h0m60 0h0m270 3h0m19 0h0m-172 6h0m103-2h0m-209 18h0m164-8h0m186 3h0m13 2h0m-527 7h0m544-2h0m9-1h0m-529 11h0m3 0h0m108 7h0m18-8h0m56 3h0m5-3h0m305 3h0m18-3h0m-551 9h0m353 0h0m113 8h0m-337 6h0m84 5h0m-112 6h0m21-5h0m-61 18h0m221-6h0m63 6h0m210-2h0m-252 6h0m92 1h0m37 6h0m-11 1h0m-422 17h0m222-2h0m54-4h0m170 3h0m118 4h0m-561 3h0m195 8h0m18-1h0m196-2h0m148 7h0m-284 15h0m-128 11h0m408-5h0m-291 25h0m4-7h0m65 1h0m162 5h0m-104 5h0m-355 7h0m102 3h0m164 3h0m136 0h0m90-1h0m-406 9h0m40 0h0m17 4h0m2-2h0m68 1h0m129-3h0m12-4h0m71 2h0m-198 12h0m69-3h0m7 7h0m86 0h0m43-3h0m23 3h0m-261 7h0m58 1h0m254-3h0m-503 14h0m106 10h0m206-2h0m147 0h0m8 0h0m-446 13h0m69-7h0m27 7h0m81-6h0m163 2h0m130-3h0m-378 18h0m161-1h0m61-3h0m1 2h0m67-3h0m47 4h0m22-3h0m-339 9h0m43 2h0m62 1h0m152 3h0m-200 1h0m120 7h0m61-7h0m-300 24h0m76 2h0m195 2h0m134 8h0m-157 11h0m28 0h0m-127 7h0m-261 160h0m9 0h0m2 0h0m2 0h0m1 0h0m0 0h0m3 0h0m2 0h0m2 0h0m2 0h0m7 0h0m1 0h0m5 0h0m16 0h0m4 0h0m5 0h0m5 0h0m3 0h0m0 0h0m7 0h0m2 0h0m6 0h0m22 0h0m3 0h0m4 0h0m3 0h0m2 0h0m5 0h0m4 0h0m7 0h0m3 0h0m8 0h0m0 0h0m1 0h0m0 0h0m1 0h0m8 0h0m2 0h0m1 0h0m1 0h0m4 0h0m2 0h0m2 0h0m2 0h0m6 0h0m30 0h0m2 0h0m4 0h0m29 0h0m0 0h0m11 0h0m6 0h0m2 0h0m1 0h0m3 0h0m4 0h0m2 0h0m11 0h0m1 0h0m12 0h0m0 0h0m3 0h0m5 0h0m12 0h0m9 0h0m4 0h0m8 0h0m6 0h0m4 0h0m3 0h0m8 0h0m4 0h0m10 0h0m0 0h0m2 0h0m0 0h0m22 0h0m6 0h0m1 0h0m3 0h0m14 0h0m5 0h0m7 0h0m11 0h0m2 0h0m2 0h0m6 0h0m4 0h0m5 0h0m5 0h0m1 0h0m0 0h0m1 0h0m10 0h0m1 0h0m3 0h0m5 0h0m3 0h0m2 0h0m11 0h0m1 0h0m7 0h0m27 0h0m3 0h0m5 0h0m13 0h0m5 0h0m4 0h0m2 0h0m4 0h0" stroke="#000" stroke-width="22.5" stroke-linecap="round" fill="none"/></g>
<g transform="translate(1684.0,1022.0)"><path d="M0 0V-64.7" stroke="#333" stroke-width="1.4"/><path d="M-32.5 0H32.5" stroke="#333" stroke-width="1"/><path d="M-29.0 0H29.0" stroke="#000" stroke-width="2.88" stroke-linecap="round"/><path transform="scale(.1)" d="m268-647h0m-57 252h0m-51 145h0m25 12h0" stroke="#000" stroke-width="22.5" stroke-linecap="round" fill="none"/></g>
<g transform="translate(1756.6,1022.0)"><path d="M32.8 -0.0C32.9 -0.3 34.6 -0.9 33.4 -1.8C32.1 -2.7 28.7 -4.1 25.3 -5.4C22.0 -6.7 16.5 -8.0 13.4 -9.5C10.3 -11.0 8.0 -12.4 6.6 -14.3C5.1 -16.2 4.9 -18.3 4.8 -20.9C4.7 -23.4 5.8 -26.8 6.0 -29.8C6.2 -32.8 6.2 -35.8 6.0 -38.7C5.7 -41.7 5.1 -44.2 4.5 -47.7C3.9 -51.2 3.0 -55.1 2.4 -59.6C1.8 -64.1 1.1 -72.0 0.9 -74.5L-0.9 -74.5C-1.1 -72.0 -1.8 -64.1 -2.4 -59.6C-3.0 -55.1 -3.9 -51.2 -4.5 -47.7C-5.1 -44.2 -5.7 -41.7 -6.0 -38.7C-6.2 -35.8 -6.2 -32.8 -6.0 -29.8C-5.8 -26.8 -4.7 -23.4 -4.8 -20.9C-4.9 -18.3 -5.1 -16.2 -6.6 -14.3C-8.0 -12.4 -10.3 -11.0 -13.4 -9.5C-16.5 -8.0 -22.0 -6.7 -25.3 -5.4C-28.7 -4.1 -32.1 -2.7 -33.4 -1.8C-34.6 -0.9 -32.9 -0.3 -32.8 -0.0Z" fill="#00BA38" stroke="#333" stroke-width="1.15" stroke-linejoin="round"/><path transform="scale(.1)" d="m-17-742h0m-203 21h0m154 4h0m-213 6h0m48 20h0m519 22h0m-149 36h0m68 33h0m-295 11h0m-108 9h0m284 22h0m56 26h0m-211 18h0m-41 13h0m68 5h0m-105 6h0m7 14h0m267-1h0m75-1h0m-156 9h0m-181 13h0m-116 9h0m326-4h0m150-2h0m-344 17h0m309-5h0m-438 19h0m370 13h0m-233 4h0m-78 14h0m337-3h0m-299 9h0m319 3h0m-48 18h0m-154 23h0m198 15h0m-174 13h0m249 8h0m-472 14h0m71 4h0m388 0h0m-228 15h0m-276 10h0m99 6h0m2-7h0m436 1h0m-501 24h0m227-4h0m-50 17h0m138-5h0m-176 24h0m201-5h0m-207 12h0m-153 13h0m349 0h0m-369 186h0m50 0h0m0 0h0m7 0h0m11 0h0m10 0h0m7 0h0m13 0h0m19 0h0m2 0h0m2 0h0m5 0h0m9 0h0m38 0h0m1 0h0m12 0h0m13 0h0m2 0h0m8 0h0m9 0h0m33 0h0m2 0h0m19 0h0m64 0h0m4 0h0m3 0h0m18 0h0m6 0h0m11 0h0m1 0h0m5 0h0m26 0h0m17 0h0m5 0h0m36 0h0m9 0h0m8 0h0m35 0h0m25 0h0m7 0h0" stroke="#000" stroke-width="22.5" stroke-linecap="round" fill="none"/></g>
<g transform="translate(1829.2,1022.0)"><path d="M0 0V-96.8" stroke="#333" stroke-width="1.4"/><path d="M-32.5 0H32.5" stroke="#333" stroke-width="1"/><path transform="scale(.1)" d="m-161-963h0m-104 963h0m17 0h0m3 0h0m38 0h0m14 0h0m42 0h0m2 0h0m0 0h0m17 0h0m18 0h0m12 0h0m11 0h0m12 0h0m36 0h0m4 0h0m5 0h0m9 0h0m6 0h0m9 0h0m18 0h0m10 0h0m5 0h0m1 0h0m16 0h0m41 0h0m3 0h0m19 0h0m9 0h0m3 0h0m19 0h0m26 0h0m1 0h0m7 0h0m5 0h0m29 0h0m41 0h0m22 0h0m2 0h0m14 0h0m2 0h0" stroke="#000" stroke-width="22.5" stroke-linecap="round" fill="none"/></g>
<g transform="translate(1901.9,1022.0)"><path d="M0 0V-45.3" stroke="#333" stroke-width="1.4"/><path d="M-32.5 0H32.5" stroke="#333" stroke-width="1"/><path d="M-29.0 0H29.0" stroke="#000" stroke-width="1.76" stroke-linecap="round"/><path transform="scale(.1)" d="m-45-385h0m-206 102h0m160 12h0" stroke="#000" stroke-width="22.5" stroke-linecap="round" fill="none"/></g>
<g transform="translate(1974.5,1022.0)"><path d="M0 0V-94.5" stroke="#333" stroke-width="1.4"/><path d="M-32.5 0H32.5" stroke="#333" stroke-width="1"/><path d="M-29.0 0H29.0" stroke="#000" stroke-width="2.56" stroke-linecap="round"/><path transform="scale(.1)" d="m265-832h0m-499 214h0m269 5h0m-177 51h0m328 40h0m-45 16h0m-10 23h0m-299 30h0m372 14h0m-283 14h0m-128 115h0m106 1h0m377 110h0m-399 16h0" stroke="#000" stroke-width="22.5" stroke-linecap="round" fill="none"/></g>
<path d="M1567.6 897.1V1028.0H2018.4" stroke="#2b2b2b" stroke-width="1.7" stroke-linejoin="round" fill="none"/>
<text x="1505.8" y="1089.3" font-size="22" text-anchor="middle" fill="#1a1a1a">PTPRC</text>
<g transform="translate(1611.3,1198.5)"><path d="M9.7 -0.0C9.4 -0.3 9.2 -0.9 8.1 -1.8C6.9 -2.8 4.0 -4.3 2.8 -5.8C1.6 -7.2 1.2 -7.5 0.9 -10.4C0.7 -13.3 0.8 -19.4 1.2 -23.1C1.5 -26.7 1.8 -29.6 2.8 -32.3C3.7 -35.0 4.3 -36.5 6.9 -39.2C9.5 -41.9 14.8 -45.4 18.5 -48.4C22.1 -51.5 26.4 -55.0 28.8 -57.7C31.3 -60.4 32.4 -62.7 33.0 -64.6C33.6 -66.5 33.4 -67.3 32.3 -69.2C31.2 -71.1 29.0 -73.8 26.5 -76.1C24.0 -78.4 20.4 -80.7 17.3 -83.0C14.2 -85.4 10.3 -88.2 8.1 -90.0C5.9 -91.7 5.1 -92.7 4.2 -93.4C3.2 -94.2 2.6 -94.4 2.3 -94.6L-2.3 -94.6C-2.6 -94.4 -3.2 -94.2 -4.2 -93.4C-5.1 -92.7 -5.9 -91.7 -8.1 -90.0C-10.3 -88.2 -14.2 -85.4 -17.3 -83.0C-20.4 -80.7 -24.0 -78.4 -26.5 -76.1C-29.0 -73.8 -31.2 -71.1 -32.3 -69.2C-33.4 -67.3 -33.6 -66.5 -33.0 -64.6C-32.4 -62.7 -31.3 -60.4 -28.8 -57.7C-26.4 -55.0 -22.1 -51.5 -18.5 -48.4C-14.8 -45.4 -9.5 -41.9 -6.9 -39.2C-4.3 -36.5 -3.7 -35.0 -2.8 -32.3C-1.8 -29.6 -1.5 -26.7 -1.2 -23.1C-0.8 -19.4 -0.7 -13.3 -0.9 -10.4C-1.2 -7.5 -1.6 -7.2 -2.8 -5.8C-4.0 -4.3 -6.9 -2.8 -8.1 -1.8C-9.2 -0.9 -9.4 -0.3 -9.7 -0.0Z" fill="#F8766D" stroke="#333" stroke-width="1.15" stroke-linejoin="round"/><path transform="scale(.1)" d="m-242-950h0m163-1h0m-93 9h0m328 1h0m49 4h0m-459 5h0m325-3h0m5 6h0m84-1h0m22 4h0m101-6h0m-511 17h0m187 0h0m83-5h0m199 4h0m-477 4h0m103 5h0m108-7h0m43-1h0m41 3h0m12 4h0m1-6h0m15 1h0m12 6h0m15-8h0m66 8h0m-430 3h0m111 7h0m0-1h0m23 0h0m21-1h0m33 3h0m98-4h0m44 2h0m60-6h0m39 8h0m-455 4h0m5 3h0m49-3h0m83-2h0m7 4h0m11 3h0m40-4h0m88-1h0m33 0h0m54 7h0m92-5h0m35-2h0m1 4h0m-486 7h0m116-2h0m105 7h0m4-8h0m6 7h0m7-6h0m44-1h0m59 8h0m1-2h0m63-2h0m12 1h0m20 3h0m66 1h0m9-6h0m31-1h0m-496 8h0m0 3h0m84 0h0m10-3h0m114 5h0m113-3h0m146 5h0m-455 6h0m84 4h0m54-5h0m88 0h0m22-2h0m128 4h0m-444 14h0m79-8h0m34 5h0m22 4h0m15-8h0m13 2h0m18-2h0m43 6h0m78 0h0m216-4h0m21-2h0m-515 18h0m256-3h0m169 3h0m43-7h0m-481 16h0m18-4h0m93 0h0m123-4h0m26 7h0m62 1h0m3-1h0m13-2h0m49-5h0m30 4h0m9 1h0m-417 6h0m28 4h0m13 1h0m6 1h0m77-3h0m2 4h0m29 0h0m68-2h0m131 1h0m5-6h0m131 7h0m7-3h0m18-2h0m12 6h0m-557 6h0m33 3h0m9-7h0m34-2h0m31 7h0m2-6h0m118 0h0m8 5h0m22-6h0m136 6h0m40 1h0m23-4h0m5 6h0m13-1h0m54-7h0m5-1h0m19 3h0m-505 11h0m9 1h0m13-4h0m69 1h0m6 0h0m67 2h0m13-3h0m7 7h0m49-8h0m41 8h0m36 0h0m105-7h0m45 7h0m43-7h0m10 4h0m-566 5h0m25 2h0m23 1h0m1 6h0m10 0h0m125-6h0m17 6h0m41-7h0m30 5h0m24-4h0m27 0h0m23-2h0m33 2h0m2-3h0m32 5h0m89 0h0m-429 13h0m27-3h0m13 4h0m20-7h0m23 7h0m97-1h0m90 1h0m5 0h0m184-6h0m4 4h0m24-2h0m16-5h0m-550 18h0m3-2h0m134 2h0m77-6h0m57 5h0m190 2h0m-431 9h0m7 2h0m38-6h0m11 4h0m43 0h0m0-1h0m93-6h0m78 5h0m112-2h0m110-3h0m-350 14h0m28 0h0m5 4h0m21-4h0m145 2h0m13-2h0m50-4h0m1 0h0m7 8h0m37-1h0m40-8h0m2 4h0m27 4h0m-530 2h0m57 9h0m6-9h0m36 2h0m100 4h0m27-5h0m29 7h0m129-2h0m12 3h0m40-8h0m79 0h0m16 5h0m-569 9h0m45-3h0m37 3h0m10 0h0m135-2h0m69 0h0m216 6h0m26-2h0m-538 11h0m33-4h0m6-2h0m5 4h0m27 2h0m76-4h0m80 5h0m33-3h0m45 0h0m0 3h0m75-7h0m11 1h0m16 3h0m1 0h0m5 4h0m58-1h0m-461 4h0m21 1h0m81 4h0m6-2h0m165-5h0m75 2h0m59 6h0m96 0h0m59-9h0m-564 13h0m41 4h0m10 0h0m16-7h0m108 10h0m172-4h0m11 0h0m13-1h0m21 1h0m55-3h0m16 1h0m30 2h0m19 3h0m13-3h0m-440 8h0m88-3h0m61-1h0m61 8h0m2 1h0m53-7h0m48-1h0m-268 16h0m156 0h0m6 2h0m47-8h0m14 2h0m81-3h0m11 9h0m7-4h0m89-1h0m-461 8h0m51-1h0m35 4h0m38-4h0m30 4h0m51-1h0m53-2h0m94 0h0m16 7h0m9-8h0m-455 15h0m47-2h0m86 3h0m95-6h0m45 6h0m96 0h0m43 1h0m77 0h0m26 1h0m11-4h0m-525 12h0m121 0h0m6 0h0m65 2h0m22-8h0m84 0h0m56 5h0m20-2h0m19 1h0m14-1h0m2-3h0m18 6h0m121 1h0m-490 6h0m43 0h0m94 5h0m18-4h0m47 3h0m22-6h0m133-1h0m0 8h0m60-4h0m59 2h0m3-1h0m-471 5h0m171 3h0m5-2h0m40 8h0m71-4h0m16-6h0m130 5h0m55-3h0m-565 18h0m18-2h0m41-3h0m46-4h0m29 3h0m81 0h0m47 6h0m79-9h0m179 2h0m-410 17h0m92-5h0m30-3h0m18 2h0m72-1h0m10 5h0m73-2h0m79-5h0m13 7h0m-492 10h0m4 0h0m104-5h0m3 4h0m79-3h0m55-1h0m-245 10h0m68 4h0m25-4h0m45 2h0m79 3h0m43-8h0m7 4h0m35 1h0m14 4h0m35 0h0m35-7h0m12 8h0m104-7h0m59-2h0m-494 17h0m37-5h0m17 4h0m117-6h0m60 6h0m5 1h0m26-1h0m98-1h0m112-5h0m11 1h0m-528 13h0m9-2h0m69 2h0m8 4h0m36-8h0m52 7h0m41-4h0m71 3h0m21 2h0m117-8h0m22 8h0m20-7h0m-489 18h0m36-9h0m33 2h0m33 5h0m41 0h0m78-2h0m38-1h0m11-2h0m19-2h0m14 7h0m4-5h0m1 0h0m160-3h0m9 3h0m-485 13h0m50-2h0m49-2h0m1-1h0m35 3h0m88 5h0m47-3h0m20-3h0m91 4h0m37-3h0m115 3h0m14-3h0m-543 8h0m35 2h0m218-3h0m145 2h0m44 0h0m19 2h0m40 4h0m-249 9h0m7 0h0m53 0h0m0-1h0m47-1h0m61 3h0m17-3h0m84-1h0m-519 14h0m9-8h0m41 4h0m79-1h0m1-1h0m38 2h0m25-4h0m6 4h0m4 4h0m49-3h0m34 1h0m275-4h0m9 0h0m-573 13h0m31-2h0m34-2h0m29-1h0m130 0h0m8 6h0m105-3h0m79 4h0m39-6h0m62 5h0m-399 11h0m42-4h0m43-1h0m8 2h0m17 2h0m93-1h0m14 2h0m6-3h0m9 1h0m15 1h0m103 2h0m27-9h0m-479 17h0m68 0h0m29-4h0m16 0h0m122-1h0m82 1h0m39 0h0m179-3h0m-521 19h0m159-5h0m1 1h0m95 1h0m10-2h0m66-3h0m197 5h0m-528 9h0m31-1h0m96 3h0m64 1h0m39 1h0m51-7h0m33-1h0m92 6h0m78-1h0m3 1h0m-398 13h0m35-9h0m4 4h0m119-2h0m20 6h0m40-9h0m1 9h0m24-8h0m2 8h0m58-6h0m44 5h0m-449 12h0m4-3h0m57-1h0m199-3h0m65 3h0m94 1h0m6 0h0m-278 5h0m109-2h0m137 4h0m-148 13h0m64 2h0m62-6h0m114 7h0m15-7h0m-454 13h0m132-2h0m235-3h0m23 8h0m37 0h0m-289 6h0m58-4h0m75 1h0m-10 15h0m41-6h0m7 29h0m27-1h0m-87 7h0m-163 25h0m255 9h0m-209 4h0m236 11h0m-124 23h0m106 5h0m-288 19h0m-122 273h0m10 0h0m37 0h0m9 0h0m10 0h0m24 0h0m8 0h0m2 0h0m29 0h0m5 0h0m1 0h0m11 0h0m1 0h0m16 0h0m1 0h0m35 0h0m36 0h0m8 0h0m5 0h0m2 0h0m7 0h0m38 0h0m12 0h0m14 0h0m4 0h0m4 0h0m19 0h0m12 0h0m7 0h0m85 0h0m1 0h0m14 0h0m6 0h0m4 0h0m20 0h0m11 0h0m6 0h0m30 0h0m11 0h0m12 0h0" stroke="#000" stroke-width="22.5" stroke-linecap="round" fill="none"/></g>
<g transform="translate(1684.0,1198.5)"><path d="M32.3 -0.0C31.9 -0.4 33.6 -1.2 30.0 -2.3C26.3 -3.5 15.1 -5.4 10.4 -6.9C5.7 -8.5 3.0 -9.6 1.6 -11.5C0.2 -13.5 1.3 -16.1 1.8 -18.5C2.4 -20.8 3.9 -22.3 5.1 -25.4C6.2 -28.5 8.0 -32.3 8.8 -36.9C9.5 -41.5 9.8 -48.1 9.7 -53.1C9.5 -58.1 8.7 -63.1 7.8 -66.9C7.0 -70.7 5.6 -73.0 4.6 -76.1C3.6 -79.2 2.5 -81.9 1.8 -85.4C1.2 -88.8 0.7 -95.0 0.5 -96.9L-0.5 -96.9C-0.7 -95.0 -1.2 -88.8 -1.8 -85.4C-2.5 -81.9 -3.6 -79.2 -4.6 -76.1C-5.6 -73.0 -7.0 -70.7 -7.8 -66.9C-8.7 -63.1 -9.5 -58.1 -9.7 -53.1C-9.8 -48.1 -9.5 -41.5 -8.8 -36.9C-8.0 -32.3 -6.2 -28.5 -5.1 -25.4C-3.9 -22.3 -2.4 -20.8 -1.8 -18.5C-1.3 -16.1 -0.2 -13.5 -1.6 -11.5C-3.0 -9.6 -5.7 -8.5 -10.4 -6.9C-15.1 -5.4 -26.3 -3.5 -30.0 -2.3C-33.6 -1.2 -31.9 -0.4 -32.3 -0.0Z" fill="#B79F00" stroke="#333" stroke-width="1.15" stroke-linejoin="round"/><rect x="-27.6" y="-70.1" width="55.2" height="45.7" fill="#000"/><path d="M-29.0 0H29.0" stroke="#000" stroke-width="3.36" stroke-linecap="round"/><path transform="scale(.1)" d="m112-950h0m-229 11h0m211 2h0m112-2h0m-148 8h0m40 4h0m-316 7h0m0 4h0m35-1h0m156-3h0m-16 14h0m215-6h0m-453 13h0m228-2h0m151 0h0m155-1h0m-441 15h0m4 1h0m99-8h0m53 2h0m39 2h0m104 3h0m-384 8h0m163-1h0m169 1h0m39-1h0m87 3h0m8-5h0m41 1h0m18 6h0m-295 1h0m112 0h0m189 9h0m-503 3h0m86 4h0m150-3h0m53 2h0m-333 6h0m22-1h0m8 1h0m60 0h0m162 5h0m7-3h0m54 3h0m251 3h0m-516 9h0m69-3h0m25-2h0m59 1h0m25 2h0m22-3h0m145 3h0m26 1h0m24 2h0m45-3h0m53-2h0m20 1h0m13 0h0m-503 13h0m36-2h0m18-7h0m82 4h0m48 2h0m15-4h0m30-1h0m9-1h0m60 9h0m1-4h0m32 2h0m69-4h0m83 6h0m3-7h0m-547 13h0m95-3h0m5-2h0m112 1h0m23 8h0m143-7h0m-320 10h0m83 8h0m31-8h0m33 6h0m22-7h0m150 2h0m13 6h0m63-9h0m72 3h0m4 0h0m15 1h0m-518 10h0m5-3h0m32 7h0m74-7h0m54 4h0m45-1h0m46-3h0m2 6h0m2-5h0m26 5h0m31-5h0m42 3h0m64 3h0m64-6h0m3 2h0m-378 10h0m46 6h0m22-2h0m78-8h0m43 0h0m51 7h0m46-1h0m99 3h0m19-6h0m18-3h0m-562 14h0m7-2h0m70 1h0m29 3h0m13-4h0m50 4h0m33-1h0m51-4h0m5 3h0m3-1h0m69 3h0m2 1h0m4 1h0m37-1h0m38-1h0m74 1h0m42-4h0m35-2h0m-352 16h0m15-6h0m63 2h0m14 0h0m8 0h0m5 0h0m99 2h0m56-2h0m29 6h0m19-2h0m34 2h0m-508 2h0m26 6h0m110-3h0m75-3h0m16 7h0m25-1h0m59-6h0m70 8h0m80-8h0m2 4h0m62 1h0m-565 11h0m1-1h0m28 0h0m1 1h0m18-3h0m38 2h0m29-4h0m25 6h0m2-6h0m30 1h0m4 7h0m16-5h0m64-3h0m19 8h0m11-4h0m12-5h0m42 7h0m5 2h0m6-10h0m6 6h0m46 3h0m20-5h0m10-2h0m46 3h0m0 2h0m50-5h0m5 0h0m0 2h0m16 3h0m7 1h0m-546 3h0m62 2h0m19 1h0m4 4h0m1-1h0m30-5h0m22-2h0m0 5h0m29 2h0m2 0h0m16-1h0m1 1h0m14 0h0m3 0h0m21-2h0m4 4h0m48-1h0m4 1h0m47-6h0m47 6h0m18 0h0m62-6h0m15 6h0m-482 3h0m10 2h0m77 3h0m13-5h0m9 3h0m10 0h0m25-3h0m23 4h0m15-2h0m3 6h0m37-1h0m28-5h0m41-2h0m9 7h0m0-6h0m30-2h0m16 1h0m133 7h0m7-8h0m16 0h0m45 4h0m19-1h0m-563 7h0m3 3h0m1 5h0m8-3h0m11-6h0m9 1h0m16 1h0m12 2h0m16 3h0m36-2h0m6-2h0m25 2h0m23-4h0m27 2h0m10 5h0m55-2h0m25 2h0m10 1h0m14-1h0m1-6h0m84 8h0m15-1h0m4-7h0m7 4h0m2-1h0m2 5h0m85-3h0m25-5h0m18-1h0m-540 16h0m0-7h0m16 10h0m33-10h0m7 2h0m32 1h0m70 6h0m16-1h0m9-1h0m49 2h0m7-5h0m4 5h0m21-2h0m16-3h0m54 5h0m2-4h0m32 1h0m23 0h0m27-4h0m6 5h0m48 0h0m17-4h0m19 3h0m3 2h0m25-1h0m4-1h0m-542 11h0m7 1h0m7-5h0m39 0h0m17 4h0m102 2h0m50 0h0m5-6h0m35 3h0m6 1h0m1-1h0m18 4h0m49-5h0m20-1h0m19-2h0m14 6h0m11-4h0m68-2h0m47 3h0m14-2h0m7 2h0m-483 6h0m42 0h0m4 3h0m4-2h0m11 1h0m97 4h0m2-4h0m15 0h0m31 2h0m5 1h0m42 0h0m13 2h0m17 0h0m4-2h0m13-3h0m27 0h0m23-1h0m36 3h0m10-2h0m6 7h0m34-9h0m3 9h0m5-3h0m9-3h0m6 2h0m30-4h0m-559 12h0m51 1h0m0 4h0m23-3h0m1-5h0m54 4h0m1 3h0m53-4h0m29 5h0m16 1h0m38-9h0m7 5h0m1-2h0m7 2h0m1-2h0m31 1h0m27-1h0m33 1h0m38-1h0m34-4h0m36 9h0m34-9h0m37 1h0m-548 11h0m53 0h0m40 2h0m15 0h0m27 3h0m12-5h0m19-1h0m16 8h0m4-8h0m16 6h0m18-1h0m3-3h0m19-2h0m29 3h0m2 1h0m40-3h0m51 6h0m12 0h0m8-2h0m2-1h0m34 5h0m4-7h0m4-3h0m58 3h0m0-2h0m27 5h0m-522 9h0m8 3h0m38 2h0m21-3h0m14-6h0m15 6h0m2 1h0m4 0h0m4-2h0m66-3h0m8-2h0m43 2h0m5-1h0m79-1h0m13 4h0m56-4h0m12 4h0m2-3h0m10 1h0m10-1h0m54 3h0m73 0h0m4 1h0m0 2h0m23-1h0m14-1h0m-568 5h0m12 6h0m4 1h0m30-2h0m15 2h0m6-3h0m3 3h0m7-7h0m20 6h0m6 2h0m14-2h0m6-1h0m32-5h0m62 6h0m72-1h0m126-1h0m1 2h0m43-4h0m41-3h0m27 4h0m-536 8h0m95 1h0m26 0h0m16 3h0m32-2h0m3-4h0m11 6h0m28 0h0m1-4h0m18 4h0m83-4h0m36 6h0m28-5h0m6 3h0m15 0h0m46-6h0m26 2h0m0-1h0m5 7h0m6-5h0m14 2h0m1-3h0m38 7h0m2-3h0m28-2h0m9 0h0m-562 13h0m50-4h0m19 6h0m22-2h0m8-2h0m73 5h0m49-4h0m38 3h0m33 1h0m16-2h0m15-7h0m18 1h0m45 2h0m34 2h0m22 0h0m11 0h0m64 0h0m11 1h0m27 1h0m12 1h0m-578 1h0m67 4h0m23 3h0m13-1h0m2 3h0m15 0h0m0-7h0m1 3h0m10 1h0m28-2h0m12-3h0m42 5h0m27-3h0m16-1h0m31 2h0m22 6h0m3-6h0m28 0h0m33-3h0m0 8h0m9-4h0m43 4h0m134-3h0m18-2h0m2 3h0m-570 8h0m46-4h0m1 2h0m10 1h0m19-2h0m53 7h0m4-4h0m10 3h0m48-5h0m76 4h0m23-4h0m14 5h0m78-4h0m14 3h0m23-5h0m6 5h0m12 1h0m12 0h0m1-4h0m22-1h0m61 3h0m1 0h0m-538 4h0m3 3h0m14 6h0m16-4h0m15 1h0m11-6h0m14 0h0m6 7h0m1-3h0m16 3h0m173-7h0m5 3h0m25 0h0m81-1h0m27 7h0m1-9h0m16 5h0m2-3h0m20 7h0m16-3h0m19-2h0m22 5h0m6-8h0m12 5h0m25-2h0m-533 13h0m3-5h0m10 2h0m19 0h0m49 0h0m29 5h0m7-5h0m13 4h0m5-5h0m26 4h0m2-6h0m63 2h0m8 1h0m32-3h0m74 0h0m12 4h0m0 2h0m50-5h0m36 2h0m51 3h0m14 0h0m2-5h0m36 1h0m19 7h0m-544 9h0m4-6h0m1 6h0m15-5h0m6 0h0m29 6h0m41-1h0m5-8h0m24 1h0m23 8h0m19-4h0m15 2h0m7-4h0m4-2h0m30 5h0m46-3h0m73-2h0m9 3h0m29-1h0m64 3h0m-460 5h0m11-2h0m79 8h0m30-2h0m35 1h0m17 0h0m24 2h0m38 1h0m45-6h0m15 1h0m39 3h0m79-1h0m15-1h0m42-3h0m13 6h0m70-1h0m7-3h0m-575 14h0m57-1h0m8 0h0m3-4h0m8 4h0m26-8h0m26 6h0m0-4h0m12 4h0m32-1h0m51-2h0m1-2h0m50 5h0m30-2h0m12 0h0m1-2h0m8 7h0m26-8h0m24 0h0m5 4h0m16-1h0m7-3h0m34-1h0m24 8h0m86-7h0m19 0h0m1 5h0m5-3h0m-569 10h0m9-1h0m11 1h0m3 1h0m9 4h0m4 1h0m26-5h0m2-3h0m3 9h0m10-2h0m7-4h0m15 3h0m37-3h0m55-2h0m29-1h0m52 8h0m8-2h0m3 3h0m0-2h0m4-7h0m27 7h0m15-5h0m20-2h0m13 7h0m34-4h0m67 3h0m37-3h0m17 5h0m18-6h0m6 3h0m1 2h0m25-1h0m-542 10h0m54 2h0m79-1h0m8-3h0m1-1h0m16 3h0m25-2h0m19 1h0m4 4h0m21-5h0m30-1h0m1 4h0m16-2h0m34-1h0m15 5h0m11-5h0m3-3h0m10 0h0m6-2h0m5 7h0m2-5h0m15 7h0m20 0h0m21 0h0m32-8h0m0 0h0m6 5h0m30 0h0m20-4h0m5 2h0m14 3h0m0 1h0m-528 11h0m9-1h0m38-6h0m3 7h0m3-1h0m16-1h0m13-4h0m10 1h0m27-1h0m14 4h0m64 1h0m16-4h0m2 2h0m28-3h0m4 7h0m1-8h0m23 1h0m22 2h0m9-2h0m5-1h0m3 8h0m1-3h0m26 0h0m12-5h0m18 4h0m30 3h0m62-8h0m24 6h0m-451 10h0m14-2h0m40 4h0m5-7h0m41-2h0m69 7h0m30-2h0m9-4h0m42 6h0m18-4h0m36 3h0m15 1h0m19-3h0m35 3h0m4-5h0m28 3h0m21 0h0m34 0h0m9-4h0m10 0h0m19 3h0m-516 8h0m72 4h0m0-2h0m21 0h0m53 3h0m48-3h0m13-2h0m32 5h0m45-2h0m17 5h0m8-9h0m8 7h0m54 1h0m40-1h0m98-3h0m22-3h0m8 1h0m-557 9h0m27 6h0m6 2h0m50-4h0m0 2h0m63-4h0m34-1h0m3 2h0m18-3h0m15 3h0m9-4h0m12 1h0m135 7h0m2-6h0m8 6h0m28-5h0m12-3h0m5 6h0m12-1h0m2 0h0m59-4h0m15 2h0m36 1h0m-566 12h0m24 2h0m9-3h0m22-2h0m14 3h0m77-2h0m3 1h0m5-3h0m22 4h0m34-2h0m59-1h0m5-2h0m21 8h0m2-9h0m8 6h0m1-2h0m38-1h0m14 2h0m28-6h0m20 6h0m18 0h0m51-5h0m34 9h0m47 0h0m5-7h0m7 5h0m4 1h0m-556 4h0m8 4h0m1-7h0m51 5h0m1 4h0m26 0h0m16-8h0m15 0h0m2 5h0m4 2h0m5 0h0m8-2h0m45-5h0m7 5h0m26 3h0m7-6h0m21-2h0m12 6h0m4-2h0m3 0h0m1-3h0m19 0h0m6 2h0m0-4h0m2 1h0m88-1h0m9 10h0m37 0h0m14 0h0m29-1h0m16-5h0m-489 16h0m29-2h0m45-1h0m8-5h0m15-1h0m53 5h0m40-2h0m26 4h0m22-1h0m9-6h0m48 0h0m3 3h0m10-1h0m2 2h0m40 3h0m3-3h0m14-1h0m6 1h0m11-1h0m3-1h0m47-2h0m62 6h0m24-5h0m24 3h0m6-4h0m-559 11h0m20 1h0m2-3h0m57 6h0m12 1h0m14 1h0m14-7h0m36-1h0m48 1h0m9 1h0m16 5h0m15 2h0m13-8h0m26 1h0m19 3h0m16 3h0m36-4h0m37-3h0m15 5h0m18 1h0m7-3h0m1 6h0m41-9h0m12 6h0m10-6h0m7 7h0m8-4h0m15-3h0m10 7h0m28-1h0m-547 13h0m26-6h0m35 0h0m12-2h0m22 6h0m26 0h0m9-4h0m33-4h0m29 2h0m26-1h0m35 2h0m89 0h0m6-1h0m20 5h0m28-6h0m46 9h0m19-2h0m16-2h0m23 3h0m25-8h0m-547 15h0m9-1h0m3 1h0m13-2h0m7-4h0m15 9h0m7-8h0m43 7h0m46-1h0m20-6h0m25 6h0m22-1h0m11 4h0m23-2h0m13-4h0m69 0h0m52-2h0m16 0h0m8-2h0m4 1h0m19 0h0m40 4h0m1 0h0m12 3h0m21-8h0m68 3h0m11 2h0m-570 11h0m29-1h0m3 2h0m24-6h0m19 2h0m6 2h0m16 2h0m3 2h0m65-7h0m3 2h0m33 0h0m43 3h0m62-5h0m27 2h0m5 1h0m4-2h0m8 6h0m19-6h0m29-2h0m4 7h0m12 1h0m76-5h0m12 1h0m-502 7h0m131 5h0m13-6h0m25-1h0m50 5h0m12-2h0m25 6h0m80-3h0m20-3h0m32-2h0m67 5h0m21 1h0m62-2h0m-502 10h0m9 0h0m24-2h0m6 2h0m7-2h0m69 3h0m1 0h0m6-2h0m86 0h0m16 6h0m89-9h0m22 5h0m28 2h0m0 1h0m6-2h0m21-5h0m51 0h0m4 4h0m38-5h0m1 5h0m3-4h0m11 0h0m-536 11h0m17 4h0m3-4h0m10 2h0m7 2h0m1 2h0m19-8h0m58 0h0m11 6h0m107-3h0m28 4h0m37 2h0m23-8h0m1-2h0m18 5h0m10 0h0m9-4h0m20 8h0m57-8h0m9 5h0m2-4h0m13-1h0m14 0h0m61 3h0m10 4h0m6 1h0m-490 8h0m0-4h0m4-2h0m13 9h0m0-8h0m18 6h0m16 1h0m37-6h0m7 0h0m65 4h0m14-2h0m34-2h0m11-1h0m1-2h0m34 6h0m5 3h0m1 0h0m20 0h0m3-4h0m46 5h0m20-3h0m22-4h0m5-1h0m1 6h0m7-7h0m0 9h0m25-2h0m5-8h0m30 3h0m2 6h0m44-4h0m0-2h0m12 1h0m-546 9h0m14 0h0m11 0h0m20 6h0m8-6h0m8-3h0m29 2h0m3 1h0m102 2h0m1-4h0m2 5h0m3 2h0m41-1h0m20 3h0m41-3h0m2-3h0m1 1h0m22 0h0m46-4h0m16 2h0m1 6h0m24-7h0m24 3h0m8 0h0m6-3h0m20 4h0m16 2h0m2-6h0m18 0h0m42 6h0m-559 2h0m2 6h0m38 3h0m11 0h0m1-3h0m12-1h0m0-4h0m28 6h0m4 3h0m57-10h0m30 0h0m14 7h0m11 2h0m1-1h0m8-5h0m2-1h0m28 6h0m10-3h0m24-4h0m44 5h0m63 3h0m30 0h0m27-5h0m5-2h0m30 0h0m69 1h0m-552 14h0m17-3h0m31-4h0m10 1h0m26 5h0m27 1h0m11 0h0m2-3h0m1 0h0m107 2h0m9-2h0m12 2h0m8 0h0m5 4h0m23-7h0m1-3h0m10 5h0m17-3h0m14-1h0m26 3h0m30-4h0m27 7h0m30-3h0m76 2h0m5-1h0m21 2h0m-540 10h0m56-3h0m38-1h0m67 7h0m16-6h0m47-3h0m22 1h0m25 8h0m15-2h0m18 0h0m104-7h0m22 8h0m32-8h0m94 8h0m2-6h0m-543 10h0m1 6h0m83-8h0m14 7h0m32-5h0m8 3h0m97-5h0m13 0h0m14 1h0m31 8h0m3-2h0m6-2h0m85 0h0m28-1h0m47-2h0m22 0h0m5 2h0m33 3h0m-556 6h0m26-4h0m8 8h0m0-8h0m10 6h0m12-1h0m2-3h0m0-2h0m44 5h0m19 2h0m26-7h0m2 8h0m3-7h0m5 6h0m51-5h0m123 8h0m20-6h0m54 3h0m128-4h0m-514 12h0m18 4h0m72-1h0m3-4h0m11 0h0m9-2h0m3 2h0m3-2h0m9 5h0m25-6h0m16 7h0m20-7h0m24 3h0m1-1h0m5 6h0m18-5h0m7 1h0m6 0h0m33 1h0m36-4h0m55 3h0m12-4h0m48 0h0m11 8h0m12-8h0m11 2h0m1 7h0m1-5h0m34 5h0m-518 5h0m21-2h0m21-1h0m15 6h0m33 0h0m5-5h0m47 1h0m56-3h0m15 2h0m28-1h0m35 2h0m16 2h0m1 3h0m5-7h0m19 0h0m9 5h0m10-2h0m24 0h0m45 2h0m2-3h0m12 5h0m18-5h0m10 0h0m14 0h0m15-4h0m22 8h0m17-8h0m20 4h0m-493 11h0m47 5h0m17-2h0m45-8h0m69 9h0m96-7h0m38-2h0m37 8h0m66-1h0m4-6h0m38 8h0m7 0h0m29-1h0m9-6h0m14 1h0m-553 11h0m26-1h0m7 1h0m22 4h0m11-1h0m18-2h0m3 3h0m2-2h0m29 0h0m22-1h0m25 1h0m29 0h0m27-5h0m3 3h0m45 4h0m13-1h0m21-6h0m81 7h0m1-6h0m31 4h0m43 2h0m5-2h0m20-2h0m17 6h0m-510 5h0m9 1h0m8 0h0m13 4h0m50-7h0m89-3h0m26 5h0m50 3h0m33-3h0m9-1h0m3-3h0m9 2h0m34 7h0m8-7h0m9-1h0m17 0h0m17 0h0m15 5h0m17-1h0m6-3h0m3 5h0m26 2h0m11-9h0m18 8h0m7-5h0m16 2h0m28 1h0m3 2h0m31-8h0m-528 15h0m1 1h0m20-7h0m9 3h0m2 5h0m18 0h0m28 1h0m19-2h0m9-3h0m13-1h0m67-2h0m32 3h0m41 2h0m3-6h0m3 2h0m23 2h0m0 4h0m8-2h0m1 2h0m1-6h0m2 5h0m14 0h0m1-2h0m19 1h0m10-2h0m10 2h0m2-5h0m26 9h0m50-1h0m37-4h0m15 1h0m9-2h0m-524 8h0m2 1h0m15-1h0m41-1h0m5 1h0m15 4h0m2-2h0m9-1h0m34-1h0m7 6h0m39-5h0m4 4h0m16-4h0m47 1h0m6 3h0m13-6h0m64 2h0m18 0h0m11 4h0m11-5h0m38 6h0m99 1h0m16-3h0m2 3h0m10-8h0m12-1h0m7 7h0m-516 7h0m9-3h0m35 2h0m20 6h0m23-1h0m7-6h0m2 0h0m3 6h0m28-4h0m9 2h0m6 0h0m34-3h0m58 2h0m3 5h0m27-8h0m10 3h0m6 3h0m43 2h0m6-8h0m43 0h0m3 2h0m58 2h0m44-6h0m33 7h0m-543 5h0m2 0h0m25 2h0m4-4h0m54 3h0m24 6h0m7-1h0m52-4h0m9 4h0m18-4h0m27 1h0m56 4h0m7-7h0m1 5h0m15-7h0m23 8h0m11-1h0m31 2h0m9-1h0m4-2h0m6 1h0m6-4h0m10-2h0m1 3h0m25 5h0m30-2h0m2 1h0m36 0h0m7 1h0m38-9h0m22 9h0m-536 8h0m2-3h0m49-2h0m23 7h0m62-6h0m44-1h0m9 2h0m8-3h0m41 9h0m11-6h0m17-1h0m4 2h0m21-4h0m39 4h0m2-2h0m4 6h0m11 0h0m16-5h0m122 1h0m37-5h0m0 6h0m-543 10h0m12-4h0m69 8h0m2-9h0m50 5h0m21-2h0m25 3h0m68-1h0m11-6h0m11 10h0m80-1h0m3-4h0m10 4h0m12 1h0m80-3h0m38 2h0m46-7h0m-501 16h0m13-6h0m84-1h0m12 4h0m103-1h0m13 5h0m59-2h0m6-5h0m44 2h0m22 5h0m8-8h0m-401 14h0m32-3h0m6 8h0m3-5h0m49-4h0m206 0h0m2 3h0m104-2h0m-18 11h0m35 0h0m136 6h0m-532 5h0m234 2h0m125-5h0m99 5h0" stroke="#000" stroke-width="22.5" stroke-linecap="round" fill="none"/></g>
<g transform="translate(1756.6,1198.5)"><path d="M9.7 -0.0C9.4 -0.4 9.1 -1.2 8.1 -2.3C7.0 -3.5 4.5 -5.2 3.5 -6.9C2.4 -8.7 1.8 -10.8 1.8 -12.7C1.8 -14.6 2.2 -16.3 3.5 -18.5C4.7 -20.6 6.7 -22.7 9.2 -25.4C11.7 -28.1 15.4 -31.1 18.5 -34.6C21.5 -38.1 25.3 -42.7 27.7 -46.1C30.1 -49.6 32.3 -52.9 33.0 -55.4C33.7 -57.9 33.5 -58.8 31.8 -61.1C30.2 -63.4 26.1 -66.3 23.1 -69.2C20.1 -72.1 16.6 -75.5 13.8 -78.4C11.1 -81.3 8.4 -84.2 6.5 -86.5C4.5 -88.8 3.2 -90.8 2.3 -92.3C1.4 -93.7 1.3 -94.6 1.2 -95.0L-1.2 -95.0C-1.3 -94.6 -1.4 -93.7 -2.3 -92.3C-3.2 -90.8 -4.5 -88.8 -6.5 -86.5C-8.4 -84.2 -11.1 -81.3 -13.8 -78.4C-16.6 -75.5 -20.1 -72.1 -23.1 -69.2C-26.1 -66.3 -30.2 -63.4 -31.8 -61.1C-33.5 -58.8 -33.7 -57.9 -33.0 -55.4C-32.3 -52.9 -30.1 -49.6 -27.7 -46.1C-25.3 -42.7 -21.5 -38.1 -18.5 -34.6C-15.4 -31.1 -11.7 -28.1 -9.2 -25.4C-6.7 -22.7 -4.7 -20.6 -3.5 -18.5C-2.2 -16.3 -1.8 -14.6 -1.8 -12.7C-1.8 -10.8 -2.4 -8.7 -3.5 -6.9C-4.5 -5.2 -7.0 -3.5 -8.1 -2.3C-9.1 -1.2 -9.4 -0.4 -9.7 -0.0Z" fill="#00BA38" stroke="#333" stroke-width="1.15" stroke-linejoin="round"/><path transform="scale(.1)" d="m206-948h0m-403 4h0m-17 46h0m195-7h0m131 14h0m-234 22h0m0-2h0m-76 46h0m364 9h0m-182 7h0m186-4h0m-238 10h0m24 18h0m151-2h0m137-5h0m-335 14h0m-49 7h0m49 2h0m227-5h0m-337 19h0m125-1h0m329-4h0m31 2h0m-353 10h0m231 2h0m2-8h0m21 18h0m23-5h0m35 6h0m-44 8h0m-268 7h0m96 3h0m196-1h0m-264 11h0m302-4h0m-39 11h0m-108 9h0m-336 10h0m97 0h0m27 6h0m43-1h0m137-1h0m179-3h0m-347 5h0m130 9h0m-72 5h0m257 1h0m21-5h0m-480 21h0m378 9h0m24-4h0m57-5h0m-296 11h0m13 2h0m123-2h0m130 0h0m36 7h0m-97 3h0m115-1h0m-277 16h0m57 0h0m-33 12h0m45-5h0m121 5h0m19-2h0m-417 6h0m208-1h0m176 6h0m108-5h0m19 1h0m-525 14h0m8 0h0m455 1h0m-275 7h0m120-2h0m28-3h0m100 9h0m-382 9h0m2-7h0m122 3h0m189 1h0m140-2h0m-500 13h0m71 1h0m109 0h0m156 0h0m17-8h0m-376 17h0m323-4h0m-92 14h0m115-4h0m172 15h0m-450 11h0m261-3h0m-168 12h0m280-4h0m44 1h0m-247 14h0m291 0h0m-538 10h0m9-8h0m33 9h0m2 7h0m221-5h0m42 7h0m14 0h0m30-6h0m-292 16h0m106 1h0m111-4h0m69 3h0m58-6h0m10-1h0m5-1h0m32 6h0m18-3h0m70 3h0m-499 13h0m164 6h0m129-1h0m-206 6h0m165 13h0m-275 16h0m88-4h0m344-2h0m38 4h0m-499 4h0m27 5h0m129 3h0m107-3h0m46 2h0m200 0h0m-465 1h0m69 20h0m174-7h0m56 5h0m204-2h0m-540 12h0m238-2h0m-240 12h0m305-1h0m-287 8h0m258 3h0m-215 6h0m301 3h0m78-6h0m-424 11h0m87 5h0m90-3h0m29 4h0m165-1h0m-355 11h0m179 0h0m225 0h0m103 0h0m-423 10h0m435-4h0m-354 21h0m3-3h0m252 7h0m37-6h0m-477 10h0m93 5h0m75-5h0m342 1h0m-244 8h0m107 54h0m79 41h0m-314 6h0m397-1h0m-504 173h0m8 0h0m15 0h0m29 0h0m6 0h0m2 0h0m1 0h0m21 0h0m39 0h0m8 0h0m81 0h0m4 0h0m5 0h0m12 0h0m40 0h0m1 0h0m0 0h0m55 0h0m60 0h0m139 0h0" stroke="#000" stroke-width="22.5" stroke-linecap="round" fill="none"/></g>
<g transform="translate(1829.2,1198.5)"><path d="M17.3 -0.0C16.8 -1.2 15.5 -4.2 14.3 -6.9C13.1 -9.6 11.5 -13.1 10.4 -16.1C9.2 -19.2 8.0 -22.3 7.4 -25.4C6.8 -28.5 6.4 -31.5 6.9 -34.6C7.4 -37.7 8.5 -40.8 10.4 -43.8C12.3 -46.9 15.6 -50.0 18.5 -53.1C21.3 -56.1 24.9 -59.2 27.2 -62.3C29.5 -65.4 31.3 -68.8 32.3 -71.5C33.3 -74.2 33.1 -76.3 33.0 -78.4C32.9 -80.5 32.3 -82.7 31.8 -84.2C31.3 -85.7 30.6 -86.8 30.0 -87.7C29.4 -88.5 28.5 -89.2 28.1 -89.5L-28.1 -89.5C-28.5 -89.2 -29.4 -88.5 -30.0 -87.7C-30.6 -86.8 -31.3 -85.7 -31.8 -84.2C-32.3 -82.7 -32.9 -80.5 -33.0 -78.4C-33.1 -76.3 -33.3 -74.2 -32.3 -71.5C-31.3 -68.8 -29.5 -65.4 -27.2 -62.3C-24.9 -59.2 -21.3 -56.1 -18.5 -53.1C-15.6 -50.0 -12.3 -46.9 -10.4 -43.8C-8.5 -40.8 -7.4 -37.7 -6.9 -34.6C-6.4 -31.5 -6.8 -28.5 -7.4 -25.4C-8.0 -22.3 -9.2 -19.2 -10.4 -16.1C-11.5 -13.1 -13.1 -9.6 -14.3 -6.9C-15.5 -4.2 -16.8 -1.2 -17.3 -0.0Z" fill="#00BFC4" stroke="#333" stroke-width="1.15" stroke-linejoin="round"/><path transform="scale(.1)" d="m-106-882h0m163 0h0m-218 10h0m-88 71h0m171 3h0m-121 9h0m246 99h0m-35 13h0m-137 9h0m54 126h0m-95 76h0m84 11h0m-147 455h0m144 0h0m78 0h0m79 0h0m166 0h0" stroke="#000" stroke-width="22.5" stroke-linecap="round" fill="none"/></g>
<g transform="translate(1901.9,1198.5)"><path d="M3.9 -0.0C3.8 -0.4 3.3 -1.5 3.0 -2.3C2.7 -3.1 2.7 -3.5 2.3 -4.6C2.0 -5.8 1.2 -6.9 0.9 -9.2C0.7 -11.5 0.8 -16.0 0.9 -18.5C1.1 -21.0 1.4 -22.3 1.8 -24.2C2.3 -26.1 2.8 -28.1 3.5 -30.0C4.2 -31.9 5.0 -33.8 6.0 -35.8C7.0 -37.7 7.9 -39.6 9.5 -41.5C11.0 -43.4 12.9 -45.4 15.5 -47.3C18.0 -49.2 22.0 -51.1 24.7 -53.1C27.3 -55.0 30.1 -56.9 31.4 -58.8C32.7 -60.7 32.5 -62.7 32.5 -64.6C32.6 -66.5 32.5 -68.4 31.6 -70.4C30.7 -72.3 29.5 -74.2 27.0 -76.1C24.5 -78.0 19.6 -80.0 16.6 -81.9C13.6 -83.8 11.5 -85.9 9.2 -87.7C6.9 -89.4 4.1 -90.3 2.8 -92.3C1.4 -94.2 1.5 -94.6 1.2 -99.2C0.8 -103.8 0.8 -116.5 0.7 -120.0L-0.7 -120.0C-0.8 -116.5 -0.8 -103.8 -1.2 -99.2C-1.5 -94.6 -1.4 -94.2 -2.8 -92.3C-4.1 -90.3 -6.9 -89.4 -9.2 -87.7C-11.5 -85.9 -13.6 -83.8 -16.6 -81.9C-19.6 -80.0 -24.5 -78.0 -27.0 -76.1C-29.5 -74.2 -30.7 -72.3 -31.6 -70.4C-32.5 -68.4 -32.6 -66.5 -32.5 -64.6C-32.5 -62.7 -32.7 -60.7 -31.4 -58.8C-30.1 -56.9 -27.3 -55.0 -24.7 -53.1C-22.0 -51.1 -18.0 -49.2 -15.5 -47.3C-12.9 -45.4 -11.0 -43.4 -9.5 -41.5C-7.9 -39.6 -7.0 -37.7 -6.0 -35.8C-5.0 -33.8 -4.2 -31.9 -3.5 -30.0C-2.8 -28.1 -2.3 -26.1 -1.8 -24.2C-1.4 -22.3 -1.1 -21.0 -0.9 -18.5C-0.8 -16.0 -0.7 -11.5 -0.9 -9.2C-1.2 -6.9 -2.0 -5.8 -2.3 -4.6C-2.7 -3.5 -2.7 -3.1 -3.0 -2.3C-3.3 -1.5 -3.8 -0.4 -3.9 -0.0Z" fill="#619CFF" stroke="#333" stroke-width="1.15" stroke-linejoin="round"/><path transform="scale(.1)" d="m-287-1034h0m443 16h0m-269 3h0m-119 13h0m-18 11h0m417 5h0m-134 10h0m156-9h0m-354 15h0m316 2h0m-412 9h0m283 12h0m-198 3h0m50 18h0m-25 11h0m62-1h0m0-6h0m165 0h0m148-2h0m-270 11h0m41 4h0m26-1h0m46-4h0m52 1h0m-314 13h0m77 2h0m36 1h0m168 0h0m105 1h0m-314 6h0m47-4h0m99 3h0m-277 11h0m351 1h0m53-4h0m-427 10h0m111-2h0m3 1h0m50 4h0m288 1h0m-381 9h0m123 4h0m44-6h0m314 7h0m-513 8h0m9-8h0m46 0h0m172 8h0m11-7h0m41 1h0m28 1h0m109 0h0m-274 16h0m3-4h0m87-1h0m36 1h0m11-3h0m90 4h0m97 2h0m-504 6h0m51 1h0m7-4h0m9 4h0m105-5h0m305 2h0m6-1h0m63 4h0m3 2h0m-419 6h0m10 7h0m31-2h0m52-1h0m138-1h0m80 1h0m10-3h0m33 2h0m26 2h0m-493 8h0m11-3h0m2 4h0m2-6h0m12 8h0m64-2h0m54-5h0m20 4h0m12-6h0m6 7h0m29-2h0m8 1h0m6 2h0m23-7h0m3 8h0m6-3h0m66 0h0m36-2h0m5 1h0m43-2h0m73 4h0m15-6h0m-498 16h0m21 3h0m103 0h0m72-9h0m7 3h0m19 5h0m89-9h0m0 7h0m70-3h0m43-3h0m20 3h0m12-1h0m-459 8h0m43 5h0m110-4h0m24 6h0m118 1h0m38-2h0m96 0h0m36-3h0m54-2h0m-521 12h0m15-2h0m26 2h0m25-1h0m31-2h0m48 7h0m21-3h0m24 2h0m34-5h0m59 7h0m4-9h0m19 6h0m8-3h0m46-1h0m44 7h0m10 0h0m60-9h0m6 2h0m13-1h0m-472 17h0m129-2h0m22 1h0m6-1h0m61-3h0m9 1h0m2 3h0m124 1h0m2-7h0m44 1h0m33 3h0m69-3h0m-511 16h0m1-8h0m86 4h0m26-2h0m18 4h0m84 2h0m187-3h0m2-1h0m35-2h0m48 7h0m34-6h0m7 2h0m-519 6h0m14 4h0m98 2h0m43-5h0m11-1h0m83 2h0m86-3h0m46 3h0m36 6h0m1 0h0m57-5h0m56 2h0m-561 5h0m3 6h0m24-2h0m12-3h0m3 5h0m35-2h0m167-1h0m58 0h0m97 2h0m1-5h0m16 4h0m50 1h0m81-6h0m1 6h0m-555 14h0m25-8h0m13-1h0m73 5h0m37 0h0m26 3h0m104 0h0m7-2h0m16-4h0m31-2h0m1 4h0m26-5h0m105 9h0m25-4h0m69 3h0m-534 11h0m50-6h0m94-2h0m42-1h0m31 3h0m36 1h0m32-2h0m40 5h0m1-1h0m11 1h0m47-3h0m26 0h0m66 0h0m24 0h0m-512 13h0m6 3h0m142-5h0m24-1h0m9 3h0m24 3h0m58-9h0m88 5h0m15-3h0m11-1h0m18 0h0m134-2h0m15 2h0m-548 16h0m41-6h0m27 3h0m23 4h0m1-5h0m97-3h0m8 8h0m24-5h0m4 4h0m35-8h0m7 6h0m69 2h0m29-7h0m59 5h0m46-3h0m-452 15h0m130-8h0m7 6h0m41-2h0m6-2h0m37 4h0m92-4h0m21 0h0m48-1h0m52-1h0m30 7h0m4-2h0m10-3h0m6 4h0m3-2h0m57-2h0m3 1h0m-503 11h0m6 4h0m22-6h0m6 3h0m215 3h0m26-4h0m7 2h0m2 4h0m39-1h0m41 0h0m66 0h0m44-7h0m5 5h0m-512 7h0m102 1h0m0 5h0m17-5h0m3 3h0m59-7h0m14 0h0m12 1h0m44 2h0m25 3h0m8 1h0m116-7h0m6 7h0m77-2h0m-502 10h0m3-2h0m46-1h0m62 0h0m8 4h0m3-7h0m21 0h0m21 8h0m74-7h0m80 3h0m42-3h0m29 2h0m73 7h0m48-10h0m28 6h0m9 0h0m-508 13h0m3-2h0m16-1h0m51 2h0m70 1h0m6-5h0m80-2h0m3 1h0m72 5h0m-365 5h0m35 5h0m8-4h0m120-2h0m6 2h0m49 1h0m11-2h0m2 4h0m59-1h0m4-5h0m51 0h0m42 4h0m12 2h0m33-6h0m62 6h0m-452 6h0m118 1h0m24-4h0m70 6h0m5-1h0m26-3h0m24 6h0m5 0h0m22 2h0m65-8h0m83 0h0m3 7h0m-375 1h0m36 10h0m151 0h0m79-3h0m32-7h0m16 1h0m16-1h0m14 0h0m6 9h0m102-4h0m-554 11h0m96 2h0m90-2h0m13 3h0m16-7h0m2 2h0m23 3h0m4 1h0m58-1h0m9 1h0m13 0h0m8 1h0m22-6h0m0 7h0m4-4h0m47 0h0m7 1h0m51-2h0m-467 10h0m1-2h0m6 2h0m107 1h0m33-6h0m67 8h0m44-1h0m40-1h0m14 3h0m46-2h0m60-4h0m0-2h0m36 8h0m58-7h0m36 0h0m19 0h0m6 5h0m-561 13h0m49-6h0m96-1h0m3 4h0m55-6h0m54 9h0m30-5h0m20 0h0m20 4h0m44-5h0m8 0h0m1-2h0m50 0h0m47 8h0m14-10h0m-464 12h0m39 4h0m32 2h0m10-4h0m91-1h0m57 2h0m33 0h0m60 2h0m89-1h0m15 4h0m36-4h0m4-5h0m13 0h0m24 4h0m-547 6h0m135 3h0m20 2h0m15 0h0m66-3h0m13-3h0m61 5h0m37 0h0m13-3h0m40 1h0m16-1h0m29-1h0m42 4h0m73 1h0m18 4h0m-562 8h0m62-1h0m37-7h0m1 4h0m20 1h0m44 3h0m30-4h0m6-1h0m0-1h0m56 2h0m39 3h0m4 0h0m40-7h0m64 1h0m88 3h0m31-2h0m26 0h0m2-1h0m-507 18h0m59-7h0m24 3h0m11-4h0m41 4h0m21-5h0m32 7h0m40 2h0m67-9h0m139 2h0m16 2h0m7 2h0m-465 6h0m21-1h0m31 5h0m60 0h0m3 0h0m16 0h0m8-5h0m7 0h0m43 4h0m55-2h0m143 2h0m89-4h0m39 9h0m-542 8h0m67-1h0m5 0h0m21-2h0m97-4h0m20 0h0m141 6h0m57-2h0m26-4h0m17 8h0m23 1h0m73-1h0m7-4h0m-556 12h0m27 2h0m228-3h0m39-4h0m51 1h0m1 7h0m67-4h0m30-1h0m27-4h0m-386 12h0m60 2h0m68-4h0m145 7h0m55-5h0m100-2h0m27 2h0m-556 9h0m1 5h0m50 0h0m14 0h0m171 2h0m32-8h0m50 6h0m34 3h0m58-1h0m2-1h0m45 0h0m9-3h0m29 4h0m13-7h0m51 2h0m-562 12h0m102-6h0m48 7h0m41-5h0m28 6h0m96 0h0m95-4h0m4 6h0m3-7h0m38-1h0m2 2h0m22 0h0m25 1h0m-498 6h0m20 2h0m2 3h0m129-5h0m41 8h0m115-3h0m2 2h0m48-5h0m0 4h0m43-6h0m30 0h0m13 6h0m7-1h0m31-5h0m60 4h0m9 1h0m17 0h0m1 1h0m-478 10h0m31 2h0m10-3h0m0-3h0m24 4h0m52-3h0m22 4h0m89-6h0m192 1h0m24 4h0m-533 9h0m64-1h0m27 1h0m35 1h0m36 1h0m62-3h0m53 0h0m155 1h0m-252 10h0m26-3h0m64 0h0m23 5h0m60-1h0m36 1h0m18 1h0m120-6h0m-472 9h0m159 3h0m289-5h0m-488 18h0m82-5h0m31 1h0m6 1h0m130 1h0m14-5h0m72 2h0m11-1h0m59 4h0m45 2h0m97 2h0m-472 2h0m5 0h0m103 2h0m119-3h0m30 2h0m-343 15h0m56-7h0m295 5h0m117-3h0m34 1h0m-445 13h0m207 11h0m225-3h0m45-3h0m-172 11h0m91 6h0m-388 8h0m21-4h0m138 2h0m94 1h0m9-6h0m57 7h0m-337 6h0m90 12h0m106 12h0m17-6h0m89 5h0m-321 9h0m193-5h0m-201 28h0m111 23h0m-79 284h0m40 0h0m32 0h0m25 0h0m112 0h0m9 0h0m21 0h0m52 0h0m5 0h0m0 0h0m20 0h0m3 0h0m42 0h0m33 0h0m69 0h0" stroke="#000" stroke-width="22.5" stroke-linecap="round" fill="none"/></g>
<g transform="translate(1974.5,1198.5)"><path d="M9.2 -0.0C8.9 -0.3 8.5 -1.1 7.4 -1.8C6.3 -2.6 3.8 -3.4 2.8 -4.6C1.7 -5.8 1.2 -6.9 0.9 -9.2C0.7 -11.5 0.7 -15.8 1.2 -18.5C1.6 -21.1 1.9 -22.7 3.5 -25.4C5.0 -28.1 7.7 -31.5 10.4 -34.6C13.1 -37.7 16.7 -40.9 19.6 -43.8C22.5 -46.7 25.5 -49.7 27.7 -51.9C29.9 -54.1 32.4 -55.8 33.0 -57.2C33.6 -58.6 32.8 -58.8 31.1 -60.4C29.5 -62.1 26.0 -64.3 23.1 -66.9C20.2 -69.5 16.5 -73.0 13.8 -76.1C11.1 -79.2 8.8 -82.7 6.9 -85.4C5.0 -88.0 3.3 -90.5 2.3 -92.3C1.3 -94.0 1.2 -95.2 0.9 -95.7L-0.9 -95.7C-1.2 -95.2 -1.3 -94.0 -2.3 -92.3C-3.3 -90.5 -5.0 -88.0 -6.9 -85.4C-8.8 -82.7 -11.1 -79.2 -13.8 -76.1C-16.5 -73.0 -20.2 -69.5 -23.1 -66.9C-26.0 -64.3 -29.5 -62.1 -31.1 -60.4C-32.8 -58.8 -33.6 -58.6 -33.0 -57.2C-32.4 -55.8 -29.9 -54.1 -27.7 -51.9C-25.5 -49.7 -22.5 -46.7 -19.6 -43.8C-16.7 -40.9 -13.1 -37.7 -10.4 -34.6C-7.7 -31.5 -5.0 -28.1 -3.5 -25.4C-1.9 -22.7 -1.6 -21.1 -1.2 -18.5C-0.7 -15.8 -0.7 -11.5 -0.9 -9.2C-1.2 -6.9 -1.7 -5.8 -2.8 -4.6C-3.8 -3.4 -6.3 -2.6 -7.4 -1.8C-8.5 -1.1 -8.9 -0.3 -9.2 -0.0Z" fill="#F564E3" stroke="#333" stroke-width="1.15" stroke-linejoin="round"/><path d="M-29.0 0H29.0" stroke="#000" stroke-width="2.40" stroke-linecap="round"/><path transform="scale(.1)" d="m-200-947h0m249-5h0m97 27h0m-93 6h0m225-3h0m-470 24h0m170-5h0m104 5h0m64 2h0m-391 7h0m187 3h0m217-3h0m-338 13h0m92-3h0m43 2h0m110 1h0m26-5h0m22 0h0m3 0h0m78-3h0m-252 16h0m154 1h0m133-5h0m-249 13h0m48-5h0m13 3h0m107-3h0m35 1h0m7 5h0m-476 4h0m86 6h0m132-4h0m119 1h0m32 1h0m199 1h0m-543 13h0m9-7h0m57 2h0m10-4h0m177 7h0m43-6h0m104 3h0m-416 13h0m66 0h0m53-2h0m16-3h0m58 4h0m45 2h0m72-7h0m43 1h0m52 2h0m31 2h0m4 2h0m103-4h0m10-1h0m-532 15h0m61-3h0m51-5h0m30 2h0m13 0h0m44-1h0m112 5h0m17 2h0m24 0h0m9-7h0m98 3h0m8 3h0m54-6h0m21 9h0m-528 4h0m23-3h0m8 6h0m162-6h0m141 1h0m8-1h0m98 1h0m14 3h0m39 0h0m15 2h0m9 2h0m-504 11h0m19-5h0m10 0h0m9 4h0m78-1h0m25-3h0m7-1h0m212 6h0m3-5h0m17-3h0m19-2h0m-398 18h0m17-4h0m5 2h0m114-2h0m20 3h0m27-1h0m64 2h0m3-6h0m4 0h0m13-1h0m16 8h0m39-5h0m-372 14h0m60 0h0m1-3h0m59 0h0m62-1h0m92 5h0m204 0h0m2-5h0m40-3h0m14 0h0m-516 11h0m4 2h0m126-4h0m56 4h0m8 3h0m33-5h0m54-1h0m37 3h0m29-1h0m9 6h0m32-3h0m55 0h0m25-1h0m9 3h0m23 0h0m3 1h0m-529 2h0m32 7h0m20 2h0m10-2h0m4-3h0m23 1h0m29 0h0m27 0h0m33-1h0m5-4h0m83 8h0m130-8h0m2 1h0m6 1h0m41-1h0m9 1h0m79 0h0m3 4h0m4-6h0m5 2h0m9 5h0m0-5h0m-558 17h0m8-6h0m97 2h0m18-1h0m23 3h0m5-2h0m25-2h0m24 3h0m138-4h0m51 4h0m52-1h0m7-2h0m16-1h0m-425 8h0m158 5h0m56-6h0m21 4h0m16-1h0m1-2h0m29 2h0m0-1h0m134 1h0m93 7h0m3-4h0m-507 12h0m11-7h0m18 5h0m59-4h0m31 4h0m58-5h0m49 5h0m96 1h0m89-5h0m18 8h0m-425 1h0m0 7h0m44-7h0m8 3h0m148-1h0m64 1h0m47 2h0m8-3h0m2 1h0m46 2h0m17-3h0m43-2h0m4 3h0m24 1h0m10-2h0m-511 17h0m25-1h0m49-8h0m8 0h0m81 8h0m15-6h0m72 5h0m33-5h0m106 0h0m74 0h0m18 6h0m69-4h0m12 1h0m11-3h0m5 0h0m-574 17h0m164-6h0m0 4h0m62 1h0m6-2h0m10-2h0m15-5h0m32 5h0m15-2h0m1-1h0m31 3h0m0-4h0m1 8h0m35-6h0m1 6h0m69-1h0m73-7h0m12 5h0m27-1h0m-518 7h0m51 7h0m39-5h0m27 0h0m89-1h0m27 0h0m6-2h0m3 4h0m47 1h0m7 2h0m17-4h0m36 4h0m36-6h0m5-1h0m51 2h0m11 0h0m0 0h0m24 3h0m30 1h0m19 2h0m12-7h0m-577 15h0m49-4h0m39 1h0m12 6h0m15 0h0m18-1h0m3-2h0m13-7h0m18 8h0m2 1h0m108-5h0m0 5h0m36-1h0m3-4h0m10 3h0m15 0h0m2-5h0m3 4h0m48 3h0m7-9h0m9 2h0m91-1h0m62 2h0m-548 11h0m4-2h0m8-1h0m21 9h0m29-3h0m48-5h0m38 2h0m16 0h0m131 6h0m68-7h0m21 7h0m3-2h0m95-6h0m40 8h0m-524 4h0m1 4h0m8-4h0m28 0h0m5 3h0m30 1h0m2-4h0m9 4h0m4-2h0m10 0h0m5 0h0m15-3h0m5-2h0m81 3h0m5 0h0m5 3h0m3 0h0m4 3h0m2-1h0m13 1h0m9-5h0m15 3h0m2-4h0m4 3h0m26 1h0m4-2h0m14-4h0m6 3h0m1-3h0m11 1h0m13-1h0m56 3h0m25-2h0m55 7h0m5-1h0m39-1h0m17-4h0m20-2h0m-561 12h0m29 5h0m1-5h0m2 4h0m35 0h0m26 1h0m3-7h0m0 0h0m16 4h0m63-3h0m24-2h0m21 0h0m46 8h0m9-4h0m18 2h0m10-1h0m17-2h0m63-3h0m11 6h0m11 1h0m12-5h0m100 0h0m-512 11h0m4-3h0m1 5h0m20-4h0m18-1h0m6 8h0m13-1h0m0-4h0m37-3h0m44 0h0m2 0h0m11 1h0m16 5h0m4-7h0m21 7h0m11 1h0m7-3h0m27 3h0m103-7h0m1 1h0m9 5h0m5-7h0m26 2h0m43 6h0m9-5h0m3-3h0m30 7h0m4 0h0m7-2h0m11-4h0m9 7h0m24-1h0m-542 4h0m8 5h0m9 2h0m11 2h0m5-5h0m14-4h0m19 5h0m8-1h0m3-3h0m48 6h0m54-8h0m21 5h0m12 5h0m13-9h0m1 2h0m45 5h0m17-2h0m18-5h0m34 4h0m88 2h0m22-1h0m40 1h0m19-6h0m11 6h0m1-3h0m38-3h0m7 1h0m-553 17h0m39-6h0m4-1h0m1 1h0m115-1h0m16 3h0m69-2h0m18 1h0m0-2h0m29-1h0m46 5h0m30 0h0m18-6h0m4 5h0m73-4h0m3 1h0m11 2h0m27 1h0m20 2h0m5-1h0m-534 5h0m23 5h0m23 3h0m6 0h0m13-4h0m16-4h0m28 4h0m25 2h0m8-4h0m22 2h0m9-2h0m0 2h0m2 2h0m4-3h0m27 0h0m68 3h0m36-1h0m1 0h0m42 1h0m19-1h0m22 3h0m22-7h0m19 0h0m14 0h0m14 4h0m23-4h0m8 6h0m40-1h0m5-2h0m14 2h0m5 0h0m-563 4h0m3 1h0m54 1h0m1 3h0m1-1h0m2 3h0m48-3h0m3 0h0m8 1h0m9-1h0m20-4h0m27 4h0m88 1h0m59-2h0m59 3h0m5-2h0m24-1h0m22 6h0m27-8h0m43 5h0m2-4h0m2 3h0m54 2h0m-557 9h0m25 2h0m5-8h0m21 0h0m34 6h0m46 0h0m2 2h0m12 0h0m9 0h0m0-1h0m26-5h0m10-3h0m7 1h0m10 4h0m1-2h0m40 7h0m20-4h0m28-3h0m73 1h0m29 0h0m6 5h0m89-6h0m35 1h0m28 3h0m-540 9h0m3 3h0m0-4h0m54 0h0m8-2h0m27 2h0m1 3h0m7-2h0m5 2h0m4-2h0m7 2h0m15 0h0m1-4h0m12 4h0m14-2h0m10 0h0m36-2h0m28-2h0m9 5h0m34 3h0m23-10h0m27 1h0m20 3h0m14 6h0m22-6h0m42 2h0m1-1h0m2 3h0m12-3h0m7 5h0m86-4h0m12-2h0m-545 8h0m24 5h0m4-7h0m7 8h0m13-2h0m8 4h0m25-8h0m33-2h0m13 8h0m32-3h0m14 4h0m10-5h0m41 1h0m19 3h0m3-3h0m23-3h0m48-1h0m14 7h0m11-3h0m26-1h0m31 1h0m2-1h0m7 5h0m4-3h0m12 3h0m3-1h0m44-1h0m33-6h0m28 4h0m9 2h0m3-4h0m8 0h0m-542 11h0m0 3h0m10-1h0m13 1h0m17-2h0m7-3h0m19 7h0m8 0h0m6 0h0m58-3h0m18-3h0m9-2h0m3 7h0m4-4h0m9 1h0m39 4h0m60-6h0m11 0h0m18 3h0m38 4h0m14-4h0m21-3h0m23 4h0m10-6h0m24 4h0m11 4h0m44-7h0m10 6h0m-526 4h0m22 0h0m18-1h0m57 9h0m5-8h0m10 0h0m33 2h0m1-3h0m23 2h0m21-2h0m5 8h0m50-3h0m23 0h0m19 4h0m15-1h0m3-5h0m105 2h0m11 0h0m24-2h0m23 5h0m58-1h0m2-1h0m-524 11h0m28-7h0m24 3h0m12-1h0m14-2h0m6 8h0m57-1h0m9-4h0m7-3h0m23 6h0m15 0h0m13 3h0m9-6h0m11 3h0m16-6h0m4 7h0m11-2h0m1-1h0m8-4h0m5 6h0m53 2h0m8-4h0m13 3h0m42-2h0m16 0h0m6-4h0m17 1h0m23 3h0m11 1h0m4-5h0m40-2h0m1 3h0m14 1h0m39 3h0m6-4h0m-570 10h0m5 3h0m8-5h0m41 0h0m19 3h0m46-3h0m17 8h0m17 0h0m10-5h0m3 0h0m36 4h0m26 1h0m8-3h0m1 4h0m8-3h0m8-2h0m24-4h0m38 2h0m23 2h0m14-2h0m1-2h0m8 0h0m3 8h0m10-5h0m37 1h0m21-4h0m43 4h0m20-2h0m4 1h0m0-1h0m7 6h0m1-3h0m4-5h0m23 2h0m9-1h0m1 5h0m8-2h0m-547 12h0m33 0h0m4-6h0m13 3h0m37-1h0m1 2h0m20 0h0m16 0h0m18 3h0m10-5h0m9-3h0m29 10h0m31-3h0m9-5h0m10 5h0m24-7h0m1 5h0m37 1h0m8-6h0m21 7h0m7-3h0m2 0h0m15-2h0m42 1h0m30 4h0m10-7h0m12 1h0m19 1h0m7 7h0m9-7h0m63 3h0m1-4h0m8 6h0m-418 7h0m42 2h0m16-5h0m70 9h0m20-2h0m4-5h0m1 4h0m12-7h0m0 1h0m24 2h0m10 4h0m18-6h0m10 4h0m13-3h0m24 7h0m7-3h0m1 2h0m8-5h0m7 4h0m16-7h0m14 7h0m42 1h0m6-7h0m5 2h0m11-1h0m21-1h0m-540 11h0m43 4h0m2 3h0m18-8h0m2 5h0m110-5h0m75-1h0m4 6h0m1 3h0m15-4h0m26-2h0m30-1h0m8 4h0m27-5h0m37 9h0m4-3h0m11-4h0m9 3h0m48 3h0m9-5h0m63-1h0m7-3h0m11 7h0m-543 11h0m25 1h0m45-7h0m0 4h0m26 2h0m18 2h0m1-4h0m66 0h0m27 4h0m4-3h0m9 1h0m11-4h0m13 5h0m102-4h0m25 3h0m20-7h0m23 7h0m0 0h0m3-2h0m10 2h0m8-1h0m20 2h0m29-4h0m2-2h0m36 7h0m20-4h0m-525 11h0m19-1h0m8-5h0m107 7h0m3-2h0m14 3h0m22 0h0m7-5h0m0 3h0m29 0h0m34-2h0m87 2h0m13-4h0m4 2h0m24 1h0m9-6h0m15 9h0m12-6h0m2 4h0m22-1h0m14-5h0m11 9h0m28-1h0m44 0h0m-573 2h0m1 6h0m1 0h0m28-3h0m42-1h0m50 3h0m15-3h0m40-1h0m1 1h0m15-1h0m2 2h0m41 5h0m57-1h0m25-4h0m21-4h0m42 10h0m15-1h0m35-6h0m27 7h0m47-3h0m1-5h0m3 1h0m2 5h0m12-7h0m5 6h0m44-4h0m-556 15h0m7 0h0m12 0h0m4-2h0m28-6h0m4 1h0m12 0h0m62 1h0m32 4h0m18-2h0m8 0h0m14 1h0m13-1h0m21-1h0m25 4h0m5-2h0m20-4h0m38 1h0m10 2h0m74 5h0m47-4h0m63 2h0m16 2h0m21-6h0m-490 9h0m22-1h0m28 4h0m37 5h0m16-4h0m28-2h0m96 0h0m13 0h0m86-2h0m6 7h0m5-6h0m11 4h0m33-4h0m33 1h0m20 3h0m4-1h0m27-3h0m21-1h0m10 7h0m-566 9h0m27-7h0m1 2h0m18 1h0m21 4h0m15-5h0m41 6h0m33-2h0m24-5h0m1 4h0m18 4h0m7-4h0m14-6h0m48 6h0m26 3h0m33 0h0m16-6h0m34 0h0m8 1h0m10 1h0m12 2h0m2-2h0m81 1h0m0 3h0m50 1h0m-511 4h0m9-1h0m18 1h0m140 0h0m23 3h0m12-5h0m99 6h0m28 2h0m1-9h0m37 1h0m32 2h0m19-3h0m0 7h0m21-3h0m16-5h0m54 3h0m9-3h0m3 2h0m-525 14h0m39 1h0m21-5h0m24 0h0m5-2h0m24 3h0m47 1h0m7-4h0m4 5h0m11 4h0m7-1h0m212-8h0m56 7h0m10 1h0m12-7h0m14-1h0m1 4h0m-527 16h0m10-1h0m7-3h0m43-5h0m61 2h0m63 2h0m11 0h0m33 2h0m33-6h0m19 8h0m19-9h0m8 5h0m18-2h0m26-1h0m21 1h0m115 2h0m58 0h0m-541 12h0m33 2h0m33-6h0m83 3h0m9-3h0m15 3h0m22 2h0m19-7h0m6 8h0m18-7h0m38 5h0m4-6h0m0 4h0m16-1h0m14 4h0m18 2h0m98-3h0m68-4h0m-484 14h0m19-1h0m39 0h0m6-2h0m1-2h0m88 1h0m108 5h0m6-7h0m41 0h0m2 0h0m9 8h0m23-4h0m56 0h0m21 2h0m21 1h0m13-2h0m54-1h0m9-4h0m1 6h0m5-1h0m6 0h0m7 0h0m-528 6h0m26-2h0m152 2h0m18 0h0m19 0h0m5 5h0m90-7h0m18 5h0m5-1h0m43-1h0m74 2h0m18 0h0m1-3h0m36 1h0m17 3h0m-451 5h0m16 5h0m57-2h0m73-1h0m124 2h0m0-3h0m6-2h0m30 6h0m18 2h0m10-2h0m48-1h0m23 0h0m-443 7h0m34 7h0m21-1h0m27-4h0m7-3h0m21 2h0m54 3h0m2 1h0m23-1h0m1-1h0m16 2h0m15-7h0m42 2h0m4-1h0m127 1h0m47 4h0m20-3h0m-491 13h0m54 2h0m213-4h0m14 2h0m21 0h0m54 1h0m4 0h0m23-5h0m38 4h0m4-2h0m17-3h0m70 5h0m-502 9h0m41 0h0m43-3h0m10-2h0m86 1h0m33 0h0m134-1h0m29 4h0m92 4h0m-506 7h0m62 3h0m21 1h0m9-5h0m14 0h0m36 3h0m44-4h0m45-1h0m22 7h0m128-7h0m162 5h0m-521 10h0m2-7h0m41 4h0m17-2h0m49 3h0m54 0h0m112-4h0m107 3h0m71 3h0m24-1h0m-400 7h0m4 0h0m7 3h0m16 0h0m90-3h0m34 4h0m-98 3h0m45 4h0m146 4h0m95-2h0m36-3h0m95 4h0m-309 3h0m19 8h0m131 0h0m58-2h0m106 4h0m-545 9h0m84-8h0m65 8h0m249-1h0m-391 9h0m71 0h0m287-4h0m57-1h0m65 6h0m-507 4h0m81-1h0m20 3h0m50 2h0m94-3h0m207 1h0m-403 7h0m72 3h0m24 2h0m71-2h0m30-2h0m67 2h0m-266 7h0m290 5h0m45-4h0m-385 17h0m539 5h0m-362 6h0m197 1h0m-264 13h0m449 0h0m-160 27h0m-259 11h0m38 4h0m122 24h0" stroke="#000" stroke-width="22.5" stroke-linecap="round" fill="none"/></g>
<path d="M1567.6 1073.5V1204.5H2018.4" stroke="#2b2b2b" stroke-width="1.7" stroke-linejoin="round" fill="none"/>
<text x="1505.8" y="1265.7" font-size="22" text-anchor="middle" fill="#1a1a1a">BTLA</text>
<g transform="translate(1611.3,1374.9)"><path d="M32.3 -0.0C32.4 -0.2 33.9 -0.7 32.8 -1.4C31.6 -2.1 28.5 -3.0 25.4 -4.2C22.2 -5.3 17.1 -6.7 13.8 -8.1C10.6 -9.5 7.7 -11.1 5.8 -12.7C3.8 -14.2 2.9 -15.6 2.3 -17.3C1.7 -19.0 2.0 -21.0 2.3 -23.1C2.6 -25.2 3.7 -27.3 4.2 -30.0C4.6 -32.7 5.0 -36.1 5.1 -39.2C5.2 -42.3 4.9 -45.4 4.6 -48.4C4.3 -51.5 3.7 -54.6 3.2 -57.7C2.8 -60.7 2.2 -63.4 1.8 -66.9C1.5 -70.4 1.1 -69.7 0.9 -78.4C0.7 -87.2 0.7 -112.5 0.7 -119.3L-0.7 -119.3C-0.7 -112.5 -0.7 -87.2 -0.9 -78.4C-1.1 -69.7 -1.5 -70.4 -1.8 -66.9C-2.2 -63.4 -2.8 -60.7 -3.2 -57.7C-3.7 -54.6 -4.3 -51.5 -4.6 -48.4C-4.9 -45.4 -5.2 -42.3 -5.1 -39.2C-5.0 -36.1 -4.6 -32.7 -4.2 -30.0C-3.7 -27.3 -2.6 -25.2 -2.3 -23.1C-2.0 -21.0 -1.7 -19.0 -2.3 -17.3C-2.9 -15.6 -3.8 -14.2 -5.8 -12.7C-7.7 -11.1 -10.6 -9.5 -13.8 -8.1C-17.1 -6.7 -22.2 -5.3 -25.4 -4.2C-28.5 -3.0 -31.6 -2.1 -32.8 -1.4C-33.9 -0.7 -32.4 -0.2 -32.3 -0.0Z" fill="#F8766D" stroke="#333" stroke-width="1.15" stroke-linejoin="round"/><path transform="scale(.1)" d="m31-1001h0m-177 32h0m340 32h0m37 17h0m20-5h0m-64 21h0m-247 28h0m105 4h0m-323 41h0m424 13h0m-407 3h0m308 9h0m115-7h0m-22 9h0m-406 19h0m95 4h0m80 7h0m94 6h0m64-4h0m64 7h0m133 14h0m-304 18h0m14 14h0m175-2h0m-411 18h0m393 3h0m42-2h0m23 2h0m43 1h0m-466 5h0m388-1h0m-370 13h0m1 2h0m243-1h0m-67 12h0m133-3h0m102 4h0m-253 10h0m279 0h0m-405 8h0m35 3h0m84-4h0m11 0h0m-137 8h0m278 6h0m8-6h0m-253 18h0m89 0h0m30-9h0m141 6h0m-374 5h0m21 4h0m45-5h0m-60 12h0m11 2h0m324-2h0m-354 8h0m488 5h0m-38 13h0m39 3h0m-483 16h0m141-7h0m157 1h0m33 6h0m-272 24h0m7 5h0m84 4h0m229 4h0m-323 10h0m84-1h0m110 0h0m68 13h0m147 3h0m-99 14h0m-252 10h0m181 5h0m44-5h0m-101 21h0m99 5h0m-220 2h0m0 8h0m220-2h0m148 0h0m-464 12h0m6-3h0m55 2h0m18 0h0m387-3h0m68-5h0m-571 10h0m327 5h0m241 2h0m-558 11h0m206-7h0m5 2h0m299-1h0m-389 12h0m261 28h0m-17 12h0m-178 10h0m219 9h0m110 5h0m-201 6h0m175-3h0m18-1h0m-162 16h0m99-3h0m-388 10h0m317 5h0m44-2h0m-318 3h0m454 9h0m-249 3h0m33 0h0m169 5h0m40-6h0m-308 16h0m13-1h0m14 13h0m121 0h0m-382 3h0m461 3h0m-444 21h0m293-4h0m85 7h0m-383 3h0m59 4h0m-63 13h0m548-4h0m-259 19h0m-304 211h0m9 0h0m11 0h0m3 0h0m10 0h0m22 0h0m11 0h0m0 0h0m2 0h0m20 0h0m10 0h0m13 0h0m9 0h0m3 0h0m14 0h0m27 0h0m6 0h0m5 0h0m15 0h0m14 0h0m13 0h0m6 0h0m4 0h0m4 0h0m20 0h0m14 0h0m4 0h0m4 0h0m22 0h0m4 0h0m8 0h0m15 0h0m24 0h0m16 0h0m6 0h0m49 0h0m1 0h0m16 0h0m7 0h0m8 0h0m8 0h0m10 0h0m20 0h0m1 0h0m19 0h0m5 0h0m11 0h0m0 0h0m3 0h0m5 0h0" stroke="#000" stroke-width="22.5" stroke-linecap="round" fill="none"/></g>
<g transform="translate(1684.0,1374.9)"><path d="M0 0V-108.4" stroke="#333" stroke-width="1.4"/><path d="M-32.5 0H32.5" stroke="#333" stroke-width="1"/><path d="M-29.0 0H29.0" stroke="#000" stroke-width="3.36" stroke-linecap="round"/><path transform="scale(.1)" d="m-207-831h0m396 147h0m-461 118h0m167 236h0m-95 12h0" stroke="#000" stroke-width="22.5" stroke-linecap="round" fill="none"/></g>
<g transform="translate(1756.6,1374.9)"><path d="M0 0V-96.9" stroke="#333" stroke-width="1.4"/><path d="M-32.5 0H32.5" stroke="#333" stroke-width="1"/><path d="M-29.0 0H29.0" stroke="#000" stroke-width="2.08" stroke-linecap="round"/><path transform="scale(.1)" d="m99-967h0m-388 28h0m352 9h0m-250 15h0m229 23h0m-150 16h0m346-1h0m-115 127h0m19 23h0m132-5h0m-306 7h0m-173 18h0m224 42h0m-195 39h0m444 28h0m-57 100h0m6 7h0m-317 25h0m147-5h0m49 92h0m-304 37h0m283 19h0m-258 36h0m258 3h0m162 60h0" stroke="#000" stroke-width="22.5" stroke-linecap="round" fill="none"/></g>
<g transform="translate(1829.2,1374.9)"><path transform="scale(.1)" d="m-264 0h0m14 0h0m11 0h0m23 0h0m2 0h0m14 0h0m4 0h0m7 0h0m8 0h0m12 0h0m14 0h0m40 0h0m19 0h0m21 0h0m6 0h0m4 0h0m1 0h0m35 0h0m31 0h0m13 0h0m52 0h0m10 0h0m39 0h0m34 0h0m8 0h0m3 0h0m26 0h0m71 0h0m7 0h0m9 0h0" stroke="#000" stroke-width="22.5" stroke-linecap="round" fill="none"/></g>
<g transform="translate(1901.9,1374.9)"><path d="M0 0V-21.9" stroke="#333" stroke-width="1.4"/><path d="M-32.5 0H32.5" stroke="#333" stroke-width="1"/><path d="M-29.0 0H29.0" stroke="#000" stroke-width="2.56" stroke-linecap="round"/><path transform="scale(.1)" d="m119-215h0" stroke="#000" stroke-width="22.5" stroke-linecap="round" fill="none"/></g>
<g transform="translate(1974.5,1374.9)"><path d="M0 0V-81.2" stroke="#333" stroke-width="1.4"/><path d="M-32.5 0H32.5" stroke="#333" stroke-width="1"/><path d="M-29.0 0H29.0" stroke="#000" stroke-width="2.88" stroke-linecap="round"/><path transform="scale(.1)" d="m-263-808h0m462 15h0m-425 18h0m422 14h0m-464 26h0m61 5h0m-16 10h0m299 15h0m33-6h0m-356 31h0m242-5h0m-21 54h0m155 2h0m-83 16h0m-255 11h0m-50 29h0m329 7h0m-87 2h0m-154 36h0m295-5h0m-192 23h0m154 12h0m-217 20h0m102 20h0m120 4h0m-211 10h0m219 2h0m-255 24h0m29-1h0m406-5h0m-126 56h0m31 73h0m-192 15h0m28 2h0m105 6h0m103 18h0m-155 25h0m-273 5h0m468 8h0m-207 34h0" stroke="#000" stroke-width="22.5" stroke-linecap="round" fill="none"/></g>
<path d="M1567.6 1249.9V1380.9H2018.4" stroke="#2b2b2b" stroke-width="1.7" stroke-linejoin="round" fill="none"/>
<text x="1505.8" y="1442.1" font-size="22" text-anchor="middle" fill="#1a1a1a">TNFRSF14</text>
<g transform="translate(1611.3,1551.3)"><path d="M32.3 -0.0C32.4 -0.2 34.3 -0.6 32.8 -1.4C31.2 -2.2 26.8 -3.3 23.1 -4.6C19.3 -5.9 13.4 -7.7 10.4 -9.2C7.4 -10.8 5.7 -12.1 5.1 -13.8C4.5 -15.6 5.9 -17.3 6.9 -19.6C7.9 -21.9 10.1 -25.0 11.1 -27.7C12.0 -30.4 12.6 -33.1 12.7 -35.8C12.8 -38.4 12.3 -40.9 11.5 -43.8C10.8 -46.7 9.2 -50.0 8.1 -53.1C7.0 -56.1 5.9 -59.2 5.1 -62.3C4.3 -65.4 3.8 -68.1 3.2 -71.5C2.7 -75.0 2.2 -78.9 1.8 -83.0C1.5 -87.2 1.3 -94.2 1.2 -96.4L-1.2 -96.4C-1.3 -94.2 -1.5 -87.2 -1.8 -83.0C-2.2 -78.9 -2.7 -75.0 -3.2 -71.5C-3.8 -68.1 -4.3 -65.4 -5.1 -62.3C-5.9 -59.2 -7.0 -56.1 -8.1 -53.1C-9.2 -50.0 -10.8 -46.7 -11.5 -43.8C-12.3 -40.9 -12.8 -38.4 -12.7 -35.8C-12.6 -33.1 -12.0 -30.4 -11.1 -27.7C-10.1 -25.0 -7.9 -21.9 -6.9 -19.6C-5.9 -17.3 -4.5 -15.6 -5.1 -13.8C-5.7 -12.1 -7.4 -10.8 -10.4 -9.2C-13.4 -7.7 -19.3 -5.9 -23.1 -4.6C-26.8 -3.3 -31.2 -2.2 -32.8 -1.4C-34.3 -0.6 -32.4 -0.2 -32.3 -0.0Z" fill="#F8766D" stroke="#333" stroke-width="1.15" stroke-linejoin="round"/><path transform="scale(.1)" d="m-258-957h0m17 22h0m481 5h0m25-1h0m-420 23h0m266 3h0m23 13h0m-192 7h0m224 3h0m63 2h0m-204 15h0m111-7h0m-152 12h0m-187 10h0m487 1h0m-264 14h0m72 0h0m94 0h0m-390 24h0m42 9h0m184 3h0m266 9h0m-263 17h0m182 4h0m-348 4h0m271 1h0m-411 10h0m18 6h0m39 2h0m95-7h0m198 10h0m14-1h0m65 6h0m-289 13h0m321 0h0m-135 12h0m220 3h0m-296 6h0m-234 16h0m330-6h0m59 0h0m97 0h0m-127 10h0m-369 20h0m67 9h0m437-2h0m-79 11h0m-299 7h0m114 2h0m165-1h0m-409 7h0m103-2h0m60-1h0m-27 19h0m219-1h0m62-2h0m-192 12h0m83-1h0m25-5h0m159 5h0m-495 18h0m57 1h0m19-1h0m141 1h0m59-4h0m4 6h0m87 0h0m-310 4h0m171 4h0m164-6h0m30 4h0m-331 12h0m0-4h0m12 3h0m458 2h0m-536 11h0m256-1h0m87 1h0m14-9h0m-294 13h0m28-2h0m44 7h0m47-6h0m39 0h0m154 3h0m-285 13h0m1-7h0m64 3h0m50 2h0m37 2h0m77 1h0m-241 11h0m46-7h0m84-1h0m60 7h0m166 0h0m70-3h0m-398 10h0m115-1h0m21-2h0m13-1h0m29-1h0m178 2h0m61 2h0m12 0h0m-554 6h0m90 8h0m164-4h0m11 2h0m33-2h0m173-2h0m-439 9h0m29 5h0m124-4h0m182-2h0m66 1h0m-391 13h0m210-3h0m140-1h0m161 6h0m-518 8h0m48 0h0m73-3h0m282-1h0m88 4h0m-453 15h0m189-7h0m1-1h0m45 0h0m26 2h0m95-3h0m129 4h0m-528 6h0m38 2h0m118 7h0m88-9h0m70 8h0m67-5h0m83-1h0m-457 16h0m199-9h0m140 0h0m89 5h0m-441 11h0m17 4h0m8-4h0m83-2h0m118 3h0m33-3h0m7-4h0m124 7h0m-272 10h0m52 0h0m24 0h0m301 2h0m-322 4h0m109 1h0m50 3h0m33-1h0m6 3h0m97-8h0m-467 15h0m25-1h0m12 0h0m142-2h0m12-2h0m205 0h0m-374 17h0m243-4h0m66-3h0m47 1h0m21 7h0m-80 6h0m31-1h0m132 5h0m-421 3h0m59 5h0m32 2h0m158-3h0m50-5h0m109 3h0m-297 15h0m35 1h0m156-7h0m59 6h0m61-4h0m-419 14h0m60-5h0m212 3h0m122-1h0m19-1h0m53-3h0m-547 16h0m57 0h0m45 2h0m31-4h0m86-4h0m67 6h0m36-5h0m14-3h0m-337 19h0m113-3h0m12 4h0m28-5h0m49-3h0m110 3h0m39 3h0m53-6h0m98 1h0m27 1h0m-493 11h0m356-3h0m137 5h0m-443 3h0m461 0h0m-410 12h0m50 5h0m101-7h0m10 10h0m198-4h0m-433 10h0m77 1h0m39-7h0m117 2h0m19 2h0m53-4h0m80 9h0m-403 2h0m58 6h0m22-6h0m85 4h0m272-1h0m-403 12h0m20-1h0m73-1h0m35 2h0m83-6h0m20 8h0m147 0h0m-455 4h0m92 1h0m72 3h0m94 2h0m-178 12h0m19-4h0m55 3h0m12-2h0m37-2h0m260 0h0m26 0h0m40 3h0m-478 9h0m10-4h0m189 1h0m6-2h0m217 4h0m-461 7h0m62 6h0m41 1h0m14-7h0m326-2h0m-474 17h0m102 1h0m117-2h0m172-6h0m58 8h0m77-8h0m46 6h0m-546 8h0m181 3h0m89-6h0m114 1h0m79 5h0m25-2h0m50 0h0m-522 10h0m69-3h0m33-1h0m69 6h0m175-2h0m119 1h0m-320 7h0m15 3h0m220 0h0m87-2h0m-356 6h0m78 3h0m185 2h0m36-3h0m-262 11h0m216 4h0m153 2h0m-521 7h0m247-1h0m206 0h0m-336 14h0m352 9h0m-418 2h0m417 2h0m-484 7h0m-25 135h0m5 0h0m27 0h0m5 0h0m6 0h0m11 0h0m2 0h0m4 0h0m9 0h0m3 0h0m17 0h0m4 0h0m4 0h0m10 0h0m10 0h0m5 0h0m14 0h0m7 0h0m12 0h0m2 0h0m26 0h0m11 0h0m15 0h0m8 0h0m7 0h0m27 0h0m1 0h0m19 0h0m44 0h0m1 0h0m7 0h0m28 0h0m11 0h0m8 0h0m16 0h0m2 0h0m3 0h0m37 0h0m29 0h0m12 0h0m21 0h0m12 0h0m8 0h0m2 0h0m2 0h0m1 0h0m49 0h0m3 0h0m0 0h0m6 0h0" stroke="#000" stroke-width="22.5" stroke-linecap="round" fill="none"/></g>
<g transform="translate(1684.0,1551.3)"><path d="M32.3 -0.0C32.1 -0.3 34.3 -0.9 31.1 -1.8C28.0 -2.8 18.1 -4.3 13.4 -5.8C8.6 -7.2 4.6 -9.0 2.5 -10.4C0.5 -11.7 1.1 -11.7 0.9 -13.8C0.7 -16.0 1.2 -17.7 1.4 -23.1C1.6 -28.5 2.0 -38.4 2.1 -46.1C2.2 -53.8 2.0 -61.5 1.8 -69.2C1.7 -76.9 1.4 -84.0 1.2 -92.3C0.9 -100.5 0.5 -114.4 0.3 -118.8L-0.3 -118.8C-0.5 -114.4 -0.9 -100.5 -1.2 -92.3C-1.4 -84.0 -1.7 -76.9 -1.8 -69.2C-2.0 -61.5 -2.2 -53.8 -2.1 -46.1C-2.0 -38.4 -1.6 -28.5 -1.4 -23.1C-1.2 -17.7 -0.7 -16.0 -0.9 -13.8C-1.1 -11.7 -0.5 -11.7 -2.5 -10.4C-4.6 -9.0 -8.6 -7.2 -13.4 -5.8C-18.1 -4.3 -28.0 -2.8 -31.1 -1.8C-34.3 -0.9 -32.1 -0.3 -32.3 -0.0Z" fill="#B79F00" stroke="#333" stroke-width="1.15" stroke-linejoin="round"/><path d="M-29.0 0H29.0" stroke="#000" stroke-width="3.36" stroke-linecap="round"/><path transform="scale(.1)" d="m211-1054h0m-230 24h0m-83 10h0m12-1h0m56 3h0m-96 7h0m276-4h0m5 2h0m4 0h0m15 1h0m-439 8h0m36 5h0m139 5h0m39 8h0m-157 9h0m170-6h0m225 5h0m94 0h0m-527 12h0m168 0h0m245-6h0m-425 12h0m58-4h0m25 7h0m64 0h0m55-6h0m86 1h0m3 7h0m197-6h0m-309 7h0m4 1h0m154 5h0m11 1h0m161 1h0m11-1h0m2 1h0m-482 6h0m39 4h0m14 1h0m257-9h0m13 3h0m80 5h0m-419 2h0m2 5h0m10-2h0m11-3h0m24 5h0m34 1h0m11 0h0m26-1h0m88 2h0m21 2h0m57-1h0m53-4h0m51-4h0m16 4h0m57 2h0m-184 4h0m40 4h0m2 4h0m26-4h0m-350 10h0m54 1h0m12-2h0m309 2h0m51-5h0m25 8h0m26-4h0m-519 13h0m80 1h0m157-1h0m28 1h0m88-1h0m-305 2h0m336 3h0m-326 9h0m189 4h0m25 0h0m34-2h0m27-3h0m51 4h0m29-1h0m-397 11h0m3 1h0m27-3h0m45-1h0m90 7h0m344-1h0m-462 10h0m24 1h0m47-6h0m90 3h0m17 3h0m3-9h0m20 3h0m25-1h0m26 6h0m224 2h0m26-8h0m3 4h0m-551 8h0m37 5h0m43-9h0m72 8h0m87-2h0m46 3h0m111-8h0m37 4h0m85 0h0m30-1h0m-349 11h0m84-3h0m8 3h0m35-5h0m92 6h0m-435 11h0m32 2h0m161-2h0m71 3h0m54-7h0m10 7h0m13-4h0m84-2h0m127-1h0m9 0h0m-557 9h0m6-2h0m63 2h0m59 6h0m71-1h0m64 0h0m45 2h0m85-4h0m84 3h0m16-3h0m16 1h0m-417 6h0m6 3h0m4 1h0m4 1h0m69-7h0m48 10h0m21-5h0m5-3h0m0 7h0m107-7h0m32 5h0m88-1h0m41 3h0m0-3h0m18-5h0m-476 15h0m4-6h0m29 3h0m55 3h0m8-2h0m1 4h0m25 0h0m83-4h0m204 2h0m-456 8h0m69 3h0m18-5h0m36-2h0m76 1h0m101 2h0m36 0h0m21-2h0m67 6h0m32 1h0m14-6h0m15-1h0m-498 15h0m44-6h0m24 4h0m15 3h0m68-3h0m204 2h0m17 3h0m69-2h0m9-1h0m25 3h0m-358 1h0m140 1h0m47-1h0m53 5h0m116 4h0m49-2h0m13 2h0m-529 8h0m18 2h0m20-7h0m30-1h0m47 5h0m4-1h0m25-2h0m11 1h0m73 1h0m58 3h0m71 1h0m15-5h0m-371 9h0m21-2h0m2 3h0m8 2h0m62-1h0m115 4h0m79-8h0m66 0h0m56 8h0m95-1h0m20-2h0m17 1h0m-530 11h0m29-3h0m17-3h0m14 6h0m45-5h0m70 1h0m78 3h0m35-1h0m21-3h0m125-2h0m-431 15h0m2 1h0m40 1h0m134-8h0m30 5h0m10-1h0m88-2h0m8-1h0m14 8h0m26-3h0m39 2h0m1-3h0m3-2h0m33 3h0m1 2h0m98-7h0m-552 11h0m10 0h0m44 8h0m145-9h0m8 4h0m66-4h0m3 5h0m12-1h0m18-2h0m5 4h0m31 1h0m30-5h0m21 1h0m38 2h0m44-5h0m30 3h0m31-1h0m24-3h0m-554 19h0m4 1h0m8-7h0m4-1h0m45 4h0m138-2h0m60-1h0m4 3h0m10-2h0m14 2h0m67 2h0m50-6h0m29 6h0m62-3h0m41-3h0m-501 16h0m7 0h0m5 0h0m31-1h0m11-6h0m246 5h0m43 0h0m66 2h0m62-8h0m53 3h0m-558 12h0m12 1h0m55 0h0m12 0h0m55 1h0m28-3h0m92 1h0m24 2h0m24 0h0m3-2h0m89-1h0m77 2h0m36 0h0m2 4h0m1-2h0m40 0h0m-556 10h0m1-2h0m35-1h0m3-2h0m6 4h0m10-2h0m33 5h0m16-7h0m28 4h0m88 1h0m5-1h0m5-4h0m46 5h0m8 1h0m78 0h0m12-3h0m13-6h0m50 9h0m9-7h0m14 5h0m67-4h0m10 5h0m-535 12h0m9-8h0m12 6h0m6-3h0m7-1h0m63-1h0m48-2h0m8 8h0m56-8h0m4 4h0m7-4h0m90 6h0m18 3h0m29-5h0m103 3h0m34-7h0m19 4h0m28-4h0m-541 10h0m35 8h0m47-3h0m4 1h0m27-4h0m4 6h0m4-7h0m0-1h0m10 2h0m4 4h0m44-7h0m43 4h0m17 5h0m56-5h0m0-4h0m3 9h0m73-1h0m4-7h0m31 0h0m35 6h0m4-4h0m55-1h0m13 6h0m3-4h0m20 4h0m-535 9h0m3-6h0m19 4h0m36 0h0m5 1h0m13 1h0m8-1h0m1 3h0m15 0h0m20-1h0m10 1h0m32-5h0m17 5h0m36-3h0m47 3h0m7-5h0m5 3h0m70-2h0m23 1h0m13-2h0m27 3h0m6-3h0m21 2h0m13 1h0m24-5h0m6 5h0m7-4h0m26-1h0m31-1h0m-521 14h0m5 3h0m22 1h0m14 0h0m3-3h0m4 0h0m32-5h0m14 3h0m3-1h0m35 7h0m75-2h0m1-7h0m28 9h0m10-5h0m20-5h0m12 4h0m110 2h0m5-4h0m27 3h0m51 5h0m64-8h0m13 5h0m1-1h0m-567 6h0m20-2h0m15 9h0m9-7h0m11 7h0m8 0h0m4-8h0m10 2h0m5 3h0m7 1h0m5-5h0m54 3h0m4 2h0m4-1h0m6-2h0m9 0h0m12-4h0m30 3h0m5 2h0m55-2h0m55 0h0m7 3h0m39-1h0m21 4h0m20-8h0m1 8h0m8-4h0m0 0h0m6-4h0m37 4h0m16-4h0m13 7h0m41-5h0m14-3h0m6 5h0m9 0h0m-571 7h0m7 8h0m23-2h0m53-3h0m2-3h0m17 0h0m18 8h0m24-6h0m5 6h0m11-4h0m62-2h0m3-3h0m26 6h0m25-6h0m7 5h0m4-4h0m0-1h0m47 7h0m2-1h0m12-4h0m3 2h0m3 3h0m2-5h0m10 1h0m122-3h0m6 0h0m40 8h0m1-3h0m5-1h0m6 2h0m10-1h0m-553 6h0m3 4h0m37-1h0m48 4h0m0-8h0m6 1h0m16 5h0m5-4h0m12-2h0m15 5h0m2-4h0m1 7h0m6 0h0m10-6h0m31 0h0m13-2h0m35 7h0m0-6h0m1 4h0m11-2h0m14 6h0m10-3h0m17 3h0m1-9h0m8 3h0m40 6h0m23-9h0m9 9h0m26-4h0m18-1h0m14-4h0m17 8h0m8-3h0m15 4h0m14-9h0m0 8h0m7 0h0m31-4h0m4 4h0m3-7h0m15-2h0m9 9h0m9-6h0m2 6h0m1-1h0m-528 11h0m25-8h0m39 4h0m6 3h0m21-3h0m5 4h0m11 0h0m136-3h0m3 1h0m10 2h0m28-1h0m18-1h0m15-5h0m6 2h0m1-3h0m3-1h0m9 0h0m36 0h0m5 1h0m8 4h0m13-1h0m7-1h0m13 0h0m14 5h0m26-5h0m14-2h0m20 7h0m27-4h0m-562 11h0m26-4h0m2-1h0m6 5h0m9 1h0m1-4h0m14 2h0m22-2h0m6 0h0m5 4h0m35-6h0m37 7h0m12 3h0m7-8h0m10 3h0m29-3h0m13-1h0m7 5h0m9-4h0m30 7h0m28-9h0m33 1h0m3 2h0m8 4h0m1-3h0m7-4h0m17 5h0m17-3h0m17 3h0m16-3h0m3 3h0m8-3h0m5 4h0m3-4h0m0 6h0m18-3h0m7 1h0m2-5h0m2 1h0m17 3h0m31-2h0m24 4h0m1-1h0m-540 5h0m13 6h0m21 1h0m0-1h0m3 2h0m12-2h0m44 1h0m13 0h0m11-5h0m4 7h0m0-3h0m27-4h0m20 2h0m10-3h0m1 2h0m20-2h0m4 3h0m24 4h0m1-5h0m27 6h0m15-6h0m33-1h0m5-1h0m1 4h0m1 4h0m21 0h0m8-9h0m50 6h0m35-2h0m4-4h0m1 5h0m38-1h0m2 1h0m16 0h0m2-6h0m14 5h0m12 3h0m26-2h0m14-3h0m5 3h0m-510 11h0m18-6h0m2 7h0m7-2h0m24-2h0m17 0h0m18 5h0m15-8h0m27 1h0m11 1h0m5 0h0m3 1h0m6-2h0m1 5h0m3-5h0m1 3h0m4 1h0m5-5h0m2 3h0m6 6h0m9-5h0m21-4h0m16 1h0m15-1h0m5 1h0m22 8h0m28-2h0m22-3h0m6-3h0m21 4h0m12-3h0m20 3h0m8 4h0m15-10h0m3 2h0m38 1h0m30 4h0m6-2h0m24-3h0m24-1h0m-565 19h0m14-7h0m3 4h0m34-5h0m0 7h0m1-7h0m50 2h0m3 0h0m9 5h0m0-2h0m7-3h0m1 0h0m6-3h0m4 6h0m20-4h0m25 6h0m10-7h0m53 7h0m10-6h0m35 0h0m7 4h0m22 2h0m9-5h0m23 1h0m16 1h0m2-6h0m12 4h0m1-1h0m6 7h0m11-4h0m66-5h0m14 0h0m37-1h0m1 6h0m21 4h0m3-6h0m28 4h0m-571 11h0m16-1h0m35-5h0m4 4h0m19-5h0m2 5h0m7 0h0m20 0h0m7-2h0m64 0h0m1-4h0m19 5h0m9-3h0m1 6h0m1-2h0m6-4h0m31 3h0m8-4h0m8 1h0m39 5h0m23 0h0m2 0h0m3-3h0m2 4h0m5-8h0m22 5h0m4-3h0m16 1h0m4-2h0m11-1h0m4 2h0m4-1h0m15 0h0m7 3h0m0 2h0m2-2h0m31 3h0m9-6h0m21 5h0m2 0h0m20-5h0m2 5h0m12-1h0m10-4h0m30 3h0m6 0h0m0-4h0m4 1h0m1-1h0m3 7h0m-570 6h0m5 3h0m1 3h0m10-2h0m12-2h0m1-5h0m21 7h0m3 1h0m5-1h0m13-5h0m15 2h0m46 3h0m13 0h0m4-1h0m10-6h0m35 7h0m28-1h0m8-4h0m8-1h0m8 0h0m5 8h0m26-8h0m20 0h0m12 1h0m12 0h0m19 3h0m0 4h0m54-1h0m37-6h0m6 3h0m2 4h0m2-9h0m21 2h0m1 5h0m43 1h0m13-5h0m2-3h0m15 5h0m2-4h0m4-1h0m6 2h0m10 0h0m-566 7h0m60 1h0m45 3h0m15 5h0m19-2h0m0-6h0m8 9h0m24-3h0m5 1h0m1-7h0m14 5h0m33-3h0m35 1h0m12 0h0m3 6h0m3-6h0m9 2h0m42 2h0m1-7h0m3 0h0m31 4h0m25-1h0m2-2h0m20 1h0m30-2h0m5 1h0m7-2h0m32 1h0m2 6h0m10-6h0m12 8h0m0-4h0m3 3h0m20-2h0m-532 5h0m9 3h0m5-2h0m2 0h0m37 0h0m36 1h0m45 1h0m42-1h0m1 7h0m1-3h0m7-7h0m2 4h0m0 4h0m8-7h0m7 7h0m16 1h0m35-1h0m4-3h0m10-4h0m19 8h0m24 0h0m29 1h0m0-8h0m14 6h0m41-3h0m24-4h0m14 8h0m1-3h0m19 4h0m1-3h0m5-4h0m15 1h0m18 2h0m5 2h0m5-2h0m44-4h0m4 5h0m11 2h0m7-6h0m2-1h0m7 2h0m0-2h0m-535 10h0m10-1h0m20 9h0m22-4h0m50 1h0m1-2h0m8-2h0m14-2h0m6 2h0m16 1h0m22 4h0m1-1h0m37-4h0m6 4h0m4 2h0m5 0h0m37-3h0m2 0h0m7 0h0m17 1h0m10 1h0m6-7h0m0 0h0m26-1h0m16 3h0m36 6h0m22 1h0m27-2h0m0-1h0m1-5h0m0 6h0m22-2h0m8-5h0m3 7h0m40-5h0m5 0h0m30 2h0m-560 7h0m21 1h0m1-2h0m34 1h0m28 3h0m3-2h0m7 0h0m7 5h0m25-7h0m2 6h0m20-3h0m6 1h0m1 3h0m14-2h0m2-2h0m16 0h0m5 5h0m2-6h0m16 3h0m67 1h0m27 2h0m13-1h0m32-6h0m0 4h0m13-3h0m0-2h0m1 3h0m0-2h0m48 3h0m2 2h0m16-2h0m13-3h0m4-1h0m2 4h0m23-4h0m19 8h0m32-6h0m5 4h0m1-7h0m9 9h0m2-7h0m-495 16h0m35 0h0m17-5h0m13 0h0m9 0h0m0 6h0m3 0h0m15-1h0m3-6h0m20-1h0m25 8h0m40-9h0m11 6h0m12-3h0m5 0h0m30 5h0m10-7h0m12 7h0m42-5h0m1 7h0m0-7h0m7 1h0m28-2h0m32 7h0m3-2h0m2-5h0m9 0h0m30-2h0m2 2h0m14-1h0m20 7h0m14-8h0m5 1h0m23 2h0m-553 13h0m4 3h0m2-1h0m7 0h0m6-3h0m2-2h0m1 0h0m7 3h0m6-2h0m5 4h0m20 1h0m5-2h0m36-5h0m2 5h0m49-1h0m2 4h0m8-7h0m28 5h0m0-6h0m7 6h0m3 0h0m4-4h0m3 4h0m18-1h0m10-3h0m9 2h0m4 2h0m17-3h0m23-4h0m7 2h0m5 6h0m12-5h0m2-1h0m4 4h0m17-5h0m7 6h0m3-7h0m48 4h0m9 5h0m3 0h0m10-2h0m3-2h0m23 0h0m9-4h0m5 4h0m14 0h0m22-2h0m5 0h0m12 1h0m20 1h0m-525 7h0m44 0h0m19-2h0m3 4h0m93-1h0m14 4h0m3-8h0m6 9h0m69-3h0m13 1h0m1-6h0m7 6h0m9-6h0m18 2h0m13-3h0m8 4h0m4 2h0m0-2h0m37 1h0m12 5h0m4-4h0m6-5h0m1 1h0m1 6h0m1-8h0m6 0h0m5 0h0m5 4h0m1-4h0m42 7h0m7-6h0m37 7h0m4 0h0m17-7h0m20 4h0m27-5h0m1 0h0m8 3h0m-534 9h0m13-1h0m77 6h0m10-1h0m1-5h0m15 4h0m7 3h0m44-7h0m1 0h0m8 4h0m36 2h0m5-2h0m75 0h0m0 4h0m8-7h0m17 7h0m11-4h0m36 0h0m28-5h0m5 5h0m16 0h0m15 3h0m37 0h0m24-6h0m33 1h0m15 3h0m-567 7h0m24 0h0m29-1h0m14 4h0m18-5h0m9 4h0m8-2h0m8-3h0m42 4h0m57-2h0m32 0h0m6 5h0m12-1h0m42 0h0m15-4h0m4 4h0m1 0h0m28-5h0m7 2h0m4 2h0m2 2h0m85 1h0m28 2h0m6-7h0m19-2h0m7 2h0m25 6h0m23-3h0m-529 11h0m16-1h0m4 3h0m15 0h0m1-5h0m14 0h0m1-1h0m40 5h0m9 1h0m24 0h0m6-7h0m12 1h0m12 6h0m19-2h0m48-1h0m6-6h0m1 4h0m11-2h0m10-1h0m9 3h0m63-1h0m1-3h0m34 6h0m6-6h0m15 3h0m3 5h0m10 2h0m10-2h0m15-6h0m2 6h0m29-3h0m1-1h0m45-2h0m7 5h0m3-2h0m6 4h0m26-4h0m-556 8h0m11-2h0m14 1h0m23 1h0m6 0h0m7 7h0m8-9h0m8 4h0m21-1h0m10 0h0m2 1h0m12-1h0m1 0h0m56 6h0m5-3h0m6 0h0m10-4h0m12-1h0m1 5h0m27 2h0m33-7h0m19 7h0m10-4h0m1-2h0m57-2h0m5 5h0m3-1h0m20 0h0m63 1h0m50 2h0m10-1h0m5 3h0m13-9h0m13 5h0m2-2h0m10 2h0m-565 14h0m40-8h0m5 6h0m6-6h0m7 3h0m5 4h0m6 1h0m3-3h0m18-1h0m11 1h0m7 2h0m2-7h0m10-1h0m12 9h0m57-4h0m34-1h0m24-1h0m4 5h0m6-1h0m12-2h0m5 0h0m0-4h0m28 3h0m14-4h0m8 6h0m18 0h0m1-7h0m1 6h0m29-5h0m1 1h0m34 3h0m0-3h0m8 2h0m5 3h0m16-7h0m5 1h0m9 0h0m4 3h0m25-3h0m1 1h0m14 4h0m11 4h0m20-10h0m17 1h0m2 1h0m12 7h0m5-6h0m4-2h0m-559 17h0m24-7h0m4 0h0m30 7h0m5-6h0m54 5h0m21-1h0m11 1h0m36-1h0m1-2h0m1-3h0m14 3h0m9 1h0m6 5h0m24-2h0m2-3h0m31-2h0m12 2h0m3 4h0m54-2h0m6-4h0m4 5h0m11-5h0m8 1h0m2 0h0m1 6h0m17-4h0m5-3h0m23 6h0m1-7h0m2 8h0m29-9h0m5 4h0m4 4h0m17-6h0m2-1h0m39 0h0m1 6h0m11 0h0m16-8h0m2 3h0m-550 14h0m55-6h0m0 0h0m37 0h0m0 4h0m42 1h0m1 1h0m4-6h0m43 3h0m15-2h0m35 7h0m14-6h0m3 2h0m19 3h0m1-3h0m50 0h0m5 5h0m7-6h0m2-2h0m16 7h0m7-1h0m25 1h0m24-3h0m1-5h0m4 5h0m9-5h0m1 1h0m10 4h0m3-5h0m12 2h0m22-2h0m18 6h0m2-2h0m1-5h0m5 8h0m16-6h0m5 5h0m5-2h0m41 2h0m-557 4h0m4 3h0m4 6h0m2-2h0m11-6h0m5 1h0m14 2h0m1-5h0m30 8h0m1-6h0m5 4h0m61-1h0m1 0h0m33-4h0m57 0h0m17 5h0m4-3h0m11 1h0m9 5h0m3-3h0m17 1h0m2-4h0m26 7h0m28-2h0m30-6h0m4 4h0m21-2h0m33 2h0m16-1h0m41-1h0m13-4h0m41 4h0m2-3h0m-554 9h0m21 2h0m2 8h0m20-6h0m27-4h0m6 2h0m3 4h0m28 1h0m6-6h0m34 2h0m12 0h0m2-1h0m36 1h0m1 2h0m3 2h0m5-3h0m7-1h0m7 7h0m2-6h0m17 2h0m6-2h0m5-2h0m12 5h0m4 1h0m5-1h0m3-1h0m16-5h0m6 8h0m46-3h0m13-4h0m5-2h0m69 4h0m13-1h0m1 0h0m3 6h0m3-6h0m27 0h0m4 5h0m22-8h0m55 2h0m2-1h0m1 1h0m-553 17h0m28-3h0m4 0h0m18 1h0m2-6h0m0 7h0m13-5h0m23 0h0m23-1h0m5 0h0m1 7h0m1-7h0m2-2h0m4 10h0m28-1h0m2 0h0m20-6h0m2-2h0m0 4h0m11-4h0m74 3h0m31 6h0m10-9h0m8 4h0m3-4h0m9 7h0m18-3h0m8-3h0m64 6h0m0-5h0m5 1h0m38-3h0m2 8h0m36-4h0m14 0h0m32 5h0m15-5h0m11 5h0m0-7h0m6 7h0m-493 5h0m4 4h0m18-9h0m4 5h0m8-2h0m3 2h0m35 1h0m0-5h0m2 9h0m2-2h0m7 1h0m7-4h0m15 4h0m11-2h0m20 0h0m8-1h0m4-5h0m18 0h0m32 8h0m15-2h0m14 0h0m2 3h0m10-2h0m5-5h0m50-3h0m38 10h0m19-3h0m3-3h0m12 1h0m38 0h0m24 0h0m38-1h0m19 2h0m-568 13h0m19 1h0m12-8h0m13 7h0m32-5h0m3-3h0m10 6h0m6 2h0m6 0h0m5-7h0m2 3h0m13-3h0m14-1h0m36 8h0m47-8h0m7-1h0m9 9h0m8-4h0m11 1h0m21-1h0m7-3h0m2 3h0m20 2h0m17-1h0m16 1h0m3-6h0m9 6h0m0-5h0m38 6h0m11-5h0m3 1h0m3 2h0m27 1h0m22-2h0m10 0h0m7 4h0m15-2h0m25 2h0m21-3h0m15-3h0m7 0h0m22 2h0m-558 6h0m10 3h0m9 0h0m11 6h0m29-10h0m57 2h0m1 1h0m32 5h0m3-7h0m6-1h0m42 9h0m11 0h0m20-6h0m36 5h0m5-4h0m5 5h0m52-2h0m13 3h0m43-2h0m3 0h0m19 1h0m79-2h0m20-1h0m21 0h0m-542 10h0m9-6h0m51 8h0m3-6h0m8 0h0m9 0h0m9 1h0m9-2h0m4 4h0m33 3h0m4-6h0m18 8h0m11-5h0m31 5h0m20-6h0m1 5h0m16-3h0m17-4h0m16 1h0m32 2h0m8 2h0m8 1h0m2-2h0m30-4h0m6 1h0m14 1h0m36-1h0m5 2h0m1 4h0m15-9h0m6 2h0m6 1h0m18 7h0m12 0h0m30-2h0m2-4h0m29-3h0m0 7h0m-532 5h0m7 1h0m1-3h0m8 7h0m0-5h0m3 1h0m26-1h0m20-3h0m9 1h0m37 4h0m34 3h0m22-5h0m5-1h0m6 6h0m19-7h0m14 8h0m5 0h0m82-8h0m0 4h0m4 2h0m21-1h0m11 1h0m1 2h0m11-8h0m5 7h0m23-7h0m5 1h0m8 5h0m11-2h0m2 1h0m36-1h0m32-3h0m2 2h0m16-1h0m45 2h0m48-2h0m-574 9h0m0-1h0m9 4h0m8-2h0m1 3h0m12 3h0m12-1h0m2-8h0m12 6h0m2-5h0m1 7h0m29 1h0m10-2h0m27 2h0m7-3h0m1-4h0m3 6h0m2-7h0m4 5h0m3 0h0m7-4h0m5 7h0m6-4h0m6 5h0m9-6h0m6-3h0m33 8h0m9-6h0m2-2h0m3 7h0m11 0h0m12-4h0m90 6h0m9-4h0m21 2h0m3-7h0m4 0h0m52 9h0m7-4h0m11 4h0m8-7h0m29 2h0m5 3h0m20 0h0m28-4h0m1 2h0m6-3h0m22-1h0m-503 18h0m27-2h0m7-4h0m19-1h0m3 3h0m13 2h0m36 0h0m8-6h0m14 6h0m22-5h0m5 6h0m17-2h0m5 3h0m2-8h0m17 7h0m5-4h0m21-1h0m32 4h0m8-3h0m69-2h0m46-2h0m10 6h0m25-5h0m28 7h0m15-6h0m9 3h0m12-4h0m-503 15h0m31 2h0m22-5h0m1 1h0m35-5h0m20 1h0m2 6h0m8 1h0m45 0h0m2-3h0m6 5h0m24-7h0m0 4h0m20-2h0m20 4h0m26-3h0m31 0h0m1-5h0m11 4h0m3 0h0m19-3h0m61 8h0m11-10h0m2 3h0m34-1h0m21 0h0m9 6h0m14 0h0m23 2h0m8-9h0m13 9h0m5-9h0m-571 17h0m5-3h0m19 2h0m2-6h0m6-1h0m24 2h0m10 6h0m7-7h0m7 2h0m4 5h0m3-6h0m8 3h0m19-3h0m0 6h0m31-5h0m28 1h0m4 2h0m12 4h0m3-4h0m12 1h0m5 0h0m7-2h0m5 1h0m5-1h0m5 1h0m10-5h0m29 4h0m2 2h0m10-4h0m5 2h0m7 2h0m9 2h0m2-4h0m2 3h0m5-6h0m6 4h0m15 3h0m26 0h0m9-8h0m12 2h0m5 0h0m9 5h0m53-5h0m27 6h0m21 0h0m13-5h0m6 2h0m25 1h0m1-6h0m34 9h0m-574 1h0m3 5h0m13-4h0m19-2h0m22 5h0m24 5h0m36-2h0m23-3h0m3 1h0m54 3h0m23-6h0m6-3h0m30 6h0m30 0h0m69 0h0m6 2h0m4-4h0m3 5h0m7-4h0m20 0h0m1 0h0m22-1h0m26 2h0m4-4h0m2-1h0m9 6h0m23 2h0m4-7h0m4-1h0m3 3h0m12 1h0m7 1h0m13-6h0m17 5h0m18-2h0m9 2h0m-567 6h0m24 0h0m9 9h0m27-4h0m12-2h0m24 3h0m25-6h0m103 8h0m2-8h0m18 2h0m10 6h0m53-8h0m35 2h0m24-2h0m36 8h0m0 0h0m23-9h0m16 5h0m11-3h0m4 2h0m18 6h0m46-1h0m-473 10h0m86-7h0m5 2h0m1 2h0m19 0h0m19 3h0m5-2h0m2-7h0m168 4h0m32 5h0m37-2h0m35-4h0m91 6h0m19-8h0m-487 14h0m0 4h0m30-1h0m3-1h0m41-1h0m11-5h0m73 2h0m17-1h0m23-1h0m24 8h0m12-7h0m67 7h0m3-3h0m19 1h0m24-2h0m11 4h0m54 0h0m2-6h0m8 2h0m28 5h0m-432 7h0m187 1h0m153-7h0m78 2h0m-415 12h0m4 2h0m0-4h0m62 4h0m6-6h0m109 0h0m8 4h0m141-3h0m59 2h0m-487 16h0m168-5h0m81-2h0m147 4h0m170-6h0m-545 14h0m155 1h0m93-2h0m93-4h0m56 1h0m55-1h0m51 18h0" stroke="#000" stroke-width="22.5" stroke-linecap="round" fill="none"/></g>
<g transform="translate(1756.6,1551.3)"><path d="M32.3 -0.0C32.4 -0.2 33.9 -0.6 32.8 -1.4C31.6 -2.2 28.1 -3.3 25.4 -4.6C22.6 -5.9 18.5 -7.7 16.1 -9.2C13.8 -10.8 12.3 -12.1 11.5 -13.8C10.8 -15.6 11.1 -17.3 11.5 -19.6C12.0 -21.9 13.6 -24.8 14.3 -27.7C15.0 -30.6 15.7 -33.8 15.7 -36.9C15.7 -40.0 15.2 -43.1 14.3 -46.1C13.4 -49.2 11.8 -52.3 10.4 -55.4C9.0 -58.4 7.0 -61.9 5.8 -64.6C4.5 -67.3 3.4 -68.9 2.8 -71.5C2.1 -74.1 2.0 -78.8 1.8 -80.3L-1.8 -80.3C-2.0 -78.8 -2.1 -74.1 -2.8 -71.5C-3.4 -68.9 -4.5 -67.3 -5.8 -64.6C-7.0 -61.9 -9.0 -58.4 -10.4 -55.4C-11.8 -52.3 -13.4 -49.2 -14.3 -46.1C-15.2 -43.1 -15.7 -40.0 -15.7 -36.9C-15.7 -33.8 -15.0 -30.6 -14.3 -27.7C-13.6 -24.8 -12.0 -21.9 -11.5 -19.6C-11.1 -17.3 -10.8 -15.6 -11.5 -13.8C-12.3 -12.1 -13.8 -10.8 -16.1 -9.2C-18.5 -7.7 -22.6 -5.9 -25.4 -4.6C-28.1 -3.3 -31.6 -2.2 -32.8 -1.4C-33.9 -0.6 -32.4 -0.2 -32.3 -0.0Z" fill="#00BA38" stroke="#333" stroke-width="1.15" stroke-linejoin="round"/><path transform="scale(.1)" d="m-42-782h0m102 14h0m213 32h0m-123 12h0m-238 18h0m105 1h0m-303 16h0m545 3h0m-484 22h0m318 5h0m143 18h0m-229 11h0m234-4h0m5 4h0m-442 11h0m82-4h0m-60 11h0m70 8h0m-135 13h0m274 15h0m-59 15h0m254-2h0m19 9h0m3 8h0m-441 3h0m359 4h0m-75 11h0m-54 10h0m134-2h0m-291 8h0m-12 16h0m160-3h0m161-2h0m1 13h0m-12 8h0m-109 21h0m-120 9h0m-239 8h0m561 3h0m-498 17h0m343 5h0m-72 5h0m177 4h0m-171 7h0m-267 42h0m160-5h0m3 3h0m232 2h0m-405 12h0m356-3h0m-269 12h0m6 0h0m386 9h0m-161 7h0m101 1h0m10 2h0m-133 11h0m81-3h0m35 15h0m-260 2h0m170 6h0m61-4h0m-248 7h0m377 3h0m-264 7h0m52 10h0m32-7h0m-339 14h0m463 8h0m-276 9h0m182-3h0m96 0h0m-389 10h0m314-1h0m-5 10h0m-326 21h0m31 16h0m149-4h0m-298 192h0m6 0h0m29 0h0m15 0h0m16 0h0m19 0h0m35 0h0m21 0h0m2 0h0m22 0h0m13 0h0m11 0h0m5 0h0m24 0h0m10 0h0m25 0h0m4 0h0m26 0h0m3 0h0m13 0h0m5 0h0m20 0h0m8 0h0m16 0h0m11 0h0m5 0h0m25 0h0m26 0h0m42 0h0m10 0h0m3 0h0m4 0h0m3 0h0m8 0h0m62 0h0" stroke="#000" stroke-width="22.5" stroke-linecap="round" fill="none"/></g>
<g transform="translate(1829.2,1551.3)"><path d="M32.3 -0.0C32.4 -0.2 33.7 -0.6 32.8 -1.4C31.8 -2.2 29.3 -3.1 26.5 -4.6C23.8 -6.1 19.2 -8.3 16.1 -10.4C13.1 -12.5 10.0 -15.0 8.1 -17.3C6.2 -19.6 5.3 -21.7 4.6 -24.2C4.0 -26.7 4.2 -29.4 4.2 -32.3C4.2 -35.2 4.7 -38.4 4.6 -41.5C4.6 -44.6 4.0 -47.3 3.9 -50.7C3.8 -54.2 4.0 -58.8 4.2 -62.3C4.3 -65.7 4.8 -68.4 5.1 -71.5C5.3 -74.6 5.5 -77.7 5.5 -80.7C5.6 -83.8 5.7 -86.9 5.5 -90.0C5.4 -93.0 5.0 -96.1 4.6 -99.2C4.3 -102.3 3.7 -106.3 3.5 -108.4C3.2 -110.5 3.3 -111.3 3.2 -111.9L-3.2 -111.9C-3.3 -111.3 -3.2 -110.5 -3.5 -108.4C-3.7 -106.3 -4.3 -102.3 -4.6 -99.2C-5.0 -96.1 -5.4 -93.0 -5.5 -90.0C-5.7 -86.9 -5.6 -83.8 -5.5 -80.7C-5.5 -77.7 -5.3 -74.6 -5.1 -71.5C-4.8 -68.4 -4.3 -65.7 -4.2 -62.3C-4.0 -58.8 -3.8 -54.2 -3.9 -50.7C-4.0 -47.3 -4.6 -44.6 -4.6 -41.5C-4.7 -38.4 -4.2 -35.2 -4.2 -32.3C-4.2 -29.4 -4.0 -26.7 -4.6 -24.2C-5.3 -21.7 -6.2 -19.6 -8.1 -17.3C-10.0 -15.0 -13.1 -12.5 -16.1 -10.4C-19.2 -8.3 -23.8 -6.1 -26.5 -4.6C-29.3 -3.1 -31.8 -2.2 -32.8 -1.4C-33.7 -0.6 -32.4 -0.2 -32.3 -0.0Z" fill="#00BFC4" stroke="#333" stroke-width="1.15" stroke-linejoin="round"/><path transform="scale(.1)" d="m-197-990h0m79 116h0m-44 10h0m310 27h0m-237 298h0m143 86h0m-324 453h0m23 0h0m27 0h0m51 0h0m11 0h0m18 0h0m43 0h0m51 0h0m1 0h0m18 0h0m9 0h0m109 0h0m37 0h0m18 0h0m46 0h0" stroke="#000" stroke-width="22.5" stroke-linecap="round" fill="none"/></g>
<g transform="translate(1901.9,1551.3)"><path d="M32.3 -0.0C32.3 -0.2 33.3 -0.8 32.3 -1.4C31.3 -2.0 29.4 -2.6 26.5 -3.5C23.6 -4.3 18.0 -5.5 15.0 -6.5C12.0 -7.4 10.3 -8.0 8.5 -9.2C6.8 -10.5 4.5 -12.3 4.4 -13.8C4.3 -15.4 5.5 -16.9 8.1 -18.5C10.6 -20.0 15.8 -21.3 19.6 -23.1C23.5 -24.8 28.9 -26.9 31.1 -28.8C33.4 -30.8 32.9 -32.7 33.0 -34.6C33.1 -36.5 32.7 -37.9 31.8 -40.4C30.9 -42.9 29.5 -46.1 27.7 -49.6C25.8 -53.1 23.5 -57.9 20.8 -61.1C18.1 -64.4 14.3 -66.7 11.5 -69.2C8.7 -71.7 5.5 -73.6 3.9 -76.1C2.3 -78.6 2.5 -80.7 2.1 -84.2C1.6 -87.7 1.3 -95.2 1.2 -97.3L-1.2 -97.3C-1.3 -95.2 -1.6 -87.7 -2.1 -84.2C-2.5 -80.7 -2.3 -78.6 -3.9 -76.1C-5.5 -73.6 -8.7 -71.7 -11.5 -69.2C-14.3 -66.7 -18.1 -64.4 -20.8 -61.1C-23.5 -57.9 -25.8 -53.1 -27.7 -49.6C-29.5 -46.1 -30.9 -42.9 -31.8 -40.4C-32.7 -37.9 -33.1 -36.5 -33.0 -34.6C-32.9 -32.7 -33.4 -30.8 -31.1 -28.8C-28.9 -26.9 -23.5 -24.8 -19.6 -23.1C-15.8 -21.3 -10.6 -20.0 -8.1 -18.5C-5.5 -16.9 -4.3 -15.4 -4.4 -13.8C-4.5 -12.3 -6.8 -10.5 -8.5 -9.2C-10.3 -8.0 -12.0 -7.4 -15.0 -6.5C-18.0 -5.5 -23.6 -4.3 -26.5 -3.5C-29.4 -2.6 -31.3 -2.0 -32.3 -1.4C-33.3 -0.8 -32.3 -0.2 -32.3 -0.0Z" fill="#619CFF" stroke="#333" stroke-width="1.15" stroke-linejoin="round"/><path d="M-29.0 0H29.0" stroke="#000" stroke-width="2.08" stroke-linecap="round"/><path transform="scale(.1)" d="m73-906h0m199 3h0m-285 10h0m-104 35h0m390-5h0m-141 47h0m-349 15h0m393 3h0m-188 14h0m258 8h0m-495 23h0m437 6h0m-446 6h0m76-3h0m118 2h0m324 10h0m-500 11h0m167 1h0m18 8h0m65-1h0m127 2h0m5 2h0m105-5h0m-466 11h0m186 0h0m118 2h0m14-3h0m-351 9h0m29 8h0m226-1h0m35 1h0m-52 10h0m27-8h0m-216 17h0m139 2h0m-205 10h0m20-8h0m154 5h0m101-2h0m-183 9h0m213 7h0m91-4h0m-318 7h0m47 4h0m61-6h0m15 3h0m54 0h0m6 3h0m45-5h0m76 5h0m145 3h0m-350 8h0m22-2h0m40-5h0m57 5h0m124 2h0m-384 6h0m39 1h0m47 1h0m45 3h0m135 0h0m59-5h0m79 1h0m1-3h0m3 0h0m43 5h0m-492 3h0m6 6h0m65 1h0m230 1h0m68-4h0m-338 15h0m52-7h0m109-2h0m77 4h0m129-4h0m29 3h0m111 4h0m-527 9h0m25 3h0m75-2h0m6 3h0m131-1h0m-223 9h0m15-4h0m117 3h0m26 1h0m11-4h0m40-1h0m22 3h0m6 3h0m82-2h0m14-6h0m85-1h0m94 2h0m-460 14h0m27-1h0m12-1h0m7 1h0m127 0h0m-265 11h0m36-4h0m9 1h0m27 2h0m8 2h0m4-6h0m134 3h0m17-3h0m18 2h0m84 7h0m32-7h0m36 5h0m-309 7h0m55 1h0m3-5h0m22 4h0m73 4h0m2-1h0m12-3h0m13 0h0m32 3h0m16-5h0m60-1h0m27 2h0m148 0h0m2-3h0m-532 18h0m100-6h0m32 3h0m70 1h0m150-2h0m68 1h0m46-5h0m10 7h0m37-2h0m-530 13h0m39-7h0m31-1h0m47-1h0m5 3h0m32-3h0m48 8h0m133-5h0m209 5h0m9 2h0m-518 1h0m60 0h0m18 7h0m83-8h0m3 5h0m34 4h0m173-2h0m121-2h0m-460 12h0m63 0h0m22-7h0m54 1h0m101 0h0m58 3h0m36 4h0m91-1h0m28-7h0m11 1h0m-489 12h0m49 1h0m54 1h0m27 3h0m157-6h0m26 4h0m17 2h0m81-2h0m47-5h0m46 1h0m1 2h0m-560 12h0m15-6h0m49 1h0m62 4h0m15-2h0m15 6h0m78-1h0m35-4h0m29 0h0m64 0h0m26 2h0m35-5h0m67 7h0m60-2h0m-541 9h0m19 0h0m59 4h0m40 0h0m96-2h0m34 2h0m10-8h0m203 7h0m35-5h0m-451 8h0m12 9h0m228-5h0m21-1h0m4-1h0m82 1h0m154 1h0m-543 11h0m10 1h0m88 0h0m35-3h0m172-3h0m1 3h0m79-3h0m69 7h0m95-5h0m15-1h0m-507 14h0m41-3h0m171 0h0m87 5h0m78-8h0m120 2h0m-538 9h0m18 1h0m4-1h0m25 4h0m53-1h0m33 4h0m31-6h0m40 2h0m138 0h0m3 2h0m3 2h0m32-7h0m29 8h0m7-9h0m37 8h0m45-3h0m-463 9h0m46-3h0m90 7h0m17-8h0m120 8h0m187-7h0m31 8h0m-438 3h0m59 4h0m70 1h0m12 1h0m12 2h0m19-4h0m25 2h0m22-8h0m19 5h0m28 1h0m-309 14h0m66 0h0m41-2h0m342-7h0m-519 13h0m101 2h0m125 4h0m16-2h0m5 0h0m69-7h0m86 0h0m150 1h0m-394 16h0m42 2h0m34-6h0m55-1h0m36 1h0m81-4h0m159 7h0m-567 8h0m12 2h0m60-2h0m87 1h0m19 0h0m57 3h0m166-4h0m80 3h0m22-8h0m27 5h0m12-3h0m-535 12h0m99 5h0m72-2h0m7-5h0m75 8h0m40-2h0m1 1h0m69-3h0m9-5h0m81 4h0m-453 13h0m55-1h0m62 1h0m20-8h0m114 8h0m123-6h0m3 3h0m88 3h0m83-5h0m7 1h0m-460 7h0m20 8h0m29-1h0m3 0h0m63-2h0m21-1h0m118 2h0m15-6h0m49 4h0m8 4h0m17-5h0m-357 11h0m5 0h0m28-3h0m77 3h0m65 3h0m27-5h0m55 0h0m100 2h0m52 3h0m-387 3h0m17 0h0m89 1h0m52 2h0m1 1h0m23 0h0m42-1h0m17-4h0m184 8h0m-446 8h0m194-4h0m37 6h0m36-8h0m23 5h0m109-1h0m-331 10h0m117 5h0m53 1h0m99-2h0m26-8h0m14 10h0m23-1h0m9-7h0m55-1h0m20 4h0m-548 13h0m138 0h0m59-6h0m22 5h0m22-1h0m118 1h0m53 0h0m-349 10h0m20-7h0m0 6h0m9-4h0m165-1h0m78 8h0m29-4h0m27 3h0m138-7h0m-547 17h0m96-3h0m128 3h0m31 2h0m1-2h0m129-2h0m116 0h0m-472 5h0m18 5h0m44-1h0m117 2h0m47-3h0m27 3h0m69-3h0m150 4h0m48-8h0m5 4h0m-444 7h0m6 3h0m104 6h0m132-8h0m22 8h0m72-8h0m5 5h0m55-2h0m59-1h0m-571 10h0m117 1h0m43 1h0m38-6h0m13 7h0m150-6h0m2 6h0m119 1h0m53-8h0m10 3h0m16-1h0m13 8h0m-471 8h0m122-1h0m42 0h0m110-5h0m110 7h0m28-8h0m26 2h0m-451 10h0m44 4h0m4 0h0m212 2h0m56-5h0m61 0h0m94-3h0m-536 16h0m2-4h0m5 3h0m78-4h0m35 1h0m61-2h0m58 1h0m58 4h0m211-1h0m-395 6h0m23 5h0m175 3h0m146-2h0m56-5h0m19 2h0m-533 8h0m391 3h0m119 0h0m20-2h0m-329 14h0m29-2h0m120 4h0m99-1h0m4 1h0m71-3h0m-307 11h0m-108 10h0m65-3h0m174-3h0m113 2h0m32 1h0m23 2h0m-67 8h0m52 7h0" stroke="#000" stroke-width="22.5" stroke-linecap="round" fill="none"/></g>
<g transform="translate(1974.5,1551.3)"><path d="M32.3 -0.0C32.3 -0.2 34.4 -0.6 32.3 -1.4C30.2 -2.2 23.5 -3.5 19.6 -4.6C15.8 -5.7 11.8 -6.7 9.2 -8.1C6.7 -9.4 4.7 -11.0 4.2 -12.7C3.6 -14.4 4.9 -16.3 5.8 -18.5C6.6 -20.6 8.5 -22.7 9.2 -25.4C10.0 -28.1 10.5 -31.5 10.4 -34.6C10.3 -37.7 9.5 -40.8 8.8 -43.8C8.0 -46.9 6.7 -50.0 5.8 -53.1C4.9 -56.1 4.1 -59.2 3.5 -62.3C2.8 -65.4 2.3 -68.1 1.8 -71.5C1.4 -75.0 1.2 -79.4 0.9 -83.0C0.7 -86.7 0.5 -91.7 0.5 -93.4L-0.5 -93.4C-0.5 -91.7 -0.7 -86.7 -0.9 -83.0C-1.2 -79.4 -1.4 -75.0 -1.8 -71.5C-2.3 -68.1 -2.8 -65.4 -3.5 -62.3C-4.1 -59.2 -4.9 -56.1 -5.8 -53.1C-6.7 -50.0 -8.0 -46.9 -8.8 -43.8C-9.5 -40.8 -10.3 -37.7 -10.4 -34.6C-10.5 -31.5 -10.0 -28.1 -9.2 -25.4C-8.5 -22.7 -6.6 -20.6 -5.8 -18.5C-4.9 -16.3 -3.6 -14.4 -4.2 -12.7C-4.7 -11.0 -6.7 -9.4 -9.2 -8.1C-11.8 -6.7 -15.8 -5.7 -19.6 -4.6C-23.5 -3.5 -30.2 -2.2 -32.3 -1.4C-34.4 -0.6 -32.3 -0.2 -32.3 -0.0Z" fill="#F564E3" stroke="#333" stroke-width="1.15" stroke-linejoin="round"/><path d="M-29.0 0H29.0" stroke="#000" stroke-width="2.40" stroke-linecap="round"/><path transform="scale(.1)" d="m-235-929h0m478 8h0m-168 27h0m44 15h0m-373 7h0m280 3h0m-243 13h0m11-3h0m-4 8h0m481 4h0m-533 3h0m326 6h0m152-1h0m49-5h0m3 5h0m-115 6h0m-161 19h0m59 0h0m-132 9h0m69 7h0m7-2h0m105-4h0m103 1h0m-310 18h0m332-6h0m23-1h0m-109 15h0m77 2h0m12-7h0m-514 11h0m85 15h0m362-5h0m76-4h0m-357 16h0m-44 6h0m59 0h0m164 1h0m143 1h0m-44 8h0m-447 9h0m75 6h0m285 0h0m-95 3h0m4 2h0m191 6h0m-404 5h0m10 4h0m51-3h0m77-2h0m-176 11h0m310-1h0m42 6h0m149-4h0m-488 13h0m11-2h0m247-3h0m95 3h0m-373 7h0m162 6h0m22 0h0m270-8h0m-393 15h0m177 5h0m103-1h0m8-7h0m115 3h0m13 5h0m19-5h0m44 2h0m17-5h0m-132 13h0m3 4h0m62 0h0m68-4h0m-400 13h0m21-7h0m189 3h0m2-1h0m54 1h0m-331 8h0m58 5h0m8-5h0m9 3h0m191 1h0m119 1h0m16-5h0m5 0h0m-485 14h0m113 0h0m20-1h0m95-1h0m259 2h0m-511 11h0m67 2h0m69 0h0m119-4h0m4 4h0m17-8h0m272 3h0m7 1h0m-551 7h0m131 7h0m184-5h0m10 1h0m19 4h0m62 1h0m49-2h0m-457 11h0m108 0h0m7 0h0m73-9h0m19 8h0m17-4h0m26 1h0m10 0h0m150-4h0m20 2h0m136 1h0m10 6h0m-544 2h0m112 6h0m39-4h0m69-4h0m115 2h0m1 5h0m105-4h0m14 2h0m51 5h0m-477 8h0m17 0h0m15-3h0m198-1h0m10 3h0m3 0h0m59 2h0m2-6h0m44 5h0m13-5h0m47 2h0m43 1h0m20-4h0m-526 9h0m46 7h0m121-7h0m116 2h0m71 1h0m33 3h0m116 0h0m-501 11h0m4 0h0m139-3h0m36 5h0m36-1h0m7-4h0m67 1h0m22-1h0m46 4h0m31 0h0m24 0h0m-340 9h0m117-6h0m11 5h0m84-7h0m1 10h0m49-7h0m34 4h0m49-3h0m7 2h0m7 1h0m21-2h0m10 4h0m56 0h0m2-5h0m22-3h0m2 7h0m-545 9h0m104 1h0m138-6h0m113 2h0m59 1h0m30 2h0m90-2h0m9-2h0m-505 14h0m10-5h0m40 6h0m3-4h0m64 0h0m13 0h0m44-4h0m50 2h0m28 1h0m1-3h0m15 2h0m17 0h0m29 5h0m6 2h0m20-1h0m78-3h0m20-4h0m42 6h0m47-4h0m-543 16h0m77-7h0m16 1h0m90 6h0m27 0h0m50-6h0m48 0h0m27 2h0m8 4h0m92-3h0m73-3h0m-534 11h0m1 3h0m193-4h0m31-3h0m216 7h0m25-3h0m9 0h0m15 4h0m30 0h0m31-4h0m-503 7h0m1 5h0m3-4h0m97 5h0m64 0h0m11 1h0m102-4h0m16-3h0m39 8h0m91-2h0m48-2h0m-433 6h0m73 5h0m29 3h0m29 0h0m18-5h0m47 1h0m28-2h0m1 5h0m34-2h0m82-1h0m128 0h0m-491 11h0m88-1h0m21 4h0m26-2h0m54-7h0m1 4h0m5 2h0m179 1h0m70-4h0m13 4h0m14-6h0m-539 14h0m25 4h0m7 0h0m51-7h0m77 5h0m17-2h0m17 3h0m40-3h0m4-4h0m4 3h0m158-3h0m7 3h0m47-2h0m-455 9h0m36 8h0m43-6h0m73 0h0m28 2h0m14 0h0m20-3h0m137-1h0m12 7h0m6-4h0m26 4h0m104-1h0m-457 4h0m7 7h0m264-6h0m45 2h0m43 0h0m40 0h0m19 0h0m65 5h0m11-8h0m-497 17h0m60-2h0m18 0h0m17-2h0m2 2h0m20 0h0m102 4h0m23-7h0m168 3h0m10 2h0m2-5h0m2 1h0m75 6h0m-496 0h0m40 4h0m0 0h0m108-3h0m26 1h0m10 3h0m5 1h0m78-1h0m41 4h0m39-8h0m12-1h0m13 6h0m27-3h0m82 1h0m16 3h0m1-4h0m13 5h0m-470 4h0m68 2h0m22 1h0m9-2h0m18 1h0m61 3h0m37 0h0m4-2h0m80-1h0m48 2h0m90-5h0m-515 11h0m111-2h0m7 1h0m149 4h0m22 1h0m20 4h0m42-5h0m24 0h0m6 0h0m19-2h0m2-3h0m5 1h0m50 3h0m44-1h0m3 6h0m39-1h0m-424 10h0m14-6h0m11 6h0m76-8h0m91 5h0m86 5h0m9-4h0m21 1h0m86 0h0m0-5h0m3-2h0m26 4h0m2 2h0m-348 8h0m20-1h0m23 2h0m88-1h0m6-3h0m32 5h0m-307 9h0m16-4h0m207 5h0m66 0h0m131 2h0m67-8h0m-550 19h0m94-9h0m0 7h0m15-2h0m3 1h0m35 3h0m16-5h0m26 6h0m2-8h0m85 3h0m13-5h0m192 10h0m15-3h0m75-6h0m-555 16h0m30-2h0m23-4h0m44 8h0m17-6h0m0 3h0m204 0h0m115 0h0m8-2h0m22 4h0m37 1h0m-507 10h0m6 1h0m4-6h0m90 4h0m24 1h0m193-7h0m50 3h0m5 1h0m16 3h0m143-6h0m-539 7h0m18 8h0m31-1h0m41-3h0m199 1h0m33-3h0m12 0h0m205-1h0m22 5h0m3 0h0m-554 8h0m119 2h0m7-4h0m20 4h0m5-4h0m55 7h0m58-4h0m29-4h0m29 0h0m13 1h0m4 7h0m29-8h0m32 8h0m73-2h0m65-6h0m2 2h0m-547 11h0m147-2h0m69 2h0m23 1h0m21 1h0m64 4h0m87-6h0m75 0h0m42 0h0m14 3h0m23-6h0m-565 15h0m7-5h0m66 3h0m12-1h0m25 6h0m25-4h0m71 3h0m74 0h0m90-2h0m18 2h0m72-2h0m52 0h0m18 1h0m1-5h0m19-1h0m3 2h0m17 0h0m2 5h0m-563 9h0m30-3h0m75 3h0m1 1h0m60-1h0m17-3h0m27-3h0m21 3h0m5 0h0m68 2h0m40 3h0m8-4h0m164 4h0m22-2h0m24-4h0m-572 14h0m30-2h0m0-2h0m39 3h0m80 2h0m7-3h0m6 0h0m44 2h0m40-2h0m6 4h0m53-5h0m1 4h0m36 0h0m9-7h0m127 3h0m-482 8h0m85-1h0m4 2h0m39 2h0m116 1h0m17 4h0m49-3h0m24-2h0m46 2h0m9 3h0m68-8h0m111 1h0m-555 13h0m49-2h0m15-2h0m10 7h0m58-8h0m87 8h0m99 1h0m6-4h0m102 1h0m51-3h0m32 1h0m2-1h0m29 3h0m2-6h0m4 3h0m-409 8h0m114 1h0m37 4h0m37-4h0m58 5h0m41 0h0m1-3h0m14-4h0m21 2h0m64 1h0m2 0h0m10 2h0m-491 11h0m75 1h0m158-7h0m38 4h0m42 2h0m25-2h0m132-4h0m44 0h0m-529 13h0m89-3h0m5 6h0m43 2h0m7-3h0m118-2h0m12 1h0m41 2h0m16-6h0m157 5h0m13-5h0m-484 9h0m23 6h0m16 1h0m49 2h0m108-6h0m4-1h0m44 7h0m13-7h0m2 1h0m3 5h0m18-2h0m12 0h0m62 3h0m13-6h0m57 7h0m15-3h0m10-7h0m25 6h0m3 3h0m30-8h0m-290 16h0m50-3h0m86 5h0m20-1h0m144 2h0m-528 8h0m104-2h0m47 3h0m14 1h0m8-5h0m5-3h0m5 4h0m35-1h0m5 0h0m39-5h0m44 6h0m219-1h0m-530 7h0m3 5h0m160-3h0m31-1h0m62 1h0m66 4h0m52-5h0m67 3h0m3 2h0m3-4h0m12 2h0m14 2h0m54-2h0m6-4h0m-536 13h0m67-3h0m213 4h0m212 1h0m13-6h0m23 6h0m-555 12h0m65-5h0m4-4h0m23 4h0m87 4h0m39-3h0m102-3h0m42-1h0m28 6h0m32 2h0m-416 4h0m106 4h0m3 1h0m21-3h0m77 4h0m51 0h0m82-7h0m175 1h0m30-1h0m-536 18h0m33-8h0m21 0h0m113 5h0m143 2h0m221-9h0m-521 11h0m51 2h0m42 5h0m46-3h0m189-5h0m75 6h0m-94 9h0m-330 8h0" stroke="#000" stroke-width="22.5" stroke-linecap="round" fill="none"/></g>
<path d="M1567.6 1426.3000000000002V1557.3H2018.4" stroke="#2b2b2b" stroke-width="1.7" stroke-linejoin="round" fill="none"/>
<text transform="translate(1622.3,1575.6) rotate(-45)" font-size="22" text-anchor="end" fill="#262626">Breg</text>
<text transform="translate(1695.0,1575.6) rotate(-45)" font-size="22" text-anchor="end" fill="#262626">CMo</text>
<text transform="translate(1767.6,1575.6) rotate(-45)" font-size="22" text-anchor="end" fill="#262626">NMo</text>
<text transform="translate(1840.2,1575.6) rotate(-45)" font-size="22" text-anchor="end" fill="#262626">IMo</text>
<text transform="translate(1912.9,1575.6) rotate(-45)" font-size="22" text-anchor="end" fill="#262626">cDC1</text>
<text transform="translate(1985.5,1575.6) rotate(-45)" font-size="22" text-anchor="end" fill="#262626">cDC2</text>
</svg>
</body></html>
